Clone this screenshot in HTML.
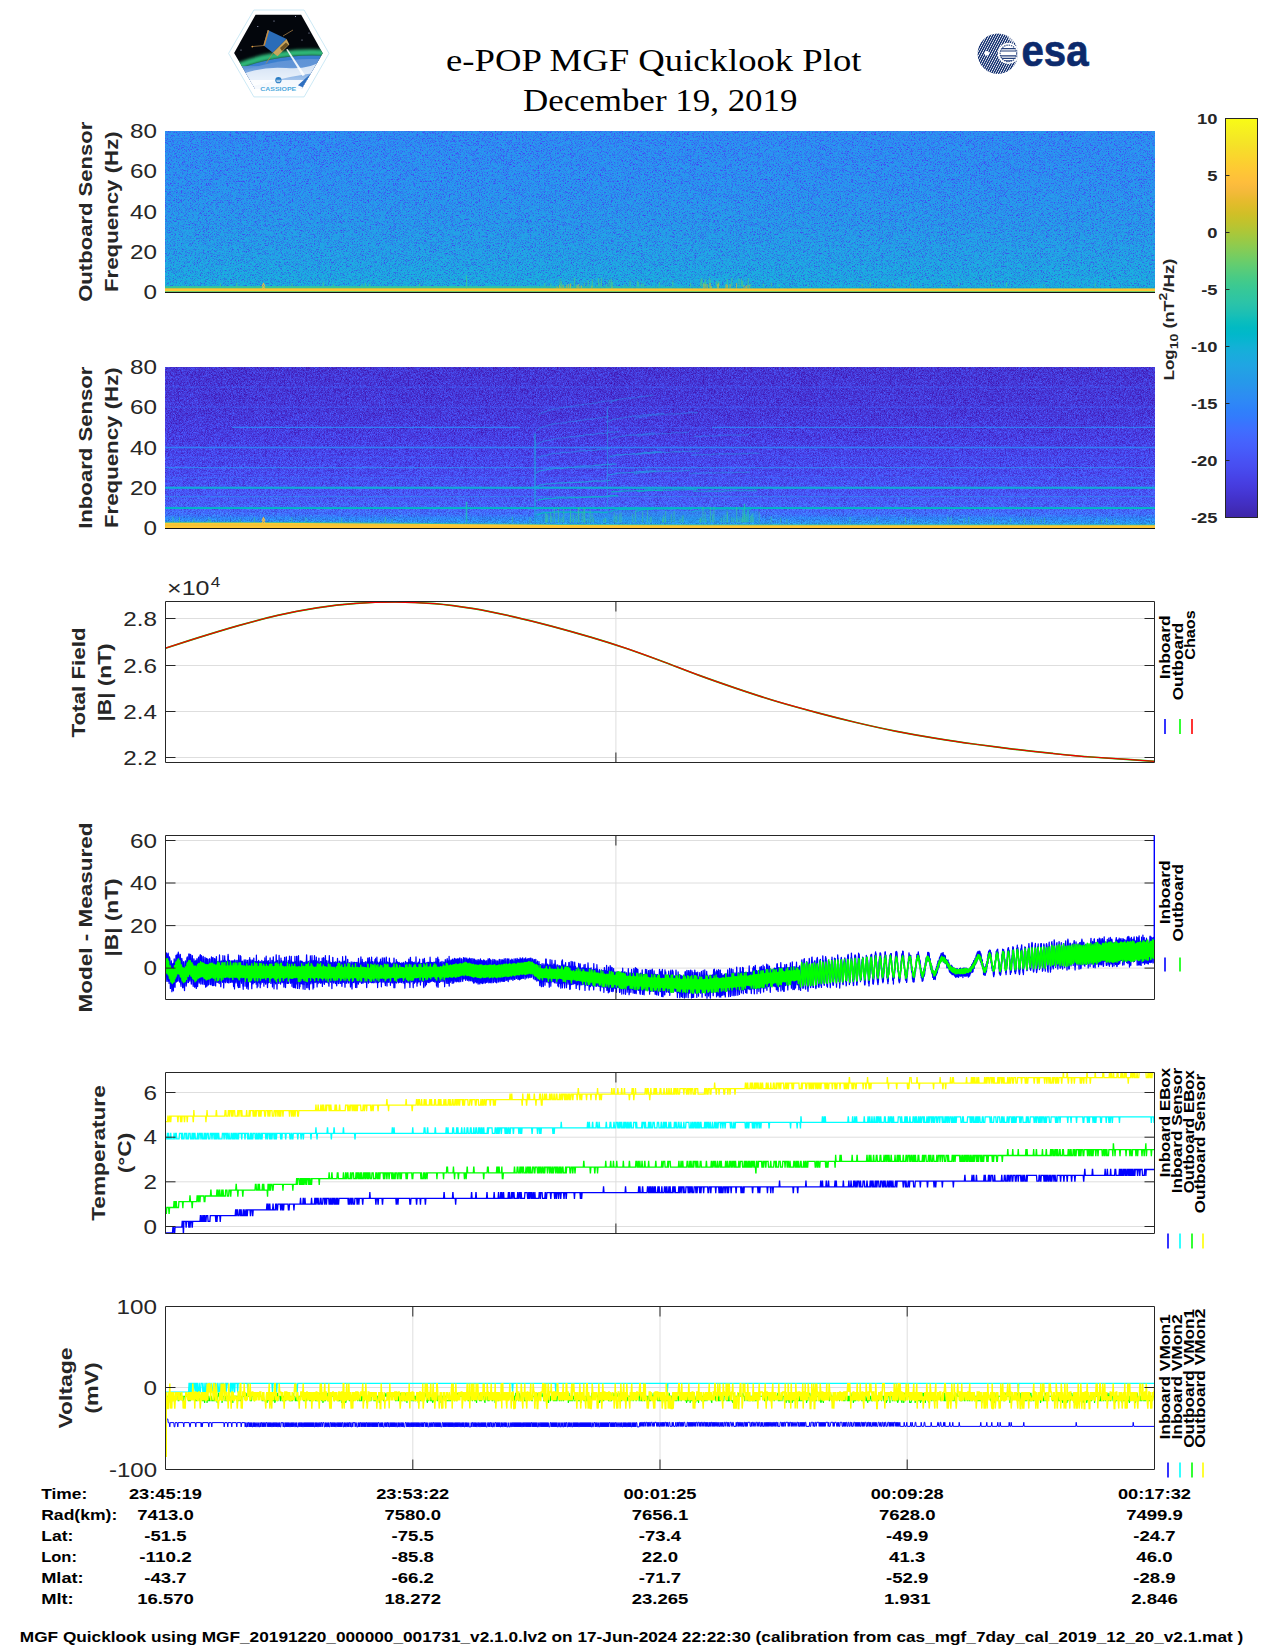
<!DOCTYPE html>
<html><head><meta charset="utf-8"><title>e-POP MGF Quicklook Plot</title><style>html,body{margin:0;padding:0;background:#fff}svg{display:block}text{white-space:pre}</style></head><body><svg width="1275" height="1650" viewBox="0 0 1275 1650" font-family="Liberation Sans, sans-serif" fill="#262626">
<defs><linearGradient id="cb" x1="0" y1="0" x2="0" y2="1"><stop offset="0.0000" stop-color="#f9fb15"/><stop offset="0.0159" stop-color="#f7f51b"/><stop offset="0.0317" stop-color="#f6ef20"/><stop offset="0.0476" stop-color="#f5e924"/><stop offset="0.0635" stop-color="#f5e327"/><stop offset="0.0794" stop-color="#f7dc2a"/><stop offset="0.0952" stop-color="#fad62d"/><stop offset="0.1111" stop-color="#fccf30"/><stop offset="0.1270" stop-color="#fec934"/><stop offset="0.1429" stop-color="#fec338"/><stop offset="0.1587" stop-color="#febe3c"/><stop offset="0.1746" stop-color="#f8ba3d"/><stop offset="0.1905" stop-color="#f0ba36"/><stop offset="0.2063" stop-color="#e6bb2d"/><stop offset="0.2222" stop-color="#dcbd29"/><stop offset="0.2381" stop-color="#d1bf27"/><stop offset="0.2540" stop-color="#c5c22a"/><stop offset="0.2698" stop-color="#b9c431"/><stop offset="0.2857" stop-color="#abc739"/><stop offset="0.3016" stop-color="#9dc943"/><stop offset="0.3175" stop-color="#8fcb4e"/><stop offset="0.3333" stop-color="#81cc59"/><stop offset="0.3492" stop-color="#72cd64"/><stop offset="0.3651" stop-color="#64cd6f"/><stop offset="0.3810" stop-color="#57cc7a"/><stop offset="0.3968" stop-color="#4acb84"/><stop offset="0.4127" stop-color="#3fca8e"/><stop offset="0.4286" stop-color="#37c897"/><stop offset="0.4444" stop-color="#31c69f"/><stop offset="0.4603" stop-color="#2cc4a7"/><stop offset="0.4762" stop-color="#24c1ae"/><stop offset="0.4921" stop-color="#19bfb6"/><stop offset="0.5079" stop-color="#0bbdbd"/><stop offset="0.5238" stop-color="#02bac3"/><stop offset="0.5397" stop-color="#01b8ca"/><stop offset="0.5556" stop-color="#08b5d0"/><stop offset="0.5714" stop-color="#12b1d6"/><stop offset="0.5873" stop-color="#18addb"/><stop offset="0.6032" stop-color="#1ca9df"/><stop offset="0.6190" stop-color="#20a5e3"/><stop offset="0.6349" stop-color="#23a0e5"/><stop offset="0.6508" stop-color="#259be8"/><stop offset="0.6667" stop-color="#2797eb"/><stop offset="0.6825" stop-color="#2b91ef"/><stop offset="0.6984" stop-color="#2d8cf3"/><stop offset="0.7143" stop-color="#2e87f7"/><stop offset="0.7302" stop-color="#2f81fa"/><stop offset="0.7460" stop-color="#327cfc"/><stop offset="0.7619" stop-color="#3875fe"/><stop offset="0.7778" stop-color="#3e6fff"/><stop offset="0.7937" stop-color="#4269fe"/><stop offset="0.8095" stop-color="#4563fd"/><stop offset="0.8254" stop-color="#465efb"/><stop offset="0.8413" stop-color="#4758f8"/><stop offset="0.8571" stop-color="#4852f4"/><stop offset="0.8730" stop-color="#484df0"/><stop offset="0.8889" stop-color="#4747eb"/><stop offset="0.9048" stop-color="#4741e5"/><stop offset="0.9206" stop-color="#463cde"/><stop offset="0.9365" stop-color="#4537d5"/><stop offset="0.9524" stop-color="#4332cb"/><stop offset="0.9683" stop-color="#422ec0"/><stop offset="0.9841" stop-color="#402ab4"/><stop offset="1.0000" stop-color="#3e26a8"/></linearGradient><linearGradient id="g1" x1="0" y1="0" x2="0" y2="1"><stop offset="0.0000" stop-color="#2c8ff0"/><stop offset="0.3383" stop-color="#2994ed"/><stop offset="0.5799" stop-color="#269ae8"/><stop offset="0.7732" stop-color="#22a2e4"/><stop offset="0.8988" stop-color="#1da8e0"/><stop offset="0.9665" stop-color="#1aacdd"/><stop offset="1.0000" stop-color="#02b7cb"/></linearGradient><linearGradient id="g2" x1="0" y1="0" x2="0" y2="1"><stop offset="0.0000" stop-color="#4536d3"/><stop offset="0.2904" stop-color="#4639d9"/><stop offset="0.4356" stop-color="#473ee1"/><stop offset="0.5808" stop-color="#4746ea"/><stop offset="0.7260" stop-color="#484ff2"/><stop offset="0.8422" stop-color="#475cfa"/><stop offset="0.9099" stop-color="#416bfe"/><stop offset="0.9438" stop-color="#2e83f9"/><stop offset="0.9680" stop-color="#2a92ee"/><stop offset="1.0000" stop-color="#21a4e3"/></linearGradient><filter id="n1" x="0" y="0" width="100%" height="100%" color-interpolation-filters="sRGB"><feTurbulence type="fractalNoise" baseFrequency="1.37 1.53" numOctaves="1" seed="7" result="t"/><feComponentTransfer in="t" result="t"><feFuncR type="table" tableValues="0 0 0.05 0.5 0.86 0.96 1 1 1"/></feComponentTransfer><feColorMatrix in="t" type="matrix" values="-0.13 0 0 0 0.6118  0.4 0 0 0 0.1560  -0.03 0 0 0 0.5258  0 0 0 0 1" result="n"/><feComposite in="SourceGraphic" in2="n" operator="arithmetic" k1="0" k2="1" k3="1" k4="-0.5"/></filter><filter id="n2" x="0" y="0" width="100%" height="100%" color-interpolation-filters="sRGB"><feTurbulence type="fractalNoise" baseFrequency="1.37 1.53" numOctaves="1" seed="11" result="t"/><feColorMatrix in="t" type="matrix" values="0.06 0 0 0 0.4700  0.55 0 0 0 0.2250  0.62 0 0 0 0.1900  0 0 0 0 1" result="n"/><feComposite in="SourceGraphic" in2="n" operator="arithmetic" k1="0" k2="1" k3="1" k4="-0.5"/></filter></defs>
<rect width="1275" height="1650" fill="#fff"/>
<text x="446.00" y="70.80" font-size="32" fill="#000" textLength="415.50" lengthAdjust="spacingAndGlyphs" font-family="Liberation Serif, serif">e-POP MGF Quicklook Plot</text>
<text x="523.00" y="110.90" font-size="32" fill="#000" textLength="274.50" lengthAdjust="spacingAndGlyphs" font-family="Liberation Serif, serif">December 19, 2019</text>
<g>
<defs><clipPath id="hx"><polygon points="234.1,52.9 255.6,14.8 301.2,14.8 322.7,53.2 301.6,89.1 255.2,89.1"/></clipPath><linearGradient id="earth" x1="0" y1="0" x2="0" y2="1"><stop offset="0" stop-color="#5f93d6"/><stop offset="0.45" stop-color="#a9c8ee"/><stop offset="1" stop-color="#f4f8ff"/></linearGradient><linearGradient id="aur" x1="0" y1="0" x2="0" y2="1"><stop offset="0" stop-color="#021a10"/><stop offset="0.6" stop-color="#1f8f5a"/><stop offset="1" stop-color="#4fc58e"/></linearGradient></defs>
<polygon points="228.6,53.4 253.9,10 304.1,10 329,53.4 304.1,96.9 253.9,96.9" fill="#fff" stroke="#bfe3f3" stroke-width="0.8"/>
<g clip-path="url(#hx)">
<rect x="230" y="12" width="96" height="80" fill="#03060c"/>
<filter id="bl" x="-5%" y="-5%" width="110%" height="110%"><feGaussianBlur stdDeviation="1.6"/></filter>
<circle cx="312" cy="262" r="209.5" fill="none" stroke="#2fb878" stroke-width="6.5" filter="url(#bl)"/>
<circle cx="312" cy="262" r="206.5" fill="#3a7fcf"/>
<circle cx="312" cy="266" r="207" fill="url(#earth)"/>
<rect x="230" y="66" width="96" height="26" fill="url(#earth)" opacity="0.8"/>
<path d="M240,75 Q262,66 286,68 T322,60 L322,72 Q290,76 270,82 T240,86Z" fill="#fff" opacity="0.75"/>
<rect x="240" y="80" width="80" height="10" fill="#fff" opacity="0.85"/>
<polygon points="297.9,85.3 310.4,74 304,87.8" fill="#2d6fc0"/>
<polygon points="286.2,49.5 287.6,49 305,75 302.5,76" fill="#fff" opacity="0.9"/>
<polygon points="267.7,30.1 286.6,38.9 272.8,52.7 263.4,45.2" fill="#2a6cb8"/>
<polygon points="267.7,30.1 269.2,30.6 264.8,45.8 263.4,45.2" fill="#c88a3a"/>
<polygon points="286.6,38.9 289.3,44.5 277.5,56.3 272.8,52.7" fill="#c9a55c"/>
<polygon points="280,48 286,42.5 288.5,45 282,51" fill="#6b5222"/>
<path d="M264,45.5 L252,46.6 M273,53 L266,63.5 M283,36 L293,30" stroke="#b88a4a" stroke-width="0.7" fill="none"/>
<circle cx="252.3" cy="46.6" r="0.9" fill="#e8a040"/>
<circle cx="257.8" cy="26.5" r="0.5" fill="#cfd8ff"/>
<circle cx="241" cy="50" r="0.5" fill="#cfd8ff"/>
<circle cx="295.5" cy="16.5" r="0.5" fill="#cfd8ff"/>
<circle cx="302" cy="40" r="0.5" fill="#cfd8ff"/>
<circle cx="274" cy="21" r="0.5" fill="#cfd8ff"/>
<circle cx="309" cy="33" r="0.5" fill="#cfd8ff"/>
</g>
<circle cx="278.4" cy="80.2" r="3.1" fill="#2a7cc4"/><path d="M276.3,80.3h4.4M276.6,81.6h3.6" stroke="#fff" stroke-width="0.7"/>
<text x="260.20" y="90.60" font-size="5.2" font-weight="bold" fill="#4fa9dc" textLength="36.00" lengthAdjust="spacingAndGlyphs">CASSIOPE</text>
</g>
<g>
<defs><pattern id="hat" width="2.1" height="2.1" patternUnits="userSpaceOnUse" patternTransform="rotate(-62)"><rect width="2.1" height="2.1" fill="#fff"/><rect width="2.1" height="1.35" fill="#0c2a6c"/></pattern><clipPath id="ec"><circle cx="997.8" cy="53.7" r="20.2"/></clipPath><clipPath id="ee"><circle cx="1008.4" cy="53.4" r="8.3"/></clipPath></defs>
<circle cx="997.8" cy="53.7" r="20.2" fill="url(#hat)"/>
<g clip-path="url(#ec)"><circle cx="1008.4" cy="53.4" r="10.6" fill="#fff"/><circle cx="1015" cy="36" r="7" fill="#fff" opacity="0.6"/></g>
<g clip-path="url(#ee)"><path d="M1000,48.6h17M1000,51h17M1000,55.8h17M1000,58.4h17M1000,60.9h17" stroke="#0c2a6c" stroke-width="1.15" opacity="0.9"/><rect x="1007" y="52.4" width="12" height="2.6" fill="#fff"/></g>
<circle cx="1008.4" cy="53.4" r="8.3" fill="none" stroke="#0c2a6c" stroke-width="1.1" stroke-dasharray="1.4 0.9" opacity="0.85"/>
<circle cx="986.8" cy="53.3" r="2.4" fill="#fff"/>
<text x="1021.50" y="66.00" font-size="43.5" font-weight="bold" fill="#0c2a6c" textLength="67.00" lengthAdjust="spacingAndGlyphs" stroke="#0c2a6c" stroke-width="0.7">esa</text>
</g>
<rect x="165" y="131" width="990" height="161" fill="url(#g1)" filter="url(#n1)"/>
<linearGradient id="fade" x1="165" x2="1155" y1="0" y2="0" gradientUnits="userSpaceOnUse"><stop offset="0" stop-color="#fff" stop-opacity="1"/><stop offset="0.3" stop-color="#fff" stop-opacity="1"/><stop offset="0.62" stop-color="#fff" stop-opacity="0"/><stop offset="1" stop-color="#fff" stop-opacity="0"/></linearGradient><mask id="mfade"><rect x="165" y="280" width="990" height="20" fill="url(#fade)"/></mask>
<g mask="url(#mfade)">
<rect x="165" y="285.8" width="990" height="0.80" fill="#14bfb8"/>
<rect x="165" y="286.5" width="990" height="1.80" fill="#51cc7f"/>
<rect x="165" y="288.2" width="990" height="0.60" fill="#b0c636"/>
</g>
<rect x="165" y="287.3" width="990" height="1.0" fill="#04bbc2" opacity=".5"/>
<rect x="165" y="288.4" width="990" height="2.80" fill="#fec735"/>
<rect x="165" y="291.1" width="990" height="1.00" fill="#7dcc5b"/>
<path d="M592.4,286.5v-7.2M601.4,286.5v-8.6M598.5,286.5v-8.5M561.5,286.5v-5.3M609.1,286.5v-6.5M606.8,286.5v-2.8M584.4,286.5v-3.7M588.3,286.5v-6.0M560.7,286.5v-3.5M574.5,286.5v-8.4M599.8,286.5v-3.1M601.5,286.5v-3.0M592.1,286.5v-2.9M560.1,286.5v-8.1M570.9,286.5v-3.5M611.1,286.5v-8.1M637.5,286.5v-5.8M659.5,286.5v-4.7M630.0,286.5v-5.8M672.8,286.5v-5.9M690.6,286.5v-3.2M643.8,286.5v-2.7M624.8,286.5v-2.3M638.5,286.5v-4.4M612.3,286.5v-4.7M641.7,286.5v-3.2M742.6,286.5v-5.4M716.4,286.5v-5.4M736.6,286.5v-2.4M750.7,286.5v-2.2M739.0,286.5v-7.9M700.9,286.5v-7.5M719.0,286.5v-6.0M700.5,286.5v-2.3M709.4,286.5v-8.7M710.2,286.5v-7.3M748.3,286.5v-8.6M717.9,286.5v-4.5M727.3,286.5v-7.4M705.6,286.5v-7.2M741.5,286.5v-8.0M701.9,286.5v-8.6M704.7,286.5v-4.4M731.8,286.5v-8.4M870.3,286.5v-3.8M941.7,286.5v-2.6M862.2,286.5v-2.4M779.2,286.5v-2.3M991.8,286.5v-4.0M808.2,286.5v-2.1M1095.4,286.5v-3.1M893.2,286.5v-2.5M958.7,286.5v-3.7M910.6,286.5v-2.8M771.4,286.5v-3.8M763.4,286.5v-3.0M1043.8,286.5v-2.3M1006.6,286.5v-3.9M419.6,286.5v-3.6M220.5,286.5v-2.9M236.7,286.5v-3.7M292.0,286.5v-2.9M559.7,286.5v-3.7M550.9,286.5v-2.9M365.5,286.5v-3.5M362.0,286.5v-2.6M333.4,286.5v-2.3M323.3,286.5v-4.0M544.7,286.5v-3.3M369.7,286.5v-2.7M466.5,288.5v-13" stroke="#44cb8a" stroke-width="1.1" opacity="0.7" fill="none"/>
<path d="M568.7,288.8v-4.9M563.1,288.8v-4.0M560.8,288.8v-2.4M612.0,288.8v-2.2M591.9,288.8v-3.1M581.4,288.8v-3.2M566.8,288.8v-4.4M561.0,288.8v-2.3M557.1,288.8v-2.4M578.8,288.8v-4.7M577.2,288.8v-1.9M570.5,288.8v-5.0M559.5,288.8v-3.7M577.1,288.8v-3.8M717.6,288.8v-4.6M725.9,288.8v-4.4M746.9,288.8v-4.1M707.4,288.8v-1.8M749.2,288.8v-3.7M710.1,288.8v-5.8M730.1,288.8v-4.8M745.8,288.8v-2.8M718.5,288.8v-5.5M707.0,288.8v-4.9M705.1,288.8v-4.6M736.5,288.8v-5.8M743.9,288.8v-3.8M710.3,288.8v-2.2M727.5,288.8v-3.8M703.7,288.8v-5.6M726.4,288.8v-4.7M711.4,288.8v-2.6" stroke="#dcbd29" stroke-width="1.1" opacity="0.6" fill="none"/>
<path d="M261.5,289.8l2,-3 2,3M262,286.6l1.5,-3 1.5,3" stroke="#f7ba3c" stroke-width="1.1" fill="none" opacity=".9"/>
<path d="M165,292.5H1155" stroke="#111" stroke-width="1"/>
<text x="157.00" y="138.15" font-size="20.0" text-anchor="end" textLength="26.97" lengthAdjust="spacingAndGlyphs">80</text>
<text x="157.00" y="178.45" font-size="20.0" text-anchor="end" textLength="26.97" lengthAdjust="spacingAndGlyphs">60</text>
<text x="157.00" y="218.75" font-size="20.0" text-anchor="end" textLength="26.97" lengthAdjust="spacingAndGlyphs">40</text>
<text x="157.00" y="259.05" font-size="20.0" text-anchor="end" textLength="26.97" lengthAdjust="spacingAndGlyphs">20</text>
<text x="157.00" y="299.35" font-size="20.0" text-anchor="end" textLength="13.48" lengthAdjust="spacingAndGlyphs">0</text>
<text x="92.00" y="301.80" font-size="19.0" font-weight="bold" transform="rotate(-90 92.00 301.80)" textLength="180.20" lengthAdjust="spacingAndGlyphs">Outboard Sensor</text>
<text x="118.00" y="292.11" font-size="19.0" font-weight="bold" transform="rotate(-90 118.00 292.11)" textLength="160.83" lengthAdjust="spacingAndGlyphs">Frequency (Hz)</text>
<rect x="165" y="367.0" width="990" height="161" fill="url(#g2)" filter="url(#n2)"/>
<path d="M165,387.1H1155" stroke="#3c72ff" stroke-width="1.0" opacity="0.45"/>
<path d="M165,407.2H1155" stroke="#3c72ff" stroke-width="1.0" opacity="0.5"/>
<path d="M232,427.4H520" stroke="#2e87f7" stroke-width="1.2" opacity="0.9"/>
<path d="M712,427.4H1155" stroke="#2e87f7" stroke-width="1.2" opacity="0.85"/>
<path d="M520,427.4H712" stroke="#337bfd" stroke-width="1.0" opacity="0.4"/>
<path d="M165,447.5H1155" stroke="#2e87f7" stroke-width="1.4" opacity="0.9"/>
<path d="M165,467.6H1155" stroke="#2d8bf4" stroke-width="1.1" opacity="0.8"/>
<path d="M165,477.7H1155" stroke="#2e83f9" stroke-width="1.0" opacity="0.4"/>
<path d="M165,457.6H1155" stroke="#337bfd" stroke-width="1.0" opacity="0.3"/>
<path d="M165,496.6H1155" stroke="#2a92ee" stroke-width="1.2" opacity="0.55"/>
<path d="M165,517.9H1155" stroke="#2699e9" stroke-width="1.0" opacity="0.35"/>
<path d="M165,487.8H1155" stroke="#0eb2d4" stroke-width="2.0" opacity="0.95"/>
<path d="M165,507.9H1155" stroke="#01b9c6" stroke-width="2.0" opacity="0.95"/>
<rect x="536" y="510.9" width="222" height="11.6" fill="#19addc" opacity=".35"/>
<path d="M536.5,515.1L540.5,513.6L544.5,512.7L548.5,512.6L552.5,512.4L556.5,511.9L560.5,511.9L564.5,512.5L568.5,512.0L572.5,512.0L576.5,512.6L580.5,512.2L584.5,512.5L588.5,512.2L592.5,512.3L596.5,511.9L600.5,512.3L604.5,512.5L608.5,512.2" stroke="#04bbc2" stroke-width="1.3" fill="none" opacity="0.84"/>
<path d="M538.0,500.0L542.0,499.3L546.0,498.5L550.0,498.7L554.0,498.4L558.0,498.0L562.0,497.6L566.0,498.1L570.0,497.6L574.0,497.7L578.0,497.7L582.0,497.4L586.0,497.4L590.0,496.8L594.0,497.0L598.0,496.6L602.0,496.8L606.0,496.6L610.0,495.8L614.0,495.7L618.0,495.6" stroke="#04bbc2" stroke-width="1.3" fill="none" opacity="0.78"/>
<path d="M535.0,487.3L539.0,485.4L543.0,484.7L547.0,483.9L551.0,483.7L555.0,483.3L559.0,483.0L563.0,482.9L567.0,482.7L571.0,482.7L575.0,482.3L579.0,482.3L583.0,482.0L587.0,481.9L591.0,481.4L595.0,480.8L599.0,481.2L603.0,481.0L607.0,480.7L611.0,480.3" stroke="#1ea7e1" stroke-width="1.3" fill="none" opacity="0.72"/>
<path d="M536.5,472.6L540.5,470.6L544.5,470.1L548.5,469.3L552.5,468.6L556.5,468.0L560.5,468.3L564.5,468.1L568.5,467.1L572.5,467.4L576.5,466.7L580.5,466.2L584.5,466.1L588.5,466.1L592.5,465.9L596.5,465.0L600.5,465.1L604.5,464.4L608.5,464.6L612.5,464.0L616.5,464.2" stroke="#1ea7e1" stroke-width="1.3" fill="none" opacity="0.66"/>
<path d="M538.0,458.0L542.0,456.0L546.0,455.4L550.0,454.2L554.0,453.4L558.0,453.4L562.0,452.5L566.0,452.3L570.0,452.1L574.0,451.8L578.0,451.1L582.0,450.6L586.0,450.9L590.0,450.1L594.0,450.3L598.0,449.8L602.0,449.1L606.0,448.8L610.0,448.4" stroke="#2a92ee" stroke-width="1.3" fill="none" opacity="0.60"/>
<path d="M535.0,446.0L539.0,443.1L543.0,441.3L547.0,440.3L551.0,439.8L555.0,438.8L559.0,438.2L563.0,437.9L567.0,437.1L571.0,436.7L575.0,436.8L579.0,436.0L583.0,435.5L587.0,434.7L591.0,434.5L595.0,434.2L599.0,433.3L603.0,433.4L607.0,432.9L611.0,432.0L615.0,432.1L619.0,431.5" stroke="#2a92ee" stroke-width="1.3" fill="none" opacity="0.54"/>
<path d="M536.5,430.8L540.5,427.8L544.5,426.4L548.5,425.4L552.5,424.0L556.5,423.3L560.5,423.2L564.5,422.9L568.5,421.8L572.5,421.4L576.5,421.0L580.5,420.3L584.5,419.8L588.5,419.2L592.5,418.8L596.5,418.4L600.5,417.7L604.5,417.2L608.5,417.0" stroke="#2a92ee" stroke-width="1.3" fill="none" opacity="0.48"/>
<path d="M538.0,415.0L542.0,412.9L546.0,411.4L550.0,409.9L554.0,409.0L558.0,408.7L562.0,407.6L566.0,407.0L570.0,406.6L574.0,406.2L578.0,405.1L582.0,404.7L586.0,404.1L590.0,403.9L594.0,403.0L598.0,402.7L602.0,401.6L606.0,401.1L610.0,400.8L614.0,400.4L618.0,399.5" stroke="#2a92ee" stroke-width="1.3" fill="none" opacity="0.42"/>
<path d="M609.5,511.8L613.5,510.2L617.5,509.8L621.5,509.3L625.5,509.6L629.5,509.6L633.5,509.0L637.5,509.1L641.5,509.5L645.5,509.4L649.5,509.5L653.5,509.1" stroke="#04bbc2" stroke-width="1.3" fill="none" opacity="0.79"/>
<path d="M611.0,491.8L615.0,491.5L619.0,491.6L623.0,491.0L627.0,490.9L631.0,490.8L635.0,490.7L639.0,490.5L643.0,490.8L647.0,490.0L651.0,489.8L655.0,490.4L659.0,490.2L663.0,490.2" stroke="#04bbc2" stroke-width="1.3" fill="none" opacity="0.73"/>
<path d="M608.0,474.8L612.0,474.3L616.0,473.7L620.0,472.8L624.0,472.9L628.0,472.7L632.0,472.4L636.0,472.0L640.0,471.7L644.0,471.5L648.0,471.2L652.0,470.9L656.0,471.1" stroke="#1ea7e1" stroke-width="1.3" fill="none" opacity="0.67"/>
<path d="M609.5,456.5L613.5,455.9L617.5,454.6L621.5,454.8L625.5,454.3L629.5,454.2L633.5,453.9L637.5,453.6L641.5,453.1L645.5,452.3L649.5,452.7L653.5,452.0L657.5,451.8L661.5,451.8" stroke="#1ea7e1" stroke-width="1.3" fill="none" opacity="0.61"/>
<path d="M611.0,438.3L615.0,437.1L619.0,436.8L623.0,436.1L627.0,435.4L631.0,435.0L635.0,435.1L639.0,434.4L643.0,434.4L647.0,433.7L651.0,433.2L655.0,433.2" stroke="#2a92ee" stroke-width="1.3" fill="none" opacity="0.55"/>
<path d="M608.0,422.0L612.0,419.6L616.0,419.0L620.0,418.3L624.0,417.7L628.0,417.2L632.0,416.1L636.0,416.2L640.0,415.9L644.0,414.9L648.0,414.7L652.0,414.3L656.0,414.1L660.0,413.6L664.0,413.3" stroke="#2a92ee" stroke-width="1.3" fill="none" opacity="0.49"/>
<path d="M609.5,403.3L613.5,400.9L617.5,399.8L621.5,399.1L625.5,398.5L629.5,397.9L633.5,398.1L637.5,397.5L641.5,396.4L645.5,396.3L649.5,395.7L653.5,395.2" stroke="#2a92ee" stroke-width="1.3" fill="none" opacity="0.43"/>
<path d="M635.5,511.6L639.5,510.4L643.5,509.7L647.5,509.2L651.5,508.9L655.5,509.0L659.5,508.8L663.5,509.1L667.5,509.2L671.5,509.0L675.5,508.7L679.5,508.8L683.5,509.0L687.5,509.2L691.5,509.3" stroke="#04bbc2" stroke-width="1.3" fill="none" opacity="0.64"/>
<path d="M637.0,491.3L641.0,491.3L645.0,490.9L649.0,490.6L653.0,490.4L657.0,490.4L661.0,490.5L665.0,490.1L669.0,490.3L673.0,490.0L677.0,489.7L681.0,489.8L685.0,489.9L689.0,489.3L693.0,489.5L697.0,489.4" stroke="#04bbc2" stroke-width="1.3" fill="none" opacity="0.58"/>
<path d="M634.0,474.0L638.0,473.3L642.0,472.3L646.0,472.5L650.0,472.1L654.0,471.5L658.0,471.5L662.0,471.1L666.0,471.5L670.0,471.2L674.0,471.3L678.0,471.1L682.0,470.8L686.0,470.7L690.0,470.4" stroke="#1ea7e1" stroke-width="1.3" fill="none" opacity="0.52"/>
<path d="M635.5,454.8L639.5,454.3L643.5,453.4L647.5,453.1L651.5,453.3L655.5,452.5L659.5,452.3L663.5,452.1L667.5,452.6L671.5,451.8L675.5,451.5L679.5,452.0L683.5,451.2L687.5,451.6L691.5,451.3L695.5,451.2L699.5,451.1" stroke="#1ea7e1" stroke-width="1.3" fill="none" opacity="0.46"/>
<path d="M637.0,436.5L641.0,435.8L645.0,434.6L649.0,434.8L653.0,434.3L657.0,434.2L661.0,433.4L665.0,433.7L669.0,433.6L673.0,432.7L677.0,432.6L681.0,432.6L685.0,432.6L689.0,431.8" stroke="#2a92ee" stroke-width="1.3" fill="none" opacity="0.40"/>
<path d="M634.0,419.1L638.0,417.6L642.0,417.0L646.0,416.5L650.0,415.7L654.0,415.3L658.0,415.0L662.0,414.7L666.0,414.5L670.0,413.9L674.0,413.9L678.0,414.0L682.0,413.3L686.0,413.3L690.0,412.5L694.0,412.7L698.0,412.4" stroke="#2a92ee" stroke-width="1.3" fill="none" opacity="0.40"/>
<path d="M691.5,512.0L695.5,510.7L699.5,510.1L703.5,510.0L707.5,510.1L711.5,509.4L715.5,509.4L719.5,509.9L723.5,510.0L727.5,509.7L731.5,509.6L735.5,509.8L739.5,509.4L743.5,509.5L747.5,509.4L751.5,509.7" stroke="#04bbc2" stroke-width="1.3" fill="none" opacity="0.49"/>
<path d="M693.0,491.4L697.0,491.2L701.0,491.4L705.0,491.6L709.0,491.0L713.0,491.3L717.0,491.0L721.0,491.3L725.0,491.0L729.0,490.7L733.0,490.6L737.0,490.4L741.0,490.8L745.0,490.6L749.0,490.4L753.0,490.5L757.0,490.5" stroke="#04bbc2" stroke-width="1.3" fill="none" opacity="0.43"/>
<path d="M690.0,473.9L694.0,473.0L698.0,473.5L702.0,472.9L706.0,472.9L710.0,472.7L714.0,472.9L718.0,472.8L722.0,472.5L726.0,472.4L730.0,472.5L734.0,472.6L738.0,472.1L742.0,472.3L746.0,472.5L750.0,472.0" stroke="#1ea7e1" stroke-width="1.3" fill="none" opacity="0.40"/>
<path d="M691.5,455.1L695.5,454.7L699.5,454.8L703.5,454.6L707.5,454.7L711.5,454.5L715.5,453.9L719.5,453.8L723.5,453.8L727.5,453.6L731.5,453.9L735.5,454.0L739.5,453.9L743.5,453.3L747.5,453.7L751.5,453.2L755.5,453.2L759.5,453.3" stroke="#1ea7e1" stroke-width="1.3" fill="none" opacity="0.40"/>
<path d="M693.0,436.6L697.0,436.2L701.0,436.5L705.0,435.9L709.0,435.8L713.0,435.8L717.0,435.8L721.0,435.1L725.0,435.3L729.0,435.2L733.0,435.2L737.0,434.8L741.0,435.0L745.0,435.2L749.0,434.6" stroke="#2a92ee" stroke-width="1.3" fill="none" opacity="0.40"/>
<path d="M535,522.0V433.4" stroke="#19addc" stroke-width="1.4" opacity=".75"/>
<path d="M607.5,522.0V407.2" stroke="#23a0e5" stroke-width="1.1" opacity=".55"/>
<path d="M466.5,522.0V501.8M744.5,522.0V503.9M748,522.0V509.9" stroke="#1dc0b3" stroke-width="1.5" opacity=".8"/>
<path d="M576.0,522.5v-7.9M554.3,522.5v-14.3M545.4,522.5v-9.5M605.2,522.5v-4.1M582.1,522.5v-11.0M547.7,522.5v-7.9M592.1,522.5v-8.9M593.6,522.5v-5.0M560.9,522.5v-4.4M578.9,522.5v-15.0M584.6,522.5v-13.1M570.7,522.5v-12.7M551.8,522.5v-6.8M590.2,522.5v-12.4M573.3,522.5v-4.1M562.9,522.5v-5.7M563.8,522.5v-13.5M558.4,522.5v-14.5M603.9,522.5v-3.7M570.4,522.5v-9.4M546.6,522.5v-8.5M605.7,522.5v-4.5M585.0,522.5v-4.6M583.8,522.5v-14.6M558.6,522.5v-3.1M550.6,522.5v-10.0M546.2,522.5v-4.1M578.3,522.5v-15.0M573.1,522.5v-8.2M587.8,522.5v-4.2M663.0,522.5v-4.6M665.6,522.5v-11.6M616.8,522.5v-8.0M665.4,522.5v-4.3M635.6,522.5v-12.0M699.8,522.5v-4.1M674.1,522.5v-11.6M632.8,522.5v-8.5M615.8,522.5v-6.3M671.3,522.5v-8.3M680.2,522.5v-3.8M642.6,522.5v-10.8M663.4,522.5v-7.1M647.4,522.5v-11.9M662.6,522.5v-3.2M682.3,522.5v-6.0M650.2,522.5v-4.9M651.1,522.5v-5.9M619.8,522.5v-8.7M621.1,522.5v-10.1M614.2,522.5v-10.0M683.1,522.5v-7.5M742.6,522.5v-6.2M744.3,522.5v-8.5M713.9,522.5v-15.5M724.1,522.5v-7.8M751.6,522.5v-7.8M740.1,522.5v-5.2M750.6,522.5v-6.4M703.0,522.5v-15.7M710.4,522.5v-15.3M759.2,522.5v-10.9M700.7,522.5v-3.8M712.5,522.5v-8.1M736.7,522.5v-15.6M721.3,522.5v-4.8M733.7,522.5v-4.8M705.2,522.5v-10.2M741.8,522.5v-3.9M727.1,522.5v-12.1M745.9,522.5v-8.0M753.2,522.5v-5.2M742.9,522.5v-13.0M752.8,522.5v-9.4M706.0,522.5v-3.6M731.7,522.5v-5.3M737.8,522.5v-4.1M746.8,522.5v-5.9M700.8,522.5v-5.3M727.4,522.5v-10.3M911.4,522.5v-3.5M948.0,522.5v-5.8M968.8,522.5v-5.8M771.2,522.5v-6.0M1106.7,522.5v-4.6M964.2,522.5v-4.6M1114.7,522.5v-3.2M1010.7,522.5v-4.6M877.1,522.5v-5.2M1041.1,522.5v-3.3M1032.8,522.5v-4.4M951.2,522.5v-4.9M780.6,522.5v-4.8M905.5,522.5v-5.6M850.1,522.5v-5.5M1044.5,522.5v-4.9M1101.6,522.5v-3.1M992.8,522.5v-4.8M1024.4,522.5v-4.2M786.9,522.5v-3.6M392.0,522.5v-3.5M193.7,522.5v-4.1M341.6,522.5v-4.6M179.5,522.5v-5.3M291.8,522.5v-5.3M173.1,522.5v-5.9M385.4,522.5v-5.9M530.0,522.5v-5.5M208.8,522.5v-4.0M254.4,522.5v-5.3M240.1,522.5v-3.7M210.4,522.5v-3.4M512.4,522.5v-5.9M305.9,522.5v-5.2" stroke="#37c897" stroke-width="1" opacity="0.6" fill="none"/>
<polygon points="165,528.1 165,521.8 300,522.0 400,522.8 470,523.4 560,524.1 700,524.3 1155,524.4 1155,528.1" fill="#37c897" opacity=".8"/>
<polygon points="165,528.1 165,522.7 300,522.9 400,523.7 470,524.3 560,525.0 700,525.2 1155,525.3 1155,528.1" fill="#fec735"/>
<path d="M165,525.0H420" stroke="#dcbd29" stroke-width="0.7" opacity=".8"/>
<path d="M261.5,524l2,-3.5 2,3.5M262,520.8l1.5,-3 1.5,3" stroke="#febf3b" stroke-width="1.1" fill="none" opacity=".95"/>
<path d="M165,528.5H1155" stroke="#111" stroke-width="1"/>
<text x="157.00" y="374.15" font-size="20.0" text-anchor="end" textLength="26.97" lengthAdjust="spacingAndGlyphs">80</text>
<text x="157.00" y="414.45" font-size="20.0" text-anchor="end" textLength="26.97" lengthAdjust="spacingAndGlyphs">60</text>
<text x="157.00" y="454.75" font-size="20.0" text-anchor="end" textLength="26.97" lengthAdjust="spacingAndGlyphs">40</text>
<text x="157.00" y="495.05" font-size="20.0" text-anchor="end" textLength="26.97" lengthAdjust="spacingAndGlyphs">20</text>
<text x="157.00" y="535.35" font-size="20.0" text-anchor="end" textLength="13.48" lengthAdjust="spacingAndGlyphs">0</text>
<text x="92.00" y="528.79" font-size="19.0" font-weight="bold" transform="rotate(-90 92.00 528.79)" textLength="162.19" lengthAdjust="spacingAndGlyphs">Inboard Sensor</text>
<text x="118.00" y="528.11" font-size="19.0" font-weight="bold" transform="rotate(-90 118.00 528.11)" textLength="160.83" lengthAdjust="spacingAndGlyphs">Frequency (Hz)</text>
<rect x="1225.5" y="118.5" width="32" height="399" fill="url(#cb)" stroke="#262626" stroke-width="1"/>
<text x="1217.50" y="123.80" font-size="14.8" font-weight="bold" text-anchor="end" textLength="20.44" lengthAdjust="spacingAndGlyphs">10</text>
<path d="M1225.5,175.5h4" stroke="#262626" stroke-width="1"/>
<text x="1217.50" y="180.80" font-size="14.8" font-weight="bold" text-anchor="end" textLength="10.22" lengthAdjust="spacingAndGlyphs">5</text>
<path d="M1225.5,232.5h4" stroke="#262626" stroke-width="1"/>
<text x="1217.50" y="237.80" font-size="14.8" font-weight="bold" text-anchor="end" textLength="10.22" lengthAdjust="spacingAndGlyphs">0</text>
<path d="M1225.5,289.5h4" stroke="#262626" stroke-width="1"/>
<text x="1217.50" y="294.80" font-size="14.8" font-weight="bold" text-anchor="end" textLength="16.31" lengthAdjust="spacingAndGlyphs">-5</text>
<path d="M1225.5,346.5h4" stroke="#262626" stroke-width="1"/>
<text x="1217.50" y="351.80" font-size="14.8" font-weight="bold" text-anchor="end" textLength="26.53" lengthAdjust="spacingAndGlyphs">-10</text>
<path d="M1225.5,403.5h4" stroke="#262626" stroke-width="1"/>
<text x="1217.50" y="408.80" font-size="14.8" font-weight="bold" text-anchor="end" textLength="26.53" lengthAdjust="spacingAndGlyphs">-15</text>
<path d="M1225.5,460.5h4" stroke="#262626" stroke-width="1"/>
<text x="1217.50" y="465.80" font-size="14.8" font-weight="bold" text-anchor="end" textLength="26.53" lengthAdjust="spacingAndGlyphs">-20</text>
<text x="1217.50" y="522.80" font-size="14.8" font-weight="bold" text-anchor="end" textLength="26.53" lengthAdjust="spacingAndGlyphs">-25</text>
<g transform="rotate(-90 1174.0 380.3)" font-weight="bold">
<text x="1174.00" y="380.30" font-size="14.8" font-weight="bold" textLength="30.94" lengthAdjust="spacingAndGlyphs">Log</text>
<text x="1204.94" y="384.80" font-size="11" font-weight="bold" textLength="15.63" lengthAdjust="spacingAndGlyphs">10</text>
<text x="1225.85" y="380.30" font-size="14.8" font-weight="bold" textLength="28.05" lengthAdjust="spacingAndGlyphs">(nT</text>
<text x="1253.90" y="373.80" font-size="11" font-weight="bold" textLength="7.82" lengthAdjust="spacingAndGlyphs">2</text>
<text x="1261.72" y="380.30" font-size="14.8" font-weight="bold" textLength="33.98" lengthAdjust="spacingAndGlyphs">/Hz)</text>
</g>
<path d="M165.5,618.5H1154.5M165.5,665.5H1154.5M165.5,711.5H1154.5M165.5,757.5H1154.5M615.9,601.5V762.5" stroke="#dedede" stroke-width="1" fill="none"/>
<path d="M165.5,648.2C171.1,646.4 187.0,641.2 199.2,637.4C211.3,633.6 225.3,629.3 238.4,625.6C251.5,621.9 264.5,618.4 277.6,615.4C290.7,612.4 303.8,609.9 316.9,607.9C330.0,605.9 343.0,604.4 356.1,603.4C369.2,602.4 382.2,602.0 395.3,602.0C408.4,602.0 421.4,602.5 434.5,603.6C447.6,604.7 460.6,606.5 473.7,608.7C486.8,610.9 499.8,613.7 512.9,616.6C526.0,619.5 539.1,622.9 552.2,626.4C565.3,629.9 579.1,633.8 591.4,637.4C603.6,641.0 614.3,644.4 625.7,648.2C637.1,652.1 647.8,656.0 660.0,660.5C672.2,665.0 686.1,670.6 699.2,675.4C712.3,680.2 725.3,684.7 738.4,689.1C751.5,693.5 764.5,697.8 777.6,701.7C790.7,705.6 803.8,709.1 816.9,712.6C830.0,716.1 843.0,719.4 856.1,722.5C869.2,725.6 882.2,728.5 895.3,731.1C908.4,733.7 921.4,736.0 934.5,738.1C947.6,740.2 960.6,742.2 973.7,744.0C986.8,745.8 999.8,747.5 1012.9,749.1C1026.0,750.7 1039.1,752.1 1052.2,753.4C1065.3,754.7 1078.3,756.0 1091.4,757.0C1104.5,758.0 1120.1,759.0 1130.6,759.7C1141.1,760.4 1150.5,761.0 1154.5,761.3" stroke="#00d000" stroke-width="1.7" fill="none"/>
<path d="M165.5,648.2C171.1,646.4 187.0,641.2 199.2,637.4C211.3,633.6 225.3,629.3 238.4,625.6C251.5,621.9 264.5,618.4 277.6,615.4C290.7,612.4 303.8,609.9 316.9,607.9C330.0,605.9 343.0,604.4 356.1,603.4C369.2,602.4 382.2,602.0 395.3,602.0C408.4,602.0 421.4,602.5 434.5,603.6C447.6,604.7 460.6,606.5 473.7,608.7C486.8,610.9 499.8,613.7 512.9,616.6C526.0,619.5 539.1,622.9 552.2,626.4C565.3,629.9 579.1,633.8 591.4,637.4C603.6,641.0 614.3,644.4 625.7,648.2C637.1,652.1 647.8,656.0 660.0,660.5C672.2,665.0 686.1,670.6 699.2,675.4C712.3,680.2 725.3,684.7 738.4,689.1C751.5,693.5 764.5,697.8 777.6,701.7C790.7,705.6 803.8,709.1 816.9,712.6C830.0,716.1 843.0,719.4 856.1,722.5C869.2,725.6 882.2,728.5 895.3,731.1C908.4,733.7 921.4,736.0 934.5,738.1C947.6,740.2 960.6,742.2 973.7,744.0C986.8,745.8 999.8,747.5 1012.9,749.1C1026.0,750.7 1039.1,752.1 1052.2,753.4C1065.3,754.7 1078.3,756.0 1091.4,757.0C1104.5,758.0 1120.1,759.0 1130.6,759.7C1141.1,760.4 1150.5,761.0 1154.5,761.3" stroke="#f00000" stroke-width="1.25" fill="none"/>
<path d="M165.5,601.5H1154.5V762.5H165.5ZM165.5,618.5h10M1154.5,618.5h-10M165.5,665.5h10M1154.5,665.5h-10M165.5,711.5h10M1154.5,711.5h-10M165.5,757.5h10M1154.5,757.5h-10M615.9,601.5v10M615.9,762.5v-10" stroke="#262626" stroke-width="1" fill="none"/>
<text x="157.00" y="625.65" font-size="20.0" text-anchor="end" textLength="33.70" lengthAdjust="spacingAndGlyphs">2.8</text>
<text x="157.00" y="672.65" font-size="20.0" text-anchor="end" textLength="33.70" lengthAdjust="spacingAndGlyphs">2.6</text>
<text x="157.00" y="718.65" font-size="20.0" text-anchor="end" textLength="33.70" lengthAdjust="spacingAndGlyphs">2.4</text>
<text x="157.00" y="764.65" font-size="20.0" text-anchor="end" textLength="33.70" lengthAdjust="spacingAndGlyphs">2.2</text>
<text x="85.00" y="737.55" font-size="19.0" font-weight="bold" transform="rotate(-90 85.00 737.55)" textLength="110.11" lengthAdjust="spacingAndGlyphs">Total Field</text>
<text x="111.00" y="721.59" font-size="19.0" font-weight="bold" transform="rotate(-90 111.00 721.59)" textLength="78.17" lengthAdjust="spacingAndGlyphs">|B| (nT)</text>
<text x="167.00" y="594.80" font-size="20.5" textLength="42.50" lengthAdjust="spacingAndGlyphs">×10</text>
<text x="210.80" y="586.60" font-size="15.3" textLength="9.55" lengthAdjust="spacingAndGlyphs">4</text>
<text x="1170.30" y="679.20" font-size="14.8" font-weight="bold" fill="#000" transform="rotate(-90 1170.30 679.20)" textLength="63.72" lengthAdjust="spacingAndGlyphs">Inboard</text>
<path d="M1165,719V734" stroke="#0000ff" stroke-width="1.6"/>
<text x="1182.60" y="700.30" font-size="14.8" font-weight="bold" fill="#000" transform="rotate(-90 1182.60 700.30)" textLength="77.66" lengthAdjust="spacingAndGlyphs">Outboard</text>
<path d="M1180,719V734" stroke="#00ff00" stroke-width="1.6"/>
<text x="1194.60" y="659.80" font-size="14.8" font-weight="bold" fill="#000" transform="rotate(-90 1194.60 659.80)" textLength="49.61" lengthAdjust="spacingAndGlyphs">Chaos</text>
<path d="M1192,719V734" stroke="#ff0000" stroke-width="1.6"/>
<path d="M165.5,840.5H1154.5M165.5,883.0H1154.5M165.5,925.6H1154.5M165.5,968.1H1154.5M615.9,835.5V999.5" stroke="#dedede" stroke-width="1" fill="none"/>
<clipPath id="cmm"><rect x="165.5" y="835.5" width="989.0" height="164.0"/></clipPath>
<g clip-path="url(#cmm)" fill="none" stroke-linejoin="round">
<path d="M165.5,981.8L166.2,953.1L167.1,981.4L167.8,954.4L168.6,981.2L169.5,956.9L170.4,988.4L171.3,960.9L171.9,991.7L172.5,963.8L173.4,990.8L174.2,959.0L175.0,987.3L176.0,955.5L176.6,981.5L177.2,954.2L177.9,980.9L178.6,953.6L179.6,982.1L180.3,954.5L181.0,986.3L181.8,958.5L182.8,987.8L183.5,962.5L184.5,990.6L185.4,961.0L186.2,986.0L187.0,957.9L188.0,982.5L189.0,953.8L189.6,980.0L190.5,954.3L191.3,984.1L192.3,955.6L193.2,986.3L193.9,958.8L194.7,987.2L195.6,960.8L196.3,988.4L197.0,958.7L197.6,986.5L198.6,957.1L199.3,982.2L200.3,954.7L200.8,984.0L201.4,955.6L202.4,984.1L203.2,956.4L204.1,984.5L205.0,957.3L205.7,987.2L206.4,958.5L207.1,985.4L207.8,959.2L208.6,984.6L209.6,958.9L210.5,983.8L211.5,957.0L212.4,985.5L213.0,957.6L213.8,985.5L214.9,958.8L215.6,985.9L216.4,956.6L217.4,982.2L218.2,961.5L219.2,983.5L220.1,961.2L220.8,986.7L221.8,961.0L222.6,982.3L223.6,960.3L224.3,982.0L225.1,960.4L225.7,982.7L226.7,961.4L227.3,981.8L228.1,954.5L228.8,982.8L229.6,960.4L230.6,981.9L231.3,960.9L232.0,982.2L232.6,960.8L233.6,986.5L234.6,959.8L235.3,981.9L236.2,960.5L237.1,981.5L237.8,960.4L238.4,987.6L239.1,960.5L239.8,987.4L240.8,956.4L241.5,981.6L242.3,961.4L243.2,986.0L244.2,959.9L245.1,986.2L245.8,960.0L246.8,986.7L247.4,960.3L248.2,989.2L249.1,959.8L250.1,981.8L250.8,960.0L251.8,988.7L252.4,960.1L253.1,983.8L253.8,958.1L254.5,982.6L255.5,961.6L256.2,984.2L257.2,962.0L257.9,986.3L258.7,960.5L259.5,983.1L260.3,961.7L260.9,984.1L261.8,960.5L262.5,982.0L263.3,961.5L264.2,982.6L264.9,957.8L265.7,984.2L266.7,960.8L267.5,987.5L268.3,960.7L269.1,982.4L270.1,958.0L270.9,983.4L271.9,960.5L272.5,986.9L273.3,956.8L274.2,982.4L275.0,961.8L275.5,983.8L276.2,954.8L277.0,989.1L277.7,960.4L278.8,983.4L279.8,960.9L280.6,984.0L281.6,960.6L282.2,982.6L283.2,961.2L283.9,987.0L284.6,957.5L285.5,987.6L286.3,956.8L287.3,983.4L288.3,960.6L288.8,982.9L289.8,960.1L290.7,983.3L291.4,961.9L291.9,982.8L292.7,962.1L293.3,987.6L294.1,962.4L294.8,987.5L295.4,961.7L296.2,983.9L296.9,956.5L297.9,982.9L298.8,960.9L299.9,986.7L300.5,960.9L301.1,983.8L301.8,961.1L302.4,984.1L303.0,962.5L303.9,984.4L304.8,962.4L305.7,982.3L306.6,955.0L307.6,982.9L308.3,961.5L309.3,989.5L310.1,960.7L310.9,983.8L311.6,960.8L312.4,983.1L313.1,960.7L313.7,987.7L314.5,955.7L315.2,982.5L315.9,960.7L316.6,982.0L317.2,961.1L318.1,983.6L318.9,958.1L319.8,982.7L320.6,961.6L321.5,982.8L322.2,958.2L322.8,983.2L323.5,962.4L324.4,984.3L325.1,958.2L325.7,982.0L326.4,960.7L327.3,982.2L328.1,961.0L328.9,986.1L329.9,961.9L330.6,982.1L331.2,962.7L331.9,988.5L332.8,957.3L333.6,982.9L334.6,962.4L335.4,983.6L336.1,962.7L336.7,985.8L337.5,958.5L338.4,983.5L339.3,961.1L340.2,983.4L340.9,962.0L341.9,986.3L342.6,961.5L343.3,982.1L344.2,961.1L345.0,987.2L345.7,956.1L346.7,983.2L347.7,959.4L348.7,982.9L349.7,963.0L350.5,986.9L351.2,961.9L352.0,988.9L352.9,962.2L353.6,982.5L354.4,962.3L355.3,983.0L355.9,962.7L356.8,987.5L357.8,962.5L358.4,984.0L359.1,963.2L359.9,982.0L360.9,957.0L361.7,983.4L362.4,961.7L363.1,983.0L364.1,962.5L365.0,982.4L365.8,961.6L366.7,987.5L367.8,958.1L368.5,983.0L369.3,957.6L370.1,982.3L370.7,962.1L371.7,982.6L372.6,961.6L373.2,982.8L374.2,961.9L375.0,982.7L375.7,958.5L376.8,982.5L377.6,962.0L378.6,982.5L379.5,962.2L380.1,981.8L381.1,961.7L381.9,981.9L382.8,962.9L383.8,981.7L384.5,958.4L385.4,985.6L386.3,957.2L387.0,986.1L387.5,962.1L388.4,981.9L389.1,962.5L389.9,982.1L390.6,963.0L391.2,982.7L392.3,963.2L393.2,982.1L394.0,958.1L394.8,987.7L395.7,963.0L396.5,982.9L397.4,961.9L398.4,982.8L399.2,962.5L399.8,982.0L400.4,963.4L401.5,982.5L402.4,963.2L403.2,983.0L403.9,963.4L404.6,983.4L405.5,961.5L406.4,982.0L407.0,962.5L407.9,982.7L408.8,959.2L409.4,983.1L410.4,957.3L411.4,981.8L412.0,961.6L412.8,981.3L413.4,962.6L414.4,983.1L415.3,963.3L415.9,982.1L416.9,963.5L417.7,983.1L418.3,962.1L419.3,981.8L420.0,963.3L420.7,982.4L421.6,963.5L422.3,981.2L422.9,959.2L423.8,987.5L424.4,959.5L425.1,981.3L425.6,963.5L426.3,984.7L427.2,962.3L428.0,982.5L428.6,962.4L429.2,982.5L430.0,962.5L430.6,981.8L431.5,962.4L432.1,980.9L432.7,962.8L433.5,981.4L434.3,962.4L434.9,982.2L435.8,961.8L436.5,985.4L437.2,958.4L438.1,987.2L438.7,959.5L439.6,982.4L440.5,962.1L441.1,981.3L442.0,961.3L443.0,981.6L443.9,962.5L444.5,980.4L445.3,959.7L446.2,983.3L447.2,959.9L447.8,983.4L448.4,960.8L449.2,986.0L450.0,960.2L450.8,980.8L451.5,960.1L452.2,983.3L453.1,959.9L453.7,982.8L454.4,958.4L455.2,981.6L455.8,958.9L456.7,981.8L457.3,958.9L457.8,981.1L458.5,959.2L459.0,981.9L459.8,958.0L460.7,981.6L461.7,959.5L462.7,981.3L463.5,957.7L464.1,978.9L465.1,957.8L466.1,979.1L466.8,958.1L467.5,980.0L468.2,959.4L468.9,980.9L469.6,958.2L470.5,980.6L471.2,958.7L472.1,980.8L472.9,958.6L473.6,983.1L474.5,959.1L475.4,981.6L476.1,960.1L476.7,982.8L477.5,961.0L478.1,984.0L478.9,959.8L479.8,983.9L480.5,958.9L481.3,983.0L481.9,960.8L482.6,983.6L483.2,960.4L484.0,983.0L484.7,960.4L485.5,983.1L486.3,961.0L487.2,982.2L488.1,958.9L488.8,982.8L489.5,958.7L490.3,982.7L491.0,960.3L491.9,982.8L492.9,959.5L493.7,982.1L494.5,960.8L495.5,982.1L496.1,961.1L496.7,982.8L497.7,961.2L498.6,981.1L499.3,959.3L500.2,981.0L501.0,959.6L501.7,981.1L502.5,959.9L503.5,981.3L504.2,958.8L505.0,980.7L505.8,958.7L506.7,980.1L507.6,958.8L508.2,981.5L508.9,959.0L509.9,979.7L510.9,960.1L511.6,979.1L512.4,960.0L513.2,978.9L514.1,959.0L514.8,979.3L515.7,960.0L516.4,978.4L517.1,958.4L518.0,979.4L518.7,959.5L519.5,979.8L520.1,958.0L520.7,978.9L521.3,959.0L522.0,978.4L522.6,957.8L523.4,978.3L524.2,958.9L525.1,979.0L525.7,958.0L526.6,977.9L527.5,958.9L528.3,977.9L529.2,958.5L530.1,977.5L531.0,958.4L531.6,976.6L532.6,959.0L533.4,978.1L534.1,959.9L535.1,979.6L535.8,959.5L536.8,981.0L537.6,961.1L538.4,980.5L539.0,964.2L539.8,985.6L540.5,964.6L541.4,986.7L542.1,963.7L543.2,986.5L543.9,963.9L544.9,981.4L545.9,959.1L546.6,981.9L547.5,964.2L548.2,982.7L549.0,964.9L549.7,981.5L550.5,965.0L551.2,981.9L552.2,965.3L553.0,981.7L553.8,964.2L554.4,982.8L555.1,960.5L556.1,983.2L557.1,964.9L557.9,985.9L558.8,966.2L559.6,983.3L560.4,966.2L561.5,983.3L562.4,959.8L563.3,982.9L564.0,965.0L564.9,982.6L565.6,962.7L566.3,982.7L567.2,966.4L568.1,984.1L569.0,962.6L569.8,989.3L570.5,966.2L571.3,984.5L572.3,962.0L573.1,984.3L573.9,966.7L574.7,983.7L575.5,966.5L576.2,988.4L577.0,967.8L577.7,984.8L578.7,963.5L579.5,984.3L580.2,964.0L581.0,985.0L581.9,968.5L582.8,984.6L583.6,968.0L584.3,984.2L585.1,964.4L585.7,985.2L586.5,968.4L587.5,985.3L588.4,968.1L589.2,990.0L589.8,968.8L590.5,986.6L591.1,968.0L592.0,985.5L592.9,969.7L593.7,989.8L594.5,969.4L595.3,985.8L596.0,968.6L596.7,986.0L597.5,969.3L598.4,986.2L599.5,969.7L600.4,990.8L601.4,969.8L602.2,987.0L602.9,970.3L603.8,986.1L604.4,967.6L605.1,986.3L605.9,970.4L606.9,990.4L607.5,971.4L608.3,992.8L609.1,971.5L610.0,987.6L610.8,966.9L611.5,991.3L612.1,967.6L613.2,991.0L614.0,972.0L615.0,988.7L615.7,972.4L616.4,992.3L617.1,972.0L618.0,987.5L618.8,972.7L619.6,992.4L620.5,973.0L621.1,988.4L621.8,971.7L622.6,987.9L623.4,972.3L624.0,988.7L624.9,971.8L625.5,994.3L626.5,972.9L627.6,989.6L628.5,973.7L629.1,994.7L630.0,973.0L630.9,992.3L631.6,969.5L632.5,989.7L633.4,973.7L634.4,989.9L635.0,969.9L635.7,993.0L636.6,968.3L637.2,989.8L637.8,969.3L638.6,990.3L639.3,974.2L640.0,993.1L640.6,973.2L641.4,989.9L642.2,970.0L643.1,994.2L644.0,974.6L644.6,990.1L645.5,969.4L646.1,989.6L646.7,974.0L647.5,990.2L648.0,974.2L649.0,990.1L649.9,970.2L650.5,991.3L651.1,970.1L652.0,991.0L652.9,974.6L653.6,991.3L654.3,974.2L655.2,994.3L656.0,974.6L656.6,994.8L657.5,974.6L658.5,994.8L659.5,969.5L660.3,991.6L660.8,971.8L661.7,996.4L662.4,969.4L663.0,996.7L663.9,975.3L664.8,994.8L665.7,971.9L666.7,992.1L667.6,975.3L668.6,992.3L669.5,975.5L670.2,991.3L670.9,970.1L671.9,992.4L672.9,971.6L673.6,991.9L674.5,976.1L675.2,991.3L676.0,970.1L676.9,991.9L677.9,975.8L678.5,992.7L679.1,974.6L679.8,997.7L680.6,975.1L681.4,996.6L682.2,976.4L683.0,992.7L683.7,975.8L684.4,997.9L685.2,971.7L686.0,992.8L686.9,970.3L687.9,992.5L688.5,970.7L689.3,993.1L690.2,970.3L691.2,992.7L692.0,970.8L692.5,997.4L693.4,975.8L694.2,991.6L694.8,970.1L695.3,993.1L696.3,972.8L696.9,992.1L697.9,976.6L698.6,992.5L699.6,976.7L700.6,993.0L701.5,971.4L702.1,997.2L702.9,975.5L703.9,991.7L704.4,976.4L705.4,995.7L706.4,975.0L707.0,998.2L707.8,975.2L708.6,996.0L709.6,975.7L710.3,998.1L711.2,975.4L711.8,991.8L712.5,974.8L713.2,995.7L714.3,969.2L715.0,992.0L715.6,974.8L716.6,996.8L717.4,971.4L718.0,995.4L718.6,975.4L719.4,995.5L720.0,970.4L720.7,997.1L721.7,973.6L722.4,995.2L723.2,975.2L723.9,994.9L724.6,974.1L725.3,996.9L726.0,974.0L726.7,990.6L727.7,970.0L728.7,996.7L729.7,974.3L730.5,994.8L731.5,968.9L732.3,990.5L733.1,972.8L734.0,995.6L735.0,972.9L735.8,995.3L736.7,967.2L737.5,989.9L738.5,972.8L739.4,989.7L740.2,967.6L741.1,989.5L741.7,972.0L742.4,990.1L743.2,968.0L744.0,989.6L744.8,972.7L745.6,992.5L746.2,972.5L746.9,993.3L747.6,972.7L748.4,988.9L749.1,972.4L749.8,989.5L750.6,972.5L751.3,993.5L752.3,972.2L753.0,988.8L753.6,966.6L754.3,993.8L755.3,965.5L755.9,987.9L756.6,970.5L757.5,988.2L758.3,971.2L759.2,988.4L759.9,967.2L760.5,993.0L761.3,966.3L761.9,987.8L762.8,969.5L763.6,991.9L764.2,966.7L765.1,988.1L765.9,969.7L766.9,990.3L767.8,965.0L768.5,986.7L769.4,966.1L770.3,992.3L770.9,969.1L771.9,985.7L772.9,969.6L773.6,986.0L774.4,968.1L775.1,986.7L775.8,968.5L776.4,989.8L777.0,963.9L777.7,989.8L778.7,967.7L779.3,986.5L780.3,967.5L780.9,990.9L781.9,967.7L782.7,989.8L783.5,967.8L784.1,991.3L784.8,964.7L785.7,985.5L786.5,964.4L787.3,984.3L788.0,968.0L788.7,984.9L789.5,967.7L790.1,983.8L790.9,968.0L791.7,983.5L792.3,961.9L792.9,989.5L793.6,967.3L794.3,989.6L794.9,966.6L795.5,988.0L796.4,967.7L797.3,984.8L798.0,967.4L798.9,989.7L799.5,965.9L800.1,987.2L800.3,983.0L800.6,987.6L800.8,979.2L801.0,979.7L801.2,970.6L801.4,967.6L801.7,963.7L801.9,959.8L802.1,966.7L802.3,976.0L802.5,984.4L802.8,981.5L803.0,983.2L803.2,987.6L803.4,980.7L803.6,971.8L803.9,971.3L804.1,960.9L804.3,958.7L804.5,963.3L804.7,967.2L805.0,978.6L805.2,984.8L805.4,987.9L805.6,989.0L805.8,984.1L806.1,979.4L806.3,970.9L806.5,962.1L806.7,962.0L806.9,963.3L807.2,970.1L807.4,972.0L807.6,976.0L807.8,989.1L808.0,991.3L808.3,984.7L808.5,976.0L808.7,973.3L808.9,968.0L809.1,963.0L809.4,966.4L809.6,968.7L809.8,973.3L810.0,971.8L810.2,985.1L810.5,986.2L810.7,985.0L810.9,985.6L811.1,981.2L811.3,976.7L811.6,968.8L811.8,957.4L812.0,957.1L812.2,961.5L812.4,964.5L812.7,971.1L812.9,984.3L813.1,985.3L813.3,987.4L813.5,983.7L813.8,977.8L814.0,974.3L814.2,962.1L814.4,962.6L814.6,962.2L814.9,960.9L815.1,966.0L815.3,974.2L815.5,977.1L815.7,987.5L816.0,986.3L816.2,983.2L816.4,981.2L816.6,977.1L816.8,969.5L817.1,958.6L817.3,962.8L817.5,964.1L817.7,969.1L817.9,966.9L818.2,973.4L818.4,981.9L818.6,984.9L818.8,986.2L819.0,980.1L819.3,979.1L819.5,972.9L819.7,961.1L819.9,963.4L820.1,962.6L820.4,959.4L820.6,971.9L820.8,973.6L821.0,982.0L821.2,985.7L821.5,982.0L821.7,980.5L821.9,983.2L822.1,972.5L822.3,972.7L822.6,966.4L822.8,956.0L823.0,963.5L823.2,960.8L823.4,963.5L823.7,975.9L823.9,980.2L824.1,979.2L824.3,984.6L824.5,982.4L824.8,980.1L825.0,975.3L825.2,967.4L825.4,961.2L825.6,956.6L825.9,960.8L826.1,964.6L826.3,964.1L826.5,972.6L826.7,973.6L827.0,986.2L827.2,982.1L827.4,983.8L827.6,979.8L827.8,972.5L828.1,974.5L828.3,968.4L828.5,961.6L828.7,963.8L828.9,963.3L829.2,963.7L829.4,968.0L829.6,974.6L829.8,982.6L830.0,981.3L830.3,980.2L830.5,981.4L830.7,978.7L830.9,977.3L831.1,964.4L831.4,965.9L831.6,964.8L831.8,964.0L832.0,957.2L832.2,965.2L832.5,968.8L832.7,979.9L832.9,979.3L833.1,984.2L833.3,979.1L833.6,978.9L833.8,978.4L834.0,970.5L834.2,968.2L834.4,962.0L834.7,960.6L834.9,959.1L835.1,963.9L835.3,962.1L835.5,974.3L835.8,978.3L836.0,977.7L836.2,978.2L836.4,983.0L836.6,979.5L836.9,976.9L837.1,976.9L837.3,971.8L837.5,967.8L837.7,955.0L838.0,960.4L838.2,963.4L838.4,965.4L838.6,963.8L838.8,973.4L839.1,975.4L839.3,981.7L839.5,979.1L839.7,988.0L839.9,982.6L840.2,972.1L840.4,975.3L840.6,969.9L840.8,961.9L841.0,961.1L841.3,957.3L841.5,965.0L841.7,959.7L841.9,964.6L842.1,970.1L842.4,981.6L842.6,977.5L842.8,984.0L843.0,982.0L843.2,984.6L843.5,973.2L843.7,968.4L843.9,963.9L844.1,964.6L844.3,960.9L844.6,960.6L844.8,957.8L845.0,960.5L845.2,963.1L845.4,969.3L845.7,979.8L845.9,981.6L846.1,979.3L846.3,979.4L846.5,980.5L846.8,976.4L847.0,973.0L847.2,972.3L847.4,960.2L847.6,957.8L847.9,955.7L848.1,954.5L848.3,957.0L848.5,966.0L848.7,972.0L849.0,975.5L849.2,973.3L849.4,984.5L849.6,980.9L849.8,978.1L850.1,977.5L850.3,974.9L850.5,971.9L850.7,968.7L850.9,960.2L851.2,964.3L851.4,953.1L851.6,957.0L851.8,959.4L852.0,965.8L852.3,965.2L852.5,972.1L852.7,979.8L852.9,976.6L853.1,977.2L853.4,985.5L853.6,985.4L853.8,973.8L854.0,976.6L854.2,967.4L854.5,965.5L854.7,961.9L854.9,958.9L855.1,954.9L855.3,961.3L855.6,955.9L855.8,960.1L856.0,972.9L856.2,972.8L856.4,973.7L856.7,984.4L856.9,985.2L857.1,980.1L857.3,975.4L857.5,976.5L857.8,969.5L858.0,969.0L858.2,967.2L858.4,959.3L858.6,953.2L858.9,958.8L859.1,954.3L859.3,956.9L859.5,960.0L859.7,965.1L860.0,975.5L860.2,971.1L860.4,980.2L860.6,978.6L860.8,979.6L861.1,979.8L861.3,978.8L861.5,970.4L861.7,968.4L861.9,962.7L862.2,959.3L862.4,963.0L862.6,957.4L862.8,957.9L863.0,960.6L863.3,962.8L863.5,968.1L863.7,970.0L863.9,970.0L864.1,975.8L864.4,978.4L864.6,984.7L864.8,981.3L865.0,979.5L865.2,975.4L865.5,973.6L865.7,968.7L865.9,971.3L866.1,966.1L866.3,955.5L866.6,962.4L866.8,956.6L867.0,959.2L867.2,963.0L867.4,965.4L867.7,960.2L867.9,969.7L868.1,969.8L868.3,978.9L868.5,982.8L868.8,976.0L869.0,985.9L869.2,977.3L869.4,981.6L869.6,978.1L869.9,970.0L870.1,970.9L870.3,967.1L870.5,957.0L870.7,958.6L871.0,959.2L871.2,957.9L871.4,961.0L871.6,954.3L871.8,964.0L872.1,970.1L872.3,970.1L872.5,973.8L872.7,973.3L872.9,983.7L873.2,984.1L873.4,980.4L873.6,977.6L873.8,977.4L874.0,970.5L874.3,968.4L874.5,964.4L874.7,963.8L874.9,955.2L875.1,961.8L875.4,953.0L875.6,951.8L875.8,958.2L876.0,961.9L876.2,963.7L876.5,961.7L876.7,962.3L876.9,971.6L877.1,978.3L877.3,979.7L877.6,982.4L877.8,983.6L878.0,984.6L878.2,977.6L878.4,981.3L878.7,973.0L878.9,966.8L879.1,965.2L879.3,960.0L879.5,957.0L879.8,962.3L880.0,958.9L880.2,959.7L880.4,956.8L880.6,953.2L880.9,963.1L881.1,963.1L881.3,968.7L881.5,970.8L881.7,968.5L882.0,975.3L882.2,973.7L882.4,976.9L882.6,981.6L882.8,976.0L883.1,981.1L883.3,981.5L883.5,979.0L883.7,970.4L883.9,973.1L884.2,969.4L884.4,956.9L884.6,959.9L884.8,961.0L885.0,960.1L885.3,952.2L885.5,956.0L885.7,961.0L885.9,955.1L886.1,963.8L886.4,961.8L886.6,972.4L886.8,967.5L887.0,977.7L887.2,972.2L887.5,980.3L887.7,980.8L887.9,983.6L888.1,978.7L888.3,975.6L888.6,973.5L888.8,969.1L889.0,968.1L889.2,963.4L889.4,959.2L889.7,960.2L889.9,961.1L890.1,961.5L890.3,959.3L890.5,954.8L890.8,953.8L891.0,956.4L891.2,953.6L891.4,959.6L891.6,966.1L891.9,966.9L892.1,970.3L892.3,968.0L892.5,969.8L892.7,979.8L893.0,976.0L893.2,977.3L893.4,984.1L893.6,975.0L893.8,975.0L894.1,975.4L894.3,976.8L894.5,972.4L894.7,973.1L894.9,962.1L895.2,964.3L895.4,961.9L895.6,958.3L895.8,951.9L896.0,959.8L896.3,951.4L896.5,958.7L896.7,952.0L896.9,952.8L897.1,955.6L897.4,957.7L897.6,965.3L897.8,968.3L898.0,971.1L898.2,969.2L898.5,971.8L898.7,973.4L898.9,973.2L899.1,979.5L899.3,982.8L899.6,975.8L899.8,977.3L900.0,976.8L900.2,973.8L900.4,975.4L900.7,972.4L900.9,965.8L901.1,961.4L901.3,960.3L901.5,959.0L901.8,954.8L902.0,960.6L902.2,953.9L902.4,953.9L902.6,954.5L902.9,956.4L903.1,951.4L903.3,957.1L903.5,955.2L903.7,964.1L904.0,961.2L904.2,964.4L904.4,965.0L904.6,969.5L904.8,969.4L905.1,971.9L905.3,971.6L905.5,979.9L905.7,980.0L905.9,974.7L906.2,977.4L906.4,978.9L906.6,982.4L906.8,977.4L907.0,975.4L907.3,976.4L907.5,974.1L907.7,967.9L907.9,966.8L908.1,967.9L908.4,961.8L908.6,963.9L908.8,958.2L909.0,952.8L909.2,960.0L909.5,957.4L909.7,955.0L909.9,959.1L910.1,958.6L910.3,958.2L910.6,958.8L910.8,955.3L911.0,963.4L911.2,959.4L911.4,969.5L911.7,971.5L911.9,971.9L912.1,967.0L912.3,971.8L912.5,979.1L912.8,974.9L913.0,981.7L913.2,978.8L913.4,981.3L913.6,975.7L913.9,982.1L914.1,981.6L914.3,972.4L914.5,974.5L914.7,973.3L915.0,971.1L915.2,968.9L915.4,968.9L915.6,971.3L915.8,968.5L916.1,965.1L916.3,962.4L916.5,959.8L916.7,958.3L916.9,954.4L917.2,957.8L917.4,958.7L917.6,960.0L917.8,959.7L918.0,956.1L918.3,951.8L918.5,954.2L918.7,957.5L918.9,956.5L919.1,958.4L919.4,959.5L919.6,961.9L919.8,964.7L920.0,960.6L920.2,964.6L920.5,964.9L920.7,971.0L920.9,973.3L921.1,968.1L921.3,977.8L921.6,973.3L921.8,973.2L922.0,978.9L922.2,981.1L922.4,981.1L922.7,972.4L922.9,980.2L923.1,974.7L923.3,973.9L923.5,975.3L923.8,976.4L924.0,969.4L924.2,976.0L924.4,967.4L924.6,974.5L924.9,967.8L925.1,970.3L925.3,963.3L925.5,963.4L925.7,964.4L926.0,958.6L926.2,957.7L926.4,962.8L926.6,961.0L926.8,960.4L927.1,960.8L927.3,959.8L927.5,956.3L927.7,952.5L927.9,954.0L928.2,956.0L928.4,952.5L928.6,960.0L928.8,960.8L929.0,952.9L929.3,955.3L929.5,962.5L929.7,963.4L929.9,958.5L930.1,961.6L930.4,967.3L930.6,966.2L930.8,963.0L931.0,969.6L931.2,967.5L931.5,969.9L931.7,965.8L931.9,965.8L932.1,970.1L932.3,973.2L932.6,969.8L932.8,977.4L933.0,975.1L933.2,973.3L933.4,971.8L933.7,979.4L933.9,978.2L934.1,977.7L934.3,973.6L934.5,974.5L934.8,972.1L935.0,976.0L935.2,979.5L935.4,978.0L935.6,975.5L935.9,975.2L936.1,970.5L936.3,971.2L936.5,966.6L936.7,973.5L937.0,972.6L937.2,964.2L937.4,972.5L937.6,969.0L937.8,967.7L938.1,961.0L938.3,962.6L938.5,967.4L938.7,961.6L938.9,967.5L939.2,963.5L939.4,960.7L939.6,959.6L939.8,958.7L940.0,957.2L940.3,958.8L940.5,960.5L940.7,961.5L940.9,956.9L941.1,953.6L941.4,957.5L941.6,958.8L941.8,960.4L942.0,955.6L942.2,958.3L942.5,957.9L942.7,954.8L942.9,952.9L943.1,952.6L943.3,962.0L943.6,958.7L943.8,961.1L944.0,955.3L944.2,960.1L944.4,962.2L944.7,956.6L944.9,955.4L945.1,961.9L945.3,963.6L945.5,963.1L945.8,963.5L946.0,961.9L946.2,962.9L946.4,963.5L946.6,964.3L946.9,964.1L947.1,968.0L947.3,961.0L947.5,963.0L947.7,963.1L948.0,960.0L948.2,967.2L948.4,966.2L948.6,962.8L948.8,968.5L949.1,963.9L949.3,967.4L949.5,970.2L949.7,971.8L949.9,969.8L950.2,968.5L950.4,972.2L950.6,972.4L950.8,973.1L951.0,966.4L951.3,965.9L951.5,966.4L951.7,968.0L951.9,973.7L952.1,973.5L952.4,967.9L952.6,973.0L952.8,969.8L953.0,967.5L953.2,970.3L953.5,974.3L953.7,970.1L953.9,975.0L954.1,970.6L954.3,970.0L954.6,970.4L954.8,976.1L955.0,972.4L955.2,976.4L955.4,973.6L955.7,977.3L955.9,968.6L956.1,976.8L956.3,973.0L956.5,976.7L956.8,971.9L957.0,971.1L957.2,968.6L957.4,976.7L957.6,969.5L957.9,970.1L958.1,972.2L958.3,973.8L958.5,977.2L958.7,972.7L959.0,971.3L959.2,975.3L959.4,975.9L959.6,973.0L959.8,974.4L960.1,969.9L960.3,974.4L960.5,968.1L960.7,970.8L960.9,975.7L961.2,969.7L961.4,975.7L961.6,972.9L961.8,975.6L962.0,968.9L962.3,974.1L962.5,974.3L962.7,972.0L962.9,977.6L963.1,971.7L963.4,968.3L963.6,969.9L963.8,971.6L964.0,968.0L964.2,971.0L964.5,976.1L964.7,969.7L964.9,974.5L965.1,974.0L965.3,970.2L965.6,974.7L965.8,971.2L966.0,969.0L966.2,971.5L966.4,973.5L966.7,969.3L966.9,975.8L967.1,970.5L967.3,970.4L967.5,974.7L967.8,973.4L968.0,970.7L968.2,976.1L968.4,977.1L968.6,970.5L968.9,976.0L969.1,970.5L969.3,968.6L969.5,976.1L969.7,975.6L970.0,970.3L970.2,968.4L970.4,973.2L970.6,967.0L970.8,972.8L971.1,971.1L971.3,966.6L971.5,968.3L971.7,970.8L971.9,964.3L972.2,972.3L972.4,965.7L972.6,968.1L972.8,962.8L973.0,971.8L973.3,968.0L973.5,967.4L973.7,960.6L973.9,966.8L974.1,963.5L974.4,962.5L974.6,963.6L974.8,962.3L975.0,958.5L975.2,963.4L975.5,962.1L975.7,958.2L975.9,961.3L976.1,960.7L976.3,956.2L976.6,959.1L976.8,953.9L977.0,960.3L977.2,952.6L977.4,958.4L977.7,952.0L977.9,951.7L978.1,951.4L978.3,952.1L978.5,952.0L978.8,952.6L979.0,955.2L979.2,952.1L979.4,957.3L979.6,953.5L979.9,951.3L980.1,956.3L980.3,953.9L980.5,961.7L980.7,956.4L981.0,953.9L981.2,961.4L981.4,964.6L981.6,964.8L981.8,964.1L982.1,959.9L982.3,960.3L982.5,965.5L982.7,968.6L982.9,963.3L983.2,965.8L983.4,966.4L983.6,974.7L983.8,968.5L984.0,970.7L984.3,967.5L984.5,968.6L984.7,967.4L984.9,970.0L985.1,974.9L985.4,969.7L985.6,973.5L985.8,966.5L986.0,972.3L986.2,964.2L986.5,971.2L986.7,968.2L986.9,962.0L987.1,962.5L987.3,961.9L987.6,962.3L987.8,963.5L988.0,954.3L988.2,960.2L988.4,952.7L988.7,953.9L988.9,958.7L989.1,951.1L989.3,951.8L989.5,956.3L989.8,955.9L990.0,954.7L990.2,956.7L990.4,950.7L990.6,957.6L990.9,952.4L991.1,962.7L991.3,956.4L991.5,960.6L991.7,964.1L992.0,967.9L992.2,968.3L992.4,964.8L992.6,968.1L992.8,969.1L993.1,966.6L993.3,973.7L993.5,975.5L993.7,976.7L993.9,967.9L994.2,974.9L994.4,965.7L994.6,967.3L994.8,962.0L995.0,962.3L995.3,960.9L995.5,962.8L995.7,960.5L995.9,959.5L996.1,955.9L996.4,954.4L996.6,957.4L996.8,953.6L997.0,950.0L997.2,951.9L997.5,954.2L997.7,949.2L997.9,956.2L998.1,953.8L998.3,956.7L998.6,962.2L998.8,961.5L999.0,968.2L999.2,967.5L999.4,973.6L999.7,965.7L999.9,972.6L1000.1,968.3L1000.3,975.3L1000.5,974.8L1000.8,974.0L1001.0,964.5L1001.2,966.8L1001.4,962.0L1001.6,966.9L1001.9,955.2L1002.1,954.5L1002.3,956.5L1002.5,952.2L1002.7,949.1L1003.0,950.5L1003.2,953.6L1003.4,950.5L1003.6,955.5L1003.8,953.0L1004.1,951.8L1004.3,958.0L1004.5,962.1L1004.7,959.3L1004.9,964.9L1005.2,968.6L1005.4,964.8L1005.6,966.9L1005.8,972.5L1006.0,972.5L1006.3,968.4L1006.5,968.8L1006.7,963.6L1006.9,965.6L1007.1,965.5L1007.4,956.7L1007.6,950.9L1007.8,950.2L1008.0,950.7L1008.2,950.6L1008.5,950.9L1008.7,950.0L1008.9,953.2L1009.1,955.9L1009.3,952.4L1009.6,961.9L1009.8,959.6L1010.0,963.7L1010.2,971.1L1010.4,974.4L1010.7,968.9L1010.9,971.4L1011.1,972.5L1011.3,964.4L1011.5,963.2L1011.8,960.0L1012.0,962.5L1012.2,959.3L1012.4,950.1L1012.6,952.6L1012.9,946.7L1013.1,953.3L1013.3,948.2L1013.5,950.1L1013.7,955.6L1014.0,957.8L1014.2,955.1L1014.4,961.6L1014.6,969.9L1014.8,971.7L1015.1,971.0L1015.3,973.7L1015.5,970.1L1015.7,970.6L1015.9,971.1L1016.2,959.7L1016.4,959.7L1016.6,956.4L1016.8,948.3L1017.0,954.5L1017.3,952.0L1017.5,948.1L1017.7,949.3L1017.9,955.5L1018.1,951.0L1018.4,958.7L1018.6,964.0L1018.8,961.6L1019.0,967.1L1019.2,971.1L1019.5,974.5L1019.7,970.0L1019.9,966.7L1020.1,969.6L1020.3,965.1L1020.6,959.5L1020.8,950.8L1021.0,954.7L1021.2,952.8L1021.4,947.1L1021.7,944.9L1021.9,950.0L1022.1,956.3L1022.3,960.8L1022.5,960.4L1022.8,968.2L1023.0,972.5L1023.2,972.4L1023.4,974.5L1023.6,969.8L1023.9,962.4L1024.1,962.7L1024.3,955.0L1024.5,951.4L1024.7,951.4L1025.0,952.4L1025.2,948.7L1025.4,953.0L1025.6,951.2L1025.8,956.9L1026.1,957.6L1026.3,959.8L1026.5,965.7L1026.7,969.2L1026.9,970.7L1027.2,970.4L1027.4,965.1L1027.6,964.4L1027.8,960.8L1028.0,950.8L1028.3,952.9L1028.5,950.3L1028.7,947.1L1028.9,943.6L1029.1,947.9L1029.4,957.4L1029.6,957.3L1029.8,967.2L1030.0,964.5L1030.2,967.4L1030.5,966.7L1030.7,970.3L1030.9,965.1L1031.1,956.4L1031.3,956.3L1031.6,945.0L1031.8,950.2L1032.0,942.5L1032.2,951.5L1032.4,953.4L1032.7,959.1L1032.9,962.8L1033.1,965.4L1033.3,965.3L1033.5,972.0L1033.8,971.3L1034.0,963.3L1034.2,962.7L1034.4,960.3L1034.6,950.2L1034.9,952.3L1035.1,950.9L1035.3,944.9L1035.5,950.0L1035.7,948.9L1036.0,956.3L1036.2,964.8L1036.4,970.0L1036.6,972.5L1036.8,971.4L1037.1,969.3L1037.3,962.6L1037.5,956.8L1037.7,953.1L1037.9,947.5L1038.2,946.8L1038.4,949.6L1038.6,954.8L1038.8,953.0L1039.0,957.1L1039.3,966.8L1039.5,964.7L1039.7,965.1L1039.9,966.6L1040.1,961.1L1040.4,956.4L1040.6,952.4L1040.8,944.0L1041.0,946.4L1041.2,943.7L1041.5,947.5L1041.7,956.1L1041.9,956.0L1042.1,960.9L1042.3,965.8L1042.6,963.7L1042.8,970.4L1043.0,963.0L1043.2,958.0L1043.4,950.8L1043.7,947.7L1043.9,943.9L1044.1,949.4L1044.3,948.4L1044.5,952.8L1044.8,958.0L1045.0,961.4L1045.2,968.0L1045.4,966.5L1045.6,964.4L1045.9,954.7L1046.1,950.2L1046.3,945.2L1046.5,943.7L1046.7,944.3L1047.0,945.9L1047.2,956.4L1047.4,960.1L1047.6,969.7L1047.8,970.8L1048.1,972.2L1048.3,959.3L1048.5,960.6L1048.7,952.4L1048.9,952.0L1049.2,946.4L1049.4,946.8L1049.6,953.6L1049.8,956.3L1050.0,958.7L1050.3,969.5L1050.5,972.1L1050.7,965.5L1050.9,963.1L1051.1,954.7L1051.4,955.0L1051.6,949.6L1051.8,943.6L1052.0,949.6L1052.2,950.7L1052.5,952.8L1052.7,967.1L1052.9,963.7L1053.1,967.4L1053.3,968.8L1053.6,955.6L1053.8,957.2L1054.0,947.7L1054.2,939.9L1054.4,941.4L1054.7,951.6L1054.9,958.7L1055.1,965.7L1055.3,965.5L1055.5,963.2L1055.8,964.9L1056.0,961.1L1056.2,957.4L1056.4,950.0L1056.6,946.1L1056.9,950.1L1057.1,952.6L1057.3,953.0L1057.5,962.2L1057.7,964.8L1058.0,962.7L1058.2,959.0L1058.4,960.4L1058.6,951.5L1058.8,946.7L1059.1,941.7L1059.3,944.3L1059.5,951.1L1059.7,960.1L1059.9,963.7L1060.2,962.1L1060.4,967.2L1060.6,960.9L1060.8,955.3L1061.0,949.0L1061.3,947.1L1061.5,946.0L1061.7,951.6L1061.9,952.0L1062.1,966.9L1062.4,962.4L1062.6,969.0L1062.8,960.0L1063.0,951.3L1063.2,951.5L1063.5,944.1L1063.7,943.6L1063.9,950.2L1064.1,954.9L1064.3,962.1L1064.6,962.4L1064.8,965.1L1065.0,965.1L1065.2,955.9L1065.4,953.3L1065.7,941.0L1065.9,946.3L1066.1,952.9L1066.3,958.6L1066.5,964.6L1066.8,964.9L1067.0,970.1L1067.2,961.5L1067.4,954.5L1067.6,943.6L1067.9,939.1L1068.1,946.1L1068.3,950.8L1068.5,962.1L1068.7,961.8L1069.0,968.8L1069.2,968.3L1069.4,956.7L1069.6,950.1L1069.8,946.8L1070.1,943.9L1070.3,943.7L1070.5,950.9L1070.7,964.2L1070.9,962.5L1071.2,962.4L1071.4,964.1L1071.6,957.4L1071.8,950.6L1072.0,948.0L1072.3,950.2L1072.5,950.7L1072.7,959.0L1072.9,962.3L1073.1,961.6L1073.4,958.5L1073.6,957.8L1073.8,948.1L1074.0,942.2L1074.2,940.7L1074.5,951.3L1074.7,953.3L1074.9,964.8L1075.1,969.9L1075.3,961.1L1075.6,955.6L1075.8,949.7L1076.0,941.9L1076.2,945.1L1076.4,950.2L1076.7,955.9L1076.9,961.8L1077.1,965.0L1077.3,957.4L1077.5,952.7L1077.8,945.0L1078.0,945.9L1078.2,944.0L1078.4,953.9L1078.6,954.7L1078.9,966.6L1079.1,969.1L1079.3,960.6L1079.5,951.8L1079.7,944.2L1080.0,943.7L1080.2,942.5L1080.4,953.8L1080.6,963.9L1080.8,968.7L1081.1,960.6L1081.3,958.5L1081.5,947.7L1081.7,948.0L1081.9,939.2L1082.2,944.1L1082.4,951.5L1082.6,963.2L1082.8,960.6L1083.0,962.3L1083.3,952.9L1083.5,947.2L1083.7,947.0L1083.9,946.0L1084.1,953.1L1084.4,965.6L1084.6,964.7L1084.8,966.2L1085.0,955.4L1085.2,945.7L1085.5,946.0L1085.7,946.3L1085.9,948.1L1086.1,958.1L1086.3,964.4L1086.6,963.2L1086.8,958.5L1087.0,951.7L1087.2,947.3L1087.4,946.3L1087.7,949.8L1087.9,953.7L1088.1,963.7L1088.3,964.0L1088.5,956.1L1088.8,955.3L1089.0,945.7L1089.2,947.6L1089.4,950.4L1089.6,956.3L1089.9,961.9L1090.1,961.6L1090.3,959.1L1090.5,946.3L1090.7,942.6L1091.0,938.3L1091.2,945.4L1091.4,961.0L1091.6,962.1L1091.8,963.8L1092.1,957.8L1092.3,945.0L1092.5,948.1L1092.7,941.5L1092.9,951.6L1093.2,958.5L1093.4,967.3L1093.6,966.6L1093.8,954.0L1094.0,948.0L1094.3,939.2L1094.5,945.8L1094.7,950.4L1094.9,961.8L1095.1,967.8L1095.4,961.7L1095.6,952.1L1095.8,949.2L1096.0,942.3L1096.2,944.9L1096.5,958.7L1096.7,962.4L1096.9,963.8L1097.1,959.5L1097.3,949.5L1097.6,939.3L1097.8,939.8L1098.0,945.7L1098.2,960.3L1098.4,961.1L1098.7,958.7L1098.9,952.4L1099.1,947.4L1099.3,938.2L1099.5,943.5L1099.8,958.1L1100.0,964.7L1100.2,963.4L1100.4,957.2L1100.6,945.3L1100.9,938.9L1101.1,947.1L1101.3,946.8L1101.5,955.8L1101.7,964.7L1102.0,956.5L1102.2,952.2L1102.4,938.7L1102.6,943.2L1102.8,944.5L1103.1,955.8L1103.3,960.5L1103.5,966.0L1103.7,954.0L1103.9,945.0L1104.2,937.0L1104.4,949.4L1104.6,958.2L1104.8,961.0L1105.0,958.0L1105.3,953.8L1105.5,950.2L1105.7,945.3L1105.9,942.9L1106.1,958.8L1106.4,963.7L1106.6,965.4L1106.8,958.1L1107.0,942.4L1107.2,943.2L1107.5,943.4L1107.7,957.4L1107.9,961.0L1108.1,961.9L1108.3,955.7L1108.6,942.7L1108.8,940.3L1109.0,942.1L1109.2,952.6L1109.4,966.3L1109.7,962.0L1109.9,953.1L1110.1,941.2L1110.3,937.5L1110.5,946.6L1110.8,957.7L1111.0,958.4L1111.2,963.9L1111.4,952.3L1111.6,939.7L1111.9,941.6L1112.1,944.8L1112.3,959.3L1112.5,966.6L1112.7,963.5L1113.0,952.7L1113.2,943.7L1113.4,942.9L1113.6,949.6L1113.8,955.7L1114.1,963.3L1114.3,954.3L1114.5,950.0L1114.7,944.2L1114.9,943.4L1115.2,955.0L1115.4,964.5L1115.6,964.4L1115.8,955.4L1116.0,940.0L1116.3,937.7L1116.5,947.5L1116.7,955.1L1116.9,966.6L1117.1,956.8L1117.4,952.8L1117.6,940.7L1117.8,940.0L1118.0,954.4L1118.2,964.0L1118.5,962.9L1118.7,950.5L1118.9,939.6L1119.1,942.6L1119.3,949.0L1119.6,955.5L1119.8,961.5L1120.0,955.3L1120.2,950.1L1120.4,938.9L1120.7,947.0L1120.9,952.2L1121.1,960.2L1121.3,959.2L1121.5,954.6L1121.8,945.8L1122.0,940.5L1122.2,951.7L1122.4,958.8L1122.6,961.3L1122.9,956.9L1123.1,943.4L1123.3,938.8L1123.5,944.1L1123.7,958.1L1124.0,964.8L1124.2,962.5L1124.4,950.3L1124.6,943.6L1124.8,942.8L1125.1,955.2L1125.3,958.2L1125.5,957.8L1125.7,950.2L1125.9,940.5L1126.2,942.4L1126.4,952.8L1126.6,962.5L1126.8,958.2L1127.0,957.8L1127.3,938.2L1127.5,937.0L1127.7,945.4L1127.9,963.5L1128.1,961.4L1128.4,950.2L1128.6,941.3L1128.8,936.5L1129.0,943.1L1129.2,957.2L1129.5,967.0L1129.7,956.6L1129.9,944.9L1130.1,942.6L1130.3,948.0L1130.6,962.2L1130.8,965.3L1131.0,957.1L1131.2,944.3L1131.4,937.4L1131.7,948.3L1131.9,960.7L1132.1,959.9L1132.3,950.9L1132.5,945.7L1132.8,940.5L1133.0,944.4L1133.2,954.6L1133.4,957.3L1133.6,952.3L1133.9,939.0L1134.1,937.0L1134.3,952.8L1134.5,961.4L1134.7,960.1L1135.0,952.6L1135.2,943.9L1135.4,940.9L1135.6,951.5L1135.8,955.2L1136.1,956.9L1136.3,949.8L1136.5,945.2L1136.7,945.6L1136.9,949.6L1137.2,965.2L1137.4,957.6L1137.6,950.7L1137.8,937.7L1138.0,947.1L1138.3,954.2L1138.5,959.0L1138.7,957.0L1138.9,942.9L1139.1,935.8L1139.4,942.9L1139.6,960.7L1139.8,964.6L1140.0,959.7L1140.2,947.7L1140.5,943.3L1140.7,948.8L1140.9,960.9L1141.1,965.4L1141.3,952.1L1141.6,944.0L1141.8,944.2L1142.0,956.6L1142.2,960.5L1142.4,957.9L1142.7,948.0L1142.9,935.1L1143.1,940.9L1143.3,951.9L1143.5,962.7L1143.8,959.2L1144.0,944.8L1144.2,937.6L1144.4,947.5L1144.6,964.3L1144.9,959.7L1145.1,944.1L1145.3,943.5L1145.5,940.7L1145.7,950.6L1146.0,963.0L1146.2,958.5L1146.4,939.4L1146.6,944.2L1146.8,948.2L1147.1,957.8L1147.3,963.6L1147.5,946.8L1147.7,944.5L1147.9,945.0L1148.2,958.8L1148.4,961.1L1148.6,951.6L1148.8,945.3L1149.0,943.8L1149.3,946.4L1149.5,956.8L1149.7,956.2L1149.9,948.7L1150.1,936.1L1150.4,940.6L1150.6,960.6L1150.8,962.5L1151.0,953.9L1151.2,942.4L1151.5,943.7L1151.7,952.5L1151.9,956.1L1152.1,956.1L1152.3,945.5L1152.6,939.4L1152.8,952.6L1153.0,962.9L1153.2,962.8L1153.4,947.9L1153.7,944.3L1153.9,948.3L1154.1,954.0L1154.3,957.7" stroke="#0000ff" stroke-width="1.3"/>
<path d="M165.5,980.7L166.6,953.0L167.5,979.3L168.2,953.1L169.1,983.5L169.8,958.5L170.8,986.9L171.5,962.8L172.4,989.6L173.4,963.2L174.1,986.7L175.1,959.9L175.9,982.4L176.7,956.1L177.4,980.9L178.3,952.0L179.2,980.8L180.0,955.3L180.9,984.1L181.9,960.2L182.8,987.4L183.7,961.5L184.4,987.6L185.5,962.1L186.5,984.1L187.3,956.8L188.4,982.4L189.1,954.3L189.9,981.3L190.8,955.0L191.5,981.0L192.3,958.2L193.3,984.4L194.4,961.0L195.5,986.4L196.2,960.0L197.3,985.8L198.0,959.8L199.1,983.2L200.0,955.9L200.7,981.0L201.9,957.1L202.6,983.0L203.7,959.2L204.8,983.9L206.0,959.2L206.8,986.4L207.6,959.0L208.5,984.8L209.5,959.1L210.4,984.7L211.3,958.8L211.9,984.6L212.7,958.2L213.8,985.2L214.5,958.6L215.2,980.5L216.1,960.9L216.8,982.2L217.6,961.6L218.4,982.3L219.5,954.8L220.5,981.5L221.3,961.6L222.2,981.2L222.9,955.7L223.7,987.9L224.7,955.8L225.5,981.4L226.7,961.3L227.5,982.6L228.2,956.0L228.9,982.7L230.0,962.2L230.7,982.5L231.8,962.4L232.8,982.0L233.7,960.9L234.5,989.0L235.4,962.0L236.1,982.9L236.9,962.3L237.7,986.0L238.7,955.1L239.6,982.3L240.3,955.7L241.4,983.3L242.1,961.2L243.2,989.3L244.2,961.0L245.1,981.5L245.9,962.4L246.8,988.3L247.5,962.4L248.6,981.8L249.7,957.6L250.5,981.8L251.1,961.4L251.8,981.2L252.9,962.3L253.9,982.4L254.8,961.7L255.7,981.9L256.4,955.1L257.1,987.7L257.8,961.6L258.8,982.4L259.6,962.1L260.2,987.7L261.3,962.7L262.0,982.5L262.9,962.1L263.9,986.2L264.7,960.8L265.4,982.9L266.2,956.0L266.9,983.0L267.6,961.5L268.4,982.8L269.2,962.5L270.0,981.6L270.8,962.2L272.0,982.0L273.1,962.0L274.0,988.8L275.1,962.4L276.0,982.2L277.2,961.6L278.3,982.0L279.1,955.3L280.1,982.0L281.0,958.2L281.8,981.7L282.8,962.5L283.5,982.3L284.5,961.4L285.2,983.3L286.2,961.0L287.0,983.1L287.6,962.9L288.4,983.3L289.5,956.0L290.5,981.4L291.3,956.4L292.0,986.3L293.1,962.2L294.0,987.2L294.9,956.3L295.5,988.0L296.6,956.4L297.5,988.4L298.5,955.6L299.3,988.6L300.2,962.3L301.1,981.5L302.3,961.8L303.1,989.1L303.9,962.3L305.0,989.5L306.1,961.3L306.7,987.7L307.4,962.8L308.1,987.8L309.1,963.0L309.8,982.7L310.4,955.8L311.4,981.5L312.0,955.7L313.0,989.1L314.0,962.8L315.2,981.6L316.3,957.0L317.1,986.9L318.0,962.7L318.8,982.2L319.7,962.9L320.6,983.2L321.7,961.5L322.4,986.5L323.5,957.6L324.6,982.7L325.4,955.6L326.5,982.1L327.3,963.3L328.3,983.3L329.3,955.6L330.5,981.7L331.6,963.0L332.8,981.6L333.9,962.1L335.0,982.2L335.8,961.7L337.0,981.9L337.7,963.4L338.6,981.9L339.4,963.3L340.2,982.8L341.1,962.5L341.9,983.2L342.6,956.7L343.3,981.9L344.3,961.7L345.0,983.3L346.1,962.8L346.9,981.8L347.6,962.3L348.4,982.6L349.3,962.8L350.4,982.4L351.5,963.9L352.4,982.1L353.3,962.9L354.0,981.9L354.8,962.3L355.6,987.4L356.3,962.3L357.4,981.5L358.5,958.3L359.4,981.6L360.4,963.7L361.1,982.7L362.2,959.4L363.1,982.0L363.9,962.5L365.1,982.0L366.1,962.3L367.1,981.5L367.8,962.8L368.6,982.8L369.6,959.3L370.5,981.7L371.6,957.1L372.4,982.4L373.2,964.2L374.0,982.3L374.9,959.6L375.9,981.2L376.9,957.1L377.6,987.6L378.5,963.0L379.6,981.5L380.5,959.2L381.4,986.8L382.3,957.9L383.1,982.2L384.1,957.8L385.0,983.1L386.0,962.5L386.8,982.3L387.7,962.3L388.4,982.2L389.4,958.1L390.4,985.3L391.4,964.1L392.5,983.0L393.3,963.2L393.9,987.7L394.7,963.3L395.3,982.3L396.3,959.5L397.2,981.5L398.3,962.6L399.2,982.1L400.1,963.6L400.9,982.3L401.7,962.8L402.7,981.2L403.7,962.4L404.9,988.1L405.8,962.5L406.7,981.9L407.7,962.8L408.4,981.5L409.1,963.3L409.9,987.4L410.9,962.3L411.6,981.6L412.3,962.3L413.2,987.6L414.3,962.2L415.0,982.0L416.0,956.9L417.0,986.2L417.7,963.0L418.5,981.6L419.6,959.0L420.4,985.1L421.1,964.0L422.1,980.8L422.9,963.8L423.6,986.5L424.4,958.4L425.4,985.9L426.2,962.8L427.3,981.7L428.1,962.4L429.0,981.4L430.1,957.2L431.2,981.2L432.2,962.5L433.0,980.7L433.9,962.1L434.9,981.5L436.0,958.3L436.9,986.8L437.8,957.2L438.9,980.8L439.9,962.8L440.8,981.3L441.9,962.9L443.0,981.0L443.9,961.9L444.6,986.7L445.6,961.0L446.5,981.9L447.2,958.7L448.3,982.2L449.1,956.3L450.3,982.3L450.9,961.4L451.8,980.8L452.5,959.1L453.5,982.8L454.6,959.7L455.4,980.4L456.6,959.6L457.4,980.6L458.0,958.8L458.9,981.5L459.6,958.7L460.4,980.0L461.3,958.7L462.1,979.6L463.2,959.7L464.2,978.6L464.8,958.3L465.7,980.5L466.6,959.2L467.7,980.1L468.4,959.2L469.3,979.9L470.3,959.3L471.0,980.7L471.9,960.1L472.9,981.6L473.8,959.6L474.8,982.8L475.8,960.4L476.9,981.1L478.0,959.5L478.9,983.1L479.6,960.9L480.5,982.5L481.5,960.7L482.6,981.8L483.7,959.9L484.6,981.1L485.4,961.6L486.4,982.3L487.1,960.6L487.9,981.1L489.0,961.8L489.7,982.1L490.6,959.9L491.6,981.7L492.7,961.0L493.4,982.6L494.3,959.5L495.0,981.4L495.8,960.2L496.8,982.0L497.5,961.0L498.5,981.9L499.3,960.3L500.1,982.0L501.2,960.8L502.3,981.3L503.5,960.3L504.3,981.5L505.1,961.0L506.1,980.1L507.2,959.8L507.9,979.8L508.6,960.2L509.7,978.8L510.4,960.3L511.2,979.0L511.8,959.1L512.9,980.4L513.9,960.8L514.6,979.5L515.6,958.8L516.6,978.4L517.7,959.4L518.5,978.5L519.5,960.0L520.2,979.0L521.0,960.4L521.8,977.9L522.9,959.2L523.8,976.9L524.6,959.0L525.6,976.5L526.5,959.6L527.6,976.1L528.8,958.7L529.8,977.2L530.7,958.0L531.6,977.2L532.6,959.5L533.8,978.9L534.7,959.6L535.7,979.6L536.8,962.3L538.0,980.7L539.0,961.6L539.9,980.0L541.0,965.1L541.7,981.2L542.4,965.7L543.3,986.2L544.1,965.0L545.0,985.2L546.0,959.1L547.0,981.5L548.1,965.8L549.3,987.2L550.1,959.7L550.8,986.2L551.9,960.1L553.0,981.1L554.0,966.0L554.9,982.5L555.9,965.9L556.8,981.4L557.9,965.2L558.7,986.8L559.7,965.7L560.8,988.2L561.8,961.2L562.4,987.8L563.5,966.4L564.6,988.0L565.5,966.6L566.5,987.7L567.6,966.5L568.4,982.1L569.1,962.4L570.2,988.9L571.1,961.4L572.1,984.2L572.9,962.0L573.6,983.4L574.7,962.0L575.8,983.1L576.7,968.5L577.8,984.1L578.5,967.7L579.5,989.6L580.6,968.5L581.5,984.3L582.2,967.7L583.1,983.8L584.0,964.9L585.0,990.5L585.9,969.4L587.0,985.0L588.0,962.9L589.1,984.3L590.0,968.4L591.1,984.8L592.1,970.0L593.0,986.1L593.8,963.6L594.4,985.5L595.1,969.8L596.1,986.3L596.9,964.7L598.0,985.3L599.0,971.1L599.8,986.4L600.8,971.6L601.9,986.7L602.9,971.2L603.9,992.4L604.7,972.0L605.5,987.2L606.6,965.4L607.6,985.9L608.6,967.1L609.5,991.9L610.2,965.6L611.0,986.3L612.1,972.0L612.8,991.6L613.6,968.6L614.4,987.3L615.1,972.1L616.0,987.1L617.1,971.9L618.2,986.9L619.1,973.4L619.9,992.0L620.9,972.9L621.8,994.1L622.7,968.2L623.7,994.0L624.5,972.3L625.3,987.9L626.1,973.0L627.2,992.1L628.3,968.5L629.4,992.9L630.3,974.0L631.3,988.2L632.4,973.3L633.1,993.1L633.8,968.6L634.5,993.3L635.4,967.6L636.2,993.7L637.0,974.7L638.2,988.8L639.1,974.4L640.2,994.3L641.4,974.3L642.4,994.4L643.2,974.5L644.1,994.8L645.0,974.9L645.8,988.8L646.7,969.5L647.4,989.4L648.5,970.7L649.6,994.2L650.4,974.0L651.1,990.4L652.3,969.0L653.4,990.0L654.1,970.9L655.0,990.9L655.7,974.3L656.4,990.2L657.2,975.1L658.3,995.1L659.2,976.1L660.3,990.3L661.2,971.1L662.3,991.3L663.3,974.8L664.2,994.7L665.0,969.8L665.9,991.0L666.9,975.7L667.6,990.9L668.7,971.2L669.8,995.4L670.6,971.4L671.5,991.8L672.6,970.1L673.5,991.8L674.5,976.2L675.5,990.6L676.6,976.8L677.4,997.6L678.1,971.9L679.2,991.6L680.1,976.0L681.2,990.8L681.8,975.6L682.7,997.5L683.8,976.0L684.6,997.6L685.4,972.0L686.1,997.3L687.1,977.0L688.2,997.7L689.1,972.1L689.8,992.1L690.8,970.2L691.5,998.0L692.7,972.4L693.6,997.3L694.3,972.3L695.0,991.7L695.9,972.4L696.8,997.5L697.7,972.0L698.5,996.1L699.7,972.7L700.7,992.6L701.4,972.2L702.3,991.8L703.2,970.4L703.9,991.2L704.8,969.8L705.7,991.2L706.7,971.4L707.6,991.0L708.8,976.8L709.6,991.7L710.3,975.4L711.1,991.8L711.9,975.3L712.7,991.3L713.6,969.8L714.3,990.8L715.2,971.8L715.9,991.4L716.7,970.0L717.4,990.3L718.5,969.7L719.3,997.1L720.3,970.2L721.4,995.5L722.3,975.8L723.4,990.2L724.3,975.5L725.2,989.8L726.1,974.4L727.0,990.9L727.9,974.6L728.8,989.9L729.6,968.3L730.5,996.4L731.3,969.6L732.1,995.6L733.0,969.6L733.9,994.9L734.9,973.9L735.7,990.0L736.9,974.1L737.8,995.2L738.6,973.7L739.4,994.4L740.3,973.0L741.4,993.0L742.6,967.4L743.3,993.7L743.9,972.6L744.7,989.4L745.5,972.4L746.4,988.2L747.4,972.8L748.1,987.7L749.2,965.9L750.2,988.2L751.1,972.1L752.0,988.2L752.9,968.0L753.9,987.5L754.7,967.6L755.6,988.3L756.3,971.5L757.0,993.7L757.9,971.4L758.9,991.4L759.7,970.8L760.4,987.8L761.3,972.0L762.0,987.2L763.1,965.2L763.8,987.6L764.5,971.5L765.6,986.6L766.7,964.1L767.5,985.7L768.3,970.2L769.3,985.7L770.0,970.7L770.9,985.6L771.8,970.1L772.6,985.7L773.8,969.0L774.6,986.0L775.2,968.7L776.3,985.7L777.3,963.9L778.1,991.5L778.8,968.4L779.6,985.8L780.8,962.6L781.6,984.4L782.7,968.4L783.7,991.1L784.8,967.7L785.7,985.1L786.8,967.7L787.8,989.9L788.8,967.6L789.5,983.3L790.4,962.9L791.4,988.2L792.3,966.8L793.4,984.4L794.4,967.8L795.5,983.1L796.5,962.2L797.3,984.0L798.4,967.6L799.5,983.4L800.6,990.5L800.8,979.9L801.1,978.3L801.3,967.0L801.5,964.0L801.7,962.3L801.9,962.4L802.2,965.6L802.4,974.5L802.6,985.7L802.8,982.4L803.0,988.4L803.3,983.0L803.5,981.8L803.7,971.2L803.9,967.5L804.1,959.5L804.4,965.2L804.6,964.3L804.8,976.1L805.0,981.8L805.2,982.4L805.5,986.3L805.7,981.7L805.9,983.7L806.1,975.2L806.3,972.5L806.6,961.9L806.8,964.0L807.0,963.7L807.2,968.5L807.4,972.4L807.7,979.6L807.9,983.2L808.1,987.0L808.3,987.0L808.5,977.1L808.8,973.5L809.0,965.9L809.2,958.4L809.4,959.2L809.6,963.7L809.9,972.3L810.1,978.5L810.3,984.1L810.5,987.3L810.7,987.6L811.0,980.2L811.2,973.4L811.4,966.9L811.6,963.9L811.8,960.0L812.1,965.9L812.3,969.7L812.5,974.5L812.7,980.9L812.9,982.9L813.2,987.4L813.4,981.2L813.6,980.1L813.8,978.1L814.0,969.2L814.3,964.6L814.5,961.1L814.7,966.0L814.9,965.0L815.1,970.2L815.4,973.3L815.6,981.0L815.8,988.3L816.0,988.6L816.2,979.7L816.5,976.7L816.7,972.6L816.9,963.5L817.1,959.3L817.3,957.3L817.6,959.7L817.8,970.4L818.0,975.8L818.2,980.7L818.4,986.7L818.7,983.1L818.9,987.4L819.1,981.5L819.3,977.4L819.5,967.2L819.8,962.7L820.0,964.9L820.2,959.8L820.4,968.5L820.6,971.2L820.9,971.6L821.1,983.1L821.3,985.0L821.5,987.4L821.7,979.1L822.0,975.8L822.2,971.0L822.4,963.7L822.6,961.1L822.8,962.8L823.1,960.8L823.3,968.8L823.5,973.1L823.7,971.0L823.9,978.9L824.2,985.4L824.4,984.3L824.6,982.6L824.8,981.7L825.0,976.4L825.3,964.3L825.5,959.6L825.7,964.0L825.9,958.1L826.1,960.8L826.4,968.4L826.6,971.8L826.8,982.5L827.0,983.5L827.2,984.9L827.5,987.2L827.7,979.8L827.9,975.1L828.1,968.2L828.3,960.4L828.6,963.4L828.8,961.8L829.0,965.5L829.2,961.8L829.4,972.7L829.7,978.1L829.9,980.0L830.1,984.3L830.3,987.6L830.5,984.4L830.8,974.2L831.0,968.3L831.2,969.6L831.4,963.9L831.6,959.8L831.9,964.3L832.1,963.6L832.3,962.7L832.5,976.4L832.7,978.7L833.0,985.3L833.2,981.9L833.4,985.2L833.6,982.7L833.8,980.4L834.1,971.8L834.3,963.5L834.5,958.1L834.7,961.2L834.9,958.5L835.2,958.5L835.4,962.7L835.6,975.5L835.8,975.6L836.0,979.8L836.3,980.1L836.5,987.2L836.7,984.2L836.9,973.5L837.1,975.3L837.4,964.1L837.6,965.2L837.8,958.2L838.0,961.7L838.2,962.4L838.5,961.1L838.7,969.0L838.9,973.6L839.1,981.4L839.3,980.1L839.6,984.7L839.8,978.9L840.0,980.7L840.2,977.8L840.4,970.0L840.7,965.0L840.9,964.8L841.1,959.1L841.3,959.9L841.5,960.8L841.8,967.4L842.0,972.6L842.2,975.7L842.4,978.4L842.6,981.1L842.9,978.7L843.1,980.3L843.3,978.4L843.5,972.1L843.7,971.3L844.0,961.9L844.2,961.2L844.4,960.3L844.6,959.2L844.8,958.9L845.1,963.6L845.3,972.1L845.5,973.1L845.7,974.6L845.9,977.6L846.2,985.9L846.4,984.9L846.6,979.9L846.8,974.2L847.0,967.5L847.3,963.0L847.5,958.6L847.7,956.3L847.9,957.9L848.1,955.6L848.4,963.0L848.6,966.0L848.8,967.7L849.0,972.3L849.2,974.7L849.5,981.1L849.7,978.7L849.9,982.7L850.1,976.1L850.3,972.3L850.6,969.7L850.8,962.4L851.0,965.5L851.2,957.6L851.4,959.0L851.7,958.4L851.9,962.5L852.1,965.6L852.3,966.8L852.5,977.5L852.8,980.6L853.0,977.5L853.2,978.9L853.4,983.6L853.6,980.5L853.9,979.6L854.1,968.7L854.3,968.0L854.5,959.2L854.7,956.9L855.0,955.4L855.2,957.7L855.4,960.9L855.6,965.1L855.8,969.7L856.1,970.8L856.3,974.1L856.5,978.8L856.7,984.5L856.9,980.2L857.2,982.4L857.4,980.6L857.6,974.8L857.8,969.9L858.0,964.0L858.3,959.0L858.5,956.7L858.7,953.8L858.9,961.7L859.1,961.7L859.4,958.3L859.6,965.6L859.8,969.7L860.0,972.0L860.2,977.4L860.5,981.7L860.7,978.1L860.9,979.2L861.1,979.4L861.3,977.0L861.6,969.5L861.8,966.7L862.0,962.4L862.2,963.6L862.4,963.1L862.7,957.2L862.9,960.5L863.1,959.2L863.3,958.3L863.5,964.9L863.8,971.2L864.0,968.3L864.2,971.5L864.4,979.8L864.6,982.2L864.9,984.9L865.1,982.8L865.3,979.6L865.5,975.1L865.7,971.0L866.0,964.7L866.2,962.7L866.4,959.6L866.6,958.5L866.8,957.8L867.1,958.9L867.3,961.8L867.5,961.6L867.7,967.1L867.9,969.3L868.2,972.1L868.4,974.5L868.6,974.8L868.8,983.5L869.0,979.5L869.3,979.0L869.5,977.1L869.7,977.9L869.9,969.1L870.1,968.4L870.4,958.8L870.6,958.1L870.8,955.0L871.0,955.2L871.2,954.3L871.5,955.3L871.7,963.6L871.9,961.6L872.1,967.5L872.3,973.3L872.6,975.1L872.8,973.4L873.0,976.9L873.2,981.7L873.4,983.8L873.7,981.5L873.9,978.0L874.1,975.6L874.3,972.7L874.5,969.1L874.8,966.0L875.0,961.0L875.2,955.8L875.4,958.6L875.6,957.6L875.9,953.6L876.1,956.0L876.3,962.2L876.5,960.9L876.7,967.2L877.0,975.7L877.2,972.7L877.4,974.5L877.6,974.7L877.8,975.3L878.1,982.6L878.3,976.7L878.5,972.9L878.7,976.0L878.9,973.3L879.2,962.3L879.4,959.2L879.6,959.5L879.8,958.8L880.0,952.9L880.3,953.2L880.5,953.9L880.7,955.9L880.9,958.2L881.1,958.2L881.4,968.6L881.6,966.6L881.8,968.8L882.0,976.4L882.2,977.1L882.5,980.0L882.7,981.0L882.9,982.8L883.1,977.4L883.3,975.7L883.6,976.5L883.8,967.1L884.0,963.9L884.2,965.1L884.4,963.7L884.7,962.7L884.9,959.7L885.1,951.8L885.3,952.1L885.5,957.3L885.8,960.8L886.0,963.3L886.2,959.2L886.4,963.4L886.6,967.8L886.9,971.4L887.1,976.1L887.3,972.8L887.5,979.3L887.7,977.5L888.0,975.9L888.2,981.5L888.4,976.5L888.6,974.3L888.8,974.9L889.1,967.4L889.3,969.4L889.5,962.3L889.7,961.0L889.9,955.0L890.2,955.8L890.4,958.1L890.6,954.2L890.8,957.2L891.0,953.7L891.3,960.7L891.5,960.0L891.7,960.9L891.9,968.8L892.1,968.3L892.4,971.0L892.6,973.9L892.8,979.4L893.0,980.4L893.2,977.5L893.5,974.8L893.7,975.4L893.9,973.1L894.1,978.5L894.3,977.5L894.6,967.5L894.8,966.8L895.0,969.9L895.2,960.0L895.4,956.6L895.7,960.7L895.9,958.2L896.1,957.0L896.3,958.8L896.5,951.6L896.8,957.4L897.0,959.5L897.2,960.8L897.4,961.8L897.6,962.3L897.9,965.9L898.1,970.9L898.3,972.3L898.5,972.4L898.7,978.2L899.0,981.1L899.2,974.1L899.4,976.9L899.6,978.9L899.8,981.6L900.1,978.4L900.3,974.5L900.5,970.3L900.7,971.0L900.9,970.7L901.2,967.0L901.4,964.9L901.6,964.3L901.8,961.4L902.0,956.4L902.3,953.4L902.5,953.6L902.7,951.1L902.9,954.0L903.1,958.2L903.4,959.6L903.6,955.8L903.8,965.4L904.0,961.3L904.2,962.0L904.5,968.3L904.7,970.4L904.9,974.6L905.1,971.2L905.3,971.7L905.6,979.7L905.8,978.7L906.0,976.1L906.2,980.7L906.4,979.8L906.7,981.2L906.9,972.3L907.1,970.2L907.3,971.1L907.5,971.4L907.8,966.8L908.0,962.0L908.2,965.2L908.4,958.5L908.6,958.2L908.9,960.5L909.1,956.8L909.3,960.5L909.5,958.4L909.7,959.8L910.0,956.3L910.2,959.7L910.4,958.3L910.6,958.7L910.8,960.7L911.1,960.2L911.3,961.4L911.5,967.8L911.7,969.1L911.9,970.6L912.2,972.9L912.4,972.8L912.6,971.9L912.8,973.9L913.0,977.1L913.3,980.0L913.5,976.3L913.7,974.1L913.9,979.2L914.1,979.7L914.4,972.3L914.6,971.1L914.8,977.0L915.0,971.9L915.2,970.1L915.5,967.7L915.7,967.3L915.9,966.1L916.1,963.8L916.3,961.1L916.6,958.4L916.8,959.2L917.0,957.4L917.2,956.6L917.4,960.3L917.7,956.0L917.9,960.1L918.1,958.9L918.3,953.2L918.5,953.7L918.8,959.6L919.0,955.5L919.2,961.7L919.4,964.4L919.6,959.3L919.9,961.6L920.1,965.4L920.3,969.3L920.5,972.6L920.7,969.0L921.0,975.4L921.2,973.6L921.4,973.0L921.6,971.4L921.8,976.1L922.1,972.0L922.3,973.4L922.5,975.5L922.7,981.0L922.9,974.7L923.2,975.9L923.4,978.0L923.6,971.6L923.8,974.6L924.0,968.9L924.3,975.2L924.5,974.0L924.7,966.8L924.9,970.8L925.1,966.6L925.4,962.0L925.6,962.7L925.8,966.1L926.0,961.0L926.2,961.2L926.5,960.2L926.7,962.3L926.9,960.5L927.1,957.2L927.3,958.9L927.6,957.5L927.8,958.7L928.0,956.4L928.2,956.1L928.4,956.3L928.7,956.6L928.9,960.8L929.1,956.6L929.3,961.5L929.5,961.1L929.8,959.7L930.0,959.1L930.2,961.5L930.4,963.8L930.6,968.5L930.9,969.0L931.1,968.7L931.3,968.9L931.5,971.9L931.7,971.4L932.0,971.1L932.2,974.0L932.4,974.0L932.6,973.4L932.8,970.2L933.1,974.5L933.3,971.7L933.5,975.8L933.7,975.7L933.9,971.3L934.2,975.9L934.4,972.6L934.6,975.0L934.8,978.5L935.0,971.4L935.3,978.2L935.5,971.1L935.7,969.2L935.9,975.5L936.1,970.1L936.4,973.5L936.6,974.4L936.8,969.8L937.0,972.3L937.2,969.8L937.5,967.2L937.7,963.3L937.9,969.7L938.1,961.5L938.3,964.4L938.6,963.5L938.8,966.7L939.0,961.2L939.2,960.0L939.4,958.1L939.7,957.4L939.9,957.4L940.1,956.7L940.3,957.2L940.5,955.3L940.8,956.9L941.0,957.4L941.2,955.0L941.4,958.7L941.6,956.0L941.9,953.2L942.1,953.4L942.3,956.2L942.5,955.6L942.7,956.5L943.0,955.7L943.2,956.3L943.4,960.4L943.6,954.4L943.8,955.3L944.1,960.4L944.3,959.2L944.5,958.6L944.7,961.2L944.9,958.3L945.2,956.3L945.4,956.2L945.6,960.1L945.8,960.0L946.0,961.0L946.3,960.8L946.5,959.6L946.7,965.8L946.9,960.8L947.1,967.3L947.4,965.1L947.6,961.8L947.8,964.9L948.0,967.3L948.2,963.5L948.5,964.8L948.7,962.3L948.9,967.5L949.1,964.1L949.3,971.2L949.6,966.3L949.8,972.0L950.0,970.5L950.2,968.7L950.4,968.0L950.7,972.6L950.9,968.8L951.1,965.1L951.3,969.4L951.5,972.9L951.8,968.3L952.0,974.6L952.2,966.2L952.4,974.6L952.6,970.8L952.9,972.0L953.1,974.3L953.3,970.4L953.5,970.3L953.7,972.9L954.0,972.6L954.2,972.0L954.4,968.1L954.6,974.3L954.8,972.8L955.1,970.6L955.3,971.5L955.5,969.1L955.7,969.3L955.9,973.0L956.2,970.6L956.4,972.0L956.6,973.6L956.8,976.7L957.0,971.1L957.3,974.3L957.5,971.4L957.7,970.7L957.9,975.0L958.1,972.4L958.4,970.5L958.6,977.0L958.8,971.4L959.0,972.4L959.2,973.6L959.5,968.5L959.7,974.4L959.9,974.0L960.1,968.3L960.3,972.5L960.6,976.2L960.8,974.2L961.0,971.9L961.2,976.1L961.4,974.4L961.7,974.9L961.9,973.0L962.1,975.1L962.3,973.9L962.5,968.8L962.8,968.4L963.0,975.4L963.2,974.0L963.4,974.0L963.6,971.2L963.9,975.2L964.1,975.3L964.3,971.2L964.5,969.6L964.7,974.8L965.0,974.1L965.2,968.1L965.4,972.0L965.6,976.2L965.8,971.8L966.1,969.9L966.3,968.1L966.5,970.3L966.7,975.9L966.9,970.9L967.2,968.5L967.4,973.1L967.6,970.3L967.8,973.9L968.0,969.6L968.3,971.8L968.5,970.6L968.7,969.8L968.9,975.2L969.1,973.3L969.4,968.8L969.6,968.6L969.8,973.9L970.0,970.0L970.2,974.0L970.5,971.1L970.7,970.3L970.9,970.5L971.1,971.2L971.3,970.1L971.6,970.9L971.8,969.5L972.0,964.8L972.2,965.0L972.4,964.1L972.7,965.4L972.9,967.7L973.1,964.2L973.3,966.4L973.5,968.2L973.8,962.5L974.0,966.3L974.2,968.5L974.4,965.3L974.6,963.4L974.9,960.3L975.1,962.5L975.3,961.0L975.5,964.7L975.7,961.5L976.0,963.6L976.2,955.2L976.4,962.5L976.6,957.6L976.8,962.0L977.1,955.3L977.3,958.4L977.5,956.2L977.7,954.9L977.9,958.1L978.2,959.0L978.4,953.0L978.6,953.4L978.8,954.6L979.0,954.9L979.3,951.1L979.5,953.0L979.7,952.3L979.9,956.9L980.1,952.6L980.4,959.3L980.6,962.0L980.8,957.8L981.0,955.5L981.2,957.8L981.5,957.9L981.7,960.1L981.9,963.7L982.1,960.0L982.3,964.4L982.6,968.2L982.8,967.2L983.0,968.4L983.2,966.7L983.4,966.8L983.7,966.2L983.9,968.0L984.1,969.4L984.3,967.3L984.5,970.0L984.8,974.2L985.0,975.5L985.2,973.9L985.4,972.2L985.6,972.9L985.9,971.1L986.1,969.9L986.3,964.6L986.5,963.4L986.7,962.0L987.0,963.2L987.2,966.6L987.4,958.4L987.6,957.6L987.8,963.2L988.1,957.8L988.3,955.3L988.5,957.1L988.7,951.2L988.9,955.9L989.2,954.3L989.4,951.6L989.6,952.2L989.8,949.8L990.0,955.9L990.3,952.0L990.5,956.0L990.7,957.6L990.9,953.1L991.1,957.8L991.4,962.9L991.6,965.2L991.8,964.6L992.0,963.7L992.2,970.5L992.5,970.5L992.7,968.9L992.9,968.8L993.1,968.3L993.3,968.0L993.6,972.5L993.8,967.7L994.0,973.5L994.2,967.4L994.4,969.6L994.7,968.8L994.9,963.8L995.1,963.5L995.3,964.2L995.5,959.9L995.8,956.2L996.0,959.3L996.2,951.3L996.4,952.2L996.6,952.3L996.9,956.3L997.1,954.3L997.3,950.6L997.5,956.3L997.7,956.3L998.0,952.2L998.2,955.3L998.4,957.5L998.6,959.8L998.8,958.8L999.1,965.9L999.3,968.6L999.5,964.8L999.7,970.1L999.9,973.9L1000.2,974.5L1000.4,970.6L1000.6,968.0L1000.8,966.9L1001.0,971.6L1001.3,968.6L1001.5,962.5L1001.7,963.1L1001.9,960.9L1002.1,961.2L1002.4,955.8L1002.6,951.7L1002.8,952.6L1003.0,955.3L1003.2,952.2L1003.5,950.9L1003.7,949.7L1003.9,953.9L1004.1,958.9L1004.3,954.7L1004.6,958.8L1004.8,959.4L1005.0,963.7L1005.2,965.8L1005.4,970.8L1005.7,968.4L1005.9,973.1L1006.1,974.6L1006.3,968.1L1006.5,970.0L1006.8,963.1L1007.0,960.3L1007.2,964.6L1007.4,956.4L1007.6,951.3L1007.9,948.7L1008.1,947.9L1008.3,948.6L1008.5,947.6L1008.7,951.8L1009.0,954.8L1009.2,950.5L1009.4,953.0L1009.6,957.3L1009.8,960.1L1010.1,969.1L1010.3,969.9L1010.5,968.3L1010.7,971.0L1010.9,967.8L1011.2,965.5L1011.4,971.1L1011.6,969.3L1011.8,958.5L1012.0,961.2L1012.3,955.4L1012.5,956.2L1012.7,948.0L1012.9,953.8L1013.1,947.8L1013.4,947.7L1013.6,954.1L1013.8,955.1L1014.0,960.4L1014.2,964.0L1014.5,967.5L1014.7,969.4L1014.9,971.7L1015.1,966.1L1015.3,967.3L1015.6,973.5L1015.8,970.7L1016.0,962.9L1016.2,961.3L1016.4,957.8L1016.7,956.3L1016.9,956.6L1017.1,948.0L1017.3,945.0L1017.5,949.9L1017.8,947.3L1018.0,952.6L1018.2,957.8L1018.4,957.3L1018.6,958.5L1018.9,968.3L1019.1,971.6L1019.3,972.9L1019.5,974.2L1019.7,972.5L1020.0,964.3L1020.2,960.0L1020.4,959.7L1020.6,957.6L1020.8,948.8L1021.1,950.0L1021.3,950.6L1021.5,949.5L1021.7,949.5L1021.9,951.9L1022.2,955.0L1022.4,957.7L1022.6,962.0L1022.8,968.2L1023.0,970.7L1023.3,969.8L1023.5,967.3L1023.7,966.5L1023.9,968.0L1024.1,961.1L1024.4,952.1L1024.6,950.0L1024.8,946.9L1025.0,951.1L1025.2,947.0L1025.5,947.7L1025.7,955.7L1025.9,956.7L1026.1,964.2L1026.3,963.2L1026.6,967.8L1026.8,965.9L1027.0,965.6L1027.2,967.3L1027.4,963.5L1027.7,961.5L1027.9,956.1L1028.1,953.4L1028.3,948.5L1028.5,947.2L1028.8,946.8L1029.0,952.0L1029.2,951.0L1029.4,955.8L1029.6,958.4L1029.9,962.8L1030.1,969.2L1030.3,967.8L1030.5,964.6L1030.7,968.8L1031.0,962.0L1031.2,958.6L1031.4,955.5L1031.6,953.1L1031.8,943.8L1032.1,943.4L1032.3,944.8L1032.5,949.6L1032.7,954.0L1032.9,959.8L1033.2,963.6L1033.4,970.7L1033.6,970.3L1033.8,965.3L1034.0,966.0L1034.3,964.2L1034.5,959.4L1034.7,952.9L1034.9,949.8L1035.1,950.2L1035.4,943.3L1035.6,948.9L1035.8,957.9L1036.0,962.4L1036.2,963.4L1036.5,966.4L1036.7,969.0L1036.9,968.5L1037.1,963.6L1037.3,959.4L1037.6,956.6L1037.8,946.8L1038.0,946.2L1038.2,943.9L1038.4,950.1L1038.7,951.3L1038.9,956.4L1039.1,963.8L1039.3,967.6L1039.5,969.6L1039.8,967.3L1040.0,967.8L1040.2,959.4L1040.4,953.2L1040.6,953.4L1040.9,949.2L1041.1,943.5L1041.3,946.7L1041.5,951.0L1041.7,954.2L1042.0,961.2L1042.2,961.6L1042.4,971.3L1042.6,963.1L1042.8,967.6L1043.1,963.4L1043.3,953.7L1043.5,949.5L1043.7,948.5L1043.9,945.0L1044.2,950.1L1044.4,952.0L1044.6,955.3L1044.8,957.9L1045.0,968.5L1045.3,971.2L1045.5,963.2L1045.7,966.6L1045.9,955.9L1046.1,953.1L1046.4,948.6L1046.6,946.7L1046.8,949.9L1047.0,954.4L1047.2,952.7L1047.5,959.9L1047.7,965.5L1047.9,964.5L1048.1,962.9L1048.3,963.4L1048.6,957.1L1048.8,955.3L1049.0,943.9L1049.2,942.1L1049.4,947.1L1049.7,946.3L1049.9,957.6L1050.1,961.4L1050.3,962.9L1050.5,963.3L1050.8,969.6L1051.0,959.3L1051.2,953.1L1051.4,951.4L1051.6,942.5L1051.9,941.6L1052.1,948.0L1052.3,949.9L1052.5,961.8L1052.7,963.0L1053.0,963.7L1053.2,962.9L1053.4,963.3L1053.6,957.2L1053.8,947.7L1054.1,950.9L1054.3,948.4L1054.5,943.6L1054.7,948.8L1054.9,956.8L1055.2,964.8L1055.4,966.1L1055.6,967.3L1055.8,967.0L1056.0,958.3L1056.3,951.5L1056.5,948.4L1056.7,943.1L1056.9,942.6L1057.1,948.6L1057.4,954.1L1057.6,962.5L1057.8,969.1L1058.0,966.0L1058.2,965.5L1058.5,959.2L1058.7,949.5L1058.9,946.4L1059.1,947.2L1059.3,946.3L1059.6,957.1L1059.8,959.7L1060.0,966.6L1060.2,968.3L1060.4,962.4L1060.7,959.9L1060.9,955.2L1061.1,944.3L1061.3,942.6L1061.5,949.9L1061.8,953.3L1062.0,957.3L1062.2,967.0L1062.4,963.4L1062.6,965.7L1062.9,959.4L1063.1,957.8L1063.3,945.7L1063.5,948.1L1063.7,943.7L1064.0,951.3L1064.2,954.9L1064.4,966.4L1064.6,967.7L1064.8,967.0L1065.1,958.0L1065.3,953.8L1065.5,952.2L1065.7,945.1L1065.9,950.1L1066.2,946.8L1066.4,953.7L1066.6,965.4L1066.8,964.4L1067.0,964.0L1067.3,957.1L1067.5,952.5L1067.7,946.3L1067.9,940.6L1068.1,948.2L1068.4,954.3L1068.6,958.0L1068.8,966.4L1069.0,968.9L1069.2,961.8L1069.5,952.2L1069.7,946.3L1069.9,948.7L1070.1,943.2L1070.3,950.9L1070.6,955.2L1070.8,958.1L1071.0,965.9L1071.2,962.2L1071.4,963.3L1071.7,949.1L1071.9,949.1L1072.1,947.2L1072.3,943.8L1072.5,948.6L1072.8,956.4L1073.0,962.9L1073.2,965.4L1073.4,959.8L1073.6,950.1L1073.9,949.6L1074.1,945.6L1074.3,942.7L1074.5,950.3L1074.7,956.3L1075.0,960.0L1075.2,966.7L1075.4,958.7L1075.6,956.0L1075.8,950.4L1076.1,946.7L1076.3,946.8L1076.5,953.3L1076.7,962.2L1076.9,963.2L1077.2,963.2L1077.4,956.7L1077.6,949.1L1077.8,949.2L1078.0,946.1L1078.3,949.8L1078.5,951.3L1078.7,957.5L1078.9,960.9L1079.1,963.6L1079.4,963.4L1079.6,950.1L1079.8,942.7L1080.0,945.3L1080.2,945.0L1080.5,958.0L1080.7,964.2L1080.9,967.8L1081.1,959.8L1081.3,953.3L1081.6,947.9L1081.8,940.5L1082.0,943.1L1082.2,950.8L1082.4,955.2L1082.7,961.1L1082.9,964.8L1083.1,963.6L1083.3,948.7L1083.5,943.0L1083.8,942.2L1084.0,944.3L1084.2,953.8L1084.4,960.1L1084.6,963.7L1084.9,961.5L1085.1,950.9L1085.3,950.0L1085.5,944.7L1085.7,944.3L1086.0,948.3L1086.2,957.4L1086.4,962.6L1086.6,963.8L1086.8,960.7L1087.1,945.1L1087.3,943.9L1087.5,948.8L1087.7,953.7L1087.9,955.7L1088.2,967.9L1088.4,964.2L1088.6,961.5L1088.8,950.9L1089.0,945.3L1089.3,948.3L1089.5,951.8L1089.7,956.7L1089.9,964.9L1090.1,966.6L1090.4,955.6L1090.6,952.1L1090.8,943.4L1091.0,942.7L1091.2,951.4L1091.5,959.3L1091.7,962.7L1091.9,964.0L1092.1,953.8L1092.3,948.7L1092.6,947.4L1092.8,942.3L1093.0,952.6L1093.2,963.2L1093.4,962.3L1093.7,963.7L1093.9,956.5L1094.1,947.3L1094.3,938.9L1094.5,944.9L1094.8,952.0L1095.0,958.3L1095.2,961.2L1095.4,955.5L1095.6,955.1L1095.9,945.2L1096.1,947.0L1096.3,950.5L1096.5,955.4L1096.7,961.0L1097.0,964.0L1097.2,958.6L1097.4,948.0L1097.6,947.0L1097.8,946.0L1098.1,950.3L1098.3,956.1L1098.5,966.7L1098.7,958.5L1098.9,949.4L1099.2,944.7L1099.4,946.4L1099.6,949.7L1099.8,954.7L1100.0,964.6L1100.3,964.1L1100.5,956.1L1100.7,945.6L1100.9,940.9L1101.1,945.0L1101.4,949.4L1101.6,964.7L1101.8,959.4L1102.0,955.1L1102.2,950.1L1102.5,939.7L1102.7,941.2L1102.9,947.6L1103.1,960.5L1103.3,966.3L1103.6,963.3L1103.8,948.5L1104.0,939.9L1104.2,944.9L1104.4,947.7L1104.7,960.2L1104.9,960.9L1105.1,957.6L1105.3,949.9L1105.5,942.3L1105.8,942.1L1106.0,949.5L1106.2,955.4L1106.4,965.4L1106.6,957.1L1106.9,956.8L1107.1,943.5L1107.3,939.4L1107.5,947.5L1107.7,957.1L1108.0,964.9L1108.2,963.0L1108.4,955.3L1108.6,946.8L1108.8,938.1L1109.1,947.2L1109.3,960.5L1109.5,965.1L1109.7,963.9L1109.9,952.4L1110.2,940.6L1110.4,944.5L1110.6,947.0L1110.8,958.0L1111.0,962.5L1111.3,958.0L1111.5,951.0L1111.7,939.0L1111.9,939.9L1112.1,950.6L1112.4,956.7L1112.6,960.0L1112.8,953.0L1113.0,947.9L1113.2,944.0L1113.5,944.4L1113.7,957.0L1113.9,965.1L1114.1,966.0L1114.3,953.5L1114.6,945.3L1114.8,943.0L1115.0,947.5L1115.2,955.4L1115.4,958.3L1115.7,963.7L1115.9,950.0L1116.1,943.6L1116.3,939.9L1116.5,949.6L1116.8,957.2L1117.0,966.0L1117.2,958.6L1117.4,947.1L1117.6,941.5L1117.9,946.8L1118.1,956.3L1118.3,963.1L1118.5,964.3L1118.7,954.0L1119.0,941.0L1119.2,938.1L1119.4,952.3L1119.6,960.1L1119.8,963.8L1120.1,958.1L1120.3,947.9L1120.5,939.3L1120.7,945.1L1120.9,956.8L1121.2,959.7L1121.4,960.5L1121.6,954.3L1121.8,945.4L1122.0,938.5L1122.3,953.7L1122.5,961.5L1122.7,965.1L1122.9,952.9L1123.1,945.1L1123.4,945.0L1123.6,948.2L1123.8,955.2L1124.0,961.4L1124.2,959.5L1124.5,944.4L1124.7,939.5L1124.9,949.6L1125.1,956.9L1125.3,960.8L1125.6,956.9L1125.8,948.0L1126.0,944.9L1126.2,945.8L1126.4,949.7L1126.7,962.4L1126.9,962.3L1127.1,949.3L1127.3,939.1L1127.5,944.8L1127.8,955.3L1128.0,959.5L1128.2,958.9L1128.4,956.3L1128.6,945.6L1128.9,937.6L1129.1,946.5L1129.3,961.4L1129.5,961.2L1129.7,954.2L1130.0,945.3L1130.2,938.7L1130.4,948.5L1130.6,961.1L1130.8,958.4L1131.1,950.3L1131.3,947.3L1131.5,941.0L1131.7,952.1L1131.9,956.4L1132.2,957.1L1132.4,950.1L1132.6,945.4L1132.8,939.4L1133.0,953.2L1133.3,958.6L1133.5,961.8L1133.7,953.3L1133.9,945.9L1134.1,938.8L1134.4,948.7L1134.6,958.8L1134.8,958.2L1135.0,949.6L1135.2,942.7L1135.5,942.1L1135.7,953.3L1135.9,957.0L1136.1,955.3L1136.3,951.5L1136.6,936.8L1136.8,944.1L1137.0,957.9L1137.2,957.5L1137.4,957.9L1137.7,942.8L1137.9,941.5L1138.1,949.4L1138.3,958.1L1138.5,965.0L1138.8,955.2L1139.0,943.3L1139.2,940.0L1139.4,946.4L1139.6,961.5L1139.9,965.0L1140.1,955.2L1140.3,946.3L1140.5,943.0L1140.7,949.7L1141.0,956.1L1141.2,957.7L1141.4,947.3L1141.6,937.2L1141.8,943.4L1142.1,956.3L1142.3,962.9L1142.5,959.3L1142.7,941.7L1142.9,941.3L1143.2,950.7L1143.4,956.1L1143.6,962.0L1143.8,954.3L1144.0,940.5L1144.3,943.0L1144.5,953.5L1144.7,960.2L1144.9,956.6L1145.1,943.7L1145.4,944.5L1145.6,949.8L1145.8,959.6L1146.0,956.2L1146.2,951.2L1146.5,938.1L1146.7,944.1L1146.9,949.7L1147.1,959.6L1147.3,958.4L1147.6,945.7L1147.8,941.1L1148.0,942.1L1148.2,956.2L1148.4,964.0L1148.7,955.6L1148.9,945.9L1149.1,944.9L1149.3,955.7L1149.5,962.3L1149.8,954.5L1150.0,942.4L1150.2,936.9L1150.4,947.5L1150.6,958.7L1150.9,962.4L1151.1,949.4L1151.3,937.1L1151.5,946.0L1151.7,952.9L1152.0,961.9L1152.2,953.9L1152.4,945.8L1152.6,937.9L1152.8,950.2L1153.1,956.4L1153.3,958.2L1153.5,943.2L1153.7,937.3L1153.9,949.2L1154.2,959.3L1154.4,955.4" stroke="#0000ff" stroke-width="1.2"/>
<path d="M165.5,974.4L166.1,958.6L166.9,972.8L167.6,958.8L168.1,974.7L168.6,961.2L169.5,978.6L170.3,966.2L171.1,982.0L171.8,968.4L172.4,983.1L172.9,968.8L173.7,982.0L174.6,965.7L175.1,978.8L175.9,962.1L176.5,975.9L177.3,959.9L177.9,973.8L178.5,958.6L179.2,974.1L179.7,960.5L180.5,976.9L181.4,965.3L182.2,980.9L182.9,967.5L183.8,982.6L184.4,968.2L185.2,981.3L185.7,966.7L186.6,979.2L187.5,962.6L188.3,976.4L189.0,960.5L189.7,974.1L190.4,961.2L191.1,976.2L191.9,962.7L192.5,978.2L193.0,965.0L193.8,979.2L194.5,966.2L195.1,981.7L195.9,965.9L196.8,979.6L197.7,964.5L198.6,978.1L199.1,963.5L199.9,977.4L200.6,961.8L201.3,976.8L202.1,962.7L202.7,976.4L203.4,963.1L203.9,978.1L204.5,963.9L205.1,978.8L205.8,964.8L206.3,980.0L206.9,964.6L207.6,979.3L208.3,964.7L209.1,979.1L209.9,963.4L210.4,978.3L211.2,963.3L211.7,977.5L212.4,963.3L213.3,978.2L214.1,964.2L214.5,978.0L215.3,965.2L215.9,977.1L216.6,965.0L217.4,980.9L217.9,961.8L218.8,979.9L219.4,963.0L220.0,977.6L220.6,966.0L221.3,980.8L222.2,962.9L223.0,977.6L223.7,966.2L224.4,976.6L224.9,962.6L225.4,977.4L226.0,966.1L226.6,976.6L227.5,961.8L228.1,977.5L228.9,965.9L229.7,977.7L230.4,961.9L231.1,977.1L232.0,965.9L232.8,979.5L233.5,963.1L234.3,976.8L235.2,962.7L236.0,977.0L236.8,963.1L237.7,977.9L238.4,965.6L239.0,979.7L239.8,963.9L240.6,977.5L241.5,965.6L242.2,977.8L242.9,965.6L243.7,977.4L244.5,965.9L245.3,981.2L246.2,965.9L246.9,977.7L247.8,966.1L248.5,981.4L249.2,965.8L249.9,981.6L250.5,966.3L251.0,980.2L251.8,963.6L252.7,977.8L253.2,966.4L253.9,977.5L254.5,962.5L255.1,980.8L255.6,964.0L256.3,977.2L256.9,963.4L257.5,980.7L258.3,966.8L259.0,977.5L259.6,963.5L260.4,980.2L261.0,963.5L261.8,978.1L262.4,966.1L263.1,978.2L263.7,964.3L264.3,977.7L264.9,966.2L265.8,978.0L266.4,966.5L267.0,977.3L267.6,966.1L268.5,977.4L269.1,966.2L269.9,981.8L270.6,964.1L271.1,978.4L271.8,964.3L272.4,977.5L273.0,966.7L273.7,977.9L274.3,966.8L275.0,979.9L275.5,963.5L276.4,981.8L277.0,964.4L277.7,978.2L278.5,966.7L279.3,977.6L279.8,966.7L280.4,981.1L281.3,963.1L282.1,977.3L282.8,966.3L283.3,980.3L284.1,966.9L284.9,978.3L285.8,966.7L286.6,977.3L287.5,963.3L288.3,981.1L289.1,966.4L289.8,978.1L290.7,967.1L291.3,978.2L291.9,964.1L292.7,978.3L293.4,966.4L294.0,977.5L294.7,964.1L295.3,977.4L296.1,967.0L296.9,977.5L297.6,967.3L298.4,981.4L299.1,966.4L299.8,981.6L300.7,967.1L301.2,978.5L302.1,966.4L302.7,978.2L303.4,966.3L304.1,980.5L304.9,966.4L305.4,977.5L306.1,964.4L306.6,980.9L307.4,964.4L308.0,977.7L308.5,963.0L309.4,977.4L310.2,966.5L310.9,977.3L311.7,964.3L312.2,977.4L312.7,966.3L313.2,978.2L314.0,967.3L314.7,980.6L315.3,967.5L316.1,977.4L316.6,967.2L317.4,977.4L317.9,963.6L318.5,978.3L319.4,964.6L319.9,977.4L320.5,963.1L321.4,978.3L322.0,967.0L322.8,977.4L323.4,966.6L323.9,978.4L324.8,966.7L325.3,977.3L325.9,966.9L326.5,978.1L327.2,967.6L328.1,981.8L328.7,967.2L329.3,978.1L330.2,967.3L330.9,977.6L331.6,967.1L332.5,977.7L333.1,967.1L333.9,979.9L334.8,967.7L335.7,980.5L336.6,966.8L337.2,977.4L338.1,963.6L338.6,977.4L339.4,963.4L340.0,978.1L340.6,966.8L341.1,980.0L341.8,964.9L342.6,978.2L343.2,967.4L344.0,980.1L344.9,967.9L345.6,977.3L346.4,966.9L347.2,978.3L348.0,963.5L348.7,980.2L349.5,964.0L350.2,978.3L350.9,967.6L351.7,977.5L352.5,965.3L353.2,980.3L353.9,967.9L354.7,977.6L355.5,963.7L356.2,977.9L356.7,967.7L357.2,980.5L357.8,967.2L358.7,980.6L359.5,967.9L360.0,978.0L360.8,965.3L361.5,981.1L362.3,967.2L363.1,977.5L363.8,967.3L364.7,977.7L365.4,967.7L366.0,978.3L366.7,967.9L367.2,977.5L367.9,964.1L368.6,978.4L369.2,968.1L370.0,980.4L370.6,968.0L371.2,981.4L371.9,964.7L372.4,978.3L373.3,965.1L374.1,978.4L374.9,964.2L375.7,978.0L376.5,968.0L377.0,980.0L377.6,968.2L378.3,977.4L379.1,967.3L379.6,978.1L380.5,965.3L381.1,978.4L381.9,965.8L382.4,977.8L383.1,968.2L383.7,978.3L384.4,964.2L385.3,980.8L385.8,968.2L386.4,978.0L387.1,964.3L387.7,978.2L388.5,968.0L389.1,977.7L389.7,967.4L390.5,981.0L391.2,968.1L392.0,977.5L392.8,967.3L393.5,977.2L394.0,964.0L394.7,980.3L395.5,968.0L396.4,981.2L397.1,965.0L397.7,978.1L398.4,968.1L398.9,978.0L399.8,967.3L400.5,977.4L401.2,967.5L401.7,977.1L402.3,967.4L403.0,977.9L403.6,967.7L404.5,977.9L405.3,967.9L406.1,977.3L406.9,964.8L407.6,980.0L408.2,967.5L408.8,981.0L409.6,967.5L410.4,979.9L411.0,967.6L411.6,977.7L412.3,967.7L412.9,979.9L413.8,967.0L414.4,977.8L415.0,964.4L415.8,977.6L416.4,967.2L416.9,977.7L417.6,967.8L418.3,977.4L419.2,964.5L420.1,979.9L420.8,964.2L421.7,976.7L422.5,967.7L423.2,980.6L423.9,964.0L424.7,977.4L425.3,966.8L426.0,979.8L426.8,963.8L427.3,977.1L428.2,967.3L428.7,976.6L429.2,967.0L429.8,977.5L430.4,964.3L431.1,976.5L432.0,967.2L432.7,976.7L433.6,965.3L434.3,976.6L434.9,967.5L435.4,977.2L436.0,967.2L436.7,980.1L437.4,967.1L437.9,976.6L438.8,967.3L439.5,977.2L440.4,966.6L441.2,976.7L442.1,966.8L442.7,976.7L443.5,964.9L444.2,979.8L445.0,966.1L445.5,976.7L446.3,963.5L446.9,977.3L447.5,966.2L448.2,977.2L449.0,965.6L449.7,976.2L450.4,964.9L450.9,977.0L451.7,965.4L452.3,977.3L453.2,964.7L453.8,976.5L454.5,964.7L455.4,977.2L456.0,963.8L456.8,976.9L457.6,964.6L458.4,976.4L459.2,963.9L459.9,976.0L460.6,963.6L461.5,975.1L462.3,964.0L462.8,974.9L463.6,963.2L464.1,975.7L465.0,962.3L465.9,974.9L466.4,962.6L467.0,975.6L467.6,963.9L468.3,975.2L469.1,963.2L469.8,975.9L470.5,963.9L471.4,976.0L472.0,964.6L472.5,976.5L473.3,964.3L473.8,977.3L474.3,965.2L474.9,976.4L475.6,965.0L476.4,976.9L477.0,965.3L477.5,977.2L478.4,965.5L479.0,977.2L479.6,965.0L480.1,977.9L480.7,964.9L481.2,977.6L481.8,964.9L482.5,976.9L483.2,966.0L483.7,977.5L484.4,965.7L485.1,977.3L485.8,965.1L486.7,976.9L487.2,965.7L487.7,976.8L488.5,965.5L489.3,977.7L489.9,964.9L490.5,977.3L491.0,965.3L491.7,976.8L492.3,965.5L492.9,977.6L493.4,965.3L494.0,976.7L494.7,964.8L495.6,977.1L496.2,965.7L496.9,977.6L497.7,965.6L498.2,976.7L498.9,964.9L499.5,976.9L500.0,965.3L500.8,977.1L501.7,964.9L502.5,976.9L503.4,964.4L503.9,976.4L504.7,964.1L505.5,975.9L506.3,963.9L507.1,976.6L508.0,964.4L508.7,976.4L509.4,963.6L509.9,975.8L510.7,964.2L511.5,976.0L512.4,964.0L513.1,975.0L513.9,963.6L514.5,975.7L515.0,964.0L515.5,975.0L516.3,964.2L516.9,974.8L517.7,963.1L518.2,974.6L518.8,963.3L519.4,974.8L520.2,963.1L521.1,974.1L521.7,963.3L522.5,974.2L523.3,963.2L524.0,973.9L524.7,962.5L525.4,974.5L525.9,962.6L526.8,974.0L527.5,962.4L528.0,973.7L528.6,961.8L529.2,973.1L529.8,961.9L530.4,973.6L531.1,962.5L531.9,973.7L532.4,962.3L533.1,973.9L533.8,963.7L534.6,975.6L535.1,964.7L535.9,976.2L536.6,964.8L537.3,977.7L538.0,965.8L538.4,978.5L539.0,968.1L539.7,979.8L540.6,968.4L541.3,977.7L542.2,968.7L542.9,977.2L543.7,969.2L544.4,977.5L545.2,968.5L546.0,977.5L546.5,969.1L547.0,977.7L547.5,969.2L548.4,981.3L549.2,969.1L549.9,978.3L550.7,969.2L551.5,981.0L552.1,969.0L552.9,978.3L553.7,969.5L554.6,978.3L555.3,969.2L556.2,978.5L556.7,969.6L557.4,978.4L557.9,967.3L558.4,978.8L559.2,969.1L560.0,978.2L560.6,969.3L561.2,978.1L561.8,966.5L562.5,979.0L563.1,969.7L564.0,981.3L564.7,967.8L565.6,982.0L566.3,966.9L567.2,979.1L567.9,967.1L568.8,979.5L569.6,970.5L570.2,979.7L570.8,971.1L571.4,983.0L572.1,971.2L572.8,979.7L573.7,970.6L574.5,979.6L575.4,971.6L576.2,980.7L576.9,971.8L577.4,980.3L578.0,971.9L578.6,980.3L579.2,971.5L580.0,980.8L580.6,972.1L581.5,981.0L582.0,971.4L582.7,983.9L583.6,969.9L584.3,981.3L584.9,971.8L585.4,980.8L586.3,972.2L587.0,981.7L587.6,972.1L588.2,984.4L589.1,972.1L589.7,984.2L590.4,973.0L591.3,982.2L592.2,973.4L593.0,984.5L593.5,973.2L594.1,982.0L594.8,970.6L595.5,982.4L596.2,972.9L596.9,983.0L597.6,973.3L598.2,982.9L598.7,973.1L599.4,985.1L600.3,974.1L600.9,982.7L601.5,973.5L602.2,986.1L602.7,974.3L603.6,986.4L604.3,973.9L604.8,986.3L605.3,974.6L605.9,982.9L606.8,974.1L607.6,983.7L608.2,974.3L608.9,984.0L609.4,975.2L610.2,984.1L611.1,975.0L611.8,987.0L612.6,972.8L613.5,986.9L614.2,975.4L614.9,984.3L615.7,975.1L616.3,987.3L616.9,975.6L617.5,985.1L618.4,971.7L619.0,987.1L619.6,971.9L620.1,988.2L620.6,972.3L621.5,988.5L622.0,973.1L622.8,988.6L623.5,972.9L624.2,988.1L625.0,976.1L625.9,988.9L626.5,976.2L627.2,985.8L627.8,976.7L628.6,985.0L629.5,976.3L630.2,988.2L631.0,976.9L631.7,988.1L632.5,976.8L633.3,985.8L634.1,976.3L634.6,985.8L635.3,976.9L635.9,989.6L636.5,976.8L637.1,985.8L637.9,973.7L638.8,986.3L639.5,977.1L640.3,985.9L641.1,977.2L641.7,989.2L642.2,977.2L642.9,986.6L643.8,974.7L644.4,986.6L645.2,974.3L646.0,990.6L646.9,974.4L647.6,990.7L648.4,977.5L649.3,986.5L650.0,977.7L650.7,990.2L651.2,978.1L652.1,991.1L652.8,978.0L653.5,987.2L654.2,975.1L654.8,987.4L655.6,977.7L656.2,990.0L657.0,977.9L657.6,987.5L658.4,975.7L659.0,987.6L659.6,977.8L660.4,988.2L660.9,978.6L661.7,987.3L662.6,978.4L663.1,990.5L664.0,978.4L664.7,990.4L665.5,978.1L666.2,987.7L667.1,975.6L667.6,988.3L668.2,975.1L668.9,988.4L669.6,978.2L670.5,992.0L671.2,975.2L671.7,992.3L672.5,974.9L673.3,992.2L674.2,978.4L674.7,987.8L675.2,979.2L675.8,988.2L676.6,978.9L677.2,991.3L677.9,978.6L678.5,991.0L679.4,974.8L680.0,991.7L680.6,979.4L681.4,988.9L682.2,979.1L682.8,988.4L683.7,975.3L684.3,988.5L685.0,979.3L685.6,992.6L686.2,979.3L686.7,988.5L687.6,975.7L688.1,989.1L688.6,979.1L689.5,989.0L690.2,976.7L690.9,992.8L691.8,975.6L692.6,993.2L693.2,979.5L693.7,992.9L694.3,975.6L695.1,988.7L695.7,975.8L696.5,993.1L697.2,979.9L698.1,988.9L698.7,979.8L699.2,992.2L700.0,977.1L700.9,989.3L701.7,977.1L702.4,992.6L703.0,979.7L703.6,992.5L704.4,979.5L705.3,993.0L706.0,975.6L706.7,989.1L707.2,976.1L707.9,992.2L708.5,979.5L709.3,989.0L710.0,975.2L710.7,988.9L711.2,979.2L711.8,992.3L712.4,978.8L712.9,992.3L713.6,978.4L714.3,988.1L714.9,978.1L715.6,991.8L716.1,974.9L716.9,991.4L717.8,977.8L718.7,987.6L719.5,978.7L720.0,987.4L720.7,978.4L721.4,991.1L721.9,978.1L722.5,987.8L723.1,977.5L723.9,987.4L724.5,978.1L725.3,991.3L725.9,973.7L726.6,991.3L727.4,977.8L728.2,987.4L728.8,977.1L729.3,989.9L730.2,977.5L730.7,987.1L731.5,977.4L732.0,990.1L732.7,977.4L733.4,987.3L734.3,976.6L735.1,987.1L735.8,976.6L736.5,989.1L737.1,976.9L737.9,986.2L738.8,976.2L739.4,989.7L740.1,974.0L740.8,986.1L741.5,973.1L742.0,989.8L742.9,975.9L743.8,986.5L744.5,976.1L745.3,988.3L746.2,976.3L747.0,985.2L747.9,976.2L748.4,985.0L749.3,975.9L749.8,985.7L750.4,975.2L751.1,985.7L752.0,975.3L752.8,984.5L753.5,971.8L754.1,984.5L754.7,974.6L755.2,987.8L755.9,974.6L756.6,988.4L757.1,974.5L758.0,987.6L758.5,970.4L759.2,988.2L759.8,974.8L760.3,987.0L760.9,971.2L761.7,983.7L762.4,974.2L763.1,984.0L763.6,973.5L764.3,983.4L765.0,973.4L765.5,983.8L766.4,969.6L767.0,986.1L767.8,969.8L768.4,983.1L768.9,973.1L769.8,982.6L770.4,968.9L771.0,985.5L771.8,973.0L772.5,982.7L773.1,969.0L773.7,983.2L774.5,972.2L775.2,982.8L775.9,973.0L776.7,982.8L777.6,972.6L778.4,986.5L779.3,972.3L780.1,984.4L780.7,969.3L781.3,984.8L782.1,968.4L782.7,981.7L783.5,971.2L784.3,981.8L784.9,972.0L785.4,981.7L786.2,971.2L786.9,980.8L787.7,967.6L788.5,985.2L789.3,970.8L790.0,983.8L790.7,971.2L791.4,980.6L792.2,971.3L792.9,980.3L793.7,966.9L794.2,980.9L794.7,970.8L795.4,980.4L796.3,970.5L796.9,980.0L797.6,970.0L798.3,983.6L798.9,969.9L799.6,979.8L800.2,981.2L800.4,987.0L800.6,984.9L800.8,979.6L801.1,977.6L801.3,971.7L801.5,966.1L801.7,962.4L801.9,965.2L802.2,968.4L802.4,975.7L802.6,980.2L802.8,986.1L803.0,985.5L803.3,980.7L803.5,976.4L803.7,970.7L803.9,968.8L804.1,964.9L804.4,963.5L804.6,967.7L804.8,971.0L805.0,977.9L805.2,983.6L805.5,985.0L805.7,982.4L805.9,976.9L806.1,975.3L806.3,967.6L806.6,963.2L806.8,962.2L807.0,967.4L807.2,971.0L807.4,975.2L807.7,979.3L807.9,986.0L808.1,985.0L808.3,980.4L808.5,979.0L808.8,973.7L809.0,968.5L809.2,964.6L809.4,964.1L809.6,964.7L809.9,970.7L810.1,974.8L810.3,983.6L810.5,984.4L810.7,985.5L811.0,980.2L811.2,978.7L811.4,968.8L811.6,968.8L811.8,965.4L812.1,963.8L812.3,964.4L812.5,973.7L812.7,975.3L812.9,981.7L813.2,985.4L813.4,985.1L813.6,980.4L813.8,974.2L814.0,969.5L814.3,965.4L814.5,962.9L814.7,963.8L814.9,967.9L815.1,969.0L815.4,976.9L815.6,979.3L815.8,982.7L816.0,984.7L816.2,981.0L816.5,978.5L816.7,973.7L816.9,966.4L817.1,965.2L817.3,963.8L817.6,966.9L817.8,969.3L818.0,971.9L818.2,977.4L818.4,979.0L818.7,982.7L818.9,980.3L819.1,977.9L819.3,975.1L819.5,972.1L819.8,964.6L820.0,961.8L820.2,960.8L820.4,964.8L820.6,967.5L820.9,973.5L821.1,980.2L821.3,983.7L821.5,983.3L821.7,982.0L822.0,976.9L822.2,972.5L822.4,970.6L822.6,962.1L822.8,962.0L823.1,962.5L823.3,965.6L823.5,969.9L823.7,976.1L823.9,977.6L824.2,982.9L824.4,983.4L824.6,979.6L824.8,975.0L825.0,974.7L825.3,970.6L825.5,965.2L825.7,962.9L825.9,962.0L826.1,963.7L826.4,971.7L826.6,973.1L826.8,977.1L827.0,980.2L827.2,983.2L827.5,978.8L827.7,978.9L827.9,972.2L828.1,968.5L828.3,964.9L828.6,965.3L828.8,959.7L829.0,966.2L829.2,967.4L829.4,971.4L829.7,974.6L829.9,981.8L830.1,979.8L830.3,982.3L830.5,981.6L830.8,974.1L831.0,970.2L831.2,969.9L831.4,964.2L831.6,960.4L831.9,960.4L832.1,965.8L832.3,969.2L832.5,971.9L832.7,976.2L833.0,981.2L833.2,981.2L833.4,981.8L833.6,978.1L833.8,974.7L834.1,969.0L834.3,968.8L834.5,965.8L834.7,963.1L834.9,961.0L835.2,964.2L835.4,966.9L835.6,973.6L835.8,975.9L836.0,979.1L836.3,982.9L836.5,980.9L836.7,981.5L836.9,974.3L837.1,970.7L837.4,967.7L837.6,963.1L837.8,961.6L838.0,959.7L838.2,964.9L838.5,965.1L838.7,970.5L838.9,976.4L839.1,977.2L839.3,980.9L839.6,981.7L839.8,978.4L840.0,978.4L840.2,976.7L840.4,970.4L840.7,967.1L840.9,965.1L841.1,960.3L841.3,960.0L841.5,963.4L841.8,966.1L842.0,968.1L842.2,973.6L842.4,979.1L842.6,982.1L842.9,981.6L843.1,980.1L843.3,979.2L843.5,975.5L843.7,967.9L844.0,965.0L844.2,964.6L844.4,959.3L844.6,963.2L844.8,964.6L845.1,964.4L845.3,968.0L845.5,975.1L845.7,975.2L845.9,979.1L846.2,979.1L846.4,980.6L846.6,980.7L846.8,976.5L847.0,973.5L847.3,967.1L847.5,961.7L847.7,961.9L847.9,959.5L848.1,963.2L848.4,961.4L848.6,966.1L848.8,972.5L849.0,971.4L849.2,974.8L849.5,980.3L849.7,982.1L849.9,982.1L850.1,979.2L850.3,971.9L850.6,969.9L850.8,965.3L851.0,964.4L851.2,959.0L851.4,961.5L851.7,961.4L851.9,962.8L852.1,963.1L852.3,969.1L852.5,974.2L852.8,975.2L853.0,978.2L853.2,981.5L853.4,980.9L853.6,977.2L853.9,976.2L854.1,971.7L854.3,968.6L854.5,964.0L854.7,959.7L855.0,958.2L855.2,958.6L855.4,962.7L855.6,964.6L855.8,964.4L856.1,968.3L856.3,973.2L856.5,975.8L856.7,980.8L856.9,981.1L857.2,977.5L857.4,975.2L857.6,975.3L857.8,968.9L858.0,969.6L858.3,964.1L858.5,960.2L858.7,958.6L858.9,958.4L859.1,960.0L859.4,963.9L859.6,966.3L859.8,969.0L860.0,972.7L860.2,976.7L860.5,975.8L860.7,977.9L860.9,977.6L861.1,977.3L861.3,975.1L861.6,971.7L861.8,971.7L862.0,964.1L862.2,963.6L862.4,960.4L862.7,959.0L862.9,958.1L863.1,961.5L863.3,963.4L863.5,963.4L863.8,967.4L864.0,971.3L864.2,975.6L864.4,974.7L864.6,977.0L864.9,977.8L865.1,978.3L865.3,974.7L865.5,974.4L865.7,971.3L866.0,969.3L866.2,963.1L866.4,961.7L866.6,957.7L866.8,957.9L867.1,957.4L867.3,962.5L867.5,962.0L867.7,965.3L867.9,971.0L868.2,972.2L868.4,973.3L868.6,977.2L868.8,976.6L869.0,980.4L869.3,974.9L869.5,977.9L869.7,972.2L869.9,969.0L870.1,965.3L870.4,962.6L870.6,962.6L870.8,960.9L871.0,959.2L871.2,957.8L871.5,959.3L871.7,963.6L871.9,966.1L872.1,968.8L872.3,971.9L872.6,974.5L872.8,975.5L873.0,975.7L873.2,976.4L873.4,978.7L873.7,976.3L873.9,972.9L874.1,971.6L874.3,967.3L874.5,966.8L874.8,963.8L875.0,962.4L875.2,961.2L875.4,960.6L875.6,955.7L875.9,959.0L876.1,958.9L876.3,961.2L876.5,966.4L876.7,969.0L877.0,971.7L877.2,972.2L877.4,976.6L877.6,976.8L877.8,975.2L878.1,977.9L878.3,976.5L878.5,972.3L878.7,970.5L878.9,971.0L879.2,964.2L879.4,965.7L879.6,961.3L879.8,957.0L880.0,956.6L880.3,958.0L880.5,958.3L880.7,958.8L880.9,961.0L881.1,964.6L881.4,964.9L881.6,969.3L881.8,969.7L882.0,971.7L882.2,973.4L882.5,975.2L882.7,977.6L882.9,975.6L883.1,976.1L883.3,974.9L883.6,972.8L883.8,971.8L884.0,965.2L884.2,966.5L884.4,963.5L884.7,958.4L884.9,960.1L885.1,958.2L885.3,957.2L885.5,955.4L885.8,960.5L886.0,961.5L886.2,963.1L886.4,964.0L886.6,968.3L886.9,970.9L887.1,975.5L887.3,974.0L887.5,978.3L887.7,975.8L888.0,976.0L888.2,976.9L888.4,974.4L888.6,973.4L888.8,974.0L889.1,971.5L889.3,966.6L889.5,963.2L889.7,964.4L889.9,959.8L890.2,956.8L890.4,955.3L890.6,957.0L890.8,956.6L891.0,960.7L891.3,959.7L891.5,962.6L891.7,964.2L891.9,964.8L892.1,970.3L892.4,972.5L892.6,971.7L892.8,974.9L893.0,975.2L893.2,977.1L893.5,975.0L893.7,975.6L893.9,976.3L894.1,974.7L894.3,970.7L894.6,968.6L894.8,969.5L895.0,967.2L895.2,965.3L895.4,962.0L895.7,957.9L895.9,960.8L896.1,960.0L896.3,958.0L896.5,958.9L896.8,959.5L897.0,958.0L897.2,963.0L897.4,962.4L897.6,966.5L897.9,965.9L898.1,967.2L898.3,970.3L898.5,972.3L898.7,975.9L899.0,975.6L899.2,976.2L899.4,976.4L899.6,976.3L899.8,977.5L900.1,974.6L900.3,976.1L900.5,971.1L900.7,971.5L900.9,970.3L901.2,967.1L901.4,961.2L901.6,962.8L901.8,958.6L902.0,959.9L902.3,956.7L902.5,956.5L902.7,956.1L902.9,958.8L903.1,957.1L903.4,959.4L903.6,958.9L903.8,960.6L904.0,963.9L904.2,967.7L904.5,965.8L904.7,968.4L904.9,970.6L905.1,973.0L905.3,975.6L905.6,975.3L905.8,978.6L906.0,974.1L906.2,977.3L906.4,977.0L906.7,977.4L906.9,974.1L907.1,971.7L907.3,971.9L907.5,969.0L907.8,965.7L908.0,966.7L908.2,963.1L908.4,961.9L908.6,963.2L908.9,957.7L909.1,956.8L909.3,959.2L909.5,956.5L909.7,958.7L910.0,957.0L910.2,956.2L910.4,956.9L910.6,958.7L910.8,959.4L911.1,960.3L911.3,962.6L911.5,965.9L911.7,968.6L911.9,967.6L912.2,970.5L912.4,970.7L912.6,970.5L912.8,975.5L913.0,972.7L913.3,977.0L913.5,976.9L913.7,974.9L913.9,977.5L914.1,977.3L914.4,974.2L914.6,975.5L914.8,970.8L915.0,971.0L915.2,969.6L915.5,967.5L915.7,967.8L915.9,966.5L916.1,962.8L916.3,964.0L916.6,958.9L916.8,958.3L917.0,958.9L917.2,958.1L917.4,958.0L917.7,955.4L917.9,957.8L918.1,959.9L918.3,958.1L918.5,956.0L918.8,958.9L919.0,957.6L919.2,961.0L919.4,963.7L919.6,964.8L919.9,964.5L920.1,966.2L920.3,967.8L920.5,969.6L920.7,969.9L921.0,973.2L921.2,973.2L921.4,972.8L921.6,975.0L921.8,975.9L922.1,972.4L922.3,977.1L922.5,975.6L922.7,977.6L922.9,976.1L923.2,975.9L923.4,973.6L923.6,972.2L923.8,972.4L924.0,973.7L924.3,972.1L924.5,970.6L924.7,966.5L924.9,968.4L925.1,965.7L925.4,965.6L925.6,965.4L925.8,965.0L926.0,962.0L926.2,959.0L926.5,961.0L926.7,957.4L926.9,961.0L927.1,956.3L927.3,957.0L927.6,957.7L927.8,956.7L928.0,956.5L928.2,958.9L928.4,957.3L928.7,958.3L928.9,959.8L929.1,960.9L929.3,960.5L929.5,960.0L929.8,963.4L930.0,964.2L930.2,961.3L930.4,965.4L930.6,963.3L930.9,964.0L931.1,964.1L931.3,968.0L931.5,970.1L931.7,970.5L932.0,970.0L932.2,972.9L932.4,970.3L932.6,970.8L932.8,970.9L933.1,971.2L933.3,972.1L933.5,973.0L933.7,972.4L933.9,976.0L934.2,972.4L934.4,973.0L934.6,971.8L934.8,975.6L935.0,973.0L935.3,974.8L935.5,972.0L935.7,972.0L935.9,973.1L936.1,972.5L936.4,970.1L936.6,969.9L936.8,969.1L937.0,967.4L937.2,967.7L937.5,969.3L937.7,964.9L937.9,964.7L938.1,967.9L938.3,966.2L938.6,962.5L938.8,965.2L939.0,961.3L939.2,962.6L939.4,962.7L939.7,963.0L939.9,960.3L940.1,959.2L940.3,962.9L940.5,961.6L940.8,959.0L941.0,958.2L941.2,957.2L941.4,958.8L941.6,956.3L941.9,960.3L942.1,958.1L942.3,960.4L942.5,957.8L942.7,960.9L943.0,960.4L943.2,958.4L943.4,960.6L943.6,957.9L943.8,961.8L944.1,957.2L944.3,960.3L944.5,959.2L944.7,959.9L944.9,962.7L945.2,959.5L945.4,961.7L945.6,960.3L945.8,959.7L946.0,960.6L946.3,962.6L946.5,960.6L946.7,961.1L946.9,964.3L947.1,965.0L947.4,961.6L947.6,965.8L947.8,966.5L948.0,965.8L948.2,964.6L948.5,965.1L948.7,964.1L948.9,964.5L949.1,968.8L949.3,969.2L949.6,968.3L949.8,969.0L950.0,966.0L950.2,969.9L950.4,966.1L950.7,966.6L950.9,968.6L951.1,967.8L951.3,969.7L951.5,971.4L951.8,968.2L952.0,968.7L952.2,971.3L952.4,969.1L952.6,972.1L952.9,967.8L953.1,972.3L953.3,972.6L953.5,968.2L953.7,970.1L954.0,971.3L954.2,971.0L954.4,969.2L954.6,968.5L954.8,973.2L955.1,969.1L955.3,973.8L955.5,969.3L955.7,971.2L955.9,973.9L956.2,973.3L956.4,971.6L956.6,969.6L956.8,972.0L957.0,972.2L957.3,970.5L957.5,971.4L957.7,973.6L957.9,969.6L958.1,972.4L958.4,970.8L958.6,972.1L958.8,972.7L959.0,971.4L959.2,972.8L959.5,973.4L959.7,969.9L959.9,970.0L960.1,969.6L960.3,973.8L960.6,970.0L960.8,969.3L961.0,969.3L961.2,970.9L961.4,973.4L961.7,969.4L961.9,970.0L962.1,969.7L962.3,972.2L962.5,970.4L962.8,973.8L963.0,972.2L963.2,971.4L963.4,971.7L963.6,973.3L963.9,972.6L964.1,969.3L964.3,970.8L964.5,972.0L964.7,971.6L965.0,973.4L965.2,968.7L965.4,973.2L965.6,970.5L965.8,968.7L966.1,969.5L966.3,969.4L966.5,969.2L966.7,968.6L966.9,972.5L967.2,969.2L967.4,970.0L967.6,971.2L967.8,970.7L968.0,969.9L968.3,971.3L968.5,972.3L968.7,970.9L968.9,970.2L969.1,968.9L969.4,970.9L969.6,970.4L969.8,968.0L970.0,968.7L970.2,971.1L970.5,971.7L970.7,968.5L970.9,971.2L971.1,967.6L971.3,970.3L971.6,968.4L971.8,968.4L972.0,968.7L972.2,968.5L972.4,966.4L972.7,967.0L972.9,964.3L973.1,965.5L973.3,966.5L973.5,967.8L973.8,963.0L974.0,963.1L974.2,963.9L974.4,961.6L974.6,963.4L974.9,961.6L975.1,964.2L975.3,960.7L975.5,960.9L975.7,963.3L976.0,958.2L976.2,961.8L976.4,959.5L976.6,958.5L976.8,960.9L977.1,960.8L977.3,956.3L977.5,959.4L977.7,955.9L977.9,954.6L978.2,958.1L978.4,956.0L978.6,957.2L978.8,954.8L979.0,958.5L979.3,956.9L979.5,958.5L979.7,956.4L979.9,956.0L980.1,960.1L980.4,958.4L980.6,958.1L980.8,957.2L981.0,958.2L981.2,961.2L981.5,961.9L981.7,963.8L981.9,964.1L982.1,961.7L982.3,966.6L982.6,965.7L982.8,967.8L983.0,965.5L983.2,969.8L983.4,970.4L983.7,967.6L983.9,971.2L984.1,972.0L984.3,972.0L984.5,970.0L984.8,968.3L985.0,972.5L985.2,967.4L985.4,968.5L985.6,969.6L985.9,967.8L986.1,970.3L986.3,967.9L986.5,968.8L986.7,963.2L987.0,964.0L987.2,961.5L987.4,963.9L987.6,962.5L987.8,961.6L988.1,961.2L988.3,956.6L988.5,958.5L988.7,957.0L988.9,955.0L989.2,953.5L989.4,956.6L989.6,952.5L989.8,957.2L990.0,954.0L990.3,957.7L990.5,954.4L990.7,958.5L990.9,960.6L991.1,957.6L991.4,960.4L991.6,962.9L991.8,964.7L992.0,962.2L992.2,964.0L992.5,966.2L992.7,966.1L992.9,969.7L993.1,969.5L993.3,970.8L993.6,969.1L993.8,968.0L994.0,970.8L994.2,968.5L994.4,965.6L994.7,969.1L994.9,967.4L995.1,962.9L995.3,960.9L995.5,963.1L995.8,958.3L996.0,959.5L996.2,954.1L996.4,954.9L996.6,954.7L996.9,955.7L997.1,954.6L997.3,955.3L997.5,955.7L997.7,953.8L998.0,954.3L998.2,960.4L998.4,960.0L998.6,961.7L998.8,962.2L999.1,966.6L999.3,967.1L999.5,969.4L999.7,971.1L999.9,969.0L1000.2,970.5L1000.4,971.6L1000.6,968.0L1000.8,969.4L1001.0,965.7L1001.3,964.0L1001.5,963.5L1001.7,961.0L1001.9,961.2L1002.1,960.1L1002.4,953.7L1002.6,952.3L1002.8,955.0L1003.0,951.5L1003.2,952.7L1003.5,953.7L1003.7,955.0L1003.9,953.4L1004.1,958.7L1004.3,960.3L1004.6,961.6L1004.8,965.2L1005.0,964.7L1005.2,967.2L1005.4,970.6L1005.7,968.5L1005.9,969.9L1006.1,969.5L1006.3,969.6L1006.5,969.0L1006.8,965.2L1007.0,960.6L1007.2,961.6L1007.4,957.2L1007.6,956.7L1007.9,956.1L1008.1,952.3L1008.3,951.5L1008.5,953.2L1008.7,951.8L1009.0,955.3L1009.2,957.4L1009.4,958.2L1009.6,960.3L1009.8,964.9L1010.1,966.5L1010.3,967.5L1010.5,969.7L1010.7,969.8L1010.9,966.5L1011.2,968.5L1011.4,964.2L1011.6,967.0L1011.8,960.1L1012.0,961.8L1012.3,958.5L1012.5,955.8L1012.7,954.6L1012.9,950.3L1013.1,952.8L1013.4,950.8L1013.6,955.3L1013.8,953.5L1014.0,957.0L1014.2,957.6L1014.5,962.5L1014.7,967.7L1014.9,965.9L1015.1,969.9L1015.3,967.2L1015.6,969.6L1015.8,967.0L1016.0,963.6L1016.2,961.3L1016.4,958.1L1016.7,957.6L1016.9,955.3L1017.1,953.5L1017.3,949.8L1017.5,951.2L1017.8,952.9L1018.0,955.3L1018.2,954.7L1018.4,960.8L1018.6,960.0L1018.9,966.0L1019.1,967.7L1019.3,967.2L1019.5,968.3L1019.7,965.8L1020.0,964.9L1020.2,961.6L1020.4,960.8L1020.6,955.7L1020.8,955.2L1021.1,953.4L1021.3,951.4L1021.5,952.4L1021.7,950.2L1021.9,951.2L1022.2,956.5L1022.4,961.5L1022.6,963.7L1022.8,965.7L1023.0,968.7L1023.3,968.3L1023.5,967.1L1023.7,967.0L1023.9,961.7L1024.1,957.8L1024.4,957.0L1024.6,955.3L1024.8,950.4L1025.0,948.4L1025.2,950.7L1025.5,951.1L1025.7,952.9L1025.9,958.9L1026.1,958.2L1026.3,965.9L1026.6,967.7L1026.8,969.5L1027.0,966.5L1027.2,966.5L1027.4,961.4L1027.7,962.8L1027.9,956.2L1028.1,950.7L1028.3,950.8L1028.5,950.1L1028.8,948.1L1029.0,950.9L1029.2,955.4L1029.4,959.7L1029.6,959.6L1029.9,962.8L1030.1,967.2L1030.3,965.8L1030.5,964.0L1030.7,963.1L1031.0,958.6L1031.2,957.9L1031.4,955.3L1031.6,950.2L1031.8,949.2L1032.1,949.2L1032.3,950.0L1032.5,955.1L1032.7,957.5L1032.9,961.6L1033.2,966.2L1033.4,968.8L1033.6,968.2L1033.8,966.8L1034.0,965.5L1034.3,960.8L1034.5,954.0L1034.7,951.0L1034.9,951.3L1035.1,950.6L1035.4,948.4L1035.6,951.2L1035.8,958.0L1036.0,957.8L1036.2,965.2L1036.5,968.3L1036.7,965.2L1036.9,965.6L1037.1,960.7L1037.3,961.3L1037.6,956.1L1037.8,951.0L1038.0,948.5L1038.2,947.1L1038.4,951.1L1038.7,953.1L1038.9,957.8L1039.1,961.9L1039.3,964.9L1039.5,966.3L1039.8,968.4L1040.0,963.6L1040.2,960.6L1040.4,953.5L1040.6,952.4L1040.9,948.8L1041.1,947.4L1041.3,951.1L1041.5,950.0L1041.7,956.1L1042.0,960.4L1042.2,961.5L1042.4,965.0L1042.6,967.6L1042.8,961.6L1043.1,960.6L1043.3,952.9L1043.5,952.2L1043.7,948.7L1043.9,950.0L1044.2,950.4L1044.4,953.7L1044.6,957.0L1044.8,962.5L1045.0,966.9L1045.3,968.3L1045.5,963.2L1045.7,961.2L1045.9,957.2L1046.1,953.4L1046.4,948.1L1046.6,947.8L1046.8,950.3L1047.0,953.7L1047.2,953.9L1047.5,960.6L1047.7,964.9L1047.9,964.6L1048.1,962.1L1048.3,962.2L1048.6,958.2L1048.8,951.7L1049.0,946.8L1049.2,949.8L1049.4,948.9L1049.7,951.8L1049.9,957.4L1050.1,962.1L1050.3,963.0L1050.5,965.9L1050.8,965.2L1051.0,958.5L1051.2,953.7L1051.4,951.5L1051.6,947.7L1051.9,945.3L1052.1,947.2L1052.3,955.9L1052.5,958.9L1052.7,965.1L1053.0,964.5L1053.2,964.2L1053.4,962.7L1053.6,955.1L1053.8,951.2L1054.1,946.2L1054.3,946.2L1054.5,949.6L1054.7,954.3L1054.9,957.4L1055.2,960.4L1055.4,964.2L1055.6,963.2L1055.8,964.3L1056.0,957.7L1056.3,951.1L1056.5,949.4L1056.7,946.9L1056.9,946.0L1057.1,953.2L1057.4,960.3L1057.6,960.1L1057.8,964.1L1058.0,962.4L1058.2,963.1L1058.5,955.7L1058.7,948.0L1058.9,946.7L1059.1,944.4L1059.3,951.7L1059.6,954.7L1059.8,961.5L1060.0,965.9L1060.2,963.1L1060.4,963.3L1060.7,956.5L1060.9,951.3L1061.1,947.5L1061.3,948.5L1061.5,950.1L1061.8,952.7L1062.0,958.0L1062.2,964.3L1062.4,965.6L1062.6,965.4L1062.9,957.7L1063.1,952.0L1063.3,950.6L1063.5,944.0L1063.7,945.0L1064.0,951.5L1064.2,959.2L1064.4,964.0L1064.6,965.9L1064.8,962.4L1065.1,958.3L1065.3,953.0L1065.5,947.2L1065.7,946.4L1065.9,949.4L1066.2,951.5L1066.4,957.7L1066.6,964.6L1066.8,966.4L1067.0,965.1L1067.3,960.6L1067.5,952.8L1067.7,947.3L1067.9,945.8L1068.1,946.1L1068.4,953.2L1068.6,957.8L1068.8,962.3L1069.0,962.6L1069.2,962.9L1069.5,954.4L1069.7,949.8L1069.9,945.8L1070.1,948.6L1070.3,952.1L1070.6,957.2L1070.8,963.1L1071.0,964.9L1071.2,964.6L1071.4,956.2L1071.7,952.5L1071.9,948.4L1072.1,944.9L1072.3,948.3L1072.5,953.9L1072.8,959.5L1073.0,962.7L1073.2,963.6L1073.4,958.0L1073.6,952.7L1073.9,948.0L1074.1,944.2L1074.3,949.7L1074.5,952.0L1074.7,958.1L1075.0,960.6L1075.2,960.9L1075.4,957.9L1075.6,954.3L1075.8,948.9L1076.1,944.6L1076.3,949.7L1076.5,953.6L1076.7,959.8L1076.9,963.7L1077.2,963.3L1077.4,957.0L1077.6,955.7L1077.8,946.8L1078.0,945.9L1078.3,949.7L1078.5,953.3L1078.7,959.9L1078.9,964.2L1079.1,962.7L1079.4,955.7L1079.6,950.7L1079.8,945.1L1080.0,947.9L1080.2,946.5L1080.5,956.6L1080.7,962.6L1080.9,964.5L1081.1,961.3L1081.3,953.9L1081.6,948.6L1081.8,946.6L1082.0,948.4L1082.2,949.1L1082.4,960.0L1082.7,964.3L1082.9,963.8L1083.1,956.3L1083.3,950.5L1083.5,945.1L1083.8,946.0L1084.0,946.0L1084.2,957.0L1084.4,959.2L1084.6,963.9L1084.9,962.6L1085.1,951.7L1085.3,946.7L1085.5,946.7L1085.7,948.7L1086.0,955.3L1086.2,961.7L1086.4,964.4L1086.6,960.6L1086.8,957.5L1087.1,946.7L1087.3,943.3L1087.5,944.8L1087.7,952.4L1087.9,960.2L1088.2,962.0L1088.4,962.0L1088.6,958.3L1088.8,950.3L1089.0,943.7L1089.3,947.8L1089.5,952.2L1089.7,956.6L1089.9,963.2L1090.1,961.1L1090.4,955.8L1090.6,948.3L1090.8,947.1L1091.0,947.5L1091.2,951.2L1091.5,958.6L1091.7,962.9L1091.9,960.6L1092.1,956.4L1092.3,948.3L1092.6,945.6L1092.8,944.8L1093.0,953.0L1093.2,957.0L1093.4,964.4L1093.7,960.0L1093.9,952.1L1094.1,946.3L1094.3,946.8L1094.5,946.1L1094.8,955.0L1095.0,962.6L1095.2,961.6L1095.4,958.5L1095.6,950.2L1095.9,945.9L1096.1,942.7L1096.3,947.5L1096.5,958.3L1096.7,963.6L1097.0,963.4L1097.2,955.7L1097.4,948.3L1097.6,942.5L1097.8,948.8L1098.1,952.5L1098.3,957.4L1098.5,960.6L1098.7,960.3L1098.9,949.9L1099.2,946.9L1099.4,946.1L1099.6,948.0L1099.8,957.2L1100.0,961.1L1100.3,958.7L1100.5,955.0L1100.7,945.0L1100.9,946.3L1101.1,948.3L1101.4,952.3L1101.6,958.8L1101.8,960.5L1102.0,957.0L1102.2,951.6L1102.5,943.5L1102.7,947.8L1102.9,954.0L1103.1,958.1L1103.3,960.1L1103.6,958.9L1103.8,950.2L1104.0,943.1L1104.2,943.6L1104.4,948.0L1104.7,956.1L1104.9,959.9L1105.1,959.8L1105.3,951.5L1105.5,947.2L1105.8,942.0L1106.0,948.1L1106.2,957.1L1106.4,961.6L1106.6,957.4L1106.9,954.6L1107.1,943.2L1107.3,945.0L1107.5,948.6L1107.7,956.9L1108.0,961.9L1108.2,957.5L1108.4,954.3L1108.6,944.6L1108.8,942.2L1109.1,947.2L1109.3,955.6L1109.5,960.6L1109.7,959.0L1109.9,953.0L1110.2,946.2L1110.4,942.3L1110.6,948.6L1110.8,958.4L1111.0,961.5L1111.3,955.5L1111.5,950.8L1111.7,946.3L1111.9,947.1L1112.1,952.2L1112.4,957.7L1112.6,961.6L1112.8,955.9L1113.0,949.5L1113.2,944.5L1113.5,946.5L1113.7,952.7L1113.9,962.5L1114.1,959.9L1114.3,956.0L1114.6,944.4L1114.8,943.6L1115.0,947.2L1115.2,954.1L1115.4,961.5L1115.7,956.8L1115.9,953.2L1116.1,946.9L1116.3,946.3L1116.5,950.2L1116.8,956.0L1117.0,962.2L1117.2,953.7L1117.4,947.2L1117.6,944.3L1117.9,946.8L1118.1,953.1L1118.3,959.8L1118.5,960.7L1118.7,950.7L1119.0,946.8L1119.2,943.5L1119.4,949.9L1119.6,959.4L1119.8,960.2L1120.1,954.7L1120.3,946.4L1120.5,942.2L1120.7,946.3L1120.9,956.2L1121.2,958.9L1121.4,956.6L1121.6,948.6L1121.8,942.1L1122.0,946.4L1122.3,952.7L1122.5,959.7L1122.7,961.8L1122.9,953.3L1123.1,946.6L1123.4,942.8L1123.6,949.8L1123.8,955.8L1124.0,958.5L1124.2,953.4L1124.5,947.8L1124.7,941.8L1124.9,948.6L1125.1,956.7L1125.3,960.9L1125.6,954.8L1125.8,947.4L1126.0,943.3L1126.2,943.5L1126.4,952.8L1126.7,959.9L1126.9,956.6L1127.1,950.0L1127.3,944.5L1127.5,943.7L1127.8,952.8L1128.0,958.0L1128.2,960.2L1128.4,951.8L1128.6,942.2L1128.9,943.2L1129.1,952.4L1129.3,957.0L1129.5,958.8L1129.7,952.0L1130.0,946.2L1130.2,941.4L1130.4,952.5L1130.6,957.3L1130.8,961.6L1131.1,953.0L1131.3,945.6L1131.5,945.2L1131.7,951.0L1131.9,959.7L1132.2,957.1L1132.4,949.7L1132.6,946.1L1132.8,940.9L1133.0,952.2L1133.3,957.3L1133.5,961.1L1133.7,950.1L1133.9,941.9L1134.1,942.0L1134.4,952.8L1134.6,958.0L1134.8,960.6L1135.0,951.0L1135.2,944.9L1135.5,943.9L1135.7,953.2L1135.9,958.0L1136.1,955.5L1136.3,949.4L1136.6,944.7L1136.8,943.1L1137.0,953.2L1137.2,959.7L1137.4,956.9L1137.7,945.5L1137.9,942.5L1138.1,946.3L1138.3,957.9L1138.5,960.5L1138.8,956.4L1139.0,947.8L1139.2,943.2L1139.4,946.7L1139.6,956.9L1139.9,960.2L1140.1,949.8L1140.3,942.9L1140.5,942.6L1140.7,949.6L1141.0,956.2L1141.2,958.3L1141.4,950.3L1141.6,944.5L1141.8,945.7L1142.1,952.7L1142.3,961.4L1142.5,957.0L1142.7,947.8L1142.9,942.5L1143.2,950.4L1143.4,959.7L1143.6,960.5L1143.8,948.6L1144.0,941.0L1144.3,942.6L1144.5,951.7L1144.7,957.1L1144.9,958.5L1145.1,948.2L1145.4,942.7L1145.6,949.4L1145.8,955.2L1146.0,959.8L1146.2,954.0L1146.5,941.0L1146.7,943.7L1146.9,953.2L1147.1,956.2L1147.3,958.0L1147.6,946.3L1147.8,940.0L1148.0,948.7L1148.2,954.6L1148.4,957.3L1148.7,951.2L1148.9,944.9L1149.1,943.4L1149.3,954.4L1149.5,956.4L1149.8,953.6L1150.0,944.5L1150.2,941.5L1150.4,947.9L1150.6,954.7L1150.9,958.9L1151.1,950.4L1151.3,941.6L1151.5,942.6L1151.7,954.6L1152.0,956.8L1152.2,955.0L1152.4,944.0L1152.6,943.8L1152.8,948.5L1153.1,957.7L1153.3,957.4L1153.5,945.1L1153.7,939.1L1153.9,948.8L1154.2,958.0L1154.4,956.4" stroke="#00ff00" stroke-width="1.4"/>
<path d="M165.5,974.3L166.4,959.7L167.4,973.3L168.2,961.5L169.2,976.2L170.0,965.7L170.9,981.7L171.5,969.4L172.4,983.5L173.0,970.5L174.0,981.6L174.8,965.8L175.8,977.1L176.4,961.8L177.4,973.0L178.4,960.7L179.1,972.8L179.8,961.5L180.4,976.7L181.1,964.8L182.0,979.3L182.6,968.5L183.2,982.0L184.1,968.9L184.8,981.6L185.4,967.7L186.3,979.2L187.0,963.9L187.9,975.9L188.5,961.2L189.1,973.9L190.0,960.5L190.9,975.1L191.8,963.7L192.8,977.7L193.7,966.9L194.7,980.1L195.5,967.3L196.2,980.7L197.0,966.9L197.8,978.2L198.8,963.4L199.8,976.0L200.7,962.8L201.3,975.4L202.2,963.2L203.1,976.9L204.0,964.9L204.7,977.5L205.3,965.5L206.3,978.7L207.1,965.4L208.1,977.9L208.7,964.6L209.4,977.8L210.1,964.0L210.8,976.7L211.5,964.2L212.2,976.8L212.9,964.2L213.9,977.4L214.5,964.9L215.2,980.7L215.9,965.6L216.8,976.6L217.5,963.1L218.4,980.2L219.1,965.8L219.8,976.0L220.5,965.9L221.1,976.6L222.0,962.9L223.0,979.4L223.9,962.6L224.7,977.1L225.3,966.6L226.3,976.8L227.3,966.2L228.1,976.3L229.0,966.8L229.7,977.1L230.7,963.7L231.3,977.0L231.9,966.5L232.5,977.0L233.3,963.5L234.0,977.1L234.7,966.9L235.3,977.3L236.0,966.8L236.8,977.1L237.6,966.8L238.2,976.7L239.0,962.7L239.6,979.7L240.4,962.7L241.5,976.8L242.4,966.7L243.2,977.2L243.8,966.3L244.6,976.6L245.3,967.0L246.1,976.6L246.8,963.9L247.4,977.5L248.1,966.5L248.7,977.4L249.6,966.6L250.2,980.7L250.7,966.6L251.5,980.0L252.3,966.4L253.0,977.2L253.6,967.2L254.3,979.8L255.0,967.4L255.9,977.2L256.5,967.4L257.5,980.7L258.4,966.5L259.4,977.6L260.0,966.8L260.9,976.9L261.6,963.8L262.4,977.5L263.2,967.1L264.2,977.2L265.2,966.8L265.8,979.7L266.4,964.5L267.1,977.5L267.7,967.1L268.8,977.5L269.5,964.5L270.1,976.8L271.1,966.5L271.7,977.4L272.6,966.6L273.3,976.8L274.1,966.6L274.8,976.7L275.3,963.8L276.1,976.7L276.9,962.9L277.7,977.8L278.6,964.1L279.5,981.1L280.5,963.6L281.4,977.4L282.4,966.8L283.1,976.8L284.0,967.1L285.0,977.6L285.7,967.0L286.6,977.2L287.5,967.5L288.5,977.5L289.5,964.5L290.5,977.5L291.3,967.0L292.1,977.8L292.7,967.3L293.6,977.7L294.6,966.9L295.4,977.7L296.4,967.1L297.3,977.1L298.3,966.9L299.2,977.4L300.2,967.4L301.0,980.5L301.7,963.6L302.5,977.8L303.2,967.8L304.0,979.9L305.0,967.6L305.9,981.3L306.5,964.6L307.4,981.6L308.2,967.5L309.1,977.2L309.8,967.4L310.6,980.7L311.1,963.6L312.1,977.3L312.7,967.2L313.4,977.9L314.0,967.9L315.0,977.4L315.6,967.2L316.6,977.3L317.3,964.5L318.2,980.5L318.8,967.9L319.7,977.9L320.5,967.5L321.3,977.9L321.9,967.4L322.6,980.0L323.3,964.9L324.3,977.1L324.9,967.2L325.9,980.1L326.6,967.3L327.3,977.3L328.3,963.8L329.3,977.5L330.0,964.3L330.9,980.6L331.6,967.5L332.2,977.1L332.9,967.7L333.9,980.0L334.7,967.5L335.8,979.8L336.7,968.0L337.6,979.9L338.4,963.9L339.1,977.6L339.6,963.7L340.6,980.6L341.4,968.2L342.3,977.4L342.9,968.1L343.9,976.9L344.9,964.1L345.9,980.1L346.4,967.9L347.4,976.9L348.4,967.9L349.4,980.8L350.3,967.4L351.2,977.0L351.9,967.6L352.5,981.3L353.1,967.7L353.9,977.4L354.9,968.1L355.6,977.2L356.4,968.0L357.3,977.6L358.1,967.8L358.9,977.0L359.6,967.9L360.3,980.2L361.1,968.2L362.1,977.5L362.8,967.7L363.6,977.1L364.5,967.7L365.1,980.9L365.8,968.0L366.8,980.9L367.8,964.4L368.7,977.1L369.5,968.3L370.2,977.5L370.8,964.2L371.8,979.9L372.8,967.7L373.8,980.6L374.5,968.6L375.5,977.5L376.3,965.3L377.2,976.9L377.9,964.6L378.9,981.2L379.7,968.7L380.6,977.2L381.3,968.1L382.0,977.4L382.6,968.1L383.2,977.7L383.9,968.0L384.5,977.6L385.2,964.5L385.9,979.8L386.5,965.4L387.4,977.4L388.0,964.7L388.8,977.5L389.7,968.2L390.4,977.6L391.3,968.0L392.1,977.3L392.9,968.2L393.8,977.4L394.7,968.3L395.5,979.7L396.3,964.2L397.0,977.3L398.0,968.1L398.7,977.1L399.7,965.4L400.4,977.6L401.1,967.6L401.9,977.4L402.9,968.1L403.5,980.4L404.1,968.4L404.9,976.8L405.6,965.2L406.4,979.2L407.3,967.6L408.3,976.6L409.3,964.3L410.0,979.3L410.9,964.9L411.8,980.7L412.5,968.3L413.4,979.9L414.0,965.4L414.7,977.2L415.5,965.4L416.1,976.6L417.0,968.2L417.6,976.8L418.5,967.9L419.2,976.8L420.2,967.9L421.1,977.0L422.0,967.8L422.8,979.9L423.5,967.9L424.3,976.6L425.0,964.8L425.8,976.3L426.8,967.4L427.5,979.2L428.2,967.7L429.0,977.0L429.8,968.1L430.8,978.8L431.6,967.7L432.3,976.7L433.1,967.6L434.1,976.5L434.8,963.7L435.4,978.7L436.1,964.8L437.0,976.5L437.7,968.0L438.3,976.4L439.2,968.0L440.2,980.2L441.2,967.5L441.9,978.6L442.9,967.6L443.7,975.6L444.7,967.4L445.5,977.0L446.3,966.5L446.8,975.9L447.5,963.9L448.6,976.7L449.2,966.0L450.0,976.7L451.0,966.1L452.0,976.8L452.9,965.1L453.9,976.3L454.8,964.6L455.8,975.9L456.8,964.9L457.8,975.1L458.8,964.7L459.6,975.8L460.6,964.2L461.2,975.2L462.1,964.0L462.7,974.5L463.7,964.2L464.7,974.5L465.3,963.6L466.4,974.3L467.3,964.0L468.2,975.0L468.9,964.1L469.5,975.2L470.1,965.0L470.7,975.6L471.3,964.1L472.2,976.5L472.8,965.5L473.5,976.3L474.3,965.2L475.3,976.2L476.1,965.1L477.0,976.4L477.8,965.4L478.6,977.1L479.6,966.3L480.5,976.6L481.3,966.5L482.2,976.3L483.1,965.7L483.9,976.8L484.7,966.0L485.4,977.3L486.1,966.2L486.8,976.2L487.4,966.4L488.0,976.2L488.9,965.8L489.7,976.2L490.7,965.8L491.7,976.2L492.3,966.2L492.9,976.0L493.6,966.1L494.4,976.4L495.1,966.2L496.2,976.4L497.2,965.6L497.7,976.7L498.5,965.7L499.1,976.8L500.0,965.1L500.9,976.1L501.7,965.2L502.5,975.5L503.4,965.3L504.2,976.1L505.0,965.2L506.0,975.8L506.8,964.5L507.5,975.8L508.4,964.6L509.1,975.3L510.0,964.7L511.0,975.7L511.7,964.8L512.5,974.8L513.1,964.7L513.7,974.6L514.3,963.8L515.1,974.7L516.0,964.4L516.8,974.5L517.8,963.6L518.6,974.5L519.6,964.1L520.3,973.7L521.3,963.5L522.1,973.6L522.7,963.2L523.3,973.3L524.0,963.1L524.8,974.0L525.4,963.5L526.1,973.4L526.7,962.3L527.7,972.6L528.6,962.3L529.6,972.4L530.2,962.1L531.0,972.3L531.7,963.2L532.4,973.4L533.5,963.6L534.3,975.3L535.4,965.3L536.2,976.1L537.2,965.8L537.9,976.8L538.5,968.2L539.2,976.2L540.1,965.3L540.8,977.1L541.6,968.9L542.5,980.0L543.0,969.3L544.0,977.3L545.0,968.9L545.6,977.5L546.4,966.4L547.5,977.5L548.3,969.9L549.0,977.3L549.7,966.8L550.8,977.2L551.5,969.9L552.3,977.2L552.9,969.8L553.4,978.1L554.3,969.4L555.2,978.1L555.8,970.0L556.8,981.4L557.4,970.1L558.3,978.0L559.2,969.9L560.1,977.9L560.8,969.7L561.4,978.6L562.3,967.9L563.3,981.4L564.1,970.5L564.7,978.6L565.7,967.2L566.5,979.1L567.1,971.0L567.7,979.3L568.5,967.7L569.2,979.3L569.9,968.4L570.8,978.9L571.5,971.2L572.5,979.2L573.5,971.7L574.3,979.6L575.1,971.8L575.7,979.5L576.3,969.3L577.4,980.2L578.2,968.0L579.1,980.3L580.0,969.4L580.7,980.5L581.6,972.4L582.5,980.7L583.2,969.5L584.2,981.0L585.0,972.1L585.6,984.5L586.6,972.5L587.3,980.7L587.9,973.2L588.7,984.3L589.4,969.2L590.4,981.8L591.2,969.6L592.1,981.5L592.9,970.6L593.6,985.6L594.4,973.7L595.0,985.8L595.7,973.9L596.7,982.4L597.7,973.5L598.7,981.9L599.5,973.9L600.3,985.0L601.0,970.5L601.8,982.7L602.9,971.4L603.7,986.7L604.5,974.4L605.3,982.9L606.1,975.2L606.8,986.3L607.9,975.4L608.9,987.1L609.5,971.1L610.3,984.0L611.3,971.3L612.1,987.2L613.1,972.2L613.8,983.6L614.7,975.3L615.7,984.4L616.3,972.4L616.9,984.4L617.8,972.2L618.8,984.4L619.5,973.5L620.1,987.4L620.7,976.2L621.3,984.7L622.0,976.0L623.0,984.6L623.9,973.6L624.5,984.4L625.3,973.8L626.0,984.8L626.7,976.4L627.7,985.0L628.5,976.2L629.2,985.0L630.1,973.5L630.7,985.5L631.4,976.8L632.4,988.4L633.3,973.4L634.2,989.3L635.1,976.8L635.8,985.7L636.8,973.1L637.7,989.7L638.5,977.7L639.1,988.8L639.9,974.0L640.9,985.6L641.8,974.2L642.6,989.9L643.3,977.5L644.1,988.7L644.9,978.2L645.5,986.1L646.5,975.0L647.5,986.0L648.3,978.1L649.2,986.6L650.3,978.3L651.2,989.7L651.8,974.4L652.7,986.6L653.6,978.6L654.3,990.1L654.9,974.7L655.4,990.1L656.1,978.6L657.0,987.0L657.6,975.6L658.4,991.2L659.3,974.8L660.1,990.6L661.1,978.7L662.1,986.9L662.9,978.4L663.6,990.1L664.2,979.0L664.8,987.5L665.4,974.8L666.0,987.9L667.0,975.0L667.8,990.5L668.4,978.8L669.1,987.3L670.0,978.8L670.6,987.5L671.6,979.2L672.4,991.8L673.0,978.8L673.7,988.3L674.4,979.0L675.4,987.5L676.0,975.4L676.7,988.4L677.3,976.0L678.0,987.8L679.0,979.4L679.9,991.7L680.7,979.7L681.4,988.6L682.4,979.9L682.9,992.4L683.6,975.5L684.4,991.5L685.3,976.7L685.9,987.9L686.7,979.4L687.5,992.1L688.4,976.3L689.1,988.2L690.0,979.5L691.0,988.6L692.0,980.0L692.7,988.6L693.6,979.5L694.1,988.4L695.2,975.9L695.8,988.4L696.8,976.5L697.7,993.3L698.3,979.8L698.9,992.2L699.8,976.9L700.4,988.5L701.3,980.2L702.0,988.7L703.0,979.8L703.7,988.3L704.7,979.6L705.3,991.9L705.9,979.2L706.9,988.2L707.7,979.3L708.5,991.9L709.3,979.5L709.9,991.1L710.8,976.2L711.8,991.4L712.8,979.5L713.4,987.6L714.1,976.0L714.8,992.0L715.6,979.2L716.4,988.0L717.2,978.4L718.2,992.0L718.8,978.8L719.8,987.9L720.5,978.8L721.5,987.6L722.3,978.7L723.1,990.6L724.0,978.7L724.8,987.6L725.4,978.4L726.4,987.2L727.1,977.7L727.9,986.9L728.7,977.8L729.7,986.9L730.5,977.5L731.4,986.9L732.0,973.5L732.9,986.6L733.5,973.4L734.5,986.4L735.5,976.9L736.1,986.6L736.7,977.0L737.5,986.2L738.1,973.4L738.7,986.2L739.5,976.7L740.1,985.7L741.2,977.2L741.9,985.9L742.8,976.3L743.6,989.8L744.3,973.1L745.2,985.9L746.0,972.1L747.0,985.1L747.8,976.5L748.4,985.1L749.1,975.9L749.8,984.9L750.4,975.5L751.3,988.1L752.3,976.0L753.3,988.3L754.2,971.0L755.2,988.4L755.7,975.1L756.6,984.5L757.6,975.4L758.4,987.0L759.2,974.5L759.8,986.6L760.7,975.1L761.2,987.1L761.9,970.7L762.7,987.6L763.3,970.7L764.1,987.4L764.9,974.6L765.9,983.3L766.6,969.6L767.5,983.2L768.5,973.3L769.5,982.3L770.1,973.2L770.8,986.1L771.4,973.8L772.1,986.9L772.8,973.3L773.6,981.9L774.6,970.0L775.4,981.8L776.3,969.3L777.1,984.9L777.9,972.3L778.6,981.8L779.3,968.2L780.0,981.1L780.7,968.8L781.6,981.7L782.4,971.8L783.3,981.2L784.3,972.5L785.2,981.4L786.1,968.8L786.9,984.6L787.8,971.7L788.6,980.4L789.6,971.2L790.6,984.5L791.3,967.2L792.3,979.8L793.1,971.0L794.0,980.6L794.9,971.1L795.6,979.8L796.2,968.2L797.1,979.4L797.7,967.7L798.7,979.8L799.3,970.7L800.3,984.3L800.5,984.0L800.8,981.0L801.0,976.3L801.2,973.6L801.4,970.1L801.6,963.7L801.9,966.0L802.1,967.9L802.3,973.0L802.5,978.4L802.7,983.0L803.0,982.2L803.2,983.4L803.4,980.5L803.6,973.2L803.8,968.9L804.1,966.4L804.3,964.2L804.5,967.3L804.7,969.2L804.9,975.0L805.2,982.7L805.4,981.6L805.6,982.9L805.8,978.9L806.0,976.8L806.3,972.2L806.5,967.7L806.7,965.1L806.9,967.6L807.1,969.0L807.4,974.2L807.6,978.3L807.8,981.2L808.0,982.1L808.2,984.3L808.5,978.5L808.7,975.3L808.9,969.5L809.1,966.4L809.3,965.2L809.6,964.9L809.8,969.3L810.0,974.5L810.2,978.9L810.4,983.8L810.7,985.3L810.9,982.8L811.1,977.9L811.3,972.7L811.5,967.2L811.8,967.0L812.0,963.8L812.2,965.3L812.4,968.2L812.6,975.5L812.9,979.6L813.1,980.1L813.3,983.7L813.5,980.7L813.7,979.3L814.0,975.4L814.2,966.7L814.4,965.8L814.6,966.1L814.8,965.2L815.1,968.7L815.3,972.7L815.5,976.3L815.7,982.0L815.9,984.8L816.2,982.0L816.4,979.9L816.6,972.9L816.8,971.1L817.0,965.0L817.3,964.2L817.5,964.2L817.7,968.0L817.9,972.4L818.1,975.9L818.4,980.7L818.6,980.1L818.8,983.1L819.0,981.2L819.2,977.8L819.5,971.2L819.7,968.3L819.9,966.1L820.1,964.2L820.3,966.4L820.6,969.2L820.8,972.1L821.0,978.1L821.2,979.9L821.4,982.1L821.7,979.7L821.9,979.9L822.1,973.6L822.3,972.2L822.5,964.9L822.8,964.9L823.0,964.8L823.2,963.9L823.4,967.0L823.6,972.9L823.9,977.0L824.1,980.0L824.3,980.5L824.5,982.9L824.7,979.3L825.0,973.4L825.2,969.1L825.4,968.2L825.6,964.4L825.8,964.0L826.1,965.9L826.3,968.8L826.5,973.3L826.7,975.0L826.9,981.6L827.2,981.8L827.4,983.2L827.6,979.7L827.8,974.0L828.0,970.9L828.3,966.1L828.5,964.8L828.7,964.5L828.9,961.9L829.1,967.0L829.4,970.6L829.6,975.9L829.8,976.5L830.0,982.6L830.2,981.0L830.5,982.5L830.7,976.1L830.9,975.6L831.1,968.1L831.3,966.3L831.6,962.3L831.8,962.8L832.0,964.4L832.2,964.8L832.4,972.1L832.7,976.7L832.9,976.6L833.1,981.6L833.3,980.6L833.5,977.7L833.8,977.5L834.0,973.0L834.2,970.7L834.4,967.0L834.6,963.0L834.9,959.9L835.1,962.5L835.3,966.0L835.5,970.7L835.7,975.5L836.0,976.5L836.2,978.8L836.4,981.5L836.6,978.2L836.8,978.1L837.1,973.6L837.3,969.8L837.5,967.6L837.7,961.3L837.9,961.7L838.2,962.3L838.4,962.6L838.6,968.1L838.8,972.9L839.0,976.3L839.3,977.9L839.5,978.4L839.7,981.9L839.9,977.4L840.1,974.7L840.4,970.9L840.6,967.5L840.8,963.5L841.0,961.4L841.2,959.8L841.5,963.5L841.7,964.4L841.9,970.3L842.1,973.9L842.3,976.0L842.6,980.4L842.8,980.4L843.0,978.9L843.2,977.9L843.4,976.7L843.7,969.4L843.9,969.5L844.1,963.1L844.3,963.5L844.5,962.1L844.8,962.6L845.0,962.5L845.2,969.5L845.4,972.6L845.6,973.0L845.9,977.3L846.1,979.5L846.3,980.5L846.5,980.7L846.7,974.5L847.0,973.1L847.2,968.8L847.4,963.4L847.6,963.6L847.8,959.5L848.1,961.0L848.3,961.5L848.5,963.5L848.7,970.1L848.9,972.4L849.2,977.2L849.4,977.6L849.6,978.1L849.8,977.9L850.0,977.3L850.3,976.7L850.5,973.3L850.7,967.9L850.9,962.9L851.1,961.5L851.4,962.0L851.6,960.7L851.8,963.3L852.0,964.2L852.2,967.5L852.5,970.4L852.7,973.2L852.9,977.4L853.1,978.3L853.3,978.6L853.6,979.4L853.8,976.9L854.0,973.2L854.2,968.8L854.4,966.4L854.7,965.1L854.9,962.4L855.1,959.4L855.3,961.7L855.5,963.0L855.8,963.8L856.0,966.9L856.2,974.0L856.4,976.9L856.6,979.6L856.9,980.2L857.1,978.6L857.3,977.0L857.5,973.9L857.7,974.1L858.0,970.8L858.2,963.7L858.4,964.2L858.6,960.3L858.8,958.8L859.1,960.9L859.3,960.6L859.5,966.2L859.7,965.7L859.9,972.3L860.2,975.5L860.4,977.8L860.6,979.4L860.8,980.3L861.0,976.3L861.3,974.3L861.5,973.2L861.7,968.7L861.9,966.2L862.1,964.9L862.4,962.1L862.6,958.8L862.8,957.8L863.0,959.2L863.2,963.2L863.5,964.2L863.7,966.6L863.9,970.7L864.1,975.6L864.3,975.9L864.6,977.6L864.8,979.9L865.0,980.1L865.2,975.3L865.4,974.0L865.7,972.0L865.9,967.9L866.1,967.1L866.3,963.0L866.5,958.9L866.8,957.2L867.0,958.7L867.2,960.4L867.4,963.2L867.6,963.3L867.9,967.2L868.1,969.6L868.3,975.7L868.5,976.1L868.7,978.8L869.0,976.5L869.2,977.7L869.4,977.5L869.6,975.0L869.8,969.8L870.1,966.3L870.3,963.9L870.5,960.9L870.7,961.9L870.9,957.0L871.2,958.0L871.4,957.6L871.6,960.4L871.8,960.9L872.0,964.0L872.3,967.6L872.5,970.6L872.7,972.6L872.9,977.0L873.1,977.1L873.4,975.5L873.6,975.5L873.8,975.4L874.0,973.5L874.2,968.9L874.5,967.7L874.7,966.3L874.9,964.2L875.1,960.3L875.3,958.2L875.6,959.5L875.8,958.1L876.0,960.4L876.2,961.6L876.4,963.6L876.7,968.4L876.9,971.5L877.1,971.5L877.3,975.0L877.5,976.1L877.8,978.2L878.0,977.8L878.2,976.2L878.4,976.7L878.6,973.1L878.9,971.4L879.1,967.2L879.3,965.2L879.5,961.1L879.7,960.1L880.0,957.2L880.2,958.0L880.4,956.2L880.6,959.7L880.8,959.0L881.1,963.6L881.3,965.8L881.5,969.3L881.7,970.7L881.9,974.5L882.2,976.5L882.4,977.8L882.6,976.0L882.8,975.4L883.0,976.6L883.3,975.3L883.5,973.6L883.7,971.9L883.9,970.0L884.1,967.8L884.4,964.3L884.6,962.5L884.8,960.2L885.0,958.7L885.2,958.5L885.5,957.0L885.7,959.2L885.9,959.3L886.1,961.0L886.3,965.4L886.6,968.1L886.8,968.5L887.0,972.3L887.2,975.6L887.4,974.1L887.7,976.7L887.9,975.9L888.1,976.1L888.3,975.5L888.5,974.8L888.8,973.3L889.0,971.8L889.2,966.5L889.4,966.7L889.6,962.1L889.9,963.0L890.1,959.8L890.3,957.3L890.5,956.7L890.7,959.2L891.0,959.7L891.2,960.2L891.4,962.3L891.6,961.9L891.8,965.2L892.1,969.2L892.3,971.6L892.5,971.9L892.7,972.5L892.9,973.9L893.2,974.3L893.4,974.6L893.6,975.3L893.8,977.5L894.0,974.5L894.3,973.1L894.5,971.1L894.7,967.3L894.9,966.7L895.1,966.3L895.4,961.8L895.6,961.1L895.8,959.6L896.0,960.1L896.2,956.6L896.5,956.1L896.7,959.5L896.9,960.1L897.1,958.6L897.3,963.3L897.6,963.5L897.8,967.3L898.0,969.7L898.2,970.4L898.4,970.6L898.7,975.4L898.9,974.0L899.1,976.1L899.3,976.9L899.5,978.4L899.8,977.7L900.0,975.2L900.2,974.0L900.4,972.7L900.6,970.0L900.9,967.4L901.1,967.7L901.3,965.6L901.5,962.2L901.7,961.2L902.0,958.3L902.2,959.2L902.4,957.4L902.6,955.6L902.8,959.1L903.1,959.2L903.3,961.1L903.5,961.3L903.7,960.3L903.9,962.3L904.2,964.2L904.4,968.8L904.6,969.5L904.8,972.0L905.0,973.8L905.3,973.9L905.5,973.0L905.7,973.6L905.9,977.4L906.1,974.6L906.4,974.5L906.6,976.2L906.8,976.1L907.0,974.8L907.2,969.7L907.5,968.6L907.7,968.9L907.9,968.0L908.1,966.1L908.3,963.8L908.6,961.2L908.8,958.5L909.0,958.6L909.2,958.5L909.4,958.7L909.7,958.8L909.9,956.5L910.1,958.6L910.3,957.4L910.5,957.5L910.8,960.4L911.0,961.9L911.2,962.2L911.4,965.4L911.6,964.7L911.9,970.1L912.1,968.0L912.3,969.0L912.5,970.7L912.7,971.8L913.0,972.9L913.2,973.2L913.4,976.1L913.6,976.3L913.8,975.1L914.1,974.8L914.3,975.1L914.5,971.7L914.7,973.1L914.9,972.6L915.2,968.5L915.4,967.2L915.6,967.1L915.8,964.5L916.0,963.3L916.3,961.7L916.5,963.1L916.7,960.8L916.9,961.1L917.1,960.0L917.4,960.6L917.6,959.4L917.8,960.0L918.0,956.8L918.2,958.8L918.5,959.7L918.7,957.2L918.9,960.3L919.1,960.6L919.3,961.2L919.6,963.1L919.8,964.8L920.0,965.1L920.2,968.2L920.4,969.1L920.7,970.2L920.9,968.3L921.1,972.2L921.3,971.0L921.5,971.0L921.8,972.5L922.0,975.3L922.2,975.2L922.4,975.1L922.6,973.0L922.9,973.8L923.1,972.1L923.3,974.6L923.5,975.4L923.7,971.1L924.0,970.9L924.2,969.4L924.4,971.6L924.6,969.5L924.8,968.9L925.1,966.4L925.3,968.0L925.5,965.9L925.7,965.4L925.9,961.0L926.2,963.1L926.4,961.9L926.6,961.9L926.8,958.6L927.0,960.1L927.3,959.3L927.5,957.0L927.7,959.3L927.9,958.3L928.1,956.3L928.4,956.8L928.6,960.8L928.8,957.5L929.0,958.6L929.2,959.8L929.5,960.1L929.7,960.6L929.9,961.5L930.1,962.0L930.3,965.6L930.6,963.2L930.8,963.3L931.0,968.1L931.2,968.7L931.4,969.0L931.7,966.5L931.9,971.5L932.1,971.9L932.3,970.3L932.5,970.7L932.8,970.3L933.0,971.1L933.2,972.6L933.4,971.0L933.6,973.6L933.9,971.4L934.1,974.4L934.3,975.5L934.5,973.1L934.7,974.9L935.0,971.0L935.2,971.6L935.4,970.9L935.6,971.2L935.8,972.4L936.1,973.0L936.3,970.1L936.5,969.2L936.7,971.3L936.9,970.5L937.2,969.3L937.4,968.5L937.6,966.0L937.8,967.5L938.0,965.0L938.3,964.3L938.5,963.1L938.7,964.7L938.9,965.4L939.1,962.7L939.4,962.5L939.6,963.9L939.8,962.2L940.0,960.6L940.2,962.5L940.5,959.6L940.7,958.2L940.9,959.6L941.1,960.4L941.3,961.6L941.6,958.7L941.8,958.8L942.0,957.5L942.2,957.8L942.4,958.8L942.7,957.2L942.9,960.4L943.1,957.9L943.3,958.8L943.5,957.5L943.8,959.6L944.0,960.8L944.2,961.1L944.4,960.0L944.6,958.2L944.9,958.4L945.1,962.6L945.3,962.3L945.5,961.6L945.7,959.9L946.0,961.5L946.2,963.4L946.4,960.8L946.6,961.4L946.8,963.3L947.1,963.7L947.3,963.9L947.5,965.6L947.7,965.3L947.9,964.6L948.2,963.6L948.4,963.4L948.6,966.7L948.8,968.1L949.0,967.2L949.3,966.5L949.5,965.6L949.7,965.1L949.9,967.2L950.1,966.6L950.4,967.7L950.6,967.0L950.8,966.5L951.0,966.6L951.2,970.4L951.5,968.4L951.7,969.3L951.9,968.3L952.1,968.6L952.3,971.0L952.6,968.4L952.8,970.8L953.0,968.0L953.2,970.5L953.4,968.9L953.7,970.5L953.9,970.6L954.1,970.0L954.3,970.3L954.5,970.4L954.8,969.7L955.0,968.8L955.2,969.3L955.4,968.8L955.6,969.7L955.9,971.8L956.1,972.7L956.3,969.8L956.5,970.7L956.7,972.6L957.0,973.0L957.2,970.9L957.4,970.1L957.6,971.0L957.8,970.8L958.1,972.7L958.3,969.4L958.5,971.6L958.7,971.3L958.9,972.7L959.2,972.1L959.4,971.1L959.6,969.2L959.8,973.3L960.0,970.8L960.3,970.9L960.5,970.3L960.7,970.4L960.9,971.5L961.1,972.3L961.4,972.4L961.6,969.1L961.8,971.5L962.0,971.8L962.2,969.4L962.5,969.9L962.7,968.9L962.9,971.7L963.1,971.4L963.3,971.2L963.6,972.9L963.8,969.0L964.0,971.9L964.2,972.0L964.4,972.5L964.7,971.5L964.9,969.9L965.1,968.7L965.3,969.7L965.5,973.0L965.8,968.9L966.0,972.0L966.2,968.7L966.4,971.2L966.6,970.7L966.9,972.0L967.1,969.7L967.3,972.1L967.5,972.0L967.7,972.4L968.0,970.0L968.2,970.9L968.4,972.5L968.6,970.9L968.8,970.8L969.1,968.8L969.3,970.4L969.5,970.7L969.7,971.2L969.9,969.1L970.2,969.7L970.4,968.4L970.6,968.8L970.8,968.5L971.0,967.0L971.3,967.3L971.5,967.4L971.7,966.1L971.9,967.7L972.1,966.5L972.4,966.1L972.6,965.5L972.8,965.8L973.0,964.8L973.2,966.9L973.5,967.6L973.7,965.8L973.9,965.1L974.1,964.6L974.3,965.7L974.6,965.6L974.8,962.7L975.0,960.4L975.2,963.0L975.4,963.4L975.7,959.7L975.9,960.4L976.1,962.4L976.3,960.5L976.5,957.3L976.8,958.9L977.0,958.7L977.2,959.7L977.4,958.2L977.6,956.3L977.9,955.7L978.1,955.3L978.3,955.6L978.5,957.7L978.7,954.9L979.0,958.3L979.2,957.6L979.4,955.4L979.6,959.2L979.8,959.5L980.1,959.9L980.3,959.6L980.5,957.6L980.7,960.0L980.9,960.9L981.2,960.7L981.4,961.5L981.6,963.4L981.8,963.7L982.0,963.0L982.3,962.4L982.5,963.0L982.7,967.6L982.9,968.2L983.1,967.9L983.4,967.7L983.6,968.7L983.8,970.7L984.0,971.0L984.2,969.5L984.5,971.1L984.7,971.4L984.9,971.9L985.1,971.7L985.3,971.3L985.6,968.4L985.8,967.2L986.0,969.3L986.2,967.2L986.4,968.3L986.7,965.1L986.9,964.9L987.1,965.6L987.3,963.0L987.5,961.4L987.8,960.6L988.0,959.2L988.2,956.4L988.4,956.2L988.6,958.2L988.9,955.1L989.1,953.6L989.3,955.2L989.5,955.0L989.7,953.3L990.0,956.8L990.2,957.2L990.4,955.8L990.6,955.3L990.8,958.4L991.1,957.3L991.3,960.9L991.5,959.6L991.7,961.3L991.9,965.8L992.2,966.1L992.4,966.9L992.6,968.8L992.8,968.8L993.0,968.7L993.3,971.3L993.5,968.2L993.7,970.7L993.9,968.9L994.1,970.7L994.4,968.7L994.6,968.4L994.8,966.4L995.0,962.3L995.2,960.8L995.5,960.6L995.7,960.7L995.9,957.2L996.1,958.2L996.3,957.1L996.6,954.6L996.8,953.7L997.0,952.0L997.2,955.8L997.4,955.0L997.7,953.7L997.9,955.2L998.1,959.1L998.3,959.7L998.5,960.7L998.8,961.4L999.0,963.3L999.2,963.7L999.4,968.7L999.6,968.3L999.9,970.4L1000.1,970.0L1000.3,970.0L1000.5,967.6L1000.7,968.9L1001.0,968.9L1001.2,967.7L1001.4,965.0L1001.6,961.3L1001.8,960.8L1002.1,958.0L1002.3,955.7L1002.5,954.2L1002.7,954.6L1002.9,951.3L1003.2,952.9L1003.4,952.5L1003.6,952.1L1003.8,953.0L1004.0,956.9L1004.3,956.7L1004.5,958.8L1004.7,964.5L1004.9,963.7L1005.1,967.3L1005.4,968.9L1005.6,968.1L1005.8,969.1L1006.0,967.2L1006.2,968.2L1006.5,967.4L1006.7,966.7L1006.9,962.2L1007.1,961.4L1007.3,959.2L1007.6,956.9L1007.8,955.5L1008.0,955.2L1008.2,951.0L1008.4,951.3L1008.7,952.5L1008.9,955.7L1009.1,956.2L1009.3,956.7L1009.5,959.5L1009.8,961.2L1010.0,964.3L1010.2,963.9L1010.4,966.5L1010.6,967.1L1010.9,970.1L1011.1,968.6L1011.3,968.2L1011.5,966.3L1011.7,962.5L1012.0,961.8L1012.2,958.6L1012.4,957.2L1012.6,956.0L1012.8,954.0L1013.1,952.6L1013.3,950.0L1013.5,951.3L1013.7,955.1L1013.9,958.0L1014.2,958.1L1014.4,963.6L1014.6,961.9L1014.8,965.0L1015.0,967.8L1015.3,966.5L1015.5,967.4L1015.7,968.5L1015.9,963.2L1016.1,961.4L1016.4,961.9L1016.6,956.4L1016.8,953.9L1017.0,951.1L1017.2,949.7L1017.5,949.2L1017.7,950.7L1017.9,950.9L1018.1,953.8L1018.3,956.9L1018.6,958.7L1018.8,963.8L1019.0,965.4L1019.2,965.5L1019.4,969.1L1019.7,967.5L1019.9,967.9L1020.1,964.9L1020.3,962.2L1020.5,956.3L1020.8,953.9L1021.0,952.7L1021.2,952.0L1021.4,950.9L1021.6,951.1L1021.9,954.5L1022.1,956.0L1022.3,959.6L1022.5,961.0L1022.7,964.3L1023.0,964.5L1023.2,965.6L1023.4,966.5L1023.6,966.5L1023.8,966.4L1024.1,962.6L1024.3,959.5L1024.5,955.3L1024.7,954.0L1024.9,951.0L1025.2,951.9L1025.4,950.8L1025.6,953.1L1025.8,955.5L1026.0,960.0L1026.3,960.9L1026.5,966.9L1026.7,966.2L1026.9,967.8L1027.1,966.3L1027.4,966.4L1027.6,961.1L1027.8,957.3L1028.0,956.4L1028.2,950.1L1028.5,949.3L1028.7,948.5L1028.9,949.6L1029.1,953.3L1029.3,954.0L1029.6,959.8L1029.8,963.6L1030.0,966.1L1030.2,964.7L1030.4,967.5L1030.7,965.0L1030.9,961.8L1031.1,959.8L1031.3,954.7L1031.5,952.9L1031.8,949.2L1032.0,947.3L1032.2,948.1L1032.4,953.0L1032.6,953.6L1032.9,960.7L1033.1,962.8L1033.3,966.4L1033.5,967.8L1033.7,964.7L1034.0,963.2L1034.2,960.4L1034.4,957.9L1034.6,951.7L1034.8,950.5L1035.1,947.9L1035.3,948.6L1035.5,949.0L1035.7,954.0L1035.9,955.9L1036.2,962.1L1036.4,965.2L1036.6,965.1L1036.8,964.1L1037.0,963.8L1037.3,960.7L1037.5,955.0L1037.7,951.7L1037.9,949.2L1038.1,948.0L1038.4,950.7L1038.6,952.6L1038.8,956.0L1039.0,959.2L1039.2,962.3L1039.5,965.0L1039.7,963.8L1039.9,965.8L1040.1,960.6L1040.3,955.6L1040.6,954.9L1040.8,949.4L1041.0,948.1L1041.2,947.9L1041.4,951.7L1041.7,953.3L1041.9,959.9L1042.1,962.4L1042.3,966.0L1042.5,964.7L1042.8,963.5L1043.0,960.0L1043.2,958.3L1043.4,954.2L1043.6,947.6L1043.9,946.5L1044.1,950.2L1044.3,950.7L1044.5,956.5L1044.7,961.1L1045.0,964.4L1045.2,966.7L1045.4,963.6L1045.6,962.4L1045.8,959.8L1046.1,952.5L1046.3,950.1L1046.5,947.5L1046.7,948.6L1046.9,948.9L1047.2,951.9L1047.4,959.2L1047.6,963.1L1047.8,963.3L1048.0,963.6L1048.3,961.4L1048.5,958.1L1048.7,956.5L1048.9,951.7L1049.1,947.7L1049.4,949.7L1049.6,951.1L1049.8,954.1L1050.0,958.4L1050.2,963.9L1050.5,965.3L1050.7,964.0L1050.9,960.0L1051.1,956.0L1051.3,953.7L1051.6,947.4L1051.8,947.0L1052.0,950.6L1052.2,951.8L1052.4,958.3L1052.7,961.0L1052.9,964.0L1053.1,964.2L1053.3,960.9L1053.5,960.1L1053.8,956.3L1054.0,947.8L1054.2,947.5L1054.4,948.0L1054.6,950.3L1054.9,956.2L1055.1,962.2L1055.3,961.8L1055.5,966.3L1055.7,961.5L1056.0,959.5L1056.2,956.1L1056.4,949.6L1056.6,948.7L1056.8,945.7L1057.1,952.2L1057.3,955.3L1057.5,962.5L1057.7,963.3L1057.9,963.3L1058.2,960.7L1058.4,959.2L1058.6,950.9L1058.8,949.7L1059.0,948.9L1059.3,946.5L1059.5,952.4L1059.7,956.1L1059.9,963.0L1060.1,964.1L1060.4,962.3L1060.6,959.4L1060.8,955.5L1061.0,949.7L1061.2,948.4L1061.5,945.4L1061.7,950.6L1061.9,957.4L1062.1,960.9L1062.3,963.0L1062.6,962.8L1062.8,961.2L1063.0,955.4L1063.2,949.4L1063.4,947.8L1063.7,948.1L1063.9,949.6L1064.1,956.1L1064.3,959.0L1064.5,964.3L1064.8,965.8L1065.0,959.2L1065.2,957.0L1065.4,950.7L1065.6,946.5L1065.9,946.3L1066.1,950.4L1066.3,954.0L1066.5,958.4L1066.7,962.0L1067.0,965.1L1067.2,958.6L1067.4,957.0L1067.6,948.4L1067.8,947.8L1068.1,946.9L1068.3,952.0L1068.5,956.7L1068.7,962.2L1068.9,965.7L1069.2,963.3L1069.4,958.8L1069.6,954.1L1069.8,946.3L1070.0,946.1L1070.3,949.6L1070.5,954.3L1070.7,957.6L1070.9,961.7L1071.1,963.9L1071.4,961.4L1071.6,954.9L1071.8,947.5L1072.0,948.1L1072.2,947.4L1072.5,950.6L1072.7,955.3L1072.9,959.7L1073.1,963.2L1073.3,962.2L1073.6,956.9L1073.8,948.6L1074.0,948.3L1074.2,947.0L1074.4,949.6L1074.7,954.7L1074.9,958.9L1075.1,962.5L1075.3,962.1L1075.5,954.5L1075.8,951.2L1076.0,948.0L1076.2,945.2L1076.4,950.9L1076.6,955.7L1076.9,959.3L1077.1,963.6L1077.3,960.0L1077.5,957.5L1077.7,951.8L1078.0,944.2L1078.2,948.1L1078.4,952.2L1078.6,957.8L1078.8,962.5L1079.1,962.9L1079.3,961.0L1079.5,954.0L1079.7,948.7L1079.9,944.9L1080.2,949.0L1080.4,953.7L1080.6,957.5L1080.8,960.8L1081.0,961.1L1081.3,959.9L1081.5,954.0L1081.7,946.0L1081.9,945.5L1082.1,950.4L1082.4,953.6L1082.6,960.5L1082.8,962.1L1083.0,958.5L1083.2,955.3L1083.5,947.7L1083.7,946.6L1083.9,947.2L1084.1,949.9L1084.3,959.1L1084.6,963.3L1084.8,963.0L1085.0,957.7L1085.2,949.5L1085.4,946.6L1085.7,944.4L1085.9,950.0L1086.1,956.5L1086.3,962.1L1086.5,963.8L1086.8,959.3L1087.0,953.3L1087.2,947.0L1087.4,945.2L1087.6,949.4L1087.9,955.4L1088.1,959.2L1088.3,963.9L1088.5,959.6L1088.7,950.6L1089.0,949.1L1089.2,944.5L1089.4,948.9L1089.6,953.2L1089.8,960.4L1090.1,961.1L1090.3,958.5L1090.5,950.8L1090.7,946.2L1090.9,943.2L1091.2,946.9L1091.4,956.1L1091.6,961.1L1091.8,962.9L1092.0,957.5L1092.3,950.4L1092.5,945.1L1092.7,947.1L1092.9,951.0L1093.1,956.8L1093.4,961.5L1093.6,959.8L1093.8,955.5L1094.0,950.2L1094.2,943.6L1094.5,948.0L1094.7,953.2L1094.9,958.5L1095.1,961.6L1095.3,959.7L1095.6,955.8L1095.8,949.8L1096.0,945.1L1096.2,949.3L1096.4,953.6L1096.7,959.7L1096.9,959.6L1097.1,958.4L1097.3,953.2L1097.5,944.4L1097.8,943.4L1098.0,951.1L1098.2,954.5L1098.4,960.0L1098.6,962.1L1098.9,952.6L1099.1,948.8L1099.3,944.1L1099.5,946.7L1099.7,951.7L1100.0,961.4L1100.2,961.3L1100.4,957.9L1100.6,951.1L1100.8,945.4L1101.1,946.7L1101.3,950.7L1101.5,957.2L1101.7,959.1L1101.9,957.2L1102.2,951.6L1102.4,945.6L1102.6,945.9L1102.8,947.9L1103.0,957.8L1103.3,959.7L1103.5,960.2L1103.7,955.9L1103.9,947.8L1104.1,945.0L1104.4,945.8L1104.6,954.6L1104.8,958.2L1105.0,960.4L1105.2,954.7L1105.5,949.0L1105.7,945.9L1105.9,947.5L1106.1,952.4L1106.3,959.0L1106.6,962.2L1106.8,955.8L1107.0,949.7L1107.2,945.5L1107.4,944.5L1107.7,952.1L1107.9,960.8L1108.1,958.4L1108.3,956.8L1108.5,947.6L1108.8,942.8L1109.0,946.1L1109.2,955.1L1109.4,961.7L1109.6,962.2L1109.9,955.1L1110.1,947.1L1110.3,942.2L1110.5,945.1L1110.7,955.3L1111.0,959.8L1111.2,961.7L1111.4,954.2L1111.6,946.0L1111.8,942.2L1112.1,946.2L1112.3,956.4L1112.5,962.3L1112.7,957.7L1112.9,949.8L1113.2,943.4L1113.4,945.9L1113.6,952.2L1113.8,956.2L1114.0,959.6L1114.3,958.2L1114.5,949.5L1114.7,942.4L1114.9,946.1L1115.1,954.3L1115.4,959.5L1115.6,961.2L1115.8,954.2L1116.0,946.9L1116.2,941.6L1116.5,948.9L1116.7,956.5L1116.9,959.9L1117.1,958.4L1117.3,950.0L1117.6,943.0L1117.8,944.8L1118.0,951.3L1118.2,958.8L1118.4,958.6L1118.7,955.4L1118.9,948.5L1119.1,943.7L1119.3,947.4L1119.5,955.2L1119.8,960.1L1120.0,958.6L1120.2,948.9L1120.4,944.4L1120.6,945.5L1120.9,952.1L1121.1,959.8L1121.3,957.8L1121.5,951.7L1121.7,947.5L1122.0,943.2L1122.2,947.8L1122.4,957.8L1122.6,960.4L1122.8,958.1L1123.1,946.3L1123.3,943.9L1123.5,944.4L1123.7,955.8L1123.9,958.0L1124.2,959.8L1124.4,951.8L1124.6,943.5L1124.8,946.1L1125.0,952.1L1125.3,959.0L1125.5,960.6L1125.7,951.2L1125.9,942.9L1126.1,945.8L1126.4,950.0L1126.6,955.3L1126.8,961.5L1127.0,955.8L1127.2,945.5L1127.5,941.7L1127.7,946.5L1127.9,956.2L1128.1,959.0L1128.3,954.2L1128.6,948.9L1128.8,942.9L1129.0,947.2L1129.2,956.5L1129.4,960.4L1129.7,954.0L1129.9,946.5L1130.1,943.5L1130.3,948.1L1130.5,953.3L1130.8,960.3L1131.0,957.3L1131.2,947.8L1131.4,942.0L1131.6,947.2L1131.9,955.4L1132.1,961.4L1132.3,955.4L1132.5,945.9L1132.7,941.3L1133.0,948.8L1133.2,954.5L1133.4,959.8L1133.6,955.0L1133.8,948.2L1134.1,944.5L1134.3,949.2L1134.5,954.7L1134.7,960.3L1134.9,953.3L1135.2,944.3L1135.4,944.3L1135.6,947.6L1135.8,955.7L1136.0,959.0L1136.3,954.5L1136.5,944.1L1136.7,944.4L1136.9,948.0L1137.1,959.1L1137.4,956.8L1137.6,952.8L1137.8,943.2L1138.0,945.3L1138.2,952.4L1138.5,956.4L1138.7,958.3L1138.9,947.2L1139.1,942.4L1139.3,947.1L1139.6,955.5L1139.8,958.6L1140.0,957.3L1140.2,946.5L1140.4,941.2L1140.7,945.8L1140.9,957.5L1141.1,958.6L1141.3,951.2L1141.5,942.9L1141.8,943.4L1142.0,949.5L1142.2,958.9L1142.4,958.7L1142.6,947.1L1142.9,940.9L1143.1,945.1L1143.3,955.6L1143.5,960.2L1143.7,953.3L1144.0,946.7L1144.2,943.4L1144.4,947.1L1144.6,955.1L1144.8,957.7L1145.1,950.3L1145.3,945.1L1145.5,945.8L1145.7,953.6L1145.9,958.0L1146.2,955.3L1146.4,944.5L1146.6,941.5L1146.8,947.8L1147.0,957.1L1147.3,960.0L1147.5,949.1L1147.7,943.4L1147.9,946.0L1148.1,952.8L1148.4,959.9L1148.6,956.6L1148.8,944.2L1149.0,943.5L1149.2,946.3L1149.5,955.3L1149.7,955.7L1149.9,951.2L1150.1,943.5L1150.3,943.5L1150.6,955.0L1150.8,959.7L1151.0,951.2L1151.2,944.6L1151.4,941.3L1151.7,948.1L1151.9,955.8L1152.1,955.6L1152.3,946.2L1152.5,939.7L1152.8,948.9L1153.0,954.8L1153.2,958.5L1153.4,952.1L1153.6,940.6L1153.9,944.4L1154.1,954.7L1154.3,958.5" stroke="#00ff00" stroke-width="1.3"/>
</g>
<path d="M165.5,835.5H1154.5V999.5H165.5ZM165.5,840.5h10M1154.5,840.5h-10M165.5,883.0h10M1154.5,883.0h-10M165.5,925.6h10M1154.5,925.6h-10M165.5,968.1h10M1154.5,968.1h-10M615.9,835.5v10M615.9,999.5v-10" stroke="#262626" stroke-width="1" fill="none"/>
<path d="M1154.3,940V835.5" stroke="#0000ff" stroke-width="1.4"/>
<text x="157.00" y="847.63" font-size="20.0" text-anchor="end" textLength="26.97" lengthAdjust="spacingAndGlyphs">60</text>
<text x="157.00" y="890.17" font-size="20.0" text-anchor="end" textLength="26.97" lengthAdjust="spacingAndGlyphs">40</text>
<text x="157.00" y="932.71" font-size="20.0" text-anchor="end" textLength="26.97" lengthAdjust="spacingAndGlyphs">20</text>
<text x="157.00" y="975.25" font-size="20.0" text-anchor="end" textLength="13.48" lengthAdjust="spacingAndGlyphs">0</text>
<text x="92.00" y="1012.41" font-size="19.0" font-weight="bold" transform="rotate(-90 92.00 1012.41)" textLength="189.83" lengthAdjust="spacingAndGlyphs">Model - Measured</text>
<text x="118.00" y="956.59" font-size="19.0" font-weight="bold" transform="rotate(-90 118.00 956.59)" textLength="78.17" lengthAdjust="spacingAndGlyphs">|B| (nT)</text>
<text x="1170.30" y="924.20" font-size="14.8" font-weight="bold" fill="#000" transform="rotate(-90 1170.30 924.20)" textLength="63.72" lengthAdjust="spacingAndGlyphs">Inboard</text>
<path d="M1165,957.5V971.5" stroke="#0000ff" stroke-width="1.6"/>
<text x="1182.60" y="941.60" font-size="14.8" font-weight="bold" fill="#000" transform="rotate(-90 1182.60 941.60)" textLength="77.66" lengthAdjust="spacingAndGlyphs">Outboard</text>
<path d="M1180,957.5V971.5" stroke="#00ff00" stroke-width="1.6"/>
<path d="M165.5,1092.5H1154.5M165.5,1137.2H1154.5M165.5,1181.8H1154.5M165.5,1226.5H1154.5M615.9,1072.5V1233.5" stroke="#dedede" stroke-width="1" fill="none"/>
<clipPath id="ctm"><rect x="165.0" y="1072.5" width="990.0" height="161.5"/></clipPath>
<g clip-path="url(#ctm)" fill="none" stroke-linejoin="miter">
<path d="M165.5,1238.7H165.9L166.2,1232.9H168.1L168.5,1238.7H168.6L169.0,1232.9H172.5L172.9,1227.1H173.6L174.0,1232.9H174.7L175.1,1227.1H181.8L182.2,1221.4H182.9L183.3,1232.9H183.5L183.9,1221.4H185.7L186.1,1227.1H186.2L186.6,1221.4H188.4L188.8,1227.1H189.0L189.4,1221.4H189.5L189.9,1227.1H190.1L190.5,1221.4H191.7L192.1,1227.1H192.3L192.7,1221.4H200.0L200.4,1215.6H200.5L200.9,1221.4H201.6L202.0,1215.6H202.2L202.6,1221.4H203.3L203.7,1215.6H203.8L204.2,1221.4H204.4L204.8,1215.6H204.9L205.3,1221.4H206.0L206.4,1215.6H207.7L208.1,1221.4H209.9L210.3,1215.6H215.4L215.8,1221.4H215.9L216.3,1215.6H216.5L216.9,1221.4H217.0L217.4,1215.6H219.8L220.2,1221.4H220.3L220.7,1215.6H235.2L235.6,1209.9H235.7L236.1,1215.6H236.3L236.7,1209.9H237.4L237.8,1215.6H239.0L239.4,1209.9H240.1L240.5,1215.6H240.7L241.1,1209.9H241.2L241.6,1215.6H242.9L243.3,1209.9H243.4L243.8,1215.6H244.5L244.9,1209.9H245.1L245.5,1215.6H246.2L246.6,1209.9H246.7L247.1,1215.6H247.3L247.7,1209.9H250.0L250.4,1215.6H250.6L251.0,1209.9H252.2L252.6,1215.6H252.8L253.2,1209.9H266.5L266.9,1204.1H267.1L267.5,1209.9H267.6L268.0,1204.1H268.2L268.6,1209.9H269.3L269.7,1204.1H269.8L270.2,1209.9H272.6L273.0,1204.1H273.1L273.5,1209.9H275.3L275.7,1204.1H276.4L276.8,1209.9H277.5L277.9,1204.1H280.3L280.7,1209.9H280.8L281.2,1204.1H281.9L282.3,1209.9H282.5L282.9,1204.1H283.0L283.4,1209.9H283.6L284.0,1204.1H288.0L288.4,1209.9H289.1L289.5,1204.1H293.5L293.9,1209.9H294.0L294.4,1204.1H300.1L300.5,1198.3H300.6L301.0,1204.1H302.8L303.2,1198.3H303.4L303.8,1204.1H304.5L304.9,1198.3H305.0L305.4,1204.1H311.1L311.5,1198.3H311.6L312.0,1204.1H314.4L314.8,1198.3H314.9L315.3,1204.1H315.5L315.9,1198.3H316.6L317.0,1204.1H317.1L317.5,1198.3H318.2L318.6,1204.1H319.9L320.3,1198.3H321.0L321.4,1204.1H322.6L323.0,1198.3H324.3L324.7,1204.1H324.8L325.2,1198.3H325.9L326.3,1204.1H326.5L326.9,1198.3H328.7L329.1,1204.1H329.8L330.2,1198.3H330.3L330.7,1204.1H331.4L331.8,1198.3H332.0L332.4,1204.1H332.5L332.9,1198.3H333.6L334.0,1204.1H334.2L334.6,1198.3H334.7L335.1,1204.1H335.8L336.2,1198.3H336.4L336.8,1204.1H336.9L337.3,1198.3H337.5L337.9,1204.1H338.6L339.0,1198.3H347.9L348.3,1204.1H348.5L348.9,1198.3H349.0L349.4,1204.1H350.1L350.5,1198.3H351.2L351.6,1204.1H351.8L352.2,1198.3H352.9L353.3,1204.1H354.5L354.9,1198.3H356.7L357.1,1204.1H357.3L357.7,1198.3H358.4L358.8,1204.1H358.9L359.3,1198.3H362.2L362.6,1204.1H362.8L363.2,1198.3H369.4L369.8,1192.6H369.9L370.3,1198.3H375.4L375.8,1204.1H376.0L376.4,1198.3H377.6L378.0,1204.1H378.2L378.6,1198.3H382.0L382.4,1204.1H382.6L383.0,1198.3H395.8L396.2,1204.1H396.3L396.7,1198.3H397.4L397.8,1204.1H398.0L398.4,1198.3H409.5L409.9,1204.1H410.6L411.0,1198.3H416.1L416.5,1204.1H416.7L417.1,1198.3H420.0L420.4,1204.1H420.5L420.9,1198.3H424.9L425.3,1204.1H425.5L425.9,1198.3H443.6L444.0,1192.6H444.2L444.6,1198.3H452.4L452.8,1192.6H453.0L453.4,1198.3H455.2L455.6,1204.1H455.7L456.1,1198.3H471.1L471.5,1192.6H471.7L472.1,1198.3H475.5L475.9,1192.6H476.1L476.5,1198.3H486.5L486.9,1192.6H487.1L487.5,1198.3H493.7L494.1,1192.6H494.2L494.6,1198.3H498.1L498.5,1192.6H498.6L499.0,1198.3H500.3L500.7,1192.6H500.8L501.2,1198.3H501.4L501.8,1192.6H501.9L502.3,1198.3H503.0L503.4,1192.6H503.6L504.0,1198.3H508.0L508.4,1192.6H508.5L508.9,1198.3H509.1L509.5,1192.6H509.6L510.0,1198.3H511.3L511.7,1192.6H512.4L512.8,1198.3H512.9L513.3,1192.6H514.0L514.4,1198.3H517.3L517.7,1192.6H517.9L518.3,1198.3H519.0L519.4,1192.6H520.1L520.5,1198.3H520.6L521.0,1192.6H521.2L521.6,1198.3H524.5L524.9,1192.6H527.2L527.6,1198.3H528.3L528.7,1192.6H528.9L529.3,1198.3H529.4L529.8,1192.6H530.5L530.9,1198.3H531.1L531.5,1192.6H531.6L532.0,1198.3H532.7L533.1,1192.6H533.3L533.7,1198.3H534.4L534.8,1192.6H534.9L535.3,1198.3H538.8L539.2,1192.6H539.9L540.3,1198.3H540.4L540.8,1192.6H542.1L542.5,1198.3H544.8L545.2,1192.6H545.4L545.8,1198.3H546.5L546.9,1192.6H550.3L550.7,1198.3H550.9L551.3,1192.6H554.2L554.6,1198.3H554.7L555.1,1192.6H555.8L556.2,1198.3H556.4L556.8,1192.6H558.0L558.4,1198.3H558.6L559.0,1192.6H560.2L560.6,1198.3H560.8L561.2,1192.6H563.5L563.9,1198.3H564.1L564.5,1192.6H565.7L566.1,1198.3H566.3L566.7,1192.6H574.0L574.4,1198.3H574.5L574.9,1192.6H580.0L580.4,1198.3H580.6L581.0,1192.6H581.1L581.5,1198.3H581.7L582.1,1192.6H603.1L603.5,1186.8H603.6L604.0,1192.6H625.1L625.5,1186.8H625.6L626.0,1192.6H638.3L638.7,1186.8H638.8L639.2,1192.6H639.4L639.8,1186.8H639.9L640.3,1192.6H642.1L642.5,1186.8H642.7L643.1,1192.6H647.1L647.5,1186.8H648.2L648.6,1192.6H649.3L649.7,1186.8H649.8L650.2,1192.6H650.4L650.8,1186.8H650.9L651.3,1192.6H652.0L652.4,1186.8H652.6L653.0,1192.6H653.7L654.1,1186.8H654.2L654.6,1192.6H654.8L655.2,1186.8H655.3L655.7,1192.6H657.5L657.9,1186.8H658.1L658.5,1192.6H658.6L659.0,1186.8H659.2L659.6,1192.6H661.4L661.8,1186.8H661.9L662.3,1192.6H664.1L664.5,1186.8H665.2L665.6,1192.6H666.3L666.7,1186.8H666.9L667.3,1192.6H668.5L668.9,1186.8H669.1L669.5,1192.6H669.6L670.0,1186.8H670.2L670.6,1192.6H672.4L672.8,1186.8H673.5L673.9,1192.6H674.0L674.4,1186.8H675.1L675.5,1192.6H678.4L678.8,1186.8H679.0L679.4,1192.6H679.5L679.9,1186.8H680.6L681.0,1192.6H681.2L681.6,1186.8H682.8L683.2,1192.6H683.4L683.8,1186.8H683.9L684.3,1192.6H685.6L686.0,1186.8H687.8L688.2,1192.6H688.3L688.7,1186.8H688.9L689.3,1192.6H689.4L689.8,1186.8H690.5L690.9,1192.6H691.1L691.5,1186.8H692.2L692.6,1192.6H693.8L694.2,1186.8H695.5L695.9,1192.6H696.0L696.4,1186.8H696.6L697.0,1192.6H697.1L697.5,1186.8H699.3L699.7,1192.6H699.9L700.3,1186.8H700.4L700.8,1192.6H701.0L701.4,1186.8H703.2L703.6,1192.6H703.7L704.1,1186.8H707.6L708.0,1192.6H708.7L709.1,1186.8H710.3L710.7,1192.6H710.9L711.3,1186.8H715.3L715.7,1192.6H715.8L716.2,1186.8H718.6L719.0,1192.6H719.1L719.5,1186.8H719.7L720.1,1192.6H720.2L720.6,1186.8H720.8L721.2,1192.6H721.3L721.7,1186.8H721.9L722.3,1192.6H723.0L723.4,1186.8H724.6L725.0,1192.6H725.2L725.6,1186.8H726.8L727.2,1192.6H727.4L727.8,1186.8H727.9L728.3,1192.6H728.5L728.9,1186.8H730.7L731.1,1192.6H731.2L731.6,1186.8H735.6L736.0,1192.6H736.2L736.6,1186.8H740.6L741.0,1192.6H741.1L741.5,1186.8H741.7L742.1,1192.6H742.8L743.2,1186.8H743.3L743.7,1192.6H743.9L744.3,1186.8H752.1L752.5,1192.6H752.7L753.1,1186.8H757.6L758.0,1192.6H758.2L758.6,1186.8H759.3L759.7,1192.6H759.8L760.2,1186.8H767.0L767.4,1192.6H767.5L767.9,1186.8H770.3L770.7,1192.6H770.8L771.2,1186.8H772.5L772.9,1192.6H773.0L773.4,1186.8H779.1L779.5,1181.1H779.6L780.0,1186.8H792.8L793.2,1192.6H793.4L793.8,1186.8H797.2L797.6,1192.6H797.8L798.2,1186.8H805.5L805.9,1181.1H806.0L806.4,1186.8H820.3L820.7,1181.1H820.9L821.3,1186.8H822.0L822.4,1181.1H822.5L822.9,1186.8H825.8L826.2,1181.1H826.4L826.8,1186.8H828.0L828.4,1181.1H828.6L829.0,1186.8H834.6L835.0,1181.1H835.2L835.6,1186.8H835.7L836.1,1181.1H836.3L836.7,1186.8H842.9L843.3,1181.1H843.4L843.8,1186.8H848.4L848.8,1181.1H848.9L849.3,1186.8H850.6L851.0,1181.1H851.1L851.5,1186.8H853.3L853.7,1181.1H854.4L854.8,1186.8H855.5L855.9,1181.1H856.1L856.5,1186.8H857.2L857.6,1181.1H858.8L859.2,1186.8H859.9L860.3,1181.1H860.5L860.9,1186.8H862.7L863.1,1181.1H864.3L864.7,1186.8H866.5L866.9,1181.1H867.1L867.5,1186.8H869.8L870.2,1181.1H870.4L870.8,1186.8H870.9L871.3,1181.1H872.0L872.4,1186.8H872.6L873.0,1181.1H873.1L873.5,1186.8H874.8L875.2,1181.1H875.3L875.7,1186.8H875.9L876.3,1181.1H876.4L876.8,1186.8H877.0L877.4,1181.1H878.6L879.0,1186.8H880.3L880.7,1181.1H881.9L882.3,1186.8H883.0L883.4,1181.1H883.6L884.0,1186.8H884.1L884.5,1181.1H885.2L885.6,1186.8H886.9L887.3,1181.1H888.0L888.4,1186.8H889.1L889.5,1181.1H889.6L890.0,1186.8H890.2L890.6,1181.1H891.3L891.7,1186.8H892.4L892.8,1181.1H892.9L893.3,1186.8H895.1L895.5,1181.1H896.2L896.6,1186.8H896.8L897.2,1181.1H902.8L903.2,1186.8H903.4L903.8,1181.1H905.0L905.4,1186.8H905.6L906.0,1181.1H906.1L906.5,1186.8H907.8L908.2,1181.1H908.9L909.3,1186.8H909.4L909.8,1181.1H913.3L913.7,1186.8H914.9L915.3,1181.1H919.9L920.3,1186.8H920.4L920.8,1181.1H927.0L927.4,1186.8H927.6L928.0,1181.1H933.6L934.0,1186.8H934.2L934.6,1181.1H935.3L935.7,1186.8H935.8L936.2,1181.1H941.9L942.3,1186.8H942.4L942.8,1181.1H952.9L953.3,1186.8H953.4L953.8,1181.1H964.4L964.8,1175.3H965.0L965.4,1181.1H971.6L972.0,1175.3H972.1L972.5,1181.1H973.2L973.6,1175.3H973.8L974.2,1181.1H976.0L976.4,1175.3H976.5L976.9,1181.1H983.7L984.1,1175.3H984.2L984.6,1181.1H984.8L985.2,1175.3H985.3L985.7,1181.1H988.1L988.5,1175.3H988.6L989.0,1181.1H989.2L989.6,1175.3H989.7L990.1,1181.1H990.8L991.2,1175.3H992.5L992.9,1181.1H994.1L994.5,1175.3H994.7L995.1,1181.1H1001.3L1001.7,1175.3H1001.8L1002.2,1181.1H1004.0L1004.4,1175.3H1005.1L1005.5,1181.1H1006.8L1007.2,1175.3H1007.3L1007.7,1181.1H1007.9L1008.3,1175.3H1009.0L1009.4,1181.1H1010.1L1010.5,1175.3H1011.7L1012.1,1181.1H1012.8L1013.2,1175.3H1015.0L1015.4,1181.1H1016.1L1016.5,1175.3H1017.8L1018.2,1181.1H1018.3L1018.7,1175.3H1020.5L1020.9,1181.1H1021.6L1022.0,1175.3H1022.2L1022.6,1181.1H1023.3L1023.7,1175.3H1024.4L1024.8,1181.1H1026.0L1026.4,1175.3H1026.6L1027.0,1181.1H1027.1L1027.5,1175.3H1036.5L1036.9,1181.1H1038.7L1039.1,1175.3H1039.8L1040.2,1181.1H1040.9L1041.3,1175.3H1043.6L1044.0,1181.1H1044.2L1044.6,1175.3H1044.7L1045.1,1181.1H1045.3L1045.7,1175.3H1045.8L1046.2,1181.1H1046.4L1046.8,1175.3H1047.5L1047.9,1181.1H1048.6L1049.0,1175.3H1049.7L1050.1,1181.1H1050.2L1050.6,1175.3H1050.8L1051.2,1181.1H1051.9L1052.3,1175.3H1053.5L1053.9,1181.1H1054.1L1054.5,1175.3H1055.2L1055.6,1181.1H1056.8L1057.2,1175.3H1060.1L1060.5,1181.1H1060.7L1061.1,1175.3H1063.4L1063.8,1181.1H1064.0L1064.4,1175.3H1066.7L1067.1,1181.1H1067.3L1067.7,1175.3H1071.1L1071.5,1181.1H1071.7L1072.1,1175.3H1074.4L1074.8,1181.1H1075.0L1075.4,1175.3H1083.2L1083.6,1181.1H1083.8L1084.2,1175.3H1084.3L1084.7,1169.5H1084.9L1085.3,1175.3H1092.0L1092.4,1169.5H1092.6L1093.0,1175.3H1104.7L1105.1,1169.5H1105.2L1105.6,1175.3H1106.9L1107.3,1169.5H1107.4L1107.8,1175.3H1110.2L1110.6,1169.5H1110.7L1111.1,1175.3H1114.6L1115.0,1169.5H1115.7L1116.1,1175.3H1119.0L1119.4,1169.5H1119.5L1119.9,1175.3H1120.1L1120.5,1169.5H1120.6L1121.0,1175.3H1121.2L1121.6,1169.5H1121.7L1122.1,1175.3H1122.8L1123.2,1169.5H1123.4L1123.8,1175.3H1123.9L1124.3,1169.5H1125.0L1125.4,1175.3H1125.6L1126.0,1169.5H1126.1L1126.5,1175.3H1127.2L1127.6,1169.5H1128.3L1128.7,1175.3H1128.9L1129.3,1169.5H1129.4L1129.8,1175.3H1130.0L1130.4,1169.5H1130.5L1130.9,1175.3H1131.1L1131.5,1169.5H1131.6L1132.0,1175.3H1132.2L1132.6,1169.5H1132.7L1133.1,1175.3H1133.8L1134.2,1169.5H1134.4L1134.8,1175.3H1134.9L1135.3,1169.5H1137.1L1137.5,1175.3H1137.7L1138.1,1169.5H1139.3L1139.7,1175.3H1139.9L1140.3,1169.5H1142.1L1142.5,1175.3H1144.3L1144.7,1169.5H1145.4L1145.8,1175.3H1145.9L1146.3,1169.5H1154.5" stroke="#0000ff" stroke-width="1.3"/>
<path d="M165.5,1138.9H167.0L167.4,1133.4H167.5L167.9,1138.9H168.1L168.5,1133.4H168.6L169.0,1138.9H170.3L170.7,1133.4H170.8L171.2,1138.9H173.6L174.0,1133.4H174.1L174.5,1138.9H175.2L175.6,1133.4H176.3L176.7,1138.9H179.1L179.5,1133.4H181.3L181.7,1138.9H181.8L182.2,1133.4H182.4L182.8,1138.9H184.0L184.4,1133.4H185.7L186.1,1138.9H186.2L186.6,1133.4H186.8L187.2,1138.9H188.4L188.8,1133.4H190.1L190.5,1138.9H191.7L192.1,1133.4H192.3L192.7,1138.9H192.8L193.2,1133.4H193.4L193.8,1138.9H193.9L194.3,1133.4H195.0L195.4,1138.9H197.2L197.6,1133.4H197.8L198.2,1138.9H198.9L199.3,1133.4H200.5L200.9,1138.9H201.1L201.5,1133.4H202.2L202.6,1138.9H203.8L204.2,1133.4H204.4L204.8,1138.9H204.9L205.3,1133.4H205.5L205.9,1138.9H206.6L207.0,1133.4H208.2L208.6,1138.9H209.9L210.3,1133.4H211.5L211.9,1138.9H212.1L212.5,1133.4H213.7L214.1,1138.9H214.3L214.7,1133.4H214.8L215.2,1138.9H215.4L215.8,1133.4H215.9L216.3,1138.9H216.5L216.9,1133.4H217.6L218.0,1138.9H218.1L218.5,1133.4H218.7L219.1,1138.9H222.0L222.4,1133.4H223.6L224.0,1138.9H224.2L224.6,1133.4H225.8L226.2,1138.9H226.4L226.8,1133.4H227.5L227.9,1138.9H228.6L229.0,1133.4H229.1L229.5,1138.9H230.8L231.2,1133.4H231.9L232.3,1138.9H233.0L233.4,1133.4H233.5L233.9,1138.9H234.1L234.5,1133.4H234.6L235.0,1138.9H235.2L235.6,1133.4H236.3L236.7,1138.9H237.4L237.8,1133.4H237.9L238.3,1138.9H238.5L238.9,1133.4H241.2L241.6,1138.9H241.8L242.2,1133.4H244.5L244.9,1138.9H245.1L245.5,1133.4H247.3L247.7,1138.9H247.8L248.2,1133.4H248.4L248.8,1138.9H250.0L250.4,1133.4H250.6L251.0,1138.9H251.1L251.5,1133.4H251.7L252.1,1138.9H252.8L253.2,1133.4H255.0L255.4,1138.9H256.1L256.5,1133.4H256.6L257.0,1138.9H257.7L258.1,1133.4H258.3L258.7,1138.9H258.8L259.2,1133.4H259.9L260.3,1138.9H261.0L261.4,1133.4H261.6L262.0,1138.9H262.1L262.5,1133.4H265.4L265.8,1138.9H266.0L266.4,1133.4H267.1L267.5,1138.9H267.6L268.0,1133.4H269.3L269.7,1138.9H269.8L270.2,1133.4H270.4L270.8,1138.9H270.9L271.3,1133.4H271.5L271.9,1138.9H272.0L272.4,1133.4H273.7L274.1,1138.9H274.2L274.6,1133.4H274.8L275.2,1138.9H275.3L275.7,1133.4H275.9L276.3,1138.9H276.4L276.8,1133.4H280.3L280.7,1138.9H280.8L281.2,1133.4H281.4L281.8,1138.9H281.9L282.3,1133.4H285.2L285.6,1138.9H285.8L286.2,1133.4H289.6L290.0,1138.9H290.7L291.1,1133.4H291.8L292.2,1138.9H292.9L293.3,1133.4H297.3L297.7,1138.9H297.9L298.3,1133.4H300.6L301.0,1138.9H301.2L301.6,1133.4H302.8L303.2,1138.9H303.4L303.8,1133.4H310.5L310.9,1138.9H311.1L311.5,1133.4H315.5L315.9,1127.9H316.0L316.4,1133.4H316.6L317.0,1138.9H317.1L317.5,1133.4H327.0L327.4,1127.9H327.6L328.0,1133.4H330.9L331.3,1138.9H331.4L331.8,1133.4H333.6L334.0,1127.9H334.2L334.6,1133.4H343.0L343.4,1127.9H343.5L343.9,1133.4H354.5L354.9,1138.9H355.1L355.5,1133.4H391.9L392.3,1127.9H392.5L392.9,1133.4H393.6L394.0,1127.9H394.1L394.5,1133.4H412.3L412.7,1127.9H412.8L413.2,1133.4H423.8L424.2,1127.9H424.9L425.3,1133.4H427.1L427.5,1127.9H427.7L428.1,1133.4H434.8L435.2,1127.9H435.4L435.8,1133.4H445.8L446.2,1127.9H446.4L446.8,1133.4H447.5L447.9,1127.9H448.0L448.4,1133.4H452.4L452.8,1127.9H453.5L453.9,1133.4H456.3L456.7,1127.9H456.8L457.2,1133.4H457.4L457.8,1127.9H457.9L458.3,1133.4H461.2L461.6,1127.9H461.8L462.2,1133.4H464.0L464.4,1127.9H464.5L464.9,1133.4H466.7L467.1,1127.9H467.8L468.2,1133.4H470.0L470.4,1127.9H471.1L471.5,1133.4H473.3L473.7,1127.9H473.9L474.3,1133.4H475.5L475.9,1127.9H476.6L477.0,1133.4H478.3L478.7,1127.9H479.4L479.8,1133.4H480.5L480.9,1127.9H481.0L481.4,1133.4H481.6L482.0,1127.9H482.1L482.5,1133.4H483.2L483.6,1127.9H483.8L484.2,1133.4H487.1L487.5,1127.9H487.6L488.0,1133.4H488.2L488.6,1127.9H492.0L492.4,1133.4H494.8L495.2,1127.9H495.9L496.3,1133.4H497.0L497.4,1127.9H497.5L497.9,1133.4H498.1L498.5,1127.9H498.6L499.0,1133.4H499.2L499.6,1127.9H500.8L501.2,1133.4H501.4L501.8,1127.9H504.7L505.1,1133.4H505.2L505.6,1127.9H505.8L506.2,1133.4H506.3L506.7,1127.9H506.9L507.3,1133.4H508.0L508.4,1127.9H509.1L509.5,1133.4H510.2L510.6,1127.9H512.9L513.3,1133.4H513.5L513.9,1127.9H518.4L518.8,1133.4H519.0L519.4,1127.9H520.1L520.5,1133.4H520.6L521.0,1127.9H521.2L521.6,1133.4H521.7L522.1,1127.9H531.6L532.0,1133.4H532.2L532.6,1127.9H537.1L537.5,1133.4H537.7L538.1,1127.9H539.3L539.7,1133.4H539.9L540.3,1127.9H540.4L540.8,1133.4H541.0L541.4,1127.9H552.5L552.9,1133.4H553.1L553.5,1127.9H553.6L554.0,1133.4H554.2L554.6,1127.9H560.8L561.2,1122.4H561.3L561.7,1127.9H587.2L587.6,1122.4H587.7L588.1,1127.9H588.8L589.2,1122.4H589.4L589.8,1127.9H592.1L592.5,1122.4H592.7L593.1,1127.9H596.0L596.4,1122.4H597.1L597.5,1127.9H598.7L599.1,1122.4H599.2L599.6,1127.9H605.8L606.2,1122.4H606.4L606.8,1127.9H609.7L610.1,1122.4H610.8L611.2,1127.9H613.5L613.9,1122.4H614.1L614.5,1127.9H615.7L616.1,1122.4H617.4L617.8,1127.9H618.5L618.9,1122.4H619.0L619.4,1127.9H619.6L620.0,1122.4H620.7L621.1,1127.9H621.2L621.6,1122.4H621.8L622.2,1127.9H623.4L623.8,1122.4H624.0L624.4,1127.9H624.5L624.9,1122.4H625.6L626.0,1127.9H626.7L627.1,1122.4H627.3L627.7,1127.9H628.4L628.8,1122.4H628.9L629.3,1127.9H630.0L630.4,1122.4H631.1L631.5,1127.9H633.3L633.7,1122.4H635.5L635.9,1127.9H636.1L636.5,1122.4H636.6L637.0,1127.9H641.6L642.0,1122.4H642.1L642.5,1127.9H642.7L643.1,1122.4H644.3L644.7,1127.9H644.9L645.3,1122.4H645.4L645.8,1127.9H648.2L648.6,1122.4H648.7L649.1,1127.9H649.3L649.7,1122.4H649.8L650.2,1127.9H650.4L650.8,1122.4H650.9L651.3,1127.9H652.6L653.0,1122.4H654.2L654.6,1127.9H657.0L657.4,1122.4H658.6L659.0,1127.9H660.8L661.2,1122.4H661.4L661.8,1127.9H663.0L663.4,1122.4H663.6L664.0,1127.9H664.1L664.5,1122.4H664.7L665.1,1127.9H665.2L665.6,1122.4H666.3L666.7,1127.9H668.5L668.9,1122.4H669.1L669.5,1127.9H670.2L670.6,1122.4H670.7L671.1,1127.9H674.0L674.4,1122.4H674.6L675.0,1127.9H675.1L675.5,1122.4H676.2L676.6,1127.9H677.9L678.3,1122.4H679.0L679.4,1127.9H680.6L681.0,1122.4H681.2L681.6,1127.9H683.4L683.8,1122.4H683.9L684.3,1127.9H685.6L686.0,1122.4H688.9L689.3,1127.9H690.5L690.9,1122.4H691.1L691.5,1127.9H692.2L692.6,1122.4H692.7L693.1,1127.9H693.8L694.2,1122.4H694.9L695.3,1127.9H695.5L695.9,1122.4H696.0L696.4,1127.9H697.1L697.5,1122.4H697.7L698.1,1127.9H698.2L698.6,1122.4H698.8L699.2,1127.9H699.9L700.3,1122.4H701.0L701.4,1127.9H704.3L704.7,1122.4H704.8L705.2,1127.9H705.4L705.8,1122.4H705.9L706.3,1127.9H706.5L706.9,1122.4H707.6L708.0,1127.9H708.1L708.5,1122.4H708.7L709.1,1127.9H709.8L710.2,1122.4H710.3L710.7,1127.9H712.0L712.4,1122.4H712.5L712.9,1127.9H714.2L714.6,1122.4H715.3L715.7,1127.9H716.4L716.8,1122.4H716.9L717.3,1127.9H718.0L718.4,1122.4H720.2L720.6,1127.9H720.8L721.2,1122.4H722.4L722.8,1127.9H723.0L723.4,1122.4H724.6L725.0,1127.9H725.2L725.6,1122.4H730.1L730.5,1127.9H730.7L731.1,1122.4H731.8L732.2,1127.9H733.4L733.8,1122.4H734.0L734.4,1127.9H735.1L735.5,1122.4H745.0L745.4,1127.9H746.1L746.5,1122.4H746.6L747.0,1127.9H747.2L747.6,1122.4H748.3L748.7,1127.9H748.8L749.2,1122.4H752.1L752.5,1127.9H752.7L753.1,1122.4H753.2L753.6,1127.9H753.8L754.2,1122.4H754.3L754.7,1127.9H754.9L755.3,1122.4H756.5L756.9,1127.9H757.1L757.5,1122.4H758.7L759.1,1127.9H759.3L759.7,1122.4H760.4L760.8,1127.9H760.9L761.3,1122.4H768.6L769.0,1127.9H769.2L769.6,1122.4H790.1L790.5,1127.9H790.6L791.0,1122.4H796.7L797.1,1127.9H797.2L797.6,1122.4H800.0L800.4,1127.9H800.5L800.9,1116.9H801.1L801.5,1122.4H822.0L822.4,1116.9H822.5L822.9,1122.4H823.6L824.0,1116.9H824.2L824.6,1122.4H824.7L825.1,1116.9H825.3L825.7,1122.4H847.8L848.2,1116.9H848.4L848.8,1122.4H852.2L852.6,1116.9H852.8L853.2,1122.4H854.4L854.8,1116.9H855.0L855.4,1122.4H856.1L856.5,1116.9H856.6L857.0,1122.4H863.8L864.2,1116.9H864.3L864.7,1122.4H867.6L868.0,1116.9H868.2L868.6,1122.4H869.3L869.7,1116.9H869.8L870.2,1122.4H871.5L871.9,1116.9H872.0L872.4,1122.4H873.7L874.1,1116.9H874.2L874.6,1122.4H875.9L876.3,1116.9H876.4L876.8,1122.4H877.0L877.4,1116.9H877.5L877.9,1122.4H878.1L878.5,1116.9H879.2L879.6,1122.4H880.3L880.7,1116.9H880.8L881.2,1122.4H884.1L884.5,1116.9H885.2L885.6,1122.4H888.0L888.4,1116.9H888.5L888.9,1122.4H889.6L890.0,1116.9H890.7L891.1,1122.4H891.3L891.7,1116.9H891.8L892.2,1122.4H892.9L893.3,1116.9H893.5L893.9,1122.4H897.9L898.3,1116.9H900.1L900.5,1122.4H901.2L901.6,1116.9H901.7L902.1,1122.4H904.5L904.9,1116.9H905.0L905.4,1122.4H905.6L906.0,1116.9H906.1L906.5,1122.4H906.7L907.1,1116.9H907.2L907.6,1122.4H909.4L909.8,1116.9H910.0L910.4,1122.4H912.7L913.1,1116.9H913.8L914.2,1122.4H914.9L915.3,1116.9H915.5L915.9,1122.4H916.0L916.4,1116.9H916.6L917.0,1122.4H918.2L918.6,1116.9H918.8L919.2,1122.4H919.9L920.3,1116.9H920.4L920.8,1122.4H921.5L921.9,1116.9H923.2L923.6,1122.4H923.7L924.1,1116.9H924.3L924.7,1122.4H926.5L926.9,1116.9H927.0L927.4,1122.4H928.1L928.5,1116.9H928.7L929.1,1122.4H929.2L929.6,1116.9H930.9L931.3,1122.4H931.4L931.8,1116.9H932.5L932.9,1122.4H933.1L933.5,1116.9H933.6L934.0,1122.4H934.7L935.1,1116.9H936.4L936.8,1122.4H937.5L937.9,1116.9H939.1L939.5,1122.4H939.7L940.1,1116.9H941.9L942.3,1122.4H942.4L942.8,1116.9H943.0L943.4,1122.4H944.6L945.0,1116.9H945.2L945.6,1122.4H945.7L946.1,1116.9H946.8L947.2,1122.4H947.4L947.8,1116.9H948.5L948.9,1122.4H949.6L950.0,1116.9H951.2L951.6,1122.4H952.3L952.7,1116.9H952.9L953.3,1122.4H954.0L954.4,1116.9H954.5L954.9,1122.4H955.1L955.5,1116.9H955.6L956.0,1122.4H956.2L956.6,1116.9H960.6L961.0,1122.4H962.2L962.6,1116.9H963.3L963.7,1122.4H967.2L967.6,1116.9H969.9L970.3,1122.4H970.5L970.9,1116.9H971.0L971.4,1122.4H971.6L972.0,1116.9H972.7L973.1,1122.4H973.2L973.6,1116.9H973.8L974.2,1122.4H975.4L975.8,1116.9H976.0L976.4,1122.4H976.5L976.9,1116.9H977.1L977.5,1122.4H977.6L978.0,1116.9H978.2L978.6,1122.4H978.7L979.1,1116.9H979.8L980.2,1122.4H982.0L982.4,1116.9H983.1L983.5,1122.4H984.8L985.2,1116.9H989.7L990.1,1122.4H990.8L991.2,1116.9H991.4L991.8,1122.4H993.6L994.0,1116.9H995.8L996.2,1122.4H997.4L997.8,1116.9H999.6L1000.0,1122.4H1001.3L1001.7,1116.9H1002.4L1002.8,1122.4H1003.5L1003.9,1116.9H1004.0L1004.4,1122.4H1006.8L1007.2,1116.9H1007.9L1008.3,1122.4H1009.0L1009.4,1116.9H1011.2L1011.6,1122.4H1012.3L1012.7,1116.9H1012.8L1013.2,1122.4H1013.4L1013.8,1116.9H1013.9L1014.3,1122.4H1014.5L1014.9,1116.9H1015.0L1015.4,1122.4H1016.1L1016.5,1116.9H1019.4L1019.8,1122.4H1020.0L1020.4,1116.9H1020.5L1020.9,1122.4H1021.1L1021.5,1116.9H1022.7L1023.1,1122.4H1026.0L1026.4,1116.9H1026.6L1027.0,1122.4H1027.1L1027.5,1116.9H1028.2L1028.6,1122.4H1029.9L1030.3,1116.9H1033.7L1034.1,1122.4H1034.8L1035.2,1116.9H1035.9L1036.3,1122.4H1036.5L1036.9,1116.9H1038.1L1038.5,1122.4H1039.2L1039.6,1116.9H1039.8L1040.2,1122.4H1040.3L1040.7,1116.9H1041.4L1041.8,1122.4H1042.0L1042.4,1116.9H1043.6L1044.0,1122.4H1044.7L1045.1,1116.9H1045.3L1045.7,1122.4H1046.4L1046.8,1116.9H1049.1L1049.5,1122.4H1050.8L1051.2,1116.9H1055.2L1055.6,1122.4H1056.3L1056.7,1116.9H1056.8L1057.2,1122.4H1057.9L1058.3,1116.9H1059.6L1060.0,1122.4H1060.1L1060.5,1116.9H1067.3L1067.7,1122.4H1067.8L1068.2,1116.9H1070.6L1071.0,1122.4H1071.1L1071.5,1116.9H1076.1L1076.5,1122.4H1076.6L1077.0,1116.9H1082.7L1083.1,1122.4H1083.8L1084.2,1116.9H1087.1L1087.5,1122.4H1087.6L1088.0,1116.9H1088.7L1089.1,1122.4H1089.3L1089.7,1116.9H1092.6L1093.0,1122.4H1093.1L1093.5,1116.9H1094.2L1094.6,1122.4H1094.8L1095.2,1116.9H1095.3L1095.7,1122.4H1095.9L1096.3,1116.9H1100.3L1100.7,1122.4H1101.4L1101.8,1116.9H1105.8L1106.2,1122.4H1106.3L1106.7,1116.9H1108.5L1108.9,1122.4H1109.1L1109.5,1116.9H1109.6L1110.0,1122.4H1110.2L1110.6,1116.9H1111.8L1112.2,1122.4H1112.4L1112.8,1116.9H1119.0L1119.4,1122.4H1119.5L1119.9,1116.9H1150.9L1151.3,1122.4H1151.4L1151.8,1116.9H1153.6L1154.0,1122.4H1154.2L1154.6,1116.9H1154.5" stroke="#00ffff" stroke-width="1.3"/>
<path d="M165.5,1213.3H166.4L166.8,1207.5H168.6L169.0,1213.3H169.2L169.6,1207.5H173.6L174.0,1201.7H174.1L174.5,1207.5H174.7L175.1,1201.7H175.2L175.6,1207.5H175.8L176.2,1201.7H176.3L176.7,1207.5H178.5L178.9,1201.7H182.4L182.8,1207.5H182.9L183.3,1201.7H189.5L189.9,1196.0H190.1L190.5,1201.7H191.7L192.1,1207.5H192.3L192.7,1201.7H196.7L197.1,1196.0H197.8L198.2,1201.7H198.3L198.7,1196.0H199.4L199.8,1201.7H200.0L200.4,1196.0H203.8L204.2,1201.7H204.9L205.3,1196.0H210.4L210.8,1190.2H211.0L211.4,1196.0H216.5L216.9,1190.2H217.0L217.4,1196.0H217.6L218.0,1190.2H218.1L218.5,1196.0H219.2L219.6,1190.2H219.8L220.2,1196.0H221.4L221.8,1190.2H222.0L222.4,1196.0H222.5L222.9,1190.2H223.1L223.5,1196.0H225.3L225.7,1190.2H226.9L227.3,1196.0H228.6L229.0,1190.2H230.2L230.6,1196.0H230.8L231.2,1190.2H235.7L236.1,1184.4H236.3L236.7,1190.2H237.4L237.8,1196.0H237.9L238.3,1190.2H242.3L242.7,1196.0H242.9L243.3,1190.2H255.0L255.4,1184.4H256.1L256.5,1190.2H257.7L258.1,1184.4H258.3L258.7,1190.2H258.8L259.2,1184.4H259.4L259.8,1190.2H262.1L262.5,1184.4H262.7L263.1,1190.2H263.2L263.6,1184.4H263.8L264.2,1190.2H267.1L267.5,1196.0H267.6L268.0,1184.4H268.7L269.1,1190.2H269.3L269.7,1184.4H269.8L270.2,1190.2H270.4L270.8,1184.4H272.0L272.4,1190.2H273.1L273.5,1184.4H282.5L282.9,1190.2H283.0L283.4,1184.4H292.4L292.8,1190.2H292.9L293.3,1184.4H296.2L296.6,1178.6H296.8L297.2,1184.4H297.3L297.7,1178.6H299.0L299.4,1184.4H300.1L300.5,1178.6H300.6L301.0,1184.4H301.2L301.6,1178.6H301.7L302.1,1184.4H302.3L302.7,1178.6H302.8L303.2,1184.4H303.4L303.8,1178.6H304.5L304.9,1184.4H305.0L305.4,1178.6H306.1L306.5,1184.4H306.7L307.1,1178.6H308.3L308.7,1184.4H308.9L309.3,1178.6H309.4L309.8,1184.4H310.5L310.9,1178.6H311.1L311.5,1184.4H311.6L312.0,1178.6H318.8L319.2,1184.4H319.3L319.7,1178.6H328.7L329.1,1172.8H329.2L329.6,1178.6H331.4L331.8,1172.8H332.0L332.4,1178.6H336.9L337.3,1172.8H338.0L338.4,1178.6H343.0L343.4,1172.8H343.5L343.9,1178.6H345.2L345.6,1172.8H345.7L346.1,1178.6H346.8L347.2,1172.8H347.9L348.3,1178.6H350.1L350.5,1172.8H350.7L351.1,1178.6H351.8L352.2,1172.8H353.4L353.8,1178.6H355.6L356.0,1172.8H356.2L356.6,1178.6H356.7L357.1,1172.8H357.8L358.2,1178.6H358.4L358.8,1172.8H358.9L359.3,1178.6H360.0L360.4,1172.8H360.6L361.0,1178.6H361.1L361.5,1172.8H361.7L362.1,1178.6H363.3L363.7,1172.8H364.4L364.8,1178.6H365.0L365.4,1172.8H365.5L365.9,1178.6H366.1L366.5,1172.8H367.2L367.6,1178.6H367.7L368.1,1172.8H368.3L368.7,1178.6H368.8L369.2,1172.8H369.9L370.3,1178.6H371.6L372.0,1172.8H373.2L373.6,1178.6H375.4L375.8,1172.8H376.5L376.9,1178.6H377.6L378.0,1172.8H378.2L378.6,1178.6H378.7L379.1,1172.8H379.3L379.7,1178.6H379.8L380.2,1172.8H383.1L383.5,1178.6H383.7L384.1,1172.8H384.2L384.6,1178.6H384.8L385.2,1172.8H386.4L386.8,1178.6H387.0L387.4,1172.8H388.6L389.0,1178.6H389.2L389.6,1172.8H391.4L391.8,1178.6H391.9L392.3,1172.8H392.5L392.9,1178.6H393.6L394.0,1172.8H394.1L394.5,1178.6H395.2L395.6,1172.8H396.9L397.3,1178.6H398.0L398.4,1172.8H399.6L400.0,1178.6H400.2L400.6,1172.8H400.7L401.1,1178.6H401.3L401.7,1172.8H405.7L406.1,1178.6H406.2L406.6,1172.8H406.8L407.2,1178.6H407.3L407.7,1172.8H411.7L412.1,1178.6H412.8L413.2,1172.8H420.5L420.9,1178.6H421.1L421.5,1172.8H421.6L422.0,1178.6H423.3L423.7,1172.8H424.4L424.8,1178.6H425.5L425.9,1172.8H426.6L427.0,1178.6H427.1L427.5,1172.8H436.5L436.9,1178.6H437.0L437.4,1172.8H443.1L443.5,1178.6H443.6L444.0,1172.8H446.4L446.8,1167.1H447.5L447.9,1172.8H453.0L453.4,1167.1H453.5L453.9,1172.8H454.1L454.5,1178.6H454.6L455.0,1172.8H457.9L458.3,1178.6H458.5L458.9,1172.8H464.0L464.4,1178.6H464.5L464.9,1172.8H465.6L466.0,1178.6H466.2L466.6,1172.8H466.7L467.1,1167.1H467.3L467.7,1172.8H473.3L473.7,1167.1H473.9L474.3,1172.8H483.2L483.6,1178.6H483.8L484.2,1172.8H487.1L487.5,1167.1H488.2L488.6,1172.8H496.4L496.8,1167.1H497.0L497.4,1172.8H497.5L497.9,1167.1H498.1L498.5,1172.8H498.6L499.0,1167.1H499.2L499.6,1172.8H501.4L501.8,1167.1H501.9L502.3,1178.6H503.0L503.4,1172.8H514.0L514.4,1167.1H514.6L515.0,1172.8H516.8L517.2,1167.1H517.9L518.3,1172.8H519.5L519.9,1167.1H520.1L520.5,1172.8H520.6L521.0,1167.1H521.7L522.1,1172.8H522.3L522.7,1167.1H523.4L523.8,1172.8H525.6L526.0,1167.1H526.1L526.5,1172.8H527.2L527.6,1167.1H528.3L528.7,1172.8H528.9L529.3,1167.1H529.4L529.8,1172.8H530.0L530.4,1167.1H530.5L530.9,1172.8H532.2L532.6,1167.1H533.8L534.2,1172.8H534.9L535.3,1167.1H537.1L537.5,1172.8H538.2L538.6,1167.1H538.8L539.2,1172.8H539.3L539.7,1167.1H540.4L540.8,1172.8H541.5L541.9,1167.1H542.6L543.0,1172.8H543.7L544.1,1167.1H544.3L544.7,1172.8H544.8L545.2,1167.1H547.0L547.4,1172.8H547.6L548.0,1167.1H549.2L549.6,1172.8H549.8L550.2,1167.1H550.9L551.3,1172.8H552.0L552.4,1167.1H552.5L552.9,1172.8H553.6L554.0,1167.1H555.3L555.7,1172.8H555.8L556.2,1167.1H556.9L557.3,1172.8H557.5L557.9,1167.1H558.0L558.4,1172.8H559.1L559.5,1167.1H559.7L560.1,1172.8H560.2L560.6,1167.1H560.8L561.2,1172.8H561.9L562.3,1167.1H563.0L563.4,1172.8H565.2L565.6,1167.1H565.7L566.1,1172.8H566.3L566.7,1167.1H569.6L570.0,1172.8H570.7L571.1,1167.1H572.3L572.7,1172.8H572.9L573.3,1167.1H574.5L574.9,1172.8H575.1L575.5,1167.1H583.3L583.7,1161.3H583.9L584.3,1167.1H589.9L590.3,1172.8H590.5L590.9,1167.1H594.3L594.7,1172.8H594.9L595.3,1167.1H597.1L597.5,1172.8H597.6L598.0,1167.1H605.3L605.7,1161.3H605.8L606.2,1167.1H610.2L610.6,1161.3H610.8L611.2,1167.1H613.0L613.4,1161.3H613.5L613.9,1167.1H616.3L616.7,1161.3H616.8L617.2,1167.1H622.9L623.3,1161.3H623.4L623.8,1167.1H628.9L629.3,1161.3H629.5L629.9,1167.1H635.5L635.9,1161.3H636.6L637.0,1167.1H637.7L638.1,1161.3H638.3L638.7,1167.1H639.4L639.8,1161.3H639.9L640.3,1167.1H641.6L642.0,1161.3H642.1L642.5,1167.1H644.3L644.7,1161.3H644.9L645.3,1167.1H648.2L648.6,1161.3H648.7L649.1,1167.1H655.3L655.7,1161.3H655.9L656.3,1167.1H661.4L661.8,1161.3H661.9L662.3,1167.1H663.0L663.4,1161.3H664.7L665.1,1167.1H667.4L667.8,1161.3H668.0L668.4,1167.1H668.5L668.9,1161.3H670.2L670.6,1167.1H678.4L678.8,1161.3H679.0L679.4,1167.1H680.6L681.0,1161.3H681.2L681.6,1167.1H682.3L682.7,1161.3H682.8L683.2,1167.1H686.7L687.1,1161.3H687.8L688.2,1167.1H689.4L689.8,1161.3H690.0L690.4,1167.1H690.5L690.9,1161.3H691.1L691.5,1167.1H692.7L693.1,1161.3H693.3L693.7,1167.1H693.8L694.2,1161.3H695.5L695.9,1167.1H696.0L696.4,1161.3H696.6L697.0,1167.1H697.1L697.5,1161.3H697.7L698.1,1167.1H699.9L700.3,1161.3H701.0L701.4,1167.1H705.9L706.3,1161.3H706.5L706.9,1167.1H710.9L711.3,1161.3H711.4L711.8,1167.1H712.5L712.9,1161.3H713.6L714.0,1167.1H714.2L714.6,1161.3H715.3L715.7,1167.1H716.9L717.3,1161.3H717.5L717.9,1167.1H719.1L719.5,1161.3H720.2L720.6,1167.1H720.8L721.2,1161.3H721.3L721.7,1167.1H725.2L725.6,1161.3H725.7L726.1,1167.1H726.8L727.2,1161.3H727.4L727.8,1167.1H729.0L729.4,1161.3H729.6L730.0,1167.1H730.1L730.5,1161.3H731.2L731.6,1167.1H732.3L732.7,1161.3H733.4L733.8,1167.1H734.0L734.4,1161.3H734.5L734.9,1167.1H735.1L735.5,1161.3H735.6L736.0,1167.1H738.4L738.8,1161.3H738.9L739.3,1167.1H740.0L740.4,1161.3H742.2L742.6,1167.1H743.9L744.3,1161.3H744.4L744.8,1167.1H745.0L745.4,1161.3H745.5L745.9,1167.1H746.1L746.5,1161.3H746.6L747.0,1167.1H747.7L748.1,1161.3H748.3L748.7,1167.1H748.8L749.2,1161.3H749.4L749.8,1167.1H750.5L750.9,1161.3H751.0L751.4,1167.1H751.6L752.0,1161.3H752.7L753.1,1167.1H753.2L753.6,1161.3H754.3L754.7,1167.1H755.4L755.8,1172.8H756.0L756.4,1161.3H757.1L757.5,1167.1H758.2L758.6,1161.3H761.5L761.9,1167.1H762.6L763.0,1161.3H763.1L763.5,1167.1H763.7L764.1,1161.3H765.3L765.7,1167.1H765.9L766.3,1161.3H768.1L768.5,1167.1H770.3L770.7,1161.3H770.8L771.2,1167.1H773.6L774.0,1161.3H775.2L775.6,1167.1H775.8L776.2,1161.3H776.3L776.7,1167.1H778.5L778.9,1161.3H780.2L780.6,1167.1H782.4L782.8,1161.3H784.6L785.0,1167.1H785.1L785.5,1161.3H786.8L787.2,1167.1H787.3L787.7,1161.3H788.4L788.8,1167.1H789.5L789.9,1161.3H790.1L790.5,1167.1H793.4L793.8,1161.3H794.5L794.9,1167.1H795.6L796.0,1161.3H796.1L796.5,1167.1H796.7L797.1,1161.3H797.2L797.6,1167.1H797.8L798.2,1161.3H798.3L798.7,1167.1H800.0L800.4,1161.3H801.1L801.5,1167.1H803.3L803.7,1161.3H803.8L804.2,1167.1H804.9L805.3,1161.3H805.5L805.9,1167.1H806.6L807.0,1161.3H807.1L807.5,1167.1H807.7L808.1,1161.3H814.8L815.2,1167.1H815.9L816.3,1161.3H817.0L817.4,1167.1H817.6L818.0,1161.3H818.7L819.1,1167.1H819.8L820.2,1161.3H825.3L825.7,1167.1H826.4L826.8,1161.3H826.9L827.3,1167.1H828.0L828.4,1161.3H834.6L835.0,1167.1H835.2L835.6,1155.5H835.7L836.1,1161.3H839.6L840.0,1155.5H840.1L840.5,1161.3H840.7L841.1,1155.5H841.2L841.6,1161.3H851.7L852.1,1155.5H852.2L852.6,1161.3H856.6L857.0,1155.5H857.2L857.6,1161.3H866.5L866.9,1155.5H867.1L867.5,1161.3H868.7L869.1,1155.5H869.3L869.7,1161.3H870.4L870.8,1155.5H870.9L871.3,1161.3H873.1L873.5,1155.5H873.7L874.1,1161.3H875.9L876.3,1155.5H877.0L877.4,1161.3H879.7L880.1,1155.5H880.8L881.2,1161.3H883.6L884.0,1155.5H884.1L884.5,1161.3H885.2L885.6,1155.5H886.3L886.7,1161.3H886.9L887.3,1155.5H888.0L888.4,1161.3H888.5L888.9,1155.5H889.1L889.5,1161.3H890.7L891.1,1155.5H891.3L891.7,1161.3H894.6L895.0,1155.5H895.1L895.5,1161.3H896.8L897.2,1155.5H897.3L897.7,1161.3H897.9L898.3,1155.5H898.4L898.8,1161.3H899.0L899.4,1155.5H900.1L900.5,1161.3H902.8L903.2,1155.5H903.4L903.8,1161.3H905.6L906.0,1155.5H906.7L907.1,1161.3H907.8L908.2,1155.5H909.4L909.8,1161.3H910.5L910.9,1155.5H911.6L912.0,1161.3H912.7L913.1,1155.5H913.3L913.7,1161.3H913.8L914.2,1155.5H914.4L914.8,1161.3H914.9L915.3,1155.5H915.5L915.9,1161.3H917.7L918.1,1155.5H918.8L919.2,1161.3H922.1L922.5,1155.5H922.6L923.0,1161.3H923.2L923.6,1155.5H923.7L924.1,1161.3H924.3L924.7,1155.5H925.9L926.3,1161.3H928.1L928.5,1155.5H929.2L929.6,1161.3H929.8L930.2,1155.5H930.9L931.3,1161.3H932.5L932.9,1155.5H933.6L934.0,1161.3H936.4L936.8,1155.5H936.9L937.3,1161.3H938.0L938.4,1155.5H939.7L940.1,1161.3H940.2L940.6,1155.5H941.9L942.3,1161.3H942.4L942.8,1155.5H944.1L944.5,1161.3H945.7L946.1,1155.5H947.4L947.8,1161.3H947.9L948.3,1155.5H948.5L948.9,1161.3H951.8L952.2,1155.5H952.9L953.3,1161.3H953.4L953.8,1155.5H954.5L954.9,1161.3H955.1L955.5,1155.5H959.5L959.9,1161.3H960.6L961.0,1155.5H961.1L961.5,1161.3H962.2L962.6,1155.5H962.8L963.2,1161.3H963.9L964.3,1155.5H964.4L964.8,1161.3H965.0L965.4,1155.5H966.1L966.5,1161.3H966.6L967.0,1155.5H967.2L967.6,1161.3H967.7L968.1,1155.5H968.8L969.2,1161.3H969.9L970.3,1155.5H970.5L970.9,1161.3H971.6L972.0,1155.5H972.1L972.5,1161.3H973.2L973.6,1155.5H973.8L974.2,1161.3H974.3L974.7,1155.5H976.0L976.4,1161.3H976.5L976.9,1155.5H977.1L977.5,1161.3H977.6L978.0,1155.5H978.2L978.6,1161.3H978.7L979.1,1155.5H980.4L980.8,1161.3H980.9L981.3,1155.5H981.5L981.9,1161.3H982.6L983.0,1155.5H983.1L983.5,1161.3H983.7L984.1,1155.5H986.4L986.8,1161.3H987.0L987.4,1155.5H987.5L987.9,1161.3H988.1L988.5,1155.5H991.9L992.3,1161.3H992.5L992.9,1155.5H993.0L993.4,1161.3H993.6L994.0,1155.5H996.3L996.7,1161.3H997.4L997.8,1155.5H1001.8L1002.2,1161.3H1002.4L1002.8,1155.5H1007.3L1007.7,1149.7H1007.9L1008.3,1155.5H1012.3L1012.7,1149.7H1012.8L1013.2,1155.5H1017.8L1018.2,1149.7H1018.3L1018.7,1155.5H1025.5L1025.9,1149.7H1026.0L1026.4,1155.5H1026.6L1027.0,1149.7H1027.1L1027.5,1155.5H1033.2L1033.6,1149.7H1033.7L1034.1,1155.5H1035.9L1036.3,1149.7H1036.5L1036.9,1155.5H1042.0L1042.4,1149.7H1042.5L1042.9,1155.5H1045.8L1046.2,1149.7H1046.4L1046.8,1155.5H1050.2L1050.6,1149.7H1050.8L1051.2,1155.5H1051.3L1051.7,1149.7H1052.4L1052.8,1155.5H1053.5L1053.9,1149.7H1054.1L1054.5,1155.5H1055.2L1055.6,1149.7H1056.3L1056.7,1155.5H1056.8L1057.2,1149.7H1057.4L1057.8,1155.5H1059.0L1059.4,1149.7H1060.1L1060.5,1155.5H1062.3L1062.7,1149.7H1063.4L1063.8,1155.5H1067.8L1068.2,1149.7H1068.4L1068.8,1155.5H1069.5L1069.9,1149.7H1070.0L1070.4,1155.5H1070.6L1071.0,1149.7H1071.1L1071.5,1155.5H1072.8L1073.2,1149.7H1073.9L1074.3,1155.5H1074.4L1074.8,1149.7H1075.0L1075.4,1155.5H1076.1L1076.5,1149.7H1078.3L1078.7,1155.5H1078.8L1079.2,1149.7H1079.4L1079.8,1155.5H1079.9L1080.3,1149.7H1080.5L1080.9,1155.5H1081.0L1081.4,1149.7H1082.7L1083.1,1155.5H1083.8L1084.2,1149.7H1087.1L1087.5,1155.5H1087.6L1088.0,1149.7H1088.7L1089.1,1155.5H1089.3L1089.7,1149.7H1090.4L1090.8,1155.5H1090.9L1091.3,1149.7H1091.5L1091.9,1155.5H1092.0L1092.4,1149.7H1092.6L1093.0,1155.5H1093.1L1093.5,1149.7H1095.3L1095.7,1155.5H1095.9L1096.3,1149.7H1097.5L1097.9,1155.5H1098.1L1098.5,1149.7H1101.9L1102.3,1155.5H1103.0L1103.4,1149.7H1104.1L1104.5,1155.5H1104.7L1105.1,1149.7H1105.8L1106.2,1155.5H1106.3L1106.7,1149.7H1106.9L1107.3,1155.5H1108.5L1108.9,1149.7H1112.4L1112.8,1155.5H1112.9L1113.3,1143.9H1113.5L1113.9,1149.7H1114.6L1115.0,1155.5H1115.1L1115.5,1149.7H1119.5L1119.9,1155.5H1120.1L1120.5,1149.7H1125.6L1126.0,1155.5H1126.1L1126.5,1149.7H1129.4L1129.8,1155.5H1130.0L1130.4,1149.7H1131.1L1131.5,1155.5H1132.2L1132.6,1149.7H1135.5L1135.9,1155.5H1136.0L1136.4,1149.7H1137.1L1137.5,1155.5H1137.7L1138.1,1149.7H1141.5L1141.9,1155.5H1142.1L1142.5,1149.7H1143.7L1144.1,1155.5H1144.3L1144.7,1149.7H1145.4L1145.8,1143.9H1145.9L1146.3,1155.5H1146.5L1146.9,1149.7H1150.9L1151.3,1155.5H1151.4L1151.8,1149.7H1154.5" stroke="#00ff00" stroke-width="1.3"/>
<path d="M165.5,1121.7H167.5L167.9,1116.2H168.1L168.5,1121.7H169.2L169.6,1116.2H170.3L170.7,1121.7H170.8L171.2,1116.2H177.4L177.8,1121.7H178.0L178.4,1116.2H180.2L180.6,1121.7H180.7L181.1,1116.2H181.3L181.7,1121.7H181.8L182.2,1116.2H184.0L184.4,1121.7H184.6L185.0,1116.2H186.8L187.2,1121.7H187.3L187.7,1116.2H192.8L193.2,1121.7H193.4L193.8,1110.7H193.9L194.3,1116.2H205.5L205.9,1121.7H206.0L206.4,1116.2H206.6L207.0,1110.7H207.1L207.5,1116.2H215.9L216.3,1110.7H216.5L216.9,1116.2H224.7L225.1,1110.7H225.8L226.2,1116.2H228.0L228.4,1110.7H229.1L229.5,1116.2H229.7L230.1,1110.7H231.3L231.7,1116.2H231.9L232.3,1110.7H232.4L232.8,1116.2H233.0L233.4,1110.7H234.6L235.0,1116.2H237.4L237.8,1110.7H238.5L238.9,1116.2H239.0L239.4,1110.7H240.7L241.1,1116.2H241.2L241.6,1110.7H241.8L242.2,1116.2H246.2L246.6,1110.7H246.7L247.1,1116.2H248.9L249.3,1110.7H249.5L249.9,1116.2H250.0L250.4,1110.7H252.8L253.2,1116.2H253.3L253.7,1110.7H253.9L254.3,1116.2H255.0L255.4,1110.7H255.5L255.9,1116.2H256.1L256.5,1110.7H258.3L258.7,1116.2H258.8L259.2,1110.7H259.4L259.8,1116.2H259.9L260.3,1110.7H260.5L260.9,1116.2H261.0L261.4,1110.7H264.3L264.7,1116.2H265.4L265.8,1110.7H267.6L268.0,1116.2H268.2L268.6,1110.7H269.3L269.7,1116.2H269.8L270.2,1110.7H272.0L272.4,1116.2H273.7L274.1,1110.7H275.3L275.7,1116.2H275.9L276.3,1110.7H277.5L277.9,1116.2H278.1L278.5,1110.7H279.2L279.6,1116.2H279.7L280.1,1110.7H280.3L280.7,1116.2H280.8L281.2,1110.7H282.5L282.9,1116.2H283.0L283.4,1110.7H289.1L289.5,1116.2H289.6L290.0,1110.7H291.3L291.7,1116.2H291.8L292.2,1110.7H292.9L293.3,1116.2H293.5L293.9,1110.7H294.6L295.0,1116.2H295.1L295.5,1110.7H297.3L297.7,1116.2H298.4L298.8,1110.7H315.5L315.9,1105.2H316.0L316.4,1110.7H317.7L318.1,1105.2H318.2L318.6,1110.7H320.4L320.8,1105.2H321.0L321.4,1110.7H322.1L322.5,1105.2H322.6L323.0,1110.7H323.2L323.6,1105.2H323.7L324.1,1110.7H325.4L325.8,1105.2H325.9L326.3,1110.7H326.5L326.9,1105.2H328.7L329.1,1110.7H329.2L329.6,1105.2H329.8L330.2,1110.7H330.3L330.7,1105.2H330.9L331.3,1110.7H334.7L335.1,1105.2H335.3L335.7,1110.7H335.8L336.2,1105.2H336.4L336.8,1110.7H339.1L339.5,1105.2H339.7L340.1,1110.7H345.2L345.6,1105.2H347.4L347.8,1110.7H348.5L348.9,1105.2H349.0L349.4,1110.7H350.1L350.5,1105.2H351.8L352.2,1110.7H352.3L352.7,1105.2H353.4L353.8,1110.7H354.0L354.4,1105.2H354.5L354.9,1110.7H355.1L355.5,1105.2H355.6L356.0,1110.7H356.2L356.6,1105.2H356.7L357.1,1110.7H357.3L357.7,1105.2H360.6L361.0,1110.7H362.8L363.2,1105.2H363.9L364.3,1110.7H364.4L364.8,1105.2H366.1L366.5,1110.7H366.6L367.0,1105.2H370.5L370.9,1110.7H371.6L372.0,1105.2H372.7L373.1,1110.7H373.2L373.6,1105.2H377.6L378.0,1110.7H378.2L378.6,1105.2H386.4L386.8,1099.7H387.0L387.4,1105.2H388.1L388.5,1110.7H388.6L389.0,1105.2H405.7L406.1,1099.7H406.2L406.6,1105.2H411.7L412.1,1110.7H412.3L412.7,1105.2H416.1L416.5,1099.7H417.2L417.6,1105.2H418.3L418.7,1099.7H419.4L419.8,1105.2H421.1L421.5,1099.7H421.6L422.0,1105.2H423.8L424.2,1099.7H424.4L424.8,1105.2H425.5L425.9,1099.7H426.0L426.4,1105.2H429.3L429.7,1099.7H430.4L430.8,1105.2H431.0L431.4,1099.7H431.5L431.9,1105.2H434.3L434.7,1099.7H435.4L435.8,1105.2H438.1L438.5,1099.7H438.7L439.1,1105.2H439.2L439.6,1099.7H439.8L440.2,1105.2H440.3L440.7,1099.7H440.9L441.3,1105.2H443.6L444.0,1099.7H444.2L444.6,1105.2H445.3L445.7,1099.7H445.8L446.2,1105.2H448.0L448.4,1099.7H449.1L449.5,1105.2H449.7L450.1,1099.7H450.2L450.6,1105.2H451.9L452.3,1099.7H453.0L453.4,1105.2H454.6L455.0,1099.7H455.7L456.1,1105.2H456.3L456.7,1099.7H457.4L457.8,1105.2H457.9L458.3,1099.7H459.0L459.4,1105.2H459.6L460.0,1099.7H462.3L462.7,1105.2H462.9L463.3,1099.7H463.4L463.8,1105.2H464.5L464.9,1099.7H467.8L468.2,1105.2H469.5L469.9,1099.7H471.1L471.5,1105.2H471.7L472.1,1099.7H475.0L475.4,1105.2H476.1L476.5,1099.7H478.3L478.7,1105.2H480.5L480.9,1099.7H481.0L481.4,1105.2H482.1L482.5,1099.7H482.7L483.1,1105.2H483.8L484.2,1099.7H484.9L485.3,1105.2H486.0L486.4,1099.7H489.8L490.2,1105.2H490.4L490.8,1099.7H493.1L493.5,1105.2H493.7L494.1,1099.7H494.2L494.6,1105.2H495.3L495.7,1099.7H509.6L510.0,1094.2H510.2L510.6,1099.7H511.3L511.7,1094.2H511.8L512.2,1099.7H521.7L522.1,1105.2H522.3L522.7,1094.2H522.8L523.2,1099.7H526.1L526.5,1105.2H526.7L527.1,1099.7H527.2L527.6,1094.2H527.8L528.2,1099.7H528.9L529.3,1094.2H529.4L529.8,1099.7H533.8L534.2,1094.2H534.4L534.8,1099.7H535.5L535.9,1105.2H536.0L536.4,1099.7H539.3L539.7,1094.2H540.4L540.8,1099.7H541.0L541.4,1105.2H542.1L542.5,1094.2H542.6L543.0,1099.7H544.3L544.7,1094.2H544.8L545.2,1099.7H545.9L546.3,1094.2H546.5L546.9,1099.7H549.2L549.6,1094.2H549.8L550.2,1099.7H550.9L551.3,1094.2H552.0L552.4,1099.7H553.6L554.0,1094.2H554.2L554.6,1099.7H555.8L556.2,1094.2H556.9L557.3,1099.7H559.1L559.5,1094.2H559.7L560.1,1099.7H560.8L561.2,1094.2H561.9L562.3,1099.7H562.4L562.8,1094.2H564.1L564.5,1099.7H564.6L565.0,1094.2H565.2L565.6,1099.7H565.7L566.1,1094.2H566.3L566.7,1099.7H567.4L567.8,1094.2H568.5L568.9,1099.7H569.0L569.4,1094.2H569.6L570.0,1099.7H570.7L571.1,1094.2H572.3L572.7,1099.7H572.9L573.3,1094.2H576.7L577.1,1099.7H577.3L577.7,1094.2H577.8L578.2,1088.7H578.4L578.8,1094.2H579.5L579.9,1099.7H580.0L580.4,1094.2H581.1L581.5,1099.7H581.7L582.1,1094.2H586.1L586.5,1099.7H586.6L587.0,1094.2H590.5L590.9,1099.7H591.0L591.4,1094.2H595.4L595.8,1099.7H596.0L596.4,1094.2H597.1L597.5,1088.7H597.6L598.0,1094.2H599.2L599.6,1099.7H599.8L600.2,1094.2H600.9L601.3,1099.7H601.4L601.8,1094.2H611.3L611.7,1088.7H611.9L612.3,1094.2H613.5L613.9,1088.7H614.1L614.5,1094.2H617.4L617.8,1088.7H617.9L618.3,1094.2H621.2L621.6,1088.7H621.8L622.2,1094.2H624.0L624.4,1088.7H624.5L624.9,1094.2H628.9L629.3,1099.7H629.5L629.9,1094.2H631.7L632.1,1088.7H632.2L632.6,1094.2H632.8L633.2,1088.7H633.3L633.7,1099.7H633.9L634.3,1094.2H635.0L635.4,1088.7H635.5L635.9,1094.2H644.9L645.3,1088.7H646.0L646.4,1094.2H647.1L647.5,1088.7H648.2L648.6,1094.2H649.3L649.7,1099.7H649.8L650.2,1094.2H650.4L650.8,1088.7H650.9L651.3,1094.2H653.7L654.1,1088.7H654.2L654.6,1094.2H654.8L655.2,1088.7H655.3L655.7,1094.2H655.9L656.3,1088.7H656.4L656.8,1094.2H659.7L660.1,1088.7H660.8L661.2,1094.2H663.6L664.0,1088.7H664.1L664.5,1094.2H666.3L666.7,1088.7H666.9L667.3,1094.2H668.5L668.9,1088.7H669.1L669.5,1094.2H670.7L671.1,1088.7H671.3L671.7,1094.2H673.5L673.9,1088.7H674.0L674.4,1094.2H674.6L675.0,1088.7H675.7L676.1,1094.2H676.8L677.2,1088.7H677.9L678.3,1094.2H679.5L679.9,1088.7H683.4L683.8,1094.2H683.9L684.3,1088.7H686.1L686.5,1094.2H687.2L687.6,1088.7H688.3L688.7,1094.2H688.9L689.3,1088.7H690.5L690.9,1094.2H691.1L691.5,1088.7H692.7L693.1,1094.2H694.4L694.8,1088.7H694.9L695.3,1094.2H695.5L695.9,1088.7H697.7L698.1,1094.2H704.3L704.7,1088.7H705.4L705.8,1094.2H705.9L706.3,1088.7H707.0L707.4,1094.2H708.1L708.5,1088.7H709.8L710.2,1094.2H710.9L711.3,1088.7H714.2L714.6,1083.2H714.7L715.1,1088.7H715.8L716.2,1094.2H716.4L716.8,1088.7H718.6L719.0,1094.2H719.1L719.5,1088.7H723.5L723.9,1094.2H724.6L725.0,1088.7H727.4L727.8,1094.2H727.9L728.3,1088.7H729.6L730.0,1094.2H730.1L730.5,1088.7H734.5L734.9,1094.2H735.1L735.5,1088.7H745.0L745.4,1083.2H746.1L746.5,1088.7H747.2L747.6,1083.2H747.7L748.1,1088.7H749.9L750.3,1083.2H751.0L751.4,1088.7H751.6L752.0,1083.2H752.7L753.1,1088.7H754.3L754.7,1083.2H754.9L755.3,1088.7H755.4L755.8,1083.2H756.5L756.9,1088.7H757.1L757.5,1083.2H758.2L758.6,1088.7H759.8L760.2,1083.2H760.4L760.8,1088.7H761.5L761.9,1083.2H762.6L763.0,1088.7H765.9L766.3,1083.2H766.4L766.8,1088.7H767.5L767.9,1083.2H768.1L768.5,1088.7H770.3L770.7,1083.2H770.8L771.2,1088.7H773.0L773.4,1083.2H774.1L774.5,1088.7H775.8L776.2,1083.2H776.3L776.7,1088.7H776.9L777.3,1083.2H778.5L778.9,1088.7H779.1L779.5,1083.2H780.2L780.6,1088.7H780.7L781.1,1083.2H783.5L783.9,1088.7H785.1L785.5,1083.2H786.2L786.6,1088.7H786.8L787.2,1083.2H787.9L788.3,1088.7H788.4L788.8,1083.2H791.7L792.1,1088.7H792.3L792.7,1083.2H792.8L793.2,1088.7H793.4L793.8,1083.2H798.9L799.3,1088.7H801.1L801.5,1083.2H801.6L802.0,1088.7H802.2L802.6,1083.2H805.5L805.9,1088.7H806.6L807.0,1083.2H808.8L809.2,1088.7H809.3L809.7,1083.2H810.4L810.8,1088.7H811.0L811.4,1083.2H811.5L811.9,1088.7H812.1L812.5,1083.2H813.2L813.6,1088.7H813.7L814.1,1083.2H815.4L815.8,1088.7H815.9L816.3,1083.2H817.0L817.4,1088.7H817.6L818.0,1083.2H818.7L819.1,1088.7H819.2L819.6,1083.2H820.3L820.7,1088.7H820.9L821.3,1083.2H824.7L825.1,1088.7H825.3L825.7,1083.2H826.4L826.8,1088.7H826.9L827.3,1083.2H827.5L827.9,1088.7H828.6L829.0,1083.2H831.9L832.3,1088.7H832.4L832.8,1083.2H834.6L835.0,1088.7H835.2L835.6,1083.2H835.7L836.1,1088.7H836.8L837.2,1083.2H839.6L840.0,1088.7H840.1L840.5,1083.2H844.0L844.4,1088.7H844.5L844.9,1083.2H845.1L845.5,1088.7H845.6L846.0,1083.2H846.2L846.6,1088.7H846.7L847.1,1083.2H847.8L848.2,1088.7H848.4L848.8,1083.2H848.9L849.3,1077.7H849.5L849.9,1083.2H851.7L852.1,1088.7H852.2L852.6,1083.2H852.8L853.2,1088.7H853.3L853.7,1083.2H855.0L855.4,1088.7H856.1L856.5,1083.2H862.7L863.1,1088.7H863.2L863.6,1083.2H865.4L865.8,1088.7H866.0L866.4,1083.2H867.1L867.5,1077.7H867.6L868.0,1083.2H868.7L869.1,1088.7H869.3L869.7,1083.2H870.4L870.8,1088.7H870.9L871.3,1083.2H886.9L887.3,1077.7H887.4L887.8,1083.2H888.0L888.4,1088.7H888.5L888.9,1083.2H896.2L896.6,1088.7H896.8L897.2,1083.2H907.2L907.6,1088.7H907.8L908.2,1083.2H908.3L908.7,1088.7H908.9L909.3,1083.2H909.4L909.8,1077.7H911.1L911.5,1083.2H916.6L917.0,1077.7H917.1L917.5,1083.2H918.8L919.2,1088.7H919.3L919.7,1083.2H933.1L933.5,1088.7H933.6L934.0,1083.2H939.7L940.1,1077.7H940.2L940.6,1083.2H942.4L942.8,1088.7H943.0L943.4,1083.2H945.2L945.6,1088.7H945.7L946.1,1083.2H950.1L950.5,1077.7H950.7L951.1,1083.2H952.3L952.7,1077.7H953.4L953.8,1083.2H966.1L966.5,1077.7H966.6L967.0,1083.2H971.0L971.4,1077.7H971.6L972.0,1083.2H972.1L972.5,1077.7H972.7L973.1,1083.2H973.2L973.6,1077.7H973.8L974.2,1083.2H974.3L974.7,1077.7H974.9L975.3,1083.2H976.5L976.9,1077.7H977.1L977.5,1083.2H978.2L978.6,1077.7H978.7L979.1,1083.2H984.2L984.6,1077.7H984.8L985.2,1083.2H985.9L986.3,1077.7H986.4L986.8,1083.2H987.0L987.4,1077.7H988.6L989.0,1083.2H989.7L990.1,1077.7H991.4L991.8,1083.2H991.9L992.3,1077.7H993.0L993.4,1083.2H993.6L994.0,1077.7H994.1L994.5,1083.2H997.4L997.8,1077.7H998.0L998.4,1083.2H998.5L998.9,1077.7H999.1L999.5,1083.2H999.6L1000.0,1077.7H1001.3L1001.7,1083.2H1001.8L1002.2,1077.7H1002.9L1003.3,1083.2H1003.5L1003.9,1077.7H1004.0L1004.4,1083.2H1007.3L1007.7,1077.7H1007.9L1008.3,1083.2H1009.0L1009.4,1077.7H1009.5L1009.9,1083.2H1010.6L1011.0,1077.7H1012.3L1012.7,1083.2H1013.4L1013.8,1077.7H1015.6L1016.0,1083.2H1017.2L1017.6,1077.7H1021.1L1021.5,1083.2H1021.6L1022.0,1077.7H1024.9L1025.3,1083.2H1026.0L1026.4,1077.7H1026.6L1027.0,1083.2H1027.7L1028.1,1077.7H1033.7L1034.1,1083.2H1034.3L1034.7,1077.7H1037.0L1037.4,1083.2H1037.6L1038.0,1077.7H1038.7L1039.1,1083.2H1039.2L1039.6,1077.7H1044.2L1044.6,1083.2H1044.7L1045.1,1077.7H1046.4L1046.8,1083.2H1046.9L1047.3,1077.7H1048.6L1049.0,1083.2H1049.1L1049.5,1077.7H1050.2L1050.6,1083.2H1051.9L1052.3,1077.7H1053.0L1053.4,1083.2H1053.5L1053.9,1077.7H1055.2L1055.6,1083.2H1056.3L1056.7,1077.7H1057.4L1057.8,1083.2H1058.5L1058.9,1077.7H1061.2L1061.6,1083.2H1061.8L1062.2,1077.7H1062.9L1063.3,1072.2H1063.4L1063.8,1077.7H1066.7L1067.1,1072.2H1067.3L1067.7,1077.7H1067.8L1068.2,1083.2H1068.4L1068.8,1077.7H1071.1L1071.5,1083.2H1071.7L1072.1,1077.7H1073.9L1074.3,1083.2H1074.4L1074.8,1077.7H1079.9L1080.3,1083.2H1080.5L1080.9,1077.7H1081.0L1081.4,1083.2H1081.6L1082.0,1077.7H1083.2L1083.6,1083.2H1083.8L1084.2,1077.7H1086.0L1086.4,1083.2H1086.5L1086.9,1072.2H1087.1L1087.5,1077.7H1089.8L1090.2,1083.2H1090.4L1090.8,1077.7H1094.8L1095.2,1072.2H1095.3L1095.7,1077.7H1102.5L1102.9,1072.2H1103.6L1104.0,1077.7H1109.1L1109.5,1072.2H1109.6L1110.0,1077.7H1110.7L1111.1,1072.2H1111.3L1111.7,1077.7H1112.9L1113.3,1072.2H1113.5L1113.9,1077.7H1116.8L1117.2,1072.2H1117.9L1118.3,1077.7H1120.6L1121.0,1072.2H1121.2L1121.6,1077.7H1121.7L1122.1,1072.2H1122.3L1122.7,1077.7H1123.9L1124.3,1072.2H1124.5L1124.9,1077.7H1125.0L1125.4,1072.2H1126.1L1126.5,1077.7H1127.8L1128.2,1083.2H1128.3L1128.7,1077.7H1130.5L1130.9,1072.2H1131.6L1132.0,1077.7H1132.7L1133.1,1072.2H1133.8L1134.2,1077.7H1134.4L1134.8,1072.2H1134.9L1135.3,1077.7H1136.6L1137.0,1072.2H1137.1L1137.5,1077.7H1138.8L1139.2,1072.2H1145.9L1146.3,1077.7H1147.6L1148.0,1072.2H1148.1L1148.5,1077.7H1149.2L1149.6,1072.2H1150.3L1150.7,1077.7H1150.9L1151.3,1072.2H1151.4L1151.8,1077.7H1152.0L1152.4,1072.2H1154.2L1154.6,1077.7H1154.5" stroke="#ffff00" stroke-width="1.3"/>
</g>
<path d="M165.5,1072.5H1154.5V1233.5H165.5ZM165.5,1092.5h10M1154.5,1092.5h-10M165.5,1137.2h10M1154.5,1137.2h-10M165.5,1181.8h10M1154.5,1181.8h-10M165.5,1226.5h10M1154.5,1226.5h-10M615.9,1072.5v10M615.9,1233.5v-10" stroke="#262626" stroke-width="1" fill="none"/>
<text x="157.00" y="1099.67" font-size="20.0" text-anchor="end" textLength="13.48" lengthAdjust="spacingAndGlyphs">6</text>
<text x="157.00" y="1144.33" font-size="20.0" text-anchor="end" textLength="13.48" lengthAdjust="spacingAndGlyphs">4</text>
<text x="157.00" y="1188.99" font-size="20.0" text-anchor="end" textLength="13.48" lengthAdjust="spacingAndGlyphs">2</text>
<text x="157.00" y="1233.65" font-size="20.0" text-anchor="end" textLength="13.48" lengthAdjust="spacingAndGlyphs">0</text>
<text x="105.00" y="1220.79" font-size="19.0" font-weight="bold" transform="rotate(-90 105.00 1220.79)" textLength="135.58" lengthAdjust="spacingAndGlyphs">Temperature</text>
<text x="131.00" y="1173.23" font-size="19.0" font-weight="bold" transform="rotate(-90 131.00 1173.23)" textLength="40.47" lengthAdjust="spacingAndGlyphs">(°C)</text>
<text x="1170.00" y="1177.30" font-size="14.8" font-weight="bold" fill="#000" transform="rotate(-90 1170.00 1177.30)" textLength="109.28" lengthAdjust="spacingAndGlyphs">Inboard EBox</text>
<path d="M1168,1233.5V1248.5" stroke="#0000ff" stroke-width="1.6"/>
<text x="1181.90" y="1193.30" font-size="14.8" font-weight="bold" fill="#000" transform="rotate(-90 1181.90 1193.30)" textLength="125.44" lengthAdjust="spacingAndGlyphs">Inboard Sensor</text>
<path d="M1180,1233.5V1248.5" stroke="#00ffff" stroke-width="1.6"/>
<text x="1193.70" y="1193.30" font-size="14.8" font-weight="bold" fill="#000" transform="rotate(-90 1193.70 1193.30)" textLength="123.22" lengthAdjust="spacingAndGlyphs">Outboard EBox</text>
<path d="M1192,1233.5V1248.5" stroke="#00ff00" stroke-width="1.6"/>
<text x="1205.40" y="1213.30" font-size="14.8" font-weight="bold" fill="#000" transform="rotate(-90 1205.40 1213.30)" textLength="139.38" lengthAdjust="spacingAndGlyphs">Outboard Sensor</text>
<path d="M1203,1233.5V1248.5" stroke="#ffff00" stroke-width="1.6"/>
<path d="M165.5,1387.5H1154.5M412.8,1306.5V1469.5M660.0,1306.5V1469.5M907.2,1306.5V1469.5" stroke="#dedede" stroke-width="1" fill="none"/>
<clipPath id="cvm"><rect x="165.0" y="1306.5" width="990.0" height="163.0"/></clipPath>
<g clip-path="url(#cvm)" fill="none">
<path d="M165.8,1403V1419" stroke="#0000ff" stroke-width="1.3"/>
<path d="M166.0,1419.0H167.8L168.2,1422.6H169.2L169.8,1426.9H169.8L170.2,1422.6H173.8L174.2,1426.9H174.8L175.2,1422.6H177.2L177.8,1426.9H177.8L178.2,1422.6H183.2L183.8,1426.9H183.8L184.2,1422.6H189.2L189.8,1426.9H190.2L190.8,1422.6H195.2L195.8,1426.9H195.8L196.2,1422.6H200.8L201.2,1426.9H201.2L201.8,1422.6H201.8L202.2,1426.9H202.2L202.8,1422.6H208.2L208.8,1426.9H208.8L209.2,1422.6H211.2L211.8,1426.9H211.8L212.2,1422.6H223.8L224.2,1426.9H224.2L224.8,1422.6H227.2L227.8,1426.9H227.8L228.2,1422.6H231.2L231.8,1426.9H231.8L232.2,1422.6H236.2L236.8,1426.9H236.8L237.2,1422.6H240.8L241.2,1426.9H241.2L241.8,1422.6H244.8L245.2,1426.9H245.2L245.8,1422.6H245.8L246.2,1426.9H246.8L247.2,1422.6H247.2L247.8,1426.9H247.8L248.2,1422.6H248.8L249.2,1426.9H249.2L249.8,1422.6H249.8L250.2,1426.9H250.2L250.8,1422.6H250.8L251.2,1426.9H251.2L251.8,1422.6H251.8L252.2,1426.9H252.8L253.2,1422.6H253.2L253.8,1426.9H253.8L254.2,1422.6H254.2L254.8,1426.9H254.8L255.2,1422.6H255.2L255.8,1426.9H256.2L256.8,1422.6H257.2L257.8,1426.9H258.2L258.8,1422.6H258.8L259.2,1426.9H259.8L260.2,1422.6H260.2L260.8,1426.9H260.8L261.2,1422.6H261.8L262.2,1426.9H262.2L262.8,1422.6H262.8L263.2,1426.9H263.2L263.8,1422.6H263.8L264.2,1426.9H264.2L264.8,1422.6H265.2L265.8,1426.9H265.8L266.2,1422.6H267.2L267.8,1426.9H267.8L268.2,1422.6H268.2L268.8,1426.9H268.8L269.2,1422.6H269.2L269.8,1426.9H269.8L270.2,1422.6H270.2L270.8,1426.9H270.8L271.2,1422.6H271.2L271.8,1426.9H272.2L272.8,1422.6H272.8L273.2,1426.9H273.2L273.8,1422.6H273.8L274.2,1426.9H274.2L274.8,1422.6H275.2L275.8,1426.9H275.8L276.2,1422.6H276.2L276.8,1426.9H276.8L277.2,1422.6H277.2L277.8,1426.9H278.2L278.8,1422.6H278.8L279.2,1426.9H279.2L279.8,1422.6H279.8L280.2,1426.9H280.8L281.2,1422.6H282.8L283.2,1426.9H283.2L283.8,1422.6H283.8L284.2,1426.9H284.8L285.2,1422.6H285.2L285.8,1426.9H285.8L286.2,1422.6H286.2L286.8,1426.9H286.8L287.2,1422.6H287.2L287.8,1426.9H287.8L288.2,1422.6H288.2L288.8,1426.9H288.8L289.2,1422.6H289.2L289.8,1426.9H290.2L290.8,1422.6H290.8L291.2,1426.9H291.2L291.8,1422.6H291.8L292.2,1426.9H292.2L292.8,1422.6H292.8L293.2,1426.9H293.2L293.8,1422.6H294.2L294.8,1426.9H295.2L295.8,1422.6H295.8L296.2,1426.9H296.2L296.8,1422.6H296.8L297.2,1426.9H298.2L298.8,1422.6H298.8L299.2,1426.9H299.2L299.8,1422.6H300.2L300.8,1426.9H300.8L301.2,1422.6H301.2L301.8,1426.9H301.8L302.2,1422.6H302.2L302.8,1426.9H303.2L303.8,1422.6H303.8L304.2,1426.9H304.2L304.8,1422.6H304.8L305.2,1426.9H305.2L305.8,1422.6H305.8L306.2,1426.9H306.2L306.8,1422.6H306.8L307.2,1426.9H307.2L307.8,1422.6H307.8L308.2,1426.9H308.2L308.8,1422.6H308.8L309.2,1426.9H309.2L309.8,1422.6H309.8L310.2,1426.9H310.2L310.8,1422.6H310.8L311.2,1426.9H311.2L311.8,1422.6H311.8L312.2,1426.9H312.2L312.8,1422.6H312.8L313.2,1426.9H313.2L313.8,1422.6H313.8L314.2,1426.9H314.8L315.2,1422.6H315.2L315.8,1426.9H315.8L316.2,1422.6H316.2L316.8,1426.9H316.8L317.2,1422.6H317.2L317.8,1426.9H318.2L318.8,1422.6H318.8L319.2,1426.9H319.2L319.8,1422.6H320.2L320.8,1426.9H320.8L321.2,1422.6H321.8L322.2,1426.9H322.2L322.8,1422.6H323.8L324.2,1426.9H324.8L325.2,1422.6H325.2L325.8,1426.9H325.8L326.2,1422.6H326.2L326.8,1426.9H327.2L327.8,1422.6H327.8L328.2,1426.9H328.2L328.8,1422.6H328.8L329.2,1426.9H329.8L330.2,1422.6H330.8L331.2,1426.9H331.2L331.8,1422.6H331.8L332.2,1426.9H332.2L332.8,1422.6H333.2L333.8,1426.9H333.8L334.2,1422.6H334.2L334.8,1426.9H334.8L335.2,1422.6H335.2L335.8,1426.9H336.2L336.8,1422.6H337.2L337.8,1426.9H337.8L338.2,1422.6H338.2L338.8,1426.9H338.8L339.2,1422.6H339.2L339.8,1426.9H339.8L340.2,1422.6H340.2L340.8,1426.9H340.8L341.2,1422.6H341.2L341.8,1426.9H341.8L342.2,1422.6H342.8L343.2,1426.9H343.8L344.2,1422.6H344.2L344.8,1426.9H344.8L345.2,1422.6H345.2L345.8,1426.9H346.2L346.8,1422.6H347.2L347.8,1426.9H347.8L348.2,1422.6H348.2L348.8,1426.9H348.8L349.2,1422.6H349.8L350.2,1426.9H350.2L350.8,1422.6H350.8L351.2,1426.9H351.8L352.2,1422.6H352.2L352.8,1426.9H352.8L353.2,1422.6H354.8L355.2,1426.9H355.2L355.8,1422.6H356.2L356.8,1426.9H357.8L358.2,1422.6H358.2L358.8,1426.9H358.8L359.2,1422.6H359.2L359.8,1426.9H359.8L360.2,1422.6H360.8L361.2,1426.9H361.2L361.8,1422.6H361.8L362.2,1426.9H362.2L362.8,1422.6H363.2L363.8,1426.9H363.8L364.2,1422.6H364.2L364.8,1426.9H364.8L365.2,1422.6H365.2L365.8,1426.9H365.8L366.2,1422.6H366.8L367.2,1426.9H367.2L367.8,1422.6H367.8L368.2,1426.9H368.2L368.8,1422.6H368.8L369.2,1426.9H369.2L369.8,1422.6H369.8L370.2,1426.9H370.2L370.8,1422.6H371.2L371.8,1426.9H371.8L372.2,1422.6H372.2L372.8,1426.9H372.8L373.2,1422.6H373.2L373.8,1426.9H373.8L374.2,1422.6H374.2L374.8,1426.9H374.8L375.2,1422.6H375.2L375.8,1426.9H375.8L376.2,1422.6H376.2L376.8,1426.9H376.8L377.2,1422.6H377.2L377.8,1426.9H377.8L378.2,1422.6H379.2L379.8,1426.9H380.2L380.8,1422.6H380.8L381.2,1426.9H381.2L381.8,1422.6H381.8L382.2,1426.9H382.2L382.8,1422.6H382.8L383.2,1426.9H384.2L384.8,1422.6H385.2L385.8,1426.9H385.8L386.2,1422.6H386.2L386.8,1426.9H386.8L387.2,1422.6H387.8L388.2,1426.9H388.2L388.8,1422.6H388.8L389.2,1426.9H389.8L390.2,1422.6H390.2L390.8,1426.9H390.8L391.2,1422.6H391.2L391.8,1426.9H391.8L392.2,1422.6H392.2L392.8,1426.9H392.8L393.2,1422.6H393.2L393.8,1426.9H393.8L394.2,1422.6H394.2L394.8,1426.9H394.8L395.2,1422.6H395.2L395.8,1426.9H396.2L396.8,1422.6H396.8L397.2,1426.9H397.8L398.2,1422.6H398.2L398.8,1426.9H398.8L399.2,1422.6H399.2L399.8,1426.9H400.2L400.8,1422.6H401.2L401.8,1426.9H401.8L402.2,1422.6H402.2L402.8,1426.9H402.8L403.2,1422.6H403.2L403.8,1426.9H404.8L405.2,1422.6H406.2L406.8,1426.9H406.8L407.2,1422.6H407.2L407.8,1426.9H407.8L408.2,1422.6H408.2L408.8,1426.9H408.8L409.2,1422.6H409.2L409.8,1426.9H410.2L410.8,1422.6H410.8L411.2,1426.9H411.2L411.8,1422.6H411.8L412.2,1426.9H412.2L412.8,1422.6H412.8L413.2,1426.9H413.2L413.8,1422.6H413.8L414.2,1426.9H414.2L414.8,1422.6H415.2L415.8,1426.9H415.8L416.2,1422.6H416.2L416.8,1426.9H416.8L417.2,1422.6H417.2L417.8,1426.9H417.8L418.2,1422.6H418.2L418.8,1426.9H418.8L419.2,1422.6H419.2L419.8,1426.9H420.2L420.8,1422.6H421.2L421.8,1426.9H421.8L422.2,1422.6H422.2L422.8,1426.9H422.8L423.2,1422.6H423.2L423.8,1426.9H423.8L424.2,1422.6H425.2L425.8,1426.9H425.8L426.2,1422.6H426.2L426.8,1426.9H426.8L427.2,1422.6H427.2L427.8,1426.9H428.8L429.2,1422.6H429.2L429.8,1426.9H430.2L430.8,1422.6H430.8L431.2,1426.9H431.2L431.8,1422.6H432.2L432.8,1426.9H432.8L433.2,1422.6H433.8L434.2,1426.9H434.2L434.8,1422.6H435.2L435.8,1426.9H435.8L436.2,1422.6H436.2L436.8,1426.9H436.8L437.2,1422.6H437.2L437.8,1426.9H437.8L438.2,1422.6H438.2L438.8,1426.9H438.8L439.2,1422.6H439.2L439.8,1426.9H439.8L440.2,1422.6H440.2L440.8,1426.9H441.8L442.2,1422.6H442.8L443.2,1426.9H443.2L443.8,1422.6H443.8L444.2,1426.9H444.2L444.8,1422.6H444.8L445.2,1426.9H445.2L445.8,1422.6H445.8L446.2,1426.9H446.2L446.8,1422.6H447.2L447.8,1426.9H447.8L448.2,1422.6H448.2L448.8,1426.9H448.8L449.2,1422.6H449.2L449.8,1426.9H449.8L450.2,1422.6H450.2L450.8,1426.9H450.8L451.2,1422.6H451.2L451.8,1426.9H451.8L452.2,1422.6H452.2L452.8,1426.9H452.8L453.2,1422.6H453.2L453.8,1426.9H454.2L454.8,1422.6H454.8L455.2,1426.9H455.2L455.8,1422.6H455.8L456.2,1426.9H456.2L456.8,1422.6H456.8L457.2,1426.9H457.2L457.8,1422.6H457.8L458.2,1426.9H458.2L458.8,1422.6H459.2L459.8,1426.9H459.8L460.2,1422.6H460.2L460.8,1426.9H461.2L461.8,1422.6H461.8L462.2,1426.9H462.2L462.8,1422.6H462.8L463.2,1426.9H463.2L463.8,1422.6H463.8L464.2,1426.9H464.8L465.2,1422.6H465.2L465.8,1426.9H465.8L466.2,1422.6H466.2L466.8,1426.9H466.8L467.2,1422.6H467.2L467.8,1426.9H468.2L468.8,1422.6H468.8L469.2,1426.9H470.8L471.2,1422.6H471.2L471.8,1426.9H471.8L472.2,1422.6H472.8L473.2,1426.9H473.2L473.8,1422.6H474.2L474.8,1426.9H474.8L475.2,1422.6H475.2L475.8,1426.9H475.8L476.2,1422.6H476.2L476.8,1426.9H477.2L477.8,1422.6H478.2L478.8,1426.9H478.8L479.2,1422.6H479.2L479.8,1426.9H480.2L480.8,1422.6H480.8L481.2,1426.9H481.2L481.8,1422.6H481.8L482.2,1426.9H482.2L482.8,1422.6H482.8L483.2,1426.9H483.2L483.8,1422.6H483.8L484.2,1426.9H484.2L484.8,1422.6H484.8L485.2,1426.9H485.2L485.8,1422.6H485.8L486.2,1426.9H487.2L487.8,1422.6H488.2L488.8,1426.9H488.8L489.2,1422.6H489.2L489.8,1426.9H489.8L490.2,1422.6H490.8L491.2,1426.9H491.2L491.8,1422.6H491.8L492.2,1426.9H492.8L493.2,1422.6H493.2L493.8,1426.9H494.2L494.8,1422.6H495.8L496.2,1426.9H496.2L496.8,1422.6H496.8L497.2,1426.9H497.2L497.8,1422.6H497.8L498.2,1426.9H498.2L498.8,1422.6H498.8L499.2,1426.9H499.2L499.8,1422.6H499.8L500.2,1426.9H500.8L501.2,1422.6H501.2L501.8,1426.9H501.8L502.2,1422.6H502.2L502.8,1426.9H503.2L503.8,1422.6H504.2L504.8,1426.9H504.8L505.2,1422.6H505.2L505.8,1426.9H505.8L506.2,1422.6H506.2L506.8,1426.9H507.8L508.2,1422.6H508.2L508.8,1426.9H509.8L510.2,1422.6H510.2L510.8,1426.9H511.2L511.8,1422.6H511.8L512.2,1426.9H512.2L512.8,1422.6H513.2L513.8,1426.9H513.8L514.2,1422.6H514.2L514.8,1426.9H514.8L515.2,1422.6H515.2L515.8,1426.9H515.8L516.2,1422.6H516.2L516.8,1426.9H516.8L517.2,1422.6H517.2L517.8,1426.9H517.8L518.2,1422.6H518.2L518.8,1426.9H518.8L519.2,1422.6H519.2L519.8,1426.9H519.8L520.2,1422.6H520.2L520.8,1426.9H520.8L521.2,1422.6H521.2L521.8,1426.9H522.2L522.8,1422.6H522.8L523.2,1426.9H523.2L523.8,1422.6H523.8L524.2,1426.9H524.2L524.8,1422.6H525.2L525.8,1426.9H525.8L526.2,1422.6H526.2L526.8,1426.9H526.8L527.2,1422.6H527.2L527.8,1426.9H527.8L528.2,1422.6H528.2L528.8,1426.9H528.8L529.2,1422.6H529.2L529.8,1426.9H529.8L530.2,1422.6H530.2L530.8,1426.9H530.8L531.2,1422.6H531.8L532.2,1426.9H532.2L532.8,1422.6H532.8L533.2,1426.9H533.2L533.8,1422.6H533.8L534.2,1426.9H534.2L534.8,1422.6H534.8L535.2,1426.9H535.2L535.8,1422.6H535.8L536.2,1426.9H536.2L536.8,1422.6H536.8L537.2,1426.9H537.8L538.2,1422.6H538.2L538.8,1426.9H539.2L539.8,1422.6H540.2L540.8,1426.9H540.8L541.2,1422.6H541.2L541.8,1426.9H541.8L542.2,1422.6H542.2L542.8,1426.9H542.8L543.2,1422.6H543.2L543.8,1426.9H543.8L544.2,1422.6H544.2L544.8,1426.9H544.8L545.2,1422.6H545.2L545.8,1426.9H545.8L546.2,1422.6H546.2L546.8,1426.9H546.8L547.2,1422.6H547.2L547.8,1426.9H547.8L548.2,1422.6H548.2L548.8,1426.9H549.8L550.2,1422.6H550.8L551.2,1426.9H551.2L551.8,1422.6H551.8L552.2,1426.9H552.2L552.8,1422.6H552.8L553.2,1426.9H553.2L553.8,1422.6H553.8L554.2,1426.9H554.2L554.8,1422.6H554.8L555.2,1426.9H555.2L555.8,1422.6H555.8L556.2,1426.9H556.2L556.8,1422.6H556.8L557.2,1426.9H557.8L558.2,1422.6H558.2L558.8,1426.9H559.2L559.8,1422.6H559.8L560.2,1426.9H560.8L561.2,1422.6H561.2L561.8,1426.9H562.2L562.8,1422.6H562.8L563.2,1426.9H563.8L564.2,1422.6H564.2L564.8,1426.9H564.8L565.2,1422.6H565.2L565.8,1426.9H565.8L566.2,1422.6H566.8L567.2,1426.9H567.8L568.2,1422.6H568.2L568.8,1426.9H568.8L569.2,1422.6H569.2L569.8,1426.9H569.8L570.2,1422.6H570.2L570.8,1426.9H571.2L571.8,1422.6H571.8L572.2,1426.9H572.8L573.2,1422.6H573.2L573.8,1426.9H573.8L574.2,1422.6H574.2L574.8,1426.9H574.8L575.2,1422.6H575.2L575.8,1426.9H575.8L576.2,1422.6H576.2L576.8,1426.9H576.8L577.2,1422.6H577.2L577.8,1426.9H577.8L578.2,1422.6H578.2L578.8,1426.9H579.2L579.8,1422.6H579.8L580.2,1426.9H580.2L580.8,1422.6H580.8L581.2,1426.9H581.2L581.8,1422.6H581.8L582.2,1426.9H582.2L582.8,1422.6H582.8L583.2,1426.9H583.2L583.8,1422.6H583.8L584.2,1426.9H584.2L584.8,1422.6H584.8L585.2,1426.9H585.2L585.8,1422.6H585.8L586.2,1426.9H586.2L586.8,1422.6H586.8L587.2,1426.9H587.2L587.8,1422.6H587.8L588.2,1426.9H588.2L588.8,1422.6H588.8L589.2,1426.9H589.2L589.8,1422.6H589.8L590.2,1426.9H590.2L590.8,1422.6H590.8L591.2,1426.9H591.8L592.2,1422.6H592.2L592.8,1426.9H593.2L593.8,1422.6H594.8L595.2,1426.9H595.2L595.8,1422.6H595.8L596.2,1426.9H596.2L596.8,1422.6H597.2L597.8,1426.9H598.2L598.8,1422.6H598.8L599.2,1426.9H599.8L600.2,1422.6H600.2L600.8,1426.9H600.8L601.2,1422.6H601.2L601.8,1426.9H601.8L602.2,1422.6H602.2L602.8,1426.9H602.8L603.2,1422.6H603.2L603.8,1426.9H603.8L604.2,1422.6H604.2L604.8,1426.9H604.8L605.2,1422.6H605.2L605.8,1426.9H605.8L606.2,1422.6H606.2L606.8,1426.9H606.8L607.2,1422.6H607.2L607.8,1426.9H607.8L608.2,1422.6H608.2L608.8,1426.9H608.8L609.2,1422.6H610.2L610.8,1426.9H610.8L611.2,1422.6H611.2L611.8,1426.9H611.8L612.2,1422.6H612.2L612.8,1426.9H612.8L613.2,1422.6H613.2L613.8,1426.9H613.8L614.2,1422.6H614.2L614.8,1426.9H614.8L615.2,1422.6H615.8L616.2,1426.9H616.2L616.8,1422.6H617.2L617.8,1426.9H618.2L618.8,1422.6H619.2L619.8,1426.9H620.2L620.8,1422.6H620.8L621.2,1426.9H621.2L621.8,1422.6H621.8L622.2,1426.9H622.8L623.2,1422.6H623.2L623.8,1426.9H623.8L624.2,1422.6H624.2L624.8,1426.9H624.8L625.2,1422.6H625.2L625.8,1426.9H625.8L626.2,1422.6H626.2L626.8,1426.9H627.2L627.8,1422.6H627.8L628.2,1426.9H628.2L628.8,1422.6H628.8L629.2,1426.9H629.2L629.8,1422.6H629.8L630.2,1426.9H630.2L630.8,1422.6H630.8L631.2,1426.9H631.8L632.2,1422.6H632.2L632.8,1426.9H632.8L633.2,1422.6H633.2L633.8,1426.9H633.8L634.2,1422.6H634.2L634.8,1426.9H634.8L635.2,1422.6H635.2L635.8,1426.9H635.8L636.2,1422.6H636.8L637.2,1426.9H639.2L639.8,1422.6H639.8L640.2,1426.4H640.2L640.8,1422.3H640.8L641.2,1426.4H641.2L641.8,1422.3H642.2L642.8,1426.4H642.8L643.2,1422.3H643.2L643.8,1426.4H643.8L644.2,1422.3H644.8L645.2,1426.4H645.2L645.8,1422.3H646.8L647.2,1426.4H647.2L647.8,1422.3H647.8L648.2,1426.4H648.2L648.8,1422.3H648.8L649.2,1426.4H649.2L649.8,1422.3H650.2L650.8,1426.4H650.8L651.2,1422.3H652.2L652.8,1426.4H653.2L653.8,1422.3H653.8L654.2,1426.4H654.2L654.8,1422.3H656.2L656.8,1426.4H656.8L657.2,1422.3H657.2L657.8,1426.4H658.2L658.8,1422.3H658.8L659.2,1426.4H659.8L660.2,1422.3H660.2L660.8,1426.4H661.2L661.8,1422.3H661.8L662.2,1426.4H662.2L662.8,1422.3H662.8L663.2,1426.4H663.2L663.8,1422.3H663.8L664.2,1426.4H664.2L664.8,1422.3H665.8L666.2,1426.4H666.2L666.8,1422.3H666.8L667.2,1426.4H667.2L667.8,1422.3H667.8L668.2,1426.4H668.8L669.2,1422.3H669.8L670.2,1426.4H671.8L672.2,1422.3H672.2L672.8,1426.4H672.8L673.2,1422.3H673.2L673.8,1426.4H675.2L675.8,1422.3H675.8L676.2,1426.4H676.8L677.2,1422.3H677.2L677.8,1426.4H677.8L678.2,1422.3H678.2L678.8,1426.4H678.8L679.2,1422.3H679.8L680.2,1426.4H680.2L680.8,1422.3H680.8L681.2,1426.4H681.2L681.8,1422.3H681.8L682.2,1426.4H682.2L682.8,1422.3H682.8L683.2,1426.4H683.2L683.8,1422.3H684.8L685.2,1426.4H686.8L687.2,1422.3H687.8L688.2,1426.4H688.2L688.8,1422.3H688.8L689.2,1426.4H689.2L689.8,1422.3H689.8L690.2,1426.4H690.2L690.8,1422.3H690.8L691.2,1426.4H691.2L691.8,1422.3H691.8L692.2,1426.4H692.2L692.8,1422.3H692.8L693.2,1426.4H693.2L693.8,1422.3H694.2L694.8,1426.4H694.8L695.2,1422.3H695.2L695.8,1426.4H695.8L696.2,1422.3H697.2L697.8,1426.4H697.8L698.2,1422.3H699.2L699.8,1426.4H699.8L700.2,1422.3H700.2L700.8,1426.4H700.8L701.2,1422.3H701.8L702.2,1426.4H702.2L702.8,1422.3H703.2L703.8,1426.4H703.8L704.2,1422.3H704.8L705.2,1426.4H705.2L705.8,1422.3H705.8L706.2,1426.4H706.2L706.8,1422.3H706.8L707.2,1426.4H707.2L707.8,1422.3H707.8L708.2,1426.4H708.8L709.2,1422.3H709.2L709.8,1426.4H709.8L710.2,1422.3H710.2L710.8,1426.4H710.8L711.2,1422.3H711.8L712.2,1426.4H712.2L712.8,1422.3H712.8L713.2,1426.4H713.2L713.8,1422.3H713.8L714.2,1426.4H714.2L714.8,1422.3H714.8L715.2,1426.4H715.2L715.8,1422.3H716.2L716.8,1426.4H716.8L717.2,1422.3H717.2L717.8,1426.4H718.2L718.8,1422.3H718.8L719.2,1426.4H719.8L720.2,1422.3H720.2L720.8,1426.4H721.2L721.8,1422.3H721.8L722.2,1426.4H722.2L722.8,1422.3H722.8L723.2,1426.4H723.8L724.2,1422.3H724.8L725.2,1426.4H725.2L725.8,1422.3H726.8L727.2,1426.4H727.2L727.8,1422.3H727.8L728.2,1426.4H728.2L728.8,1422.3H728.8L729.2,1426.4H729.8L730.2,1422.3H731.2L731.8,1426.4H732.2L732.8,1422.3H733.2L733.8,1426.4H735.8L736.2,1422.3H736.2L736.8,1426.4H736.8L737.2,1422.3H737.8L738.2,1426.4H738.2L738.8,1422.3H738.8L739.2,1426.4H739.2L739.8,1422.3H740.2L740.8,1426.4H740.8L741.2,1422.3H741.2L741.8,1426.4H742.2L742.8,1422.3H742.8L743.2,1426.4H743.8L744.2,1422.3H744.8L745.2,1426.4H745.2L745.8,1422.3H745.8L746.2,1426.4H746.2L746.8,1422.3H746.8L747.2,1426.4H747.2L747.8,1422.3H749.8L750.2,1426.4H750.8L751.2,1422.3H751.2L751.8,1426.4H751.8L752.2,1422.3H752.8L753.2,1426.4H753.2L753.8,1422.3H754.2L754.8,1426.4H755.2L755.8,1422.3H756.8L757.2,1426.4H757.2L757.8,1422.3H758.2L758.8,1426.4H758.8L759.2,1422.3H759.8L760.2,1426.4H760.8L761.2,1422.3H761.2L761.8,1426.4H761.8L762.2,1422.3H762.2L762.8,1426.4H763.8L764.2,1422.3H764.2L764.8,1426.4H765.2L765.8,1422.3H765.8L766.2,1426.4H766.2L766.8,1422.3H766.8L767.2,1426.4H767.2L767.8,1422.3H767.8L768.2,1426.4H768.2L768.8,1422.3H768.8L769.2,1426.4H769.2L769.8,1422.3H770.2L770.8,1426.4H770.8L771.2,1422.3H771.2L771.8,1426.4H772.2L772.8,1422.3H772.8L773.2,1426.4H773.2L773.8,1422.3H774.2L774.8,1426.4H774.8L775.2,1422.3H775.2L775.8,1426.4H775.8L776.2,1422.3H776.8L777.2,1426.4H777.2L777.8,1422.3H777.8L778.2,1426.4H779.8L780.2,1422.3H781.2L781.8,1426.4H781.8L782.2,1422.3H782.2L782.8,1426.4H782.8L783.2,1422.3H783.2L783.8,1426.4H783.8L784.2,1422.3H784.8L785.2,1426.4H785.2L785.8,1422.3H787.8L788.2,1426.4H788.2L788.8,1422.3H788.8L789.2,1426.4H789.2L789.8,1422.3H790.8L791.2,1426.4H791.2L791.8,1422.3H791.8L792.2,1426.4H792.2L792.8,1422.3H793.2L793.8,1426.4H794.2L794.8,1422.3H795.2L795.8,1426.4H796.2L796.8,1422.3H797.8L798.2,1426.4H798.2L798.8,1422.3H798.8L799.2,1426.4H799.8L800.2,1422.3H800.2L800.8,1426.4H800.8L801.2,1422.3H801.2L801.8,1426.4H801.8L802.2,1422.3H802.2L802.8,1426.4H802.8L803.2,1422.3H803.2L803.8,1426.4H803.8L804.2,1422.3H804.2L804.8,1426.4H804.8L805.2,1422.3H805.8L806.2,1426.4H809.2L809.8,1422.3H809.8L810.2,1426.4H810.8L811.2,1422.3H812.8L813.2,1426.4H813.2L813.8,1422.3H813.8L814.2,1426.4H814.8L815.2,1422.3H815.8L816.2,1426.4H816.2L816.8,1422.3H818.8L819.2,1426.4H819.2L819.8,1422.3H819.8L820.2,1426.4H820.2L820.8,1422.3H820.8L821.2,1426.4H821.2L821.8,1422.3H821.8L822.2,1426.4H822.2L822.8,1422.3H822.8L823.2,1426.4H823.2L823.8,1422.3H823.8L824.2,1426.4H824.2L824.8,1422.3H824.8L825.2,1426.4H825.2L825.8,1422.3H827.8L828.2,1426.4H828.2L828.8,1422.3H828.8L829.2,1426.4H830.2L830.8,1422.3H832.8L833.2,1426.4H833.2L833.8,1422.3H833.8L834.2,1426.4H834.2L834.8,1422.3H836.2L836.8,1426.4H837.2L837.8,1422.3H837.8L838.2,1426.4H838.2L838.8,1422.3H838.8L839.2,1426.4H839.8L840.2,1422.3H841.8L842.2,1426.4H842.8L843.2,1422.3H843.2L843.8,1426.4H843.8L844.2,1422.3H844.2L844.8,1426.4H844.8L845.2,1422.3H845.2L845.8,1426.4H845.8L846.2,1422.3H846.8L847.2,1426.4H847.8L848.2,1422.3H848.8L849.2,1426.4H849.8L850.2,1422.3H850.8L851.2,1426.4H851.2L851.8,1422.3H851.8L852.2,1426.4H853.2L853.8,1422.3H854.8L855.2,1426.4H855.2L855.8,1422.3H855.8L856.2,1426.4H856.2L856.8,1422.3H856.8L857.2,1426.4H857.2L857.8,1422.3H857.8L858.2,1426.4H858.2L858.8,1422.3H858.8L859.2,1426.4H859.2L859.8,1422.3H859.8L860.2,1426.4H860.8L861.2,1422.3H861.8L862.2,1426.4H862.2L862.8,1422.3H862.8L863.2,1426.4H863.2L863.8,1422.3H863.8L864.2,1426.4H864.2L864.8,1422.3H865.8L866.2,1426.4H866.8L867.2,1422.3H867.2L867.8,1426.4H867.8L868.2,1422.3H868.8L869.2,1426.4H869.2L869.8,1422.3H869.8L870.2,1426.4H870.2L870.8,1422.3H870.8L871.2,1426.4H872.2L872.8,1422.3H872.8L873.2,1426.4H873.2L873.8,1422.3H874.2L874.8,1426.4H874.8L875.2,1422.3H875.2L875.8,1426.4H875.8L876.2,1422.3H876.2L876.8,1426.4H877.8L878.2,1422.3H879.2L879.8,1426.4H880.2L880.8,1422.3H880.8L881.2,1426.4H881.8L882.2,1422.3H882.8L883.2,1426.4H883.8L884.2,1422.3H884.2L884.8,1426.4H884.8L885.2,1422.3H885.8L886.2,1426.4H887.2L887.8,1422.3H888.8L889.2,1426.4H889.2L889.8,1422.3H889.8L890.2,1426.4H890.2L890.8,1422.3H890.8L891.2,1426.4H891.2L891.8,1422.3H892.2L892.8,1426.4H892.8L893.2,1422.3H893.2L893.8,1426.4H893.8L894.2,1422.3H895.2L895.8,1426.4H895.8L896.2,1422.3H896.2L896.8,1426.4H896.8L897.2,1422.3H897.2L897.8,1426.4H897.8L898.2,1422.3H898.2L898.8,1426.4H899.2L899.8,1422.3H899.8L900.2,1426.4H903.8L904.2,1422.3H904.2L904.8,1426.4H906.2L906.8,1422.3H906.8L907.2,1426.4H910.2L910.8,1422.3H910.8L911.2,1426.4H911.8L912.2,1422.3H912.2L912.8,1426.4H914.8L915.2,1422.3H915.8L916.2,1426.4H920.8L921.2,1422.3H921.2L921.8,1426.4H923.8L924.2,1422.3H924.8L925.2,1426.4H930.8L931.2,1422.3H931.2L931.8,1426.4H937.2L937.8,1422.3H938.2L938.8,1426.4H939.8L940.2,1422.3H940.8L941.2,1426.4H943.2L943.8,1422.3H943.8L944.2,1426.4H944.2L944.8,1422.3H944.8L945.2,1426.4H949.2L949.8,1422.3H949.8L950.2,1426.4H952.2L952.8,1422.3H952.8L953.2,1426.4H958.8L959.2,1422.3H959.2L959.8,1426.4H980.2L980.8,1422.3H980.8L981.2,1426.4H986.2L986.8,1422.3H986.8L987.2,1426.4H991.2L991.8,1422.3H991.8L992.2,1426.4H997.2L997.8,1422.3H997.8L998.2,1426.4H999.8L1000.2,1422.3H1000.2L1000.8,1426.4H1008.8L1009.2,1422.3H1009.2L1009.8,1426.4H1010.8L1011.2,1422.3H1011.2L1011.8,1426.4H1023.2L1023.8,1422.3H1023.8L1024.2,1426.4H1075.8L1076.2,1422.3H1076.2L1076.8,1426.4H1132.8L1133.2,1422.3H1133.2L1133.8,1426.4H1154.5" stroke="#0000ff" stroke-width="1.0"/>
<path d="M166.0,1392.0H188.5L189.0,1383.4H189.1L189.6,1392.0H189.7L190.2,1383.4H190.3L190.8,1392.0H190.9L191.4,1383.4H191.5L192.0,1392.0H192.1L192.6,1383.4H193.3L193.8,1392.0H193.9L194.4,1383.4H195.1L195.6,1392.0H195.7L196.2,1383.4H196.3L196.8,1392.0H196.9L197.4,1383.4H197.5L198.0,1392.0H198.7L199.2,1383.4H199.3L199.8,1392.0H200.5L201.0,1383.4H202.3L202.8,1392.0H203.5L204.0,1383.4H204.1L204.6,1392.0H205.3L205.8,1383.4H205.9L206.4,1392.0H206.5L207.0,1383.4H207.1L207.6,1392.0H208.3L208.8,1383.4H210.1L210.6,1392.0H211.3L211.8,1383.4H211.9L212.4,1392.0H213.1L213.6,1383.4H215.5L216.0,1392.0H216.7L217.2,1383.4H217.3L217.8,1392.0H218.5L219.0,1383.4H219.1L219.6,1392.0H220.3L220.8,1383.4H221.5L222.0,1392.0H222.1L222.6,1383.4H223.9L224.4,1392.0H225.1L225.6,1383.4H225.7L226.2,1392.0H226.3L226.8,1383.4H228.1L228.6,1392.0H229.9L230.4,1383.4H230.5L231.0,1392.0H231.1L231.6,1383.4H232.3L232.8,1392.0H232.9L233.4,1383.4H234.1L234.6,1392.0H234.7L235.2,1383.4H237.1L237.6,1392.0H237.7L238.2,1383.4H247.3L247.8,1392.0H247.9L248.4,1383.4H271.9L272.4,1392.0H272.5L273.0,1383.4H276.1L276.6,1392.0H276.7L277.2,1383.4H296.0L296.5,1392.0H297.2L297.7,1383.4H512.0L512.5,1392.0H512.6L513.1,1383.4H555.2L555.7,1392.0H555.8L556.3,1383.4H666.8L667.3,1392.0H667.4L667.9,1383.4H1017.8L1018.3,1392.0H1018.4L1018.9,1383.4H1154.5" stroke="#00ffff" stroke-width="1.2"/>
<path d="M166,1396V1450" stroke="#00ff00" stroke-width="1.2"/>
<path d="M166.0,1402.4H166.3L166.8,1396.2H168.1L168.6,1402.4H168.7L169.2,1396.2H169.3L169.8,1393.4H169.9L170.4,1396.2H171.1L171.6,1400.6H172.3L172.8,1396.2H173.5L174.0,1400.6H175.3L175.8,1393.4H175.9L176.4,1396.2H177.1L177.6,1393.4H177.7L178.2,1400.6H178.9L179.4,1396.2H179.5L180.0,1393.4H180.1L180.6,1396.2H181.9L182.4,1400.6H182.5L183.0,1396.2H183.1L183.6,1400.6H183.7L184.2,1396.2H187.9L188.4,1400.6H188.5L189.0,1396.2H189.1L189.6,1400.6H190.3L190.8,1396.2H195.1L195.6,1400.6H195.7L196.2,1396.2H196.3L196.8,1400.6H196.9L197.4,1396.2H199.3L199.8,1400.6H199.9L200.4,1396.2H201.7L202.2,1400.6H202.3L202.8,1396.2H202.9L203.4,1400.6H203.5L204.0,1396.2H204.1L204.6,1402.4H204.7L205.2,1396.2H205.3L205.8,1393.4H205.9L206.4,1396.2H206.5L207.0,1402.4H207.1L207.6,1396.2H207.7L208.2,1400.6H208.3L208.8,1396.2H208.9L209.4,1400.6H210.1L210.6,1396.2H211.3L211.8,1400.6H213.1L213.6,1396.2H213.7L214.2,1400.6H214.3L214.8,1396.2H215.5L216.0,1400.6H216.1L216.6,1396.2H216.7L217.2,1402.4H217.3L217.8,1396.2H217.9L218.4,1393.4H218.5L219.0,1396.2H221.5L222.0,1402.4H222.1L222.6,1400.6H222.7L223.2,1396.2H224.5L225.0,1400.6H225.1L225.6,1396.2H226.3L226.8,1400.6H226.9L227.4,1396.2H227.5L228.0,1400.6H228.7L229.2,1396.2H229.9L230.4,1400.6H231.1L231.6,1396.2H232.3L232.8,1402.4H232.9L233.4,1396.2H236.5L237.0,1400.6H237.1L237.6,1396.2H237.7L238.2,1400.6H238.3L238.8,1396.2H239.5L240.0,1400.6H241.3L241.8,1396.2H241.9L242.4,1400.6H242.5L243.0,1393.4H243.1L243.6,1396.2H244.9L245.4,1393.4H246.1L246.6,1396.2H249.7L250.2,1400.6H251.5L252.0,1396.2H253.3L253.8,1393.4H253.9L254.4,1400.6H254.5L255.0,1393.4H255.1L255.6,1396.2H256.9L257.4,1393.4H257.5L258.0,1396.2H261.7L262.2,1400.6H262.3L262.8,1393.4H262.9L263.4,1396.2H263.5L264.0,1400.6H266.5L267.0,1402.4H267.1L267.6,1393.4H267.7L268.2,1400.6H268.3L268.8,1396.2H268.9L269.4,1393.4H269.5L270.0,1402.4H270.1L270.6,1396.2H270.7L271.2,1402.4H271.3L271.8,1400.6H273.7L274.2,1396.2H274.3L274.8,1402.4H274.9L275.4,1400.6H275.5L276.0,1396.2H276.7L277.2,1393.4H277.3L277.8,1400.6H277.9L278.4,1396.2H279.8L280.3,1400.6H280.4L280.9,1396.2H281.6L282.1,1400.6H282.2L282.7,1396.2H282.8L283.3,1400.6H283.4L283.9,1396.2H285.2L285.7,1400.6H285.8L286.3,1396.2H288.8L289.3,1400.6H289.4L289.9,1396.2H290.0L290.5,1400.6H290.6L291.1,1396.2H291.2L291.7,1400.6H292.4L292.9,1393.4H293.0L293.5,1396.2H294.8L295.3,1400.6H296.0L296.5,1396.2H296.6L297.1,1400.6H298.4L298.9,1396.2H299.0L299.5,1400.6H299.6L300.1,1396.2H303.2L303.7,1400.6H305.0L305.5,1393.4H305.6L306.1,1400.6H306.8L307.3,1396.2H308.0L308.5,1393.4H308.6L309.1,1396.2H309.2L309.7,1400.6H310.4L310.9,1396.2H311.0L311.5,1393.4H311.6L312.1,1396.2H312.2L312.7,1400.6H312.8L313.3,1396.2H315.2L315.7,1400.6H315.8L316.3,1396.2H316.4L316.9,1400.6H317.6L318.1,1396.2H319.4L319.9,1393.4H320.0L320.5,1396.2H321.2L321.7,1400.6H321.8L322.3,1396.2H322.4L322.9,1402.4H323.0L323.5,1400.6H323.6L324.1,1396.2H324.2L324.7,1400.6H325.4L325.9,1396.2H326.6L327.1,1393.4H327.2L327.7,1400.6H328.4L328.9,1393.4H329.6L330.1,1400.6H330.8L331.3,1396.2H333.8L334.3,1400.6H334.4L334.9,1396.2H337.4L337.9,1400.6H339.8L340.3,1396.2H341.0L341.5,1402.4H341.6L342.1,1396.2H342.8L343.3,1400.6H343.4L343.9,1396.2H344.6L345.1,1400.6H345.2L345.7,1402.4H345.8L346.3,1400.6H346.4L346.9,1396.2H348.2L348.7,1393.4H348.8L349.3,1400.6H349.4L349.9,1393.4H350.0L350.5,1396.2H350.6L351.1,1400.6H351.8L352.3,1396.2H353.0L353.5,1400.6H353.6L354.1,1396.2H355.4L355.9,1393.4H356.0L356.5,1396.2H357.2L357.7,1400.6H357.8L358.3,1396.2H359.0L359.5,1400.6H360.8L361.3,1396.2H361.4L361.9,1400.6H362.0L362.5,1396.2H362.6L363.1,1393.4H363.2L363.7,1396.2H363.8L364.3,1400.6H364.4L364.9,1396.2H366.2L366.7,1402.4H366.8L367.3,1396.2H368.0L368.5,1400.6H369.2L369.7,1396.2H369.8L370.3,1393.4H370.4L370.9,1400.6H371.0L371.5,1396.2H373.4L373.9,1400.6H374.0L374.5,1396.2H374.6L375.1,1400.6H375.8L376.3,1396.2H376.4L376.9,1400.6H377.0L377.5,1396.2H378.8L379.3,1402.4H379.4L379.9,1400.6H380.0L380.5,1393.4H380.6L381.1,1396.2H383.0L383.5,1400.6H383.6L384.1,1396.2H385.4L385.9,1393.4H386.0L386.5,1396.2H387.2L387.7,1393.4H387.8L388.3,1396.2H389.0L389.5,1393.4H389.6L390.1,1396.2H392.6L393.1,1393.4H393.2L393.7,1396.2H395.0L395.5,1400.6H396.2L396.7,1396.2H397.4L397.9,1400.6H398.0L398.5,1396.2H398.6L399.1,1400.6H399.2L399.7,1396.2H399.8L400.3,1393.4H400.4L400.9,1400.6H402.2L402.7,1396.2H402.8L403.3,1393.4H403.4L403.9,1396.2H404.0L404.5,1400.6H404.6L405.1,1393.4H405.2L405.7,1400.6H405.8L406.3,1396.2H406.4L406.9,1402.4H407.0L407.5,1396.2H408.8L409.3,1393.4H409.4L409.9,1396.2H410.6L411.1,1400.6H411.2L411.7,1396.2H412.4L412.9,1400.6H413.6L414.1,1396.2H414.8L415.3,1400.6H415.4L415.9,1396.2H417.8L418.3,1402.4H418.4L418.9,1396.2H419.6L420.1,1400.6H420.2L420.7,1396.2H420.8L421.3,1393.4H421.4L421.9,1400.6H422.0L422.5,1396.2H423.2L423.7,1400.6H423.8L424.3,1396.2H425.0L425.5,1393.4H425.6L426.1,1396.2H426.2L426.7,1400.6H426.8L427.3,1402.4H427.4L427.9,1393.4H428.0L428.5,1400.6H428.6L429.1,1396.2H429.8L430.3,1400.6H430.4L430.9,1396.2H431.0L431.5,1400.6H432.2L432.7,1402.4H432.8L433.3,1400.6H433.4L433.9,1396.2H434.0L434.5,1400.6H434.6L435.1,1396.2H435.2L435.7,1400.6H435.8L436.3,1396.2H436.4L436.9,1393.4H437.0L437.5,1400.6H437.6L438.1,1396.2H440.6L441.1,1402.4H441.8L442.3,1396.2H443.6L444.1,1393.4H444.2L444.7,1396.2H445.4L445.9,1400.6H448.4L448.9,1396.2H449.0L449.5,1400.6H450.8L451.3,1396.2H451.4L451.9,1393.4H452.0L452.5,1396.2H453.8L454.3,1400.6H454.4L454.9,1396.2H456.2L456.7,1400.6H456.8L457.3,1393.4H457.4L457.9,1396.2H458.0L458.5,1393.4H458.6L459.1,1396.2H462.8L463.3,1393.4H464.0L464.5,1396.2H464.6L465.1,1400.6H465.2L465.7,1396.2H467.6L468.1,1400.6H468.8L469.3,1396.2H469.4L469.9,1400.6H470.0L470.5,1396.2H471.8L472.3,1400.6H472.4L472.9,1396.2H474.2L474.7,1400.6H475.4L475.9,1393.4H476.0L476.5,1402.4H476.6L477.1,1396.2H477.2L477.7,1393.4H477.8L478.3,1396.2H478.4L478.9,1393.4H479.0L479.5,1400.6H480.2L480.7,1396.2H480.8L481.3,1400.6H481.4L481.9,1396.2H482.0L482.5,1393.4H482.6L483.1,1396.2H483.8L484.3,1400.6H484.4L484.9,1402.4H485.0L485.5,1396.2H487.4L487.9,1400.6H488.0L488.5,1396.2H488.6L489.1,1400.6H489.2L489.7,1396.2H491.6L492.1,1400.6H492.8L493.3,1396.2H494.6L495.1,1402.4H495.2L495.7,1396.2H495.8L496.3,1393.4H496.4L496.9,1396.2H497.6L498.1,1400.6H498.2L498.7,1396.2H503.0L503.5,1393.4H503.6L504.1,1396.2H506.0L506.5,1393.4H506.6L507.1,1396.2H507.2L507.7,1393.4H507.8L508.3,1396.2H511.4L511.9,1400.6H512.0L512.5,1396.2H513.2L513.7,1402.4H513.8L514.3,1396.2H514.4L514.9,1400.6H515.0L515.5,1393.4H515.6L516.1,1400.6H516.2L516.7,1396.2H516.8L517.3,1393.4H517.4L517.9,1396.2H518.0L518.5,1400.6H518.6L519.1,1393.4H519.2L519.7,1396.2H519.8L520.3,1400.6H520.4L520.9,1396.2H521.0L521.5,1393.4H521.6L522.1,1396.2H522.8L523.3,1393.4H523.4L523.9,1396.2H524.0L524.5,1400.6H525.8L526.3,1396.2H527.0L527.5,1400.6H527.6L528.1,1396.2H531.2L531.7,1400.6H532.4L532.9,1396.2H535.4L535.9,1400.6H536.0L536.5,1396.2H536.6L537.1,1393.4H537.2L537.7,1396.2H537.8L538.3,1400.6H538.4L538.9,1396.2H541.4L541.9,1393.4H542.0L542.5,1396.2H543.2L543.7,1400.6H545.0L545.5,1393.4H545.6L546.1,1396.2H546.8L547.3,1400.6H548.0L548.5,1402.4H548.6L549.1,1396.2H549.8L550.3,1400.6H550.4L550.9,1396.2H552.8L553.3,1400.6H554.0L554.5,1396.2H554.6L555.1,1400.6H555.2L555.7,1396.2H555.8L556.3,1400.6H557.0L557.5,1396.2H558.2L558.7,1393.4H558.8L559.3,1400.6H560.0L560.5,1396.2H561.2L561.7,1400.6H561.8L562.3,1396.2H563.0L563.5,1400.6H563.6L564.1,1396.2H567.8L568.3,1402.4H568.4L568.9,1393.4H569.0L569.5,1400.6H569.6L570.1,1396.2H570.2L570.7,1400.6H571.4L571.9,1396.2H572.0L572.5,1400.6H572.6L573.1,1396.2H573.8L574.3,1400.6H575.0L575.5,1396.2H578.0L578.5,1400.6H579.2L579.7,1393.4H579.8L580.3,1400.6H580.4L580.9,1402.4H581.0L581.5,1396.2H583.4L583.9,1400.6H584.6L585.1,1396.2H585.2L585.7,1400.6H585.8L586.3,1396.2H586.4L586.9,1400.6H587.6L588.1,1396.2H590.0L590.5,1400.6H591.2L591.7,1393.4H591.8L592.3,1396.2H594.8L595.3,1393.4H596.6L597.1,1396.2H597.8L598.3,1400.6H598.4L598.9,1396.2H599.0L599.5,1402.4H599.6L600.1,1393.4H600.2L600.7,1400.6H600.8L601.3,1396.2H602.0L602.5,1400.6H602.6L603.1,1396.2H603.2L603.7,1400.6H603.8L604.3,1396.2H608.0L608.5,1400.6H608.6L609.1,1396.2H609.2L609.7,1400.6H609.8L610.3,1396.2H610.4L610.9,1400.6H611.6L612.1,1393.4H612.2L612.7,1396.2H613.4L613.9,1393.4H614.0L614.5,1396.2H617.6L618.1,1393.4H618.2L618.7,1400.6H619.4L619.9,1393.4H620.0L620.5,1400.6H621.8L622.3,1396.2H624.8L625.3,1400.6H625.4L625.9,1396.2H626.0L626.5,1400.6H627.2L627.7,1396.2H630.2L630.7,1400.6H630.8L631.3,1396.2H632.6L633.1,1400.6H633.2L633.7,1396.2H635.6L636.1,1400.6H636.2L636.7,1393.4H636.8L637.3,1396.2H637.4L637.9,1393.4H638.6L639.1,1400.6H639.2L639.7,1393.4H639.8L640.3,1396.2H640.4L640.9,1400.6H641.0L641.5,1396.2H641.6L642.1,1400.6H642.2L642.7,1396.2H644.0L644.5,1400.6H644.6L645.1,1396.2H647.0L647.5,1400.6H647.6L648.1,1396.2H648.8L649.3,1400.6H650.6L651.1,1396.2H651.2L651.7,1393.4H651.8L652.3,1396.2H653.0L653.5,1400.6H653.6L654.1,1393.4H654.8L655.3,1396.2H657.2L657.7,1400.6H658.4L658.9,1396.2H659.0L659.5,1400.6H659.6L660.1,1396.2H660.2L660.7,1400.6H660.8L661.3,1396.2H662.0L662.5,1402.4H662.6L663.1,1393.4H663.8L664.3,1400.6H664.4L664.9,1396.2H665.0L665.5,1400.6H666.2L666.7,1396.2H666.8L667.3,1400.6H668.6L669.1,1393.4H669.2L669.7,1396.2H671.6L672.1,1400.6H672.2L672.7,1396.2H672.8L673.3,1393.4H673.4L673.9,1400.6H674.0L674.5,1396.2H675.2L675.7,1400.6H675.8L676.3,1396.2H676.4L676.9,1400.6H677.0L677.5,1396.2H678.2L678.7,1400.6H678.8L679.3,1396.2H679.4L679.9,1393.4H680.0L680.5,1396.2H680.6L681.1,1400.6H681.2L681.7,1393.4H681.8L682.3,1396.2H684.8L685.3,1400.6H685.4L685.9,1393.4H686.0L686.5,1402.4H686.6L687.1,1400.6H687.2L687.7,1396.2H687.8L688.3,1400.6H688.4L688.9,1396.2H689.6L690.1,1402.4H690.2L690.7,1396.2H690.8L691.3,1400.6H691.4L691.9,1396.2H692.0L692.5,1400.6H692.6L693.1,1396.2H694.4L694.9,1400.6H695.0L695.5,1402.4H695.6L696.1,1396.2H696.2L696.7,1400.6H697.4L697.9,1396.2H698.0L698.5,1402.4H698.6L699.1,1396.2H701.0L701.5,1400.6H701.6L702.1,1396.2H704.0L704.5,1400.6H705.2L705.7,1396.2H706.4L706.9,1400.6H707.0L707.5,1396.2H710.6L711.1,1400.6H711.2L711.7,1402.4H711.8L712.3,1396.2H715.4L715.9,1400.6H716.6L717.1,1396.2H717.2L717.7,1393.4H717.8L718.3,1400.6H719.0L719.5,1393.4H719.6L720.1,1400.6H720.2L720.7,1396.2H721.4L721.9,1393.4H722.0L722.5,1400.6H723.8L724.3,1393.4H724.4L724.9,1396.2H725.6L726.1,1393.4H726.2L726.7,1400.6H728.6L729.1,1393.4H729.2L729.7,1400.6H729.8L730.3,1396.2H731.0L731.5,1400.6H732.2L732.7,1402.4H732.8L733.3,1400.6H733.4L733.9,1393.4H734.0L734.5,1400.6H734.6L735.1,1396.2H735.2L735.7,1400.6H735.8L736.3,1396.2H737.6L738.1,1393.4H738.2L738.7,1396.2H738.8L739.3,1393.4H739.4L739.9,1396.2H742.4L742.9,1393.4H743.0L743.5,1396.2H744.2L744.7,1400.6H744.8L745.3,1396.2H746.6L747.1,1400.6H747.2L747.7,1396.2H748.4L748.9,1400.6H749.0L749.5,1396.2H749.6L750.1,1400.6H750.2L750.7,1396.2H752.0L752.5,1400.6H753.2L753.7,1393.4H753.8L754.3,1396.2H754.4L754.9,1400.6H755.0L755.5,1396.2H755.6L756.1,1400.6H756.2L756.7,1396.2H757.4L757.9,1400.6H758.0L758.5,1396.2H764.0L764.5,1400.6H765.2L765.7,1396.2H766.4L766.9,1400.6H767.0L767.5,1396.2H770.6L771.1,1400.6H771.8L772.3,1396.2H773.6L774.1,1400.6H774.2L774.7,1396.2H777.2L777.7,1393.4H777.8L778.3,1400.6H779.0L779.5,1393.4H779.6L780.1,1400.6H780.2L780.7,1396.2H781.4L781.9,1400.6H782.0L782.5,1396.2H783.8L784.3,1400.6H784.4L784.9,1396.2H785.0L785.5,1400.6H785.6L786.1,1402.4H786.2L786.7,1396.2H787.4L787.9,1400.6H788.0L788.5,1396.2H788.6L789.1,1402.4H789.2L789.7,1396.2H791.0L791.5,1393.4H791.6L792.1,1402.4H792.2L792.7,1396.2H792.8L793.3,1400.6H794.0L794.5,1396.2H794.6L795.1,1400.6H795.8L796.3,1396.2H797.0L797.5,1400.6H798.2L798.7,1396.2H798.8L799.3,1400.6H799.4L799.9,1396.2H800.0L800.5,1400.6H800.6L801.1,1396.2H801.2L801.7,1400.6H802.4L802.9,1396.2H805.4L805.9,1393.4H806.0L806.5,1402.4H806.6L807.1,1393.4H807.2L807.7,1400.6H807.8L808.3,1396.2H809.0L809.5,1393.4H809.6L810.1,1400.6H810.8L811.3,1393.4H811.4L811.9,1396.2H812.0L812.5,1400.6H812.6L813.1,1396.2H813.2L813.7,1393.4H814.4L814.9,1396.2H815.0L815.5,1400.6H816.2L816.7,1396.2H818.6L819.1,1400.6H819.2L819.7,1396.2H819.8L820.3,1400.6H820.4L820.9,1402.4H821.0L821.5,1400.6H821.6L822.1,1396.2H822.2L822.7,1400.6H822.8L823.3,1402.4H823.4L823.9,1396.2H828.2L828.7,1393.4H828.8L829.3,1400.6H829.4L829.9,1396.2H830.0L830.5,1393.4H830.6L831.1,1396.2H831.2L831.7,1400.6H831.8L832.3,1396.2H837.8L838.3,1393.4H838.4L838.9,1396.2H839.0L839.5,1400.6H839.6L840.1,1396.2H843.2L843.7,1400.6H843.8L844.3,1393.4H844.4L844.9,1400.6H845.0L845.5,1396.2H845.6L846.1,1393.4H846.2L846.7,1396.2H846.8L847.3,1400.6H847.4L847.9,1396.2H848.0L848.5,1400.6H848.6L849.1,1396.2H849.2L849.7,1400.6H849.8L850.3,1396.2H850.4L850.9,1400.6H851.0L851.5,1396.2H851.6L852.1,1393.4H852.2L852.7,1396.2H852.8L853.3,1402.4H853.4L853.9,1400.6H854.0L854.5,1396.2H854.6L855.1,1400.6H855.8L856.3,1396.2H857.6L858.1,1400.6H858.2L858.7,1396.2H860.6L861.1,1393.4H861.2L861.7,1400.6H862.4L862.9,1396.2H865.4L865.9,1400.6H866.6L867.1,1396.2H867.2L867.7,1402.4H867.8L868.3,1393.4H868.4L868.9,1400.6H869.6L870.1,1396.2H870.8L871.3,1400.6H872.6L873.1,1396.2H874.4L874.9,1400.6H875.0L875.5,1396.2H876.2L876.7,1400.6H876.8L877.3,1396.2H878.0L878.5,1400.6H878.6L879.1,1396.2H881.0L881.5,1400.6H881.6L882.1,1396.2H883.4L883.9,1400.6H884.6L885.1,1396.2H885.8L886.3,1402.4H886.4L886.9,1393.4H887.0L887.5,1400.6H887.6L888.1,1396.2H889.4L889.9,1402.4H890.0L890.5,1396.2H891.8L892.3,1400.6H893.0L893.5,1396.2H893.6L894.1,1393.4H894.2L894.7,1400.6H894.8L895.3,1396.2H896.0L896.5,1400.6H896.6L897.1,1396.2H897.2L897.7,1402.4H897.8L898.3,1400.6H898.4L898.9,1396.2H899.0L899.5,1393.4H899.6L900.1,1396.2H900.2L900.7,1393.4H900.8L901.3,1400.6H901.4L901.9,1402.4H902.0L902.5,1396.2H903.2L903.7,1402.4H903.8L904.3,1393.4H904.4L904.9,1400.6H905.0L905.5,1396.2H909.2L909.7,1402.4H911.0L911.5,1400.6H911.6L912.1,1396.2H912.8L913.3,1393.4H914.0L914.5,1396.2H914.6L915.1,1402.4H915.2L915.7,1400.6H915.8L916.3,1393.4H916.4L916.9,1396.2H917.6L918.1,1400.6H918.2L918.7,1396.2H918.8L919.3,1400.6H919.4L919.9,1396.2H920.0L920.5,1402.4H920.6L921.1,1400.6H921.8L922.3,1393.4H922.4L922.9,1396.2H923.0L923.5,1393.4H923.6L924.1,1396.2H924.8L925.3,1402.4H925.4L925.9,1396.2H926.6L927.1,1393.4H927.2L927.7,1400.6H927.8L928.3,1396.2H928.4L928.9,1402.4H929.0L929.5,1396.2H930.8L931.3,1400.6H931.4L931.9,1396.2H932.6L933.1,1400.6H933.2L933.7,1396.2H935.0L935.5,1400.6H936.2L936.7,1396.2H936.8L937.3,1400.6H937.4L937.9,1393.4H938.0L938.5,1396.2H940.4L940.9,1400.6H941.0L941.5,1396.2H943.4L943.9,1400.6H944.0L944.5,1393.4H944.6L945.1,1400.6H945.8L946.3,1393.4H946.4L946.9,1396.2H947.6L948.1,1400.6H948.2L948.7,1396.2H948.8L949.3,1400.6H949.4L949.9,1396.2H952.4L952.9,1400.6H953.0L953.5,1396.2H953.6L954.1,1400.6H954.2L954.7,1396.2H955.4L955.9,1402.4H956.0L956.5,1396.2H956.6L957.1,1393.4H957.2L957.7,1396.2H959.6L960.1,1400.6H960.2L960.7,1396.2H960.8L961.3,1400.6H962.0L962.5,1393.4H962.6L963.1,1396.2H963.8L964.3,1400.6H965.0L965.5,1393.4H965.6L966.1,1396.2H966.8L967.3,1400.6H967.4L967.9,1393.4H968.0L968.5,1396.2H968.6L969.1,1400.6H969.8L970.3,1396.2H971.6L972.1,1400.6H972.2L972.7,1396.2H974.0L974.5,1400.6H974.6L975.1,1396.2H977.0L977.5,1400.6H977.6L978.1,1396.2H978.2L978.7,1400.6H979.4L979.9,1396.2H980.0L980.5,1400.6H980.6L981.1,1396.2H981.2L981.7,1402.4H981.8L982.3,1396.2H985.4L985.9,1400.6H986.0L986.5,1393.4H986.6L987.1,1396.2H990.2L990.7,1400.6H990.8L991.3,1396.2H993.8L994.3,1402.4H994.4L994.9,1396.2H995.0L995.5,1400.6H995.6L996.1,1393.4H996.2L996.7,1396.2H996.8L997.3,1393.4H997.4L997.9,1400.6H998.0L998.5,1396.2H1000.4L1000.9,1400.6H1001.0L1001.5,1396.2H1002.8L1003.3,1393.4H1003.4L1003.9,1400.6H1004.6L1005.1,1393.4H1005.2L1005.7,1396.2H1009.4L1009.9,1402.4H1010.0L1010.5,1396.2H1011.2L1011.7,1400.6H1011.8L1012.3,1396.2H1014.8L1015.3,1393.4H1015.4L1015.9,1396.2H1016.6L1017.1,1393.4H1017.2L1017.7,1396.2H1018.4L1018.9,1400.6H1019.0L1019.5,1393.4H1020.2L1020.7,1400.6H1022.0L1022.5,1402.4H1022.6L1023.1,1400.6H1023.2L1023.7,1396.2H1024.4L1024.9,1400.6H1025.6L1026.1,1396.2H1026.2L1026.7,1400.6H1026.8L1027.3,1396.2H1028.0L1028.5,1400.6H1029.2L1029.7,1393.4H1029.8L1030.3,1400.6H1030.4L1030.9,1393.4H1031.0L1031.5,1400.6H1031.6L1032.1,1396.2H1032.8L1033.3,1400.6H1033.4L1033.9,1396.2H1034.6L1035.1,1400.6H1035.2L1035.7,1393.4H1035.8L1036.3,1396.2H1036.4L1036.9,1400.6H1037.0L1037.5,1396.2H1040.0L1040.5,1402.4H1040.6L1041.1,1396.2H1041.2L1041.7,1400.6H1041.8L1042.3,1396.2H1043.0L1043.5,1400.6H1044.2L1044.7,1396.2H1044.8L1045.3,1393.4H1045.4L1045.9,1400.6H1046.0L1046.5,1396.2H1046.6L1047.1,1400.6H1047.2L1047.7,1396.2H1052.0L1052.5,1400.6H1053.2L1053.7,1393.4H1053.8L1054.3,1396.2H1056.2L1056.7,1393.4H1056.8L1057.3,1400.6H1058.0L1058.5,1396.2H1058.6L1059.1,1400.6H1060.4L1060.9,1393.4H1061.0L1061.5,1400.6H1061.6L1062.1,1396.2H1062.2L1062.7,1402.4H1062.8L1063.3,1400.6H1063.4L1063.9,1396.2H1064.0L1064.5,1400.6H1065.2L1065.7,1402.4H1065.8L1066.3,1396.2H1066.4L1066.9,1402.4H1067.0L1067.5,1396.2H1067.6L1068.1,1400.6H1068.2L1068.7,1396.2H1070.0L1070.5,1400.6H1070.6L1071.1,1393.4H1071.8L1072.3,1396.2H1073.6L1074.1,1402.4H1074.8L1075.3,1400.6H1075.4L1075.9,1396.2H1076.0L1076.5,1400.6H1077.2L1077.7,1396.2H1077.8L1078.3,1400.6H1078.4L1078.9,1402.4H1079.0L1079.5,1400.6H1080.8L1081.3,1396.2H1082.0L1082.5,1400.6H1082.6L1083.1,1402.4H1083.2L1083.7,1400.6H1083.8L1084.3,1396.2H1084.4L1084.9,1393.4H1085.0L1085.5,1396.2H1086.2L1086.7,1402.4H1086.8L1087.3,1396.2H1087.4L1087.9,1400.6H1088.0L1088.5,1396.2H1089.8L1090.3,1400.6H1090.4L1090.9,1396.2H1091.0L1091.5,1400.6H1091.6L1092.1,1396.2H1094.0L1094.5,1402.4H1094.6L1095.1,1396.2H1098.8L1099.3,1400.6H1099.4L1099.9,1396.2H1100.0L1100.5,1400.6H1100.6L1101.1,1396.2H1101.2L1101.7,1400.6H1101.8L1102.3,1396.2H1103.0L1103.5,1400.6H1103.6L1104.1,1396.2H1104.2L1104.7,1393.4H1104.8L1105.3,1400.6H1105.4L1105.9,1396.2H1106.0L1106.5,1393.4H1107.2L1107.7,1396.2H1107.8L1108.3,1400.6H1108.4L1108.9,1393.4H1109.0L1109.5,1396.2H1109.6L1110.1,1400.6H1110.8L1111.3,1396.2H1112.6L1113.1,1400.6H1113.2L1113.7,1396.2H1114.4L1114.9,1402.4H1115.0L1115.5,1400.6H1116.8L1117.3,1396.2H1120.4L1120.9,1400.6H1121.0L1121.5,1393.4H1121.6L1122.1,1402.4H1122.2L1122.7,1400.6H1124.6L1125.1,1396.2H1125.8L1126.3,1400.6H1126.4L1126.9,1402.4H1127.0L1127.5,1400.6H1128.2L1128.7,1396.2H1128.8L1129.3,1402.4H1129.4L1129.9,1396.2H1130.0L1130.5,1400.6H1130.6L1131.1,1396.2H1131.8L1132.3,1393.4H1132.4L1132.9,1396.2H1133.6L1134.1,1400.6H1134.8L1135.3,1402.4H1135.4L1135.9,1396.2H1136.0L1136.5,1400.6H1136.6L1137.1,1393.4H1137.2L1137.7,1396.2H1137.8L1138.3,1400.6H1139.0L1139.5,1396.2H1140.2L1140.7,1400.6H1140.8L1141.3,1396.2H1141.4L1141.9,1400.6H1142.0L1142.5,1396.2H1142.6L1143.1,1393.4H1143.2L1143.7,1400.6H1144.4L1144.9,1396.2H1145.0L1145.5,1400.6H1145.6L1146.1,1396.2H1146.8L1147.3,1400.6H1147.4L1147.9,1396.2H1148.0L1148.5,1400.6H1148.6L1149.1,1396.2H1149.2L1149.7,1400.6H1150.4L1150.9,1396.2H1151.6L1152.1,1400.6H1152.2L1152.7,1396.2H1154.0L1154.5,1400.6H1154.5" stroke="#00ff00" stroke-width="1.1"/>
<path d="M166.3,1400V1457" stroke="#ffff00" stroke-width="1.4"/>
<path d="M166.0,1400.5H166.2L166.8,1392.0H166.8L167.2,1400.5H167.2L167.8,1408.6H168.2L168.8,1392.0H168.8L169.2,1400.5H169.2L169.8,1383.6H169.8L170.2,1408.6H170.2L170.8,1392.0H170.8L171.2,1400.5H171.2L171.8,1408.6H171.8L172.2,1392.0H172.2L172.8,1400.5H173.2L173.8,1392.0H173.8L174.2,1400.5H174.2L174.8,1408.6H174.8L175.2,1400.5H175.2L175.8,1392.0H175.8L176.2,1400.5H176.2L176.8,1392.0H176.8L177.2,1396.2H177.2L177.8,1392.0H177.8L178.2,1400.5H178.2L178.8,1392.0H178.8L179.2,1400.5H179.2L179.8,1392.0H179.8L180.2,1400.5H180.2L180.8,1396.2H180.8L181.2,1400.5H181.2L181.8,1392.0H181.8L182.2,1400.5H182.2L182.8,1396.2H182.8L183.2,1408.6H183.2L183.8,1400.5H183.8L184.2,1408.6H184.2L184.8,1400.5H184.8L185.2,1408.6H185.2L185.8,1392.0H185.8L186.2,1396.2H186.2L186.8,1392.0H186.8L187.2,1396.2H187.2L187.8,1400.5H187.8L188.2,1396.2H188.2L188.8,1392.0H188.8L189.2,1400.5H189.2L189.8,1392.0H189.8L190.2,1400.5H190.2L190.8,1392.0H190.8L191.2,1400.5H191.2L191.8,1392.0H191.8L192.2,1400.5H192.2L192.8,1383.6H192.8L193.2,1392.0H193.2L193.8,1400.5H193.8L194.2,1392.0H194.2L194.8,1408.6H194.8L195.2,1392.0H195.8L196.2,1396.2H196.2L196.8,1400.5H196.8L197.2,1392.0H197.2L197.8,1400.5H198.2L198.8,1392.0H199.2L199.8,1396.2H199.8L200.2,1408.6H200.2L200.8,1400.5H200.8L201.2,1392.0H201.2L201.8,1400.5H201.8L202.2,1392.0H202.2L202.8,1400.5H202.8L203.2,1392.0H203.2L203.8,1400.5H203.8L204.2,1392.0H204.2L204.8,1400.5H204.8L205.2,1392.0H205.2L205.8,1400.5H206.2L206.8,1392.0H206.8L207.2,1383.6H207.2L207.8,1400.5H207.8L208.2,1392.0H208.2L208.8,1383.6H209.2L209.8,1392.0H210.2L210.8,1400.5H210.8L211.2,1383.6H211.2L211.8,1392.0H212.8L213.2,1400.5H213.2L213.8,1383.6H214.2L214.8,1396.2H214.8L215.2,1400.5H215.8L216.2,1383.6H216.2L216.8,1392.0H216.8L217.2,1400.5H217.8L218.2,1408.6H218.2L218.8,1400.5H219.2L219.8,1392.0H219.8L220.2,1400.5H220.2L220.8,1392.0H220.8L221.2,1383.6H221.2L221.8,1400.5H222.2L222.8,1383.6H222.8L223.2,1392.0H223.2L223.8,1383.6H223.8L224.2,1400.5H224.2L224.8,1383.6H224.8L225.2,1392.0H225.8L226.2,1400.5H226.2L226.8,1392.0H226.8L227.2,1400.5H227.8L228.2,1408.6H228.2L228.8,1383.6H228.8L229.2,1400.5H229.2L229.8,1392.0H229.8L230.2,1400.5H230.8L231.2,1408.6H231.2L231.8,1392.0H232.2L232.8,1400.5H232.8L233.2,1392.0H233.2L233.8,1400.5H234.2L234.8,1396.2H235.8L236.2,1400.5H236.2L236.8,1396.2H236.8L237.2,1408.6H237.2L237.8,1400.5H237.8L238.2,1392.0H238.8L239.2,1400.5H239.2L239.8,1396.2H239.8L240.2,1383.6H240.8L241.2,1408.6H241.2L241.8,1400.5H241.8L242.2,1408.6H242.2L242.8,1392.0H243.2L243.8,1396.2H243.8L244.2,1383.6H244.2L244.8,1400.5H244.8L245.2,1392.0H245.2L245.8,1400.5H246.2L246.8,1396.2H246.8L247.2,1400.5H247.2L247.8,1392.0H247.8L248.2,1383.6H248.2L248.8,1396.2H248.8L249.2,1392.0H249.2L249.8,1400.5H249.8L250.2,1383.6H250.2L250.8,1400.5H250.8L251.2,1392.0H251.2L251.8,1396.2H251.8L252.2,1392.0H252.8L253.2,1400.5H253.2L253.8,1392.0H253.8L254.2,1400.5H254.8L255.2,1392.0H255.2L255.8,1396.2H255.8L256.2,1400.5H256.2L256.8,1392.0H256.8L257.2,1396.2H257.2L257.8,1392.0H257.8L258.2,1400.5H258.2L258.8,1392.0H258.8L259.2,1400.5H259.2L259.8,1392.0H260.8L261.2,1400.5H261.2L261.8,1396.2H261.8L262.2,1400.5H262.2L262.8,1392.0H262.8L263.2,1400.5H263.2L263.8,1392.0H263.8L264.2,1400.5H265.2L265.8,1408.6H265.8L266.2,1396.2H266.2L266.8,1392.0H266.8L267.2,1400.5H267.2L267.8,1392.0H267.8L268.2,1400.5H268.2L268.8,1392.0H268.8L269.2,1383.6H269.2L269.8,1408.6H269.8L270.2,1400.5H270.2L270.8,1392.0H270.8L271.2,1400.5H271.2L271.8,1408.6H271.8L272.2,1392.0H272.2L272.8,1400.5H272.8L273.2,1392.0H273.2L273.8,1400.5H273.8L274.2,1392.0H274.2L274.8,1383.6H275.2L275.8,1400.5H275.8L276.2,1392.0H276.2L276.8,1400.5H277.2L277.8,1396.2H277.8L278.2,1400.5H278.2L278.8,1396.2H278.8L279.2,1383.6H279.2L279.8,1392.0H280.8L281.2,1396.2H281.2L281.8,1392.0H281.8L282.2,1400.5H282.2L282.8,1392.0H282.8L283.2,1400.5H283.8L284.2,1408.6H284.2L284.8,1392.0H285.2L285.8,1400.5H285.8L286.2,1392.0H286.8L287.2,1400.5H287.2L287.8,1392.0H287.8L288.2,1400.5H288.2L288.8,1392.0H288.8L289.2,1400.5H289.2L289.8,1392.0H289.8L290.2,1400.5H290.8L291.2,1396.2H291.2L291.8,1400.5H291.8L292.2,1392.0H292.2L292.8,1400.5H292.8L293.2,1396.2H293.2L293.8,1400.5H293.8L294.2,1392.0H294.2L294.8,1383.6H294.8L295.2,1392.0H295.2L295.8,1383.6H295.8L296.2,1396.2H296.8L297.2,1400.5H297.2L297.8,1392.0H297.8L298.2,1400.5H298.8L299.2,1408.6H299.2L299.8,1396.2H299.8L300.2,1400.5H300.2L300.8,1392.0H301.8L302.2,1400.5H302.2L302.8,1392.0H302.8L303.2,1383.6H303.2L303.8,1400.5H303.8L304.2,1392.0H304.2L304.8,1400.5H304.8L305.2,1392.0H305.2L305.8,1408.6H305.8L306.2,1396.2H306.2L306.8,1392.0H307.2L307.8,1400.5H307.8L308.2,1396.2H308.2L308.8,1392.0H308.8L309.2,1400.5H309.2L309.8,1392.0H309.8L310.2,1400.5H310.2L310.8,1396.2H310.8L311.2,1392.0H311.2L311.8,1408.6H311.8L312.2,1400.5H312.2L312.8,1392.0H312.8L313.2,1400.5H313.8L314.2,1392.0H314.2L314.8,1400.5H314.8L315.2,1392.0H315.2L315.8,1400.5H315.8L316.2,1392.0H316.8L317.2,1400.5H317.8L318.2,1392.0H318.2L318.8,1400.5H318.8L319.2,1408.6H319.2L319.8,1396.2H319.8L320.2,1383.6H320.2L320.8,1400.5H320.8L321.2,1383.6H321.2L321.8,1392.0H321.8L322.2,1400.5H322.2L322.8,1392.0H322.8L323.2,1400.5H323.8L324.2,1392.0H324.2L324.8,1383.6H324.8L325.2,1400.5H325.2L325.8,1392.0H326.2L326.8,1400.5H326.8L327.2,1396.2H327.2L327.8,1400.5H328.2L328.8,1383.6H328.8L329.2,1396.2H329.2L329.8,1408.6H329.8L330.2,1392.0H330.2L330.8,1400.5H330.8L331.2,1408.6H331.2L331.8,1392.0H331.8L332.2,1396.2H332.2L332.8,1392.0H333.2L333.8,1400.5H334.2L334.8,1392.0H334.8L335.2,1400.5H335.2L335.8,1392.0H335.8L336.2,1400.5H336.2L336.8,1392.0H336.8L337.2,1400.5H338.2L338.8,1392.0H339.2L339.8,1400.5H339.8L340.2,1392.0H340.2L340.8,1400.5H340.8L341.2,1392.0H341.8L342.2,1408.6H342.2L342.8,1400.5H342.8L343.2,1383.6H343.8L344.2,1408.6H344.2L344.8,1392.0H344.8L345.2,1400.5H345.8L346.2,1392.0H346.2L346.8,1383.6H346.8L347.2,1400.5H347.2L347.8,1392.0H347.8L348.2,1400.5H348.2L348.8,1383.6H348.8L349.2,1392.0H349.2L349.8,1400.5H349.8L350.2,1392.0H350.2L350.8,1400.5H350.8L351.2,1408.6H351.2L351.8,1396.2H351.8L352.2,1392.0H352.2L352.8,1408.6H352.8L353.2,1392.0H353.2L353.8,1400.5H353.8L354.2,1392.0H354.2L354.8,1400.5H355.2L355.8,1392.0H356.2L356.8,1400.5H356.8L357.2,1392.0H357.8L358.2,1400.5H358.2L358.8,1392.0H358.8L359.2,1396.2H359.8L360.2,1400.5H360.2L360.8,1392.0H361.2L361.8,1396.2H361.8L362.2,1392.0H362.2L362.8,1383.6H362.8L363.2,1408.6H363.2L363.8,1400.5H363.8L364.2,1392.0H364.8L365.2,1400.5H365.2L365.8,1383.6H365.8L366.2,1392.0H366.2L366.8,1400.5H366.8L367.2,1408.6H367.2L367.8,1400.5H367.8L368.2,1392.0H368.8L369.2,1400.5H369.8L370.2,1392.0H370.2L370.8,1400.5H370.8L371.2,1392.0H371.2L371.8,1396.2H372.2L372.8,1392.0H372.8L373.2,1400.5H373.2L373.8,1392.0H373.8L374.2,1396.2H374.2L374.8,1400.5H374.8L375.2,1392.0H375.2L375.8,1400.5H375.8L376.2,1392.0H376.2L376.8,1408.6H376.8L377.2,1400.5H378.2L378.8,1392.0H378.8L379.2,1400.5H379.2L379.8,1392.0H379.8L380.2,1408.6H380.8L381.2,1383.6H381.2L381.8,1400.5H381.8L382.2,1392.0H382.2L382.8,1400.5H382.8L383.2,1396.2H383.8L384.2,1392.0H384.2L384.8,1408.6H384.8L385.2,1400.5H386.8L387.2,1392.0H387.2L387.8,1400.5H387.8L388.2,1396.2H388.2L388.8,1392.0H388.8L389.2,1408.6H389.2L389.8,1383.6H389.8L390.2,1396.2H390.2L390.8,1392.0H390.8L391.2,1400.5H391.2L391.8,1392.0H391.8L392.2,1400.5H392.2L392.8,1392.0H392.8L393.2,1396.2H393.2L393.8,1392.0H393.8L394.2,1400.5H394.2L394.8,1392.0H395.2L395.8,1400.5H395.8L396.2,1392.0H396.8L397.2,1400.5H397.2L397.8,1392.0H397.8L398.2,1396.2H398.2L398.8,1392.0H399.2L399.8,1400.5H399.8L400.2,1408.6H400.2L400.8,1400.5H400.8L401.2,1392.0H401.2L401.8,1400.5H401.8L402.2,1392.0H402.2L402.8,1400.5H403.2L403.8,1392.0H403.8L404.2,1400.5H404.2L404.8,1392.0H404.8L405.2,1400.5H406.2L406.8,1392.0H406.8L407.2,1400.5H407.8L408.2,1392.0H408.2L408.8,1400.5H408.8L409.2,1383.6H409.2L409.8,1408.6H409.8L410.2,1392.0H410.2L410.8,1400.5H410.8L411.2,1392.0H411.2L411.8,1400.5H411.8L412.2,1392.0H412.8L413.2,1400.5H413.2L413.8,1392.0H413.8L414.2,1400.5H416.2L416.8,1392.0H416.8L417.2,1400.5H417.8L418.2,1392.0H418.2L418.8,1408.6H418.8L419.2,1400.5H419.2L419.8,1392.0H420.2L420.8,1400.5H420.8L421.2,1392.0H421.2L421.8,1400.5H422.2L422.8,1383.6H422.8L423.2,1408.6H423.2L423.8,1400.5H423.8L424.2,1392.0H424.2L424.8,1400.5H424.8L425.2,1383.6H425.2L425.8,1392.0H425.8L426.2,1383.6H426.2L426.8,1400.5H426.8L427.2,1383.6H427.2L427.8,1392.0H427.8L428.2,1396.2H428.2L428.8,1400.5H428.8L429.2,1392.0H429.2L429.8,1400.5H429.8L430.2,1392.0H430.2L430.8,1383.6H430.8L431.2,1396.2H431.8L432.2,1400.5H432.2L432.8,1392.0H432.8L433.2,1383.6H433.2L433.8,1400.5H433.8L434.2,1392.0H434.2L434.8,1408.6H434.8L435.2,1400.5H435.2L435.8,1392.0H435.8L436.2,1400.5H436.2L436.8,1383.6H437.2L437.8,1392.0H437.8L438.2,1400.5H438.2L438.8,1396.2H438.8L439.2,1408.6H439.2L439.8,1400.5H439.8L440.2,1392.0H440.2L440.8,1400.5H440.8L441.2,1392.0H441.2L441.8,1408.6H441.8L442.2,1400.5H442.2L442.8,1408.6H442.8L443.2,1392.0H443.2L443.8,1400.5H443.8L444.2,1392.0H444.2L444.8,1400.5H445.2L445.8,1408.6H445.8L446.2,1392.0H446.2L446.8,1400.5H446.8L447.2,1392.0H447.2L447.8,1396.2H448.2L448.8,1400.5H448.8L449.2,1392.0H449.2L449.8,1400.5H449.8L450.2,1396.2H450.2L450.8,1400.5H450.8L451.2,1392.0H451.2L451.8,1383.6H451.8L452.2,1408.6H452.2L452.8,1392.0H452.8L453.2,1383.6H453.2L453.8,1400.5H453.8L454.2,1392.0H454.2L454.8,1400.5H455.2L455.8,1383.6H455.8L456.2,1392.0H456.2L456.8,1400.5H457.2L457.8,1396.2H457.8L458.2,1392.0H458.2L458.8,1400.5H458.8L459.2,1392.0H459.2L459.8,1400.5H459.8L460.2,1392.0H460.2L460.8,1396.2H460.8L461.2,1392.0H461.8L462.2,1408.6H462.2L462.8,1400.5H462.8L463.2,1392.0H463.2L463.8,1400.5H463.8L464.2,1392.0H464.2L464.8,1400.5H465.2L465.8,1392.0H465.8L466.2,1400.5H466.2L466.8,1392.0H466.8L467.2,1383.6H467.2L467.8,1400.5H467.8L468.2,1392.0H468.2L468.8,1400.5H468.8L469.2,1383.6H469.2L469.8,1408.6H469.8L470.2,1392.0H470.2L470.8,1396.2H470.8L471.2,1383.6H471.2L471.8,1400.5H471.8L472.2,1392.0H472.2L472.8,1383.6H472.8L473.2,1400.5H473.2L473.8,1383.6H473.8L474.2,1400.5H474.2L474.8,1392.0H474.8L475.2,1400.5H475.2L475.8,1396.2H475.8L476.2,1383.6H476.2L476.8,1400.5H476.8L477.2,1392.0H477.2L477.8,1383.6H477.8L478.2,1392.0H478.2L478.8,1400.5H478.8L479.2,1396.2H479.2L479.8,1400.5H479.8L480.2,1392.0H480.2L480.8,1400.5H480.8L481.2,1392.0H481.2L481.8,1400.5H481.8L482.2,1392.0H482.2L482.8,1400.5H482.8L483.2,1383.6H483.2L483.8,1396.2H483.8L484.2,1383.6H484.2L484.8,1400.5H484.8L485.2,1392.0H485.2L485.8,1396.2H485.8L486.2,1392.0H486.2L486.8,1400.5H486.8L487.2,1383.6H487.2L487.8,1392.0H488.2L488.8,1400.5H488.8L489.2,1392.0H489.2L489.8,1396.2H489.8L490.2,1400.5H490.2L490.8,1392.0H490.8L491.2,1383.6H491.2L491.8,1400.5H491.8L492.2,1392.0H492.2L492.8,1396.2H492.8L493.2,1400.5H493.2L493.8,1392.0H493.8L494.2,1400.5H494.2L494.8,1396.2H494.8L495.2,1383.6H495.2L495.8,1408.6H495.8L496.2,1400.5H496.2L496.8,1392.0H496.8L497.2,1400.5H497.8L498.2,1392.0H498.2L498.8,1400.5H498.8L499.2,1392.0H499.2L499.8,1400.5H500.2L500.8,1396.2H500.8L501.2,1383.6H501.2L501.8,1408.6H501.8L502.2,1383.6H502.8L503.2,1400.5H503.2L503.8,1392.0H503.8L504.2,1400.5H504.2L504.8,1392.0H504.8L505.2,1400.5H505.2L505.8,1392.0H505.8L506.2,1400.5H506.2L506.8,1408.6H506.8L507.2,1392.0H507.2L507.8,1400.5H508.2L508.8,1392.0H508.8L509.2,1400.5H509.2L509.8,1383.6H509.8L510.2,1396.2H510.8L511.2,1408.6H511.2L511.8,1392.0H511.8L512.2,1400.5H512.2L512.8,1392.0H513.2L513.8,1408.6H514.2L514.8,1400.5H514.8L515.2,1408.6H515.2L515.8,1396.2H515.8L516.2,1400.5H516.2L516.8,1383.6H516.8L517.2,1396.2H517.2L517.8,1400.5H517.8L518.2,1392.0H518.8L519.2,1400.5H520.8L521.2,1383.6H521.2L521.8,1392.0H521.8L522.2,1400.5H522.2L522.8,1408.6H522.8L523.2,1392.0H523.2L523.8,1396.2H524.2L524.8,1383.6H524.8L525.2,1400.5H525.2L525.8,1392.0H525.8L526.2,1400.5H526.2L526.8,1408.6H526.8L527.2,1392.0H527.8L528.2,1400.5H528.2L528.8,1392.0H528.8L529.2,1400.5H529.8L530.2,1392.0H530.2L530.8,1383.6H530.8L531.2,1400.5H531.2L531.8,1396.2H531.8L532.2,1400.5H532.2L532.8,1392.0H532.8L533.2,1383.6H533.2L533.8,1392.0H534.2L534.8,1408.6H534.8L535.2,1400.5H535.2L535.8,1392.0H535.8L536.2,1400.5H536.2L536.8,1392.0H536.8L537.2,1408.6H537.8L538.2,1400.5H538.2L538.8,1392.0H538.8L539.2,1400.5H539.2L539.8,1392.0H539.8L540.2,1400.5H540.8L541.2,1392.0H542.2L542.8,1383.6H543.2L543.8,1400.5H543.8L544.2,1383.6H544.2L544.8,1400.5H545.2L545.8,1383.6H545.8L546.2,1400.5H546.2L546.8,1408.6H546.8L547.2,1400.5H547.2L547.8,1392.0H547.8L548.2,1383.6H548.2L548.8,1392.0H548.8L549.2,1400.5H549.2L549.8,1392.0H550.8L551.2,1383.6H551.2L551.8,1400.5H551.8L552.2,1392.0H552.2L552.8,1400.5H552.8L553.2,1392.0H553.8L554.2,1400.5H554.2L554.8,1392.0H555.2L555.8,1400.5H555.8L556.2,1392.0H556.2L556.8,1396.2H556.8L557.2,1383.6H557.8L558.2,1392.0H558.2L558.8,1400.5H558.8L559.2,1392.0H559.2L559.8,1396.2H559.8L560.2,1400.5H560.2L560.8,1392.0H560.8L561.2,1400.5H561.2L561.8,1392.0H561.8L562.2,1400.5H562.2L562.8,1392.0H562.8L563.2,1383.6H563.2L563.8,1400.5H563.8L564.2,1392.0H564.2L564.8,1400.5H564.8L565.2,1392.0H565.2L565.8,1400.5H565.8L566.2,1383.6H566.8L567.2,1400.5H567.2L567.8,1392.0H568.2L568.8,1400.5H568.8L569.2,1396.2H569.2L569.8,1400.5H569.8L570.2,1396.2H570.2L570.8,1400.5H570.8L571.2,1392.0H571.2L571.8,1383.6H571.8L572.2,1400.5H572.2L572.8,1383.6H572.8L573.2,1392.0H573.2L573.8,1383.6H573.8L574.2,1392.0H574.2L574.8,1400.5H574.8L575.2,1392.0H575.2L575.8,1396.2H575.8L576.2,1392.0H576.2L576.8,1408.6H576.8L577.2,1400.5H577.2L577.8,1392.0H577.8L578.2,1400.5H578.2L578.8,1396.2H578.8L579.2,1400.5H579.2L579.8,1383.6H579.8L580.2,1392.0H580.2L580.8,1408.6H580.8L581.2,1396.2H581.2L581.8,1392.0H581.8L582.2,1400.5H582.2L582.8,1392.0H582.8L583.2,1400.5H583.2L583.8,1383.6H583.8L584.2,1400.5H584.2L584.8,1396.2H584.8L585.2,1400.5H585.2L585.8,1408.6H585.8L586.2,1392.0H586.2L586.8,1383.6H587.2L587.8,1400.5H587.8L588.2,1408.6H588.2L588.8,1392.0H588.8L589.2,1400.5H589.2L589.8,1408.6H589.8L590.2,1396.2H590.2L590.8,1408.6H591.2L591.8,1400.5H591.8L592.2,1383.6H592.2L592.8,1392.0H592.8L593.2,1400.5H593.2L593.8,1392.0H593.8L594.2,1400.5H594.2L594.8,1392.0H594.8L595.2,1400.5H595.2L595.8,1392.0H595.8L596.2,1396.2H596.2L596.8,1392.0H596.8L597.2,1408.6H597.2L597.8,1400.5H597.8L598.2,1408.6H598.2L598.8,1383.6H598.8L599.2,1392.0H599.2L599.8,1400.5H599.8L600.2,1392.0H600.2L600.8,1400.5H600.8L601.2,1392.0H601.2L601.8,1408.6H601.8L602.2,1400.5H602.2L602.8,1383.6H602.8L603.2,1392.0H603.2L603.8,1400.5H603.8L604.2,1392.0H604.8L605.2,1400.5H605.2L605.8,1392.0H605.8L606.2,1400.5H606.2L606.8,1392.0H606.8L607.2,1400.5H607.2L607.8,1392.0H607.8L608.2,1400.5H608.2L608.8,1392.0H609.2L609.8,1400.5H610.2L610.8,1392.0H610.8L611.2,1400.5H611.2L611.8,1396.2H611.8L612.2,1400.5H612.2L612.8,1392.0H612.8L613.2,1400.5H613.2L613.8,1396.2H613.8L614.2,1408.6H614.2L614.8,1400.5H614.8L615.2,1383.6H615.2L615.8,1400.5H615.8L616.2,1392.0H616.2L616.8,1408.6H616.8L617.2,1400.5H617.2L617.8,1408.6H617.8L618.2,1392.0H618.8L619.2,1400.5H619.8L620.2,1408.6H620.2L620.8,1383.6H620.8L621.2,1392.0H621.2L621.8,1400.5H621.8L622.2,1392.0H622.2L622.8,1400.5H622.8L623.2,1392.0H623.2L623.8,1383.6H623.8L624.2,1400.5H624.8L625.2,1392.0H625.2L625.8,1408.6H625.8L626.2,1400.5H626.2L626.8,1383.6H626.8L627.2,1392.0H627.2L627.8,1396.2H628.2L628.8,1400.5H629.2L629.8,1408.6H629.8L630.2,1392.0H630.2L630.8,1400.5H630.8L631.2,1392.0H631.2L631.8,1383.6H631.8L632.2,1400.5H632.2L632.8,1392.0H632.8L633.2,1396.2H633.2L633.8,1400.5H633.8L634.2,1392.0H634.2L634.8,1396.2H634.8L635.2,1400.5H635.2L635.8,1392.0H635.8L636.2,1400.5H636.2L636.8,1392.0H637.2L637.8,1400.5H637.8L638.2,1392.0H638.2L638.8,1396.2H638.8L639.2,1392.0H639.2L639.8,1383.6H640.2L640.8,1400.5H640.8L641.2,1392.0H641.2L641.8,1396.2H641.8L642.2,1392.0H642.2L642.8,1400.5H643.2L643.8,1383.6H643.8L644.2,1400.5H644.2L644.8,1396.2H644.8L645.2,1383.6H645.2L645.8,1400.5H646.2L646.8,1396.2H646.8L647.2,1408.6H647.2L647.8,1400.5H647.8L648.2,1408.6H648.2L648.8,1400.5H648.8L649.2,1392.0H650.2L650.8,1400.5H650.8L651.2,1392.0H651.2L651.8,1400.5H652.2L652.8,1396.2H652.8L653.2,1400.5H653.2L653.8,1408.6H653.8L654.2,1392.0H654.2L654.8,1408.6H654.8L655.2,1392.0H655.8L656.2,1400.5H656.2L656.8,1392.0H657.8L658.2,1400.5H658.2L658.8,1392.0H658.8L659.2,1396.2H659.2L659.8,1392.0H659.8L660.2,1400.5H660.2L660.8,1392.0H660.8L661.2,1400.5H661.2L661.8,1392.0H661.8L662.2,1408.6H662.2L662.8,1400.5H662.8L663.2,1392.0H663.2L663.8,1400.5H663.8L664.2,1392.0H664.2L664.8,1400.5H664.8L665.2,1408.6H665.8L666.2,1383.6H666.2L666.8,1392.0H666.8L667.2,1400.5H667.2L667.8,1392.0H667.8L668.2,1408.6H668.2L668.8,1396.2H669.2L669.8,1408.6H669.8L670.2,1396.2H670.8L671.2,1408.6H672.2L672.8,1392.0H672.8L673.2,1408.6H673.2L673.8,1396.2H673.8L674.2,1392.0H674.2L674.8,1400.5H674.8L675.2,1392.0H675.2L675.8,1400.5H675.8L676.2,1392.0H676.2L676.8,1400.5H676.8L677.2,1392.0H677.2L677.8,1396.2H677.8L678.2,1392.0H678.2L678.8,1383.6H679.2L679.8,1400.5H679.8L680.2,1392.0H680.2L680.8,1400.5H680.8L681.2,1392.0H681.2L681.8,1383.6H681.8L682.2,1400.5H682.2L682.8,1392.0H682.8L683.2,1400.5H683.2L683.8,1392.0H683.8L684.2,1400.5H684.2L684.8,1392.0H684.8L685.2,1400.5H685.2L685.8,1392.0H685.8L686.2,1400.5H686.2L686.8,1392.0H686.8L687.2,1396.2H687.2L687.8,1392.0H687.8L688.2,1400.5H688.2L688.8,1383.6H688.8L689.2,1392.0H689.2L689.8,1400.5H689.8L690.2,1392.0H690.2L690.8,1400.5H690.8L691.2,1392.0H691.2L691.8,1400.5H691.8L692.2,1392.0H692.8L693.2,1408.6H693.2L693.8,1400.5H693.8L694.2,1392.0H694.2L694.8,1408.6H694.8L695.2,1400.5H696.2L696.8,1392.0H697.2L697.8,1400.5H697.8L698.2,1396.2H698.2L698.8,1383.6H698.8L699.2,1400.5H699.2L699.8,1392.0H699.8L700.2,1400.5H700.2L700.8,1392.0H700.8L701.2,1400.5H701.2L701.8,1392.0H701.8L702.2,1400.5H702.8L703.2,1408.6H703.2L703.8,1392.0H703.8L704.2,1396.2H704.2L704.8,1400.5H704.8L705.2,1396.2H705.2L705.8,1392.0H705.8L706.2,1400.5H706.2L706.8,1392.0H706.8L707.2,1400.5H707.2L707.8,1392.0H707.8L708.2,1400.5H708.2L708.8,1392.0H708.8L709.2,1383.6H709.2L709.8,1400.5H709.8L710.2,1392.0H710.2L710.8,1400.5H710.8L711.2,1392.0H711.2L711.8,1400.5H711.8L712.2,1396.2H712.2L712.8,1400.5H712.8L713.2,1392.0H713.8L714.2,1400.5H714.2L714.8,1383.6H715.2L715.8,1396.2H715.8L716.2,1392.0H716.2L716.8,1400.5H717.2L717.8,1383.6H717.8L718.2,1392.0H718.8L719.2,1396.2H719.2L719.8,1383.6H719.8L720.2,1400.5H720.2L720.8,1392.0H720.8L721.2,1400.5H721.2L721.8,1392.0H721.8L722.2,1400.5H722.2L722.8,1408.6H722.8L723.2,1383.6H723.2L723.8,1392.0H724.2L724.8,1396.2H724.8L725.2,1392.0H725.2L725.8,1400.5H725.8L726.2,1383.6H726.2L726.8,1392.0H726.8L727.2,1400.5H727.2L727.8,1383.6H727.8L728.2,1396.2H728.2L728.8,1392.0H728.8L729.2,1383.6H729.2L729.8,1392.0H729.8L730.2,1400.5H730.2L730.8,1392.0H730.8L731.2,1400.5H731.2L731.8,1392.0H732.2L732.8,1383.6H732.8L733.2,1396.2H733.2L733.8,1408.6H733.8L734.2,1400.5H734.2L734.8,1392.0H734.8L735.2,1408.6H735.2L735.8,1396.2H735.8L736.2,1408.6H736.2L736.8,1396.2H736.8L737.2,1400.5H737.2L737.8,1392.0H737.8L738.2,1408.6H738.8L739.2,1400.5H739.2L739.8,1392.0H739.8L740.2,1383.6H740.8L741.2,1396.2H741.8L742.2,1408.6H742.2L742.8,1400.5H742.8L743.2,1383.6H743.2L743.8,1392.0H744.2L744.8,1383.6H744.8L745.2,1400.5H745.2L745.8,1392.0H745.8L746.2,1400.5H746.2L746.8,1392.0H746.8L747.2,1400.5H747.2L747.8,1383.6H747.8L748.2,1392.0H748.2L748.8,1400.5H749.2L749.8,1392.0H749.8L750.2,1400.5H750.8L751.2,1396.2H751.2L751.8,1400.5H752.2L752.8,1396.2H752.8L753.2,1383.6H753.2L753.8,1400.5H754.2L754.8,1392.0H754.8L755.2,1400.5H755.2L755.8,1396.2H755.8L756.2,1392.0H756.2L756.8,1400.5H756.8L757.2,1392.0H757.2L757.8,1408.6H757.8L758.2,1400.5H758.2L758.8,1392.0H758.8L759.2,1383.6H759.2L759.8,1400.5H759.8L760.2,1392.0H762.2L762.8,1400.5H762.8L763.2,1392.0H763.2L763.8,1400.5H763.8L764.2,1396.2H764.2L764.8,1392.0H764.8L765.2,1383.6H765.2L765.8,1400.5H765.8L766.2,1408.6H766.2L766.8,1392.0H767.2L767.8,1396.2H767.8L768.2,1392.0H768.2L768.8,1400.5H768.8L769.2,1392.0H769.2L769.8,1400.5H770.2L770.8,1392.0H770.8L771.2,1400.5H771.2L771.8,1408.6H771.8L772.2,1392.0H772.2L772.8,1383.6H772.8L773.2,1400.5H773.2L773.8,1392.0H773.8L774.2,1400.5H774.2L774.8,1392.0H774.8L775.2,1400.5H775.2L775.8,1392.0H775.8L776.2,1400.5H776.2L776.8,1396.2H777.8L778.2,1400.5H778.2L778.8,1383.6H778.8L779.2,1392.0H779.2L779.8,1400.5H779.8L780.2,1396.2H780.2L780.8,1400.5H780.8L781.2,1392.0H781.2L781.8,1400.5H781.8L782.2,1396.2H782.2L782.8,1392.0H784.2L784.8,1408.6H784.8L785.2,1383.6H785.2L785.8,1400.5H785.8L786.2,1392.0H786.2L786.8,1400.5H786.8L787.2,1396.2H787.2L787.8,1400.5H787.8L788.2,1383.6H788.2L788.8,1400.5H788.8L789.2,1392.0H789.2L789.8,1400.5H789.8L790.2,1392.0H790.2L790.8,1408.6H790.8L791.2,1383.6H791.2L791.8,1400.5H791.8L792.2,1392.0H792.2L792.8,1400.5H792.8L793.2,1396.2H793.2L793.8,1392.0H793.8L794.2,1400.5H794.2L794.8,1392.0H794.8L795.2,1408.6H795.2L795.8,1383.6H795.8L796.2,1392.0H796.8L797.2,1408.6H797.2L797.8,1392.0H797.8L798.2,1400.5H798.2L798.8,1392.0H799.8L800.2,1396.2H800.2L800.8,1400.5H800.8L801.2,1392.0H801.2L801.8,1400.5H801.8L802.2,1396.2H802.2L802.8,1383.6H802.8L803.2,1408.6H803.2L803.8,1392.0H804.2L804.8,1400.5H804.8L805.2,1383.6H805.2L805.8,1400.5H805.8L806.2,1392.0H806.2L806.8,1400.5H806.8L807.2,1392.0H807.2L807.8,1400.5H807.8L808.2,1383.6H808.2L808.8,1392.0H808.8L809.2,1396.2H809.8L810.2,1408.6H810.8L811.2,1400.5H811.2L811.8,1383.6H811.8L812.2,1392.0H812.2L812.8,1400.5H813.2L813.8,1383.6H813.8L814.2,1408.6H814.8L815.2,1392.0H815.2L815.8,1383.6H815.8L816.2,1400.5H816.2L816.8,1383.6H816.8L817.2,1392.0H817.8L818.2,1400.5H818.8L819.2,1392.0H819.2L819.8,1400.5H819.8L820.2,1383.6H820.2L820.8,1392.0H820.8L821.2,1396.2H821.2L821.8,1400.5H821.8L822.2,1392.0H822.8L823.2,1400.5H823.8L824.2,1392.0H824.2L824.8,1400.5H824.8L825.2,1392.0H825.2L825.8,1400.5H825.8L826.2,1396.2H826.2L826.8,1383.6H826.8L827.2,1400.5H827.2L827.8,1392.0H827.8L828.2,1400.5H828.2L828.8,1392.0H828.8L829.2,1383.6H829.2L829.8,1392.0H829.8L830.2,1400.5H830.2L830.8,1392.0H830.8L831.2,1400.5H831.2L831.8,1396.2H831.8L832.2,1408.6H832.2L832.8,1400.5H832.8L833.2,1392.0H833.2L833.8,1408.6H833.8L834.2,1400.5H834.2L834.8,1392.0H834.8L835.2,1400.5H835.2L835.8,1392.0H835.8L836.2,1400.5H837.2L837.8,1392.0H837.8L838.2,1400.5H838.2L838.8,1392.0H838.8L839.2,1400.5H839.2L839.8,1392.0H840.2L840.8,1400.5H840.8L841.2,1392.0H841.2L841.8,1400.5H842.2L842.8,1392.0H842.8L843.2,1400.5H843.2L843.8,1392.0H844.2L844.8,1400.5H844.8L845.2,1392.0H846.2L846.8,1400.5H846.8L847.2,1392.0H847.2L847.8,1383.6H848.2L848.8,1392.0H848.8L849.2,1383.6H849.8L850.2,1392.0H850.2L850.8,1408.6H850.8L851.2,1396.2H851.2L851.8,1400.5H851.8L852.2,1392.0H852.2L852.8,1400.5H852.8L853.2,1392.0H853.8L854.2,1400.5H854.2L854.8,1392.0H854.8L855.2,1400.5H855.2L855.8,1392.0H855.8L856.2,1400.5H856.2L856.8,1392.0H856.8L857.2,1383.6H857.2L857.8,1400.5H857.8L858.2,1392.0H858.2L858.8,1400.5H859.2L859.8,1396.2H859.8L860.2,1383.6H860.2L860.8,1400.5H860.8L861.2,1392.0H861.2L861.8,1400.5H861.8L862.2,1392.0H862.8L863.2,1400.5H863.2L863.8,1408.6H863.8L864.2,1392.0H864.2L864.8,1400.5H864.8L865.2,1392.0H865.2L865.8,1396.2H865.8L866.2,1383.6H866.2L866.8,1396.2H866.8L867.2,1392.0H867.2L867.8,1400.5H867.8L868.2,1392.0H868.8L869.2,1400.5H869.2L869.8,1383.6H869.8L870.2,1392.0H870.2L870.8,1383.6H870.8L871.2,1392.0H871.8L872.2,1400.5H872.8L873.2,1392.0H873.8L874.2,1400.5H875.2L875.8,1383.6H875.8L876.2,1392.0H876.2L876.8,1408.6H877.2L877.8,1396.2H878.2L878.8,1392.0H878.8L879.2,1400.5H879.2L879.8,1392.0H879.8L880.2,1400.5H880.2L880.8,1392.0H881.2L881.8,1400.5H881.8L882.2,1392.0H882.2L882.8,1383.6H884.2L884.8,1408.6H884.8L885.2,1400.5H885.2L885.8,1392.0H885.8L886.2,1400.5H886.2L886.8,1392.0H886.8L887.2,1400.5H887.2L887.8,1392.0H887.8L888.2,1396.2H888.2L888.8,1392.0H888.8L889.2,1396.2H889.2L889.8,1392.0H889.8L890.2,1400.5H890.2L890.8,1392.0H891.2L891.8,1396.2H891.8L892.2,1392.0H892.2L892.8,1400.5H892.8L893.2,1392.0H893.2L893.8,1400.5H893.8L894.2,1383.6H894.2L894.8,1392.0H894.8L895.2,1400.5H895.8L896.2,1383.6H896.2L896.8,1392.0H896.8L897.2,1400.5H897.2L897.8,1392.0H897.8L898.2,1383.6H898.8L899.2,1400.5H899.2L899.8,1392.0H899.8L900.2,1383.6H900.2L900.8,1400.5H900.8L901.2,1392.0H901.8L902.2,1400.5H902.2L902.8,1392.0H902.8L903.2,1400.5H903.2L903.8,1392.0H903.8L904.2,1400.5H904.8L905.2,1396.2H905.2L905.8,1392.0H905.8L906.2,1383.6H906.2L906.8,1400.5H906.8L907.2,1392.0H907.2L907.8,1400.5H907.8L908.2,1383.6H908.2L908.8,1396.2H908.8L909.2,1392.0H909.2L909.8,1400.5H909.8L910.2,1392.0H910.2L910.8,1400.5H910.8L911.2,1392.0H911.2L911.8,1400.5H911.8L912.2,1392.0H912.2L912.8,1400.5H912.8L913.2,1392.0H913.2L913.8,1383.6H913.8L914.2,1400.5H914.2L914.8,1392.0H914.8L915.2,1400.5H915.8L916.2,1392.0H916.2L916.8,1383.6H916.8L917.2,1408.6H917.2L917.8,1392.0H917.8L918.2,1400.5H918.2L918.8,1392.0H918.8L919.2,1400.5H919.2L919.8,1392.0H919.8L920.2,1400.5H920.2L920.8,1392.0H920.8L921.2,1400.5H921.2L921.8,1392.0H921.8L922.2,1400.5H922.2L922.8,1396.2H922.8L923.2,1408.6H923.2L923.8,1400.5H924.2L924.8,1392.0H924.8L925.2,1400.5H925.2L925.8,1392.0H925.8L926.2,1400.5H926.2L926.8,1383.6H926.8L927.2,1392.0H927.2L927.8,1400.5H928.2L928.8,1392.0H928.8L929.2,1408.6H929.2L929.8,1400.5H929.8L930.2,1383.6H930.2L930.8,1392.0H930.8L931.2,1400.5H931.2L931.8,1392.0H931.8L932.2,1400.5H932.2L932.8,1392.0H932.8L933.2,1400.5H933.2L933.8,1392.0H933.8L934.2,1400.5H934.2L934.8,1408.6H934.8L935.2,1392.0H935.2L935.8,1383.6H935.8L936.2,1400.5H936.2L936.8,1396.2H936.8L937.2,1408.6H937.2L937.8,1392.0H937.8L938.2,1400.5H938.2L938.8,1392.0H938.8L939.2,1400.5H939.2L939.8,1392.0H940.8L941.2,1400.5H942.2L942.8,1392.0H942.8L943.2,1400.5H943.2L943.8,1392.0H944.2L944.8,1383.6H945.2L945.8,1392.0H945.8L946.2,1400.5H946.2L946.8,1392.0H946.8L947.2,1408.6H947.2L947.8,1392.0H947.8L948.2,1408.6H948.2L948.8,1400.5H948.8L949.2,1392.0H949.2L949.8,1400.5H949.8L950.2,1392.0H950.2L950.8,1408.6H950.8L951.2,1400.5H951.2L951.8,1383.6H951.8L952.2,1392.0H952.2L952.8,1400.5H952.8L953.2,1396.2H953.2L953.8,1400.5H953.8L954.2,1383.6H954.2L954.8,1396.2H954.8L955.2,1392.0H955.2L955.8,1400.5H955.8L956.2,1408.6H956.2L956.8,1400.5H956.8L957.2,1392.0H957.2L957.8,1383.6H957.8L958.2,1392.0H958.8L959.2,1400.5H959.2L959.8,1392.0H960.2L960.8,1400.5H961.2L961.8,1383.6H961.8L962.2,1400.5H962.2L962.8,1392.0H962.8L963.2,1400.5H963.2L963.8,1392.0H963.8L964.2,1396.2H964.2L964.8,1392.0H964.8L965.2,1400.5H965.2L965.8,1392.0H965.8L966.2,1400.5H966.2L966.8,1392.0H966.8L967.2,1400.5H967.2L967.8,1392.0H968.2L968.8,1400.5H968.8L969.2,1392.0H969.2L969.8,1383.6H969.8L970.2,1400.5H970.2L970.8,1392.0H970.8L971.2,1400.5H971.8L972.2,1392.0H972.2L972.8,1400.5H972.8L973.2,1392.0H973.2L973.8,1400.5H973.8L974.2,1392.0H974.2L974.8,1400.5H975.2L975.8,1396.2H975.8L976.2,1408.6H976.2L976.8,1400.5H976.8L977.2,1392.0H977.8L978.2,1400.5H978.2L978.8,1392.0H979.2L979.8,1400.5H979.8L980.2,1392.0H980.2L980.8,1400.5H980.8L981.2,1392.0H981.2L981.8,1408.6H981.8L982.2,1396.2H982.2L982.8,1400.5H982.8L983.2,1392.0H983.2L983.8,1400.5H983.8L984.2,1408.6H984.2L984.8,1392.0H984.8L985.2,1408.6H985.2L985.8,1400.5H985.8L986.2,1392.0H986.2L986.8,1400.5H986.8L987.2,1408.6H987.2L987.8,1383.6H987.8L988.2,1392.0H988.2L988.8,1396.2H988.8L989.2,1400.5H989.2L989.8,1396.2H990.2L990.8,1392.0H990.8L991.2,1400.5H991.2L991.8,1408.6H991.8L992.2,1383.6H992.2L992.8,1408.6H993.2L993.8,1392.0H993.8L994.2,1400.5H994.2L994.8,1392.0H994.8L995.2,1408.6H995.2L995.8,1400.5H996.2L996.8,1392.0H996.8L997.2,1400.5H997.2L997.8,1392.0H997.8L998.2,1400.5H998.8L999.2,1408.6H999.2L999.8,1400.5H999.8L1000.2,1408.6H1000.2L1000.8,1383.6H1000.8L1001.2,1392.0H1001.2L1001.8,1400.5H1001.8L1002.2,1392.0H1002.2L1002.8,1383.6H1002.8L1003.2,1400.5H1003.8L1004.2,1392.0H1004.2L1004.8,1400.5H1005.2L1005.8,1396.2H1005.8L1006.2,1392.0H1006.2L1006.8,1400.5H1006.8L1007.2,1392.0H1007.2L1007.8,1383.6H1007.8L1008.2,1396.2H1008.2L1008.8,1392.0H1008.8L1009.2,1400.5H1009.2L1009.8,1383.6H1009.8L1010.2,1392.0H1010.8L1011.2,1408.6H1011.2L1011.8,1400.5H1011.8L1012.2,1392.0H1012.2L1012.8,1400.5H1012.8L1013.2,1396.2H1013.2L1013.8,1400.5H1013.8L1014.2,1392.0H1014.2L1014.8,1400.5H1014.8L1015.2,1392.0H1015.2L1015.8,1400.5H1015.8L1016.2,1392.0H1016.2L1016.8,1400.5H1017.2L1017.8,1408.6H1017.8L1018.2,1383.6H1018.2L1018.8,1400.5H1018.8L1019.2,1392.0H1019.2L1019.8,1400.5H1019.8L1020.2,1408.6H1020.8L1021.2,1400.5H1021.2L1021.8,1392.0H1021.8L1022.2,1400.5H1022.2L1022.8,1408.6H1022.8L1023.2,1392.0H1023.2L1023.8,1408.6H1023.8L1024.2,1400.5H1024.2L1024.8,1392.0H1024.8L1025.2,1400.5H1025.2L1025.8,1392.0H1025.8L1026.2,1400.5H1026.2L1026.8,1392.0H1026.8L1027.2,1400.5H1027.2L1027.8,1392.0H1027.8L1028.2,1396.2H1028.2L1028.8,1408.6H1028.8L1029.2,1392.0H1029.2L1029.8,1396.2H1030.2L1030.8,1400.5H1031.8L1032.2,1396.2H1032.2L1032.8,1400.5H1032.8L1033.2,1392.0H1033.2L1033.8,1383.6H1033.8L1034.2,1400.5H1034.2L1034.8,1392.0H1035.2L1035.8,1408.6H1035.8L1036.2,1400.5H1036.2L1036.8,1392.0H1036.8L1037.2,1400.5H1037.2L1037.8,1408.6H1037.8L1038.2,1400.5H1038.2L1038.8,1392.0H1038.8L1039.2,1400.5H1039.2L1039.8,1392.0H1039.8L1040.2,1400.5H1040.2L1040.8,1383.6H1040.8L1041.2,1396.2H1041.2L1041.8,1400.5H1042.2L1042.8,1383.6H1042.8L1043.2,1392.0H1043.2L1043.8,1383.6H1043.8L1044.2,1392.0H1044.2L1044.8,1400.5H1044.8L1045.2,1396.2H1045.2L1045.8,1400.5H1045.8L1046.2,1392.0H1046.2L1046.8,1396.2H1046.8L1047.2,1408.6H1047.2L1047.8,1392.0H1047.8L1048.2,1400.5H1048.8L1049.2,1383.6H1049.2L1049.8,1392.0H1049.8L1050.2,1383.6H1050.2L1050.8,1392.0H1051.2L1051.8,1400.5H1051.8L1052.2,1396.2H1052.2L1052.8,1400.5H1052.8L1053.2,1392.0H1053.2L1053.8,1400.5H1053.8L1054.2,1392.0H1054.2L1054.8,1408.6H1054.8L1055.2,1400.5H1055.8L1056.2,1383.6H1056.2L1056.8,1392.0H1056.8L1057.2,1408.6H1057.2L1057.8,1400.5H1057.8L1058.2,1392.0H1058.2L1058.8,1396.2H1058.8L1059.2,1392.0H1059.2L1059.8,1400.5H1059.8L1060.2,1392.0H1060.2L1060.8,1408.6H1060.8L1061.2,1383.6H1061.2L1061.8,1392.0H1061.8L1062.2,1400.5H1062.2L1062.8,1392.0H1062.8L1063.2,1396.2H1063.2L1063.8,1400.5H1063.8L1064.2,1408.6H1064.2L1064.8,1383.6H1064.8L1065.2,1392.0H1065.2L1065.8,1408.6H1065.8L1066.2,1400.5H1066.2L1066.8,1396.2H1066.8L1067.2,1383.6H1067.2L1067.8,1400.5H1067.8L1068.2,1392.0H1068.2L1068.8,1400.5H1068.8L1069.2,1392.0H1069.2L1069.8,1408.6H1069.8L1070.2,1392.0H1070.8L1071.2,1396.2H1071.2L1071.8,1400.5H1071.8L1072.2,1396.2H1072.2L1072.8,1400.5H1073.2L1073.8,1392.0H1073.8L1074.2,1408.6H1074.2L1074.8,1400.5H1074.8L1075.2,1392.0H1075.2L1075.8,1400.5H1075.8L1076.2,1408.6H1076.2L1076.8,1392.0H1076.8L1077.2,1408.6H1077.2L1077.8,1400.5H1077.8L1078.2,1383.6H1078.2L1078.8,1396.2H1078.8L1079.2,1408.6H1079.2L1079.8,1400.5H1080.2L1080.8,1383.6H1080.8L1081.2,1392.0H1081.2L1081.8,1408.6H1081.8L1082.2,1400.5H1082.2L1082.8,1392.0H1082.8L1083.2,1400.5H1083.2L1083.8,1392.0H1083.8L1084.2,1408.6H1084.8L1085.2,1392.0H1085.8L1086.2,1400.5H1086.2L1086.8,1392.0H1086.8L1087.2,1383.6H1087.2L1087.8,1400.5H1087.8L1088.2,1392.0H1088.2L1088.8,1400.5H1088.8L1089.2,1408.6H1089.8L1090.2,1392.0H1090.2L1090.8,1400.5H1090.8L1091.2,1392.0H1091.2L1091.8,1400.5H1091.8L1092.2,1392.0H1092.2L1092.8,1400.5H1092.8L1093.2,1392.0H1093.2L1093.8,1396.2H1093.8L1094.2,1392.0H1094.2L1094.8,1400.5H1095.2L1095.8,1392.0H1095.8L1096.2,1383.6H1096.2L1096.8,1396.2H1096.8L1097.2,1383.6H1097.2L1097.8,1408.6H1097.8L1098.2,1396.2H1098.2L1098.8,1392.0H1098.8L1099.2,1400.5H1099.2L1099.8,1383.6H1100.2L1100.8,1392.0H1100.8L1101.2,1396.2H1101.2L1101.8,1400.5H1102.2L1102.8,1383.6H1102.8L1103.2,1396.2H1103.2L1103.8,1400.5H1103.8L1104.2,1392.0H1104.2L1104.8,1383.6H1104.8L1105.2,1400.5H1105.2L1105.8,1392.0H1105.8L1106.2,1400.5H1106.2L1106.8,1392.0H1106.8L1107.2,1408.6H1107.2L1107.8,1400.5H1107.8L1108.2,1396.2H1108.2L1108.8,1400.5H1108.8L1109.2,1396.2H1109.2L1109.8,1400.5H1109.8L1110.2,1392.0H1110.8L1111.2,1400.5H1111.2L1111.8,1392.0H1111.8L1112.2,1396.2H1112.2L1112.8,1392.0H1112.8L1113.2,1383.6H1113.2L1113.8,1400.5H1113.8L1114.2,1408.6H1114.8L1115.2,1392.0H1115.2L1115.8,1400.5H1115.8L1116.2,1392.0H1116.8L1117.2,1400.5H1117.2L1117.8,1396.2H1117.8L1118.2,1400.5H1118.2L1118.8,1408.6H1118.8L1119.2,1392.0H1119.2L1119.8,1400.5H1120.2L1120.8,1392.0H1120.8L1121.2,1400.5H1121.2L1121.8,1392.0H1121.8L1122.2,1408.6H1122.2L1122.8,1400.5H1122.8L1123.2,1396.2H1123.2L1123.8,1392.0H1123.8L1124.2,1400.5H1124.2L1124.8,1383.6H1124.8L1125.2,1408.6H1125.2L1125.8,1392.0H1125.8L1126.2,1408.6H1126.2L1126.8,1400.5H1126.8L1127.2,1408.6H1127.2L1127.8,1383.6H1127.8L1128.2,1400.5H1128.2L1128.8,1383.6H1128.8L1129.2,1392.0H1129.2L1129.8,1383.6H1129.8L1130.2,1400.5H1130.8L1131.2,1392.0H1131.2L1131.8,1400.5H1132.2L1132.8,1392.0H1132.8L1133.2,1400.5H1133.2L1133.8,1392.0H1133.8L1134.2,1396.2H1134.2L1134.8,1408.6H1134.8L1135.2,1392.0H1135.2L1135.8,1400.5H1136.2L1136.8,1392.0H1136.8L1137.2,1400.5H1137.2L1137.8,1408.6H1137.8L1138.2,1400.5H1138.2L1138.8,1396.2H1138.8L1139.2,1400.5H1139.2L1139.8,1383.6H1139.8L1140.2,1392.0H1140.2L1140.8,1383.6H1140.8L1141.2,1400.5H1141.2L1141.8,1396.2H1141.8L1142.2,1400.5H1142.2L1142.8,1383.6H1142.8L1143.2,1400.5H1143.2L1143.8,1392.0H1143.8L1144.2,1400.5H1144.2L1144.8,1392.0H1145.2L1145.8,1400.5H1145.8L1146.2,1383.6H1146.2L1146.8,1392.0H1146.8L1147.2,1400.5H1147.2L1147.8,1408.6H1147.8L1148.2,1400.5H1148.2L1148.8,1392.0H1149.2L1149.8,1400.5H1149.8L1150.2,1392.0H1150.2L1150.8,1408.6H1150.8L1151.2,1396.2H1151.2L1151.8,1408.6H1151.8L1152.2,1392.0H1152.2L1152.8,1400.5H1152.8L1153.2,1396.2H1153.2L1153.8,1392.0H1154.2L1154.8,1383.6H1154.5" stroke="#ffff00" stroke-width="1.45"/>
</g>
<path d="M165.5,1306.5H1154.5V1469.5H165.5ZM165.5,1387.5h10M1154.5,1387.5h-10M412.8,1306.5v10M412.8,1469.5v-10M660.0,1306.5v10M660.0,1469.5v-10M907.2,1306.5v10M907.2,1469.5v-10" stroke="#262626" stroke-width="1" fill="none"/>
<text x="157.00" y="1313.65" font-size="20.0" text-anchor="end" textLength="40.45" lengthAdjust="spacingAndGlyphs">100</text>
<text x="157.00" y="1394.65" font-size="20.0" text-anchor="end" textLength="13.48" lengthAdjust="spacingAndGlyphs">0</text>
<text x="157.00" y="1476.65" font-size="20.0" text-anchor="end" textLength="48.09" lengthAdjust="spacingAndGlyphs">-100</text>
<text x="72.00" y="1428.48" font-size="19.0" font-weight="bold" transform="rotate(-90 72.00 1428.48)" textLength="80.95" lengthAdjust="spacingAndGlyphs">Voltage</text>
<text x="98.00" y="1413.72" font-size="19.0" font-weight="bold" transform="rotate(-90 98.00 1413.72)" textLength="51.44" lengthAdjust="spacingAndGlyphs">(mV)</text>
<text x="1170.00" y="1439.50" font-size="14.8" font-weight="bold" fill="#000" transform="rotate(-90 1170.00 1439.50)" textLength="125.11" lengthAdjust="spacingAndGlyphs">Inboard VMon1</text>
<path d="M1168,1462.5V1477.5" stroke="#0000ff" stroke-width="1.6"/>
<text x="1181.90" y="1439.50" font-size="14.8" font-weight="bold" fill="#000" transform="rotate(-90 1181.90 1439.50)" textLength="125.11" lengthAdjust="spacingAndGlyphs">Inboard VMon2</text>
<path d="M1180,1462.5V1477.5" stroke="#00ffff" stroke-width="1.6"/>
<text x="1193.70" y="1447.80" font-size="14.8" font-weight="bold" fill="#000" transform="rotate(-90 1193.70 1447.80)" textLength="139.05" lengthAdjust="spacingAndGlyphs">Outboard VMon1</text>
<path d="M1192,1462.5V1477.5" stroke="#00ff00" stroke-width="1.6"/>
<text x="1205.40" y="1447.80" font-size="14.8" font-weight="bold" fill="#000" transform="rotate(-90 1205.40 1447.80)" textLength="139.05" lengthAdjust="spacingAndGlyphs">Outboard VMon2</text>
<path d="M1203,1462.5V1477.5" stroke="#ffff00" stroke-width="1.6"/>
<text x="41.20" y="1498.80" font-size="14.8" font-weight="bold" fill="#000" textLength="46.19" lengthAdjust="spacingAndGlyphs">Time:</text>
<text x="165.50" y="1498.80" font-size="14.8" font-weight="bold" text-anchor="middle" fill="#000" textLength="73.06" lengthAdjust="spacingAndGlyphs">23:45:19</text>
<text x="412.75" y="1498.80" font-size="14.8" font-weight="bold" text-anchor="middle" fill="#000" textLength="73.06" lengthAdjust="spacingAndGlyphs">23:53:22</text>
<text x="660.00" y="1498.80" font-size="14.8" font-weight="bold" text-anchor="middle" fill="#000" textLength="73.06" lengthAdjust="spacingAndGlyphs">00:01:25</text>
<text x="907.25" y="1498.80" font-size="14.8" font-weight="bold" text-anchor="middle" fill="#000" textLength="73.06" lengthAdjust="spacingAndGlyphs">00:09:28</text>
<text x="1154.50" y="1498.80" font-size="14.8" font-weight="bold" text-anchor="middle" fill="#000" textLength="73.06" lengthAdjust="spacingAndGlyphs">00:17:32</text>
<text x="41.20" y="1519.80" font-size="14.8" font-weight="bold" fill="#000" textLength="76.11" lengthAdjust="spacingAndGlyphs">Rad(km):</text>
<text x="165.50" y="1519.80" font-size="14.8" font-weight="bold" text-anchor="middle" fill="#000" textLength="56.67" lengthAdjust="spacingAndGlyphs">7413.0</text>
<text x="412.75" y="1519.80" font-size="14.8" font-weight="bold" text-anchor="middle" fill="#000" textLength="56.67" lengthAdjust="spacingAndGlyphs">7580.0</text>
<text x="660.00" y="1519.80" font-size="14.8" font-weight="bold" text-anchor="middle" fill="#000" textLength="56.67" lengthAdjust="spacingAndGlyphs">7656.1</text>
<text x="907.25" y="1519.80" font-size="14.8" font-weight="bold" text-anchor="middle" fill="#000" textLength="56.67" lengthAdjust="spacingAndGlyphs">7628.0</text>
<text x="1154.50" y="1519.80" font-size="14.8" font-weight="bold" text-anchor="middle" fill="#000" textLength="56.67" lengthAdjust="spacingAndGlyphs">7499.9</text>
<text x="41.20" y="1540.80" font-size="14.8" font-weight="bold" fill="#000" textLength="32.16" lengthAdjust="spacingAndGlyphs">Lat:</text>
<text x="165.50" y="1540.80" font-size="14.8" font-weight="bold" text-anchor="middle" fill="#000" textLength="42.33" lengthAdjust="spacingAndGlyphs">-51.5</text>
<text x="412.75" y="1540.80" font-size="14.8" font-weight="bold" text-anchor="middle" fill="#000" textLength="42.33" lengthAdjust="spacingAndGlyphs">-75.5</text>
<text x="660.00" y="1540.80" font-size="14.8" font-weight="bold" text-anchor="middle" fill="#000" textLength="42.33" lengthAdjust="spacingAndGlyphs">-73.4</text>
<text x="907.25" y="1540.80" font-size="14.8" font-weight="bold" text-anchor="middle" fill="#000" textLength="42.33" lengthAdjust="spacingAndGlyphs">-49.9</text>
<text x="1154.50" y="1540.80" font-size="14.8" font-weight="bold" text-anchor="middle" fill="#000" textLength="42.33" lengthAdjust="spacingAndGlyphs">-24.7</text>
<text x="41.20" y="1561.80" font-size="14.8" font-weight="bold" fill="#000" textLength="35.78" lengthAdjust="spacingAndGlyphs">Lon:</text>
<text x="165.50" y="1561.80" font-size="14.8" font-weight="bold" text-anchor="middle" fill="#000" textLength="52.55" lengthAdjust="spacingAndGlyphs">-110.2</text>
<text x="412.75" y="1561.80" font-size="14.8" font-weight="bold" text-anchor="middle" fill="#000" textLength="42.33" lengthAdjust="spacingAndGlyphs">-85.8</text>
<text x="660.00" y="1561.80" font-size="14.8" font-weight="bold" text-anchor="middle" fill="#000" textLength="36.23" lengthAdjust="spacingAndGlyphs">22.0</text>
<text x="907.25" y="1561.80" font-size="14.8" font-weight="bold" text-anchor="middle" fill="#000" textLength="36.23" lengthAdjust="spacingAndGlyphs">41.3</text>
<text x="1154.50" y="1561.80" font-size="14.8" font-weight="bold" text-anchor="middle" fill="#000" textLength="36.23" lengthAdjust="spacingAndGlyphs">46.0</text>
<text x="41.20" y="1582.90" font-size="14.8" font-weight="bold" fill="#000" textLength="42.44" lengthAdjust="spacingAndGlyphs">Mlat:</text>
<text x="165.50" y="1582.90" font-size="14.8" font-weight="bold" text-anchor="middle" fill="#000" textLength="42.33" lengthAdjust="spacingAndGlyphs">-43.7</text>
<text x="412.75" y="1582.90" font-size="14.8" font-weight="bold" text-anchor="middle" fill="#000" textLength="42.33" lengthAdjust="spacingAndGlyphs">-66.2</text>
<text x="660.00" y="1582.90" font-size="14.8" font-weight="bold" text-anchor="middle" fill="#000" textLength="42.33" lengthAdjust="spacingAndGlyphs">-71.7</text>
<text x="907.25" y="1582.90" font-size="14.8" font-weight="bold" text-anchor="middle" fill="#000" textLength="42.33" lengthAdjust="spacingAndGlyphs">-52.9</text>
<text x="1154.50" y="1582.90" font-size="14.8" font-weight="bold" text-anchor="middle" fill="#000" textLength="42.33" lengthAdjust="spacingAndGlyphs">-28.9</text>
<text x="41.20" y="1603.80" font-size="14.8" font-weight="bold" fill="#000" textLength="32.53" lengthAdjust="spacingAndGlyphs">Mlt:</text>
<text x="165.50" y="1603.80" font-size="14.8" font-weight="bold" text-anchor="middle" fill="#000" textLength="56.67" lengthAdjust="spacingAndGlyphs">16.570</text>
<text x="412.75" y="1603.80" font-size="14.8" font-weight="bold" text-anchor="middle" fill="#000" textLength="56.67" lengthAdjust="spacingAndGlyphs">18.272</text>
<text x="660.00" y="1603.80" font-size="14.8" font-weight="bold" text-anchor="middle" fill="#000" textLength="56.67" lengthAdjust="spacingAndGlyphs">23.265</text>
<text x="907.25" y="1603.80" font-size="14.8" font-weight="bold" text-anchor="middle" fill="#000" textLength="46.45" lengthAdjust="spacingAndGlyphs">1.931</text>
<text x="1154.50" y="1603.80" font-size="14.8" font-weight="bold" text-anchor="middle" fill="#000" textLength="46.45" lengthAdjust="spacingAndGlyphs">2.846</text>
<text x="19.80" y="1641.90" font-size="14.8" font-weight="bold" fill="#000" textLength="1223.50" lengthAdjust="spacingAndGlyphs">MGF Quicklook using MGF_20191220_000000_001731_v2.1.0.lv2 on 17-Jun-2024 22:22:30 (calibration from cas_mgf_7day_cal_2019_12_20_v2.1.mat )</text>
</svg></body></html>
